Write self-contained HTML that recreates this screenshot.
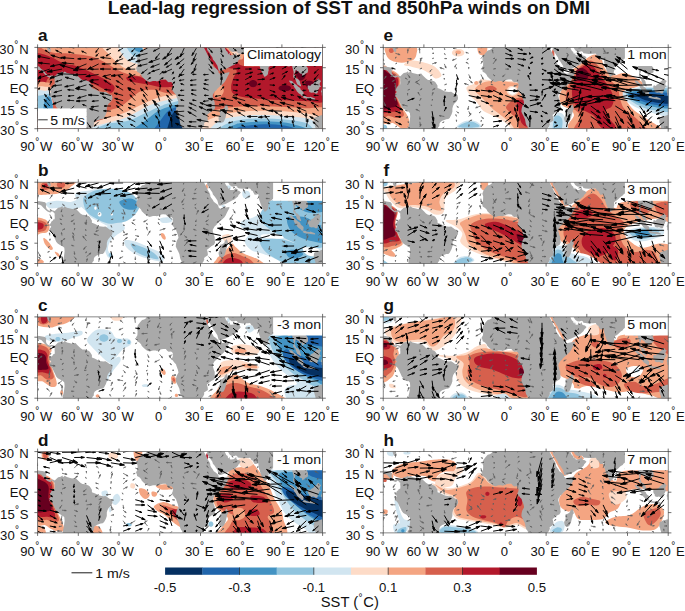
<!DOCTYPE html>
<html lang="en"><head><meta charset="utf-8"><title>Lead-lag regression of SST and 850hPa winds on DMI</title>
<style>html,body{margin:0;padding:0;background:#fff}body{width:685px;height:611px;overflow:hidden}svg{display:block}text{font-family:"Liberation Sans", Arial, Helvetica, sans-serif;fill:#111}</style>
</head><body>
<svg width="685" height="611" viewBox="0 0 685 611">
<rect width="685" height="611" fill="#fff"/>
<text x="348.8" y="14.2" text-anchor="middle" font-size="18" font-weight="bold" textLength="482.3" lengthAdjust="spacingAndGlyphs">Lead-lag regression of SST and 850hPa winds on DMI</text>
<g transform="translate(37.6,47.4)">
<svg x="0" y="0" width="285" height="81.3" viewBox="0 0 285 81.3" overflow="hidden">
<rect x="0" y="0" width="285" height="81.3" fill="#fff"/>
<path d="M-2.7,-3.5 291.7,-3.5 291.7,86.3 -2.7,86.3Z" fill="#d6604d"/>
<path d="M9.8,-2.4C-5.1,-1.2 9.5,3.4 14,4.9C18.5,6.4 30.4,5.8 37,6.5C43.6,7.2 48.8,7.8 53.7,9C58.5,10.3 62.4,12.3 66.2,14.3C70,16.2 73.2,18.6 76.6,20.5C80.1,22.4 83.6,24.5 87.1,25.7C90.6,27 94.7,27.8 97.5,27.8C100.3,27.8 102.7,30.8 103.8,25.7C104.8,20.7 119.4,2.3 103.8,-2.4C88.1,-7.1 24.8,-3.7 9.8,-2.4Z" fill="#f4a582"/>
<path d="M66.2,-2.4C60.8,-0.9 69.2,4 71.4,7C73.7,9.9 77.2,13 79.8,15.3C82.4,17.6 84.5,19.3 87.1,20.5C89.7,21.7 92.6,22.4 95.4,22.6C98.2,22.8 102.4,25.7 103.8,21.6C105.2,17.4 110,1.6 103.8,-2.4C97.5,-6.4 71.6,-4 66.2,-2.4Z" fill="#fddbc7"/>
<path d="M81.9,-2.4C78.6,-1.1 82.7,3.5 83.9,5.9C85.2,8.3 87.3,10.6 89.2,12.2C91.1,13.7 93,14.8 95.4,15.3C97.9,15.8 102.4,18.3 103.8,15.3C105.2,12.3 107.4,0.5 103.8,-2.4C100.1,-5.4 85.2,-3.8 81.9,-2.4Z" fill="#d1e5f0"/>
<path d="M89.2,-2.4C87.3,-1.2 90.9,2.9 92.3,4.9C93.7,6.8 95.6,8.3 97.5,9C99.4,9.7 102.7,11 103.8,9C104.8,7.1 106.2,-0.5 103.8,-2.4C101.3,-4.4 91.1,-3.7 89.2,-2.4Z" fill="#92c5de"/>
<path d="M95.8,-2.4C94.9,-1.5 96.6,2 97.9,3.2C99.3,4.3 102.8,5.4 103.8,4.4C104.8,3.5 105.1,-1.3 103.8,-2.4C102.5,-3.6 96.8,-3.4 95.8,-2.4Z" fill="#4393c3"/>
<path d="M-2.7,8C-0.3,3.1 7.8,8 11.9,9C16.1,10.1 19.2,12.9 22.4,14.3C25.5,15.6 28.3,16.3 30.7,17C33.1,17.6 33.5,17 37,18.2C40.5,19.4 47.2,22.1 51.6,24.1C56,26 59.6,28 63.3,29.9C66.9,31.9 71.2,34 73.5,35.8C75.8,37.5 77,38.8 77.1,40.4C77.1,42 75.5,45.2 73.7,45.4C71.9,45.6 68.8,42.9 66.2,41.6C63.6,40.3 60.3,38.5 57.9,37.4C55.4,36.4 56.1,36.6 51.6,35.3C47.1,34.1 37.3,30.8 30.7,29.9C24.1,29 15.9,28.3 11.9,29.9C7.9,31.5 9.1,37.9 6.7,39.3C4.3,40.7 -1.1,43.5 -2.7,38.3C-4.3,33 -5.1,12.9 -2.7,8Z" fill="#b2182b"/>
<path d="M89.2,29.9C90.6,29.1 96.1,28.5 99.6,28.9C103.1,29.2 105.9,31.5 110,32C114.2,32.5 120.3,31.8 124.7,32C129,32.2 134,31.9 136.1,33C138.3,34.2 139.5,37.5 137.6,38.7C135.7,39.8 128.9,40.1 124.7,39.9C120.4,39.7 116.3,38.2 112.1,37.4C108,36.7 103.1,36 99.6,35.3C96.1,34.7 93,34.6 91.3,33.7C89.5,32.8 87.8,30.7 89.2,29.9Z" fill="#b2182b"/>
<path d="M62,82.1C63.4,79.3 64.7,72.7 66.2,69.6C67.7,66.5 67.8,65.4 70.8,63.5C73.8,61.7 79.8,60.9 83.9,58.5C88.1,56.1 92.3,51.6 95.6,49.1C98.9,46.6 100.3,44.6 103.8,43.5C107.2,42.4 112.1,42.1 116.3,42.4C120.5,42.8 124,44.7 128.8,45.6C133.7,46.4 140.7,47.1 145.5,47.7C150.4,48.2 156,42.3 158.1,48.7C160.1,55.1 174.8,80 158.1,86.3C141.4,92.5 73.9,87 57.9,86.3C41.8,85.6 60.6,84.9 62,82.1Z" fill="#f4a582"/>
<path d="M54.7,82.1C55.1,80.3 51.3,77.8 56.2,75.2C61.1,72.6 75.7,69.8 83.9,66.7C92.2,63.5 99.8,59.1 105.9,56.4C112,53.7 116,51.7 120.5,50.4C125,49 126.7,48.4 133,48.3C139.3,48.2 153.9,43.4 158.1,49.7C162.2,56.1 175.5,80.2 158.1,86.3C140.7,92.4 70.9,87 53.7,86.3C36.5,85.6 54.3,83.9 54.7,82.1Z" fill="#fddbc7"/>
<path d="M54.1,86.3C37,85.2 49.9,82.2 55.3,79.6C60.8,77 77.6,74.2 87.1,70.6C96.5,67 104.3,61 111.9,57.9C119.6,54.8 125.3,53.2 133,52C140.7,50.9 153.9,45.5 158.1,51.2C162.2,56.9 175.4,80.4 158.1,86.3C140.7,92.1 71.2,87.4 54.1,86.3Z" fill="#d1e5f0"/>
<path d="M62,86.3C46.8,84.8 61.5,79.7 66.4,77.5C71.3,75.3 84.2,75.2 91.3,73.1C98.3,71.1 103.4,67.6 108.8,65.2C114.1,62.8 119,60.2 123.4,58.5C127.8,56.8 129.3,55.8 135.1,55C140.9,54.1 154.2,48.1 158.1,53.3C161.9,58.5 174.1,80.8 158.1,86.3C142.1,91.8 77.3,87.7 62,86.3Z" fill="#92c5de"/>
<path d="M93.3,86.3C82.9,85.5 93.1,84.2 95.6,81.9C98.2,79.6 104.6,75.6 108.8,72.5C112.9,69.4 116.4,65.9 120.5,63.5C124.6,61.2 130,59.5 133.4,58.5C136.8,57.5 136.6,57.9 140.7,57.7C144.8,57.4 155.2,52.3 158.1,57.1C160.9,61.8 168.8,81.4 158.1,86.3C147.3,91.1 103.7,87 93.3,86.3Z" fill="#4393c3"/>
<path d="M114.2,86.3C107.2,85.7 114.4,84.8 115.9,82.5C117.4,80.2 120.8,75.7 123.2,72.5C125.6,69.3 128.1,65.6 130.5,63.5C132.9,61.4 135.9,60.5 137.8,60C139.8,59.5 138.8,60.4 142.2,60.6C145.6,60.8 155.4,56.9 158.1,61.2C160.7,65.5 165.4,82.1 158.1,86.3C150.8,90.5 121.2,86.9 114.2,86.3Z" fill="#2166ac"/>
<path d="M127.8,86.3C124.4,85.7 128.3,85.3 129.2,82.5C130.2,79.7 132,72.7 133.4,69.6C134.8,66.4 136.1,64.2 137.8,63.5C139.5,62.8 141.6,63.4 143.4,65.4C145.3,67.5 147.6,72.4 148.7,75.8C149.7,79.3 153.2,84.5 149.7,86.3C146.2,88 131.2,86.9 127.8,86.3Z" fill="#053061"/>
<path d="M-2.7,37.2C-0.6,32.5 7.3,34.8 9.8,35.1C12.4,35.5 12.1,34.6 12.8,39.3C13.5,44 16.6,59.3 14,63.3C11.4,67.3 0.1,67.7 -2.7,63.3C-5.5,59 -4.8,41.9 -2.7,37.2Z" fill="#f4a582"/>
<path d="M-2.7,41.4C-0.8,37.4 6.2,39.1 8.8,39.3C11.4,39.5 11.9,38.4 12.8,42.4C13.6,46.4 16.6,59.8 14,63.3C11.4,66.8 0.1,67 -2.7,63.3C-5.5,59.7 -4.6,45.4 -2.7,41.4Z" fill="#fddbc7"/>
<path d="M-2.7,44.9C-0.9,41.6 5.2,43.5 7.8,43.5C10.3,43.5 11.7,41.6 12.8,44.9C13.8,48.2 16.6,60.3 14,63.3C11.4,66.4 0.1,66.4 -2.7,63.3C-5.5,60.3 -4.4,48.2 -2.7,44.9Z" fill="#d1e5f0"/>
<path d="M-2.7,50.8C-1.3,48.2 3.1,48.2 5.7,47.7C8.2,47.1 11.3,45 12.8,47.7C14.2,50.3 17,60.7 14.4,63.3C11.9,65.9 0.2,65.4 -2.7,63.3C-5.5,61.2 -4.1,53.4 -2.7,50.8Z" fill="#92c5de"/>
<path d="M6.3,63.3C5.1,61.4 6.7,54.1 7.8,51.8C8.8,49.6 11.5,47.8 12.8,49.7C14,51.7 16.1,61.1 15.1,63.3C14,65.6 7.5,65.2 6.3,63.3Z" fill="#4393c3"/>
<path d="M165.4,-2.4C171.1,-3.7 198.4,-5.9 205,-2.4C211.6,1 191.1,15 205,18.4C218.9,21.9 274.6,12.8 288.5,18.4C302.4,24.1 292,46.6 288.5,52.5C285.1,58.3 274.6,53.6 267.7,53.7C260.7,53.8 253.7,53.2 246.8,52.9C239.8,52.5 232.9,52.2 225.9,51.6C218.9,51.1 210.1,50.4 205,49.5C200,48.6 197.5,47.9 195.6,46.2C193.7,44.5 193.5,41.8 193.5,39.3C193.5,36.8 194.7,33.6 195.6,31C196.6,28.3 199.4,25.3 199.2,23.7C199,22 197.1,21.8 194.6,21.1C192.1,20.5 186.9,21.1 184.2,19.5C181.4,17.8 180.2,13.6 177.9,11.1C175.6,8.7 172.7,7.1 170.6,4.9C168.5,2.6 159.6,-1.2 165.4,-2.4Z" fill="#b2182b"/>
<path d="M163.3,-2.4 173.7,-2.4 187.3,21.6 180,23.7Z" fill="#b2182b"/>
<path d="M187.3,-2.4C189.5,-3.5 202.1,-4.8 205,-2.4C208,-0.1 206.6,9.6 205,11.5C203.5,13.5 197.9,10.7 195.6,9.5C193.4,8.2 192.9,5.8 191.5,3.8C190.1,1.8 185,-1.4 187.3,-2.4Z" fill="#f4a582"/>
<path d="M191.5,-2.4C192.9,-3.8 202.1,-4 204,-2.4C205.9,-0.9 204.3,5.6 202.9,7C201.5,8.3 197.5,7.5 195.6,5.9C193.7,4.3 190.1,-1.1 191.5,-2.4Z" fill="#fddbc7"/>
<path d="M178.3,39.3C179.4,37.4 181.8,36.5 183.1,37.2C184.4,37.9 186.4,41.4 186.2,43.5C186.1,45.6 183.6,48.9 182.1,49.7C180.5,50.6 177.5,50.4 176.8,48.7C176.2,47 177.3,41.2 178.3,39.3Z" fill="#f4a582"/>
<path d="M219.6,36.2C219.6,36.9 219.3,37.7 218.8,38.3C218.4,38.8 217.5,39.3 216.8,39.6C216,39.8 215,39.8 214.2,39.6C213.4,39.3 212.6,38.8 212.1,38.3C211.6,37.7 211.3,36.9 211.3,36.2C211.3,35.5 211.6,34.7 212.1,34.1C212.6,33.5 213.4,33 214.2,32.8C215,32.6 216,32.6 216.8,32.8C217.5,33 218.4,33.5 218.8,34.1C219.3,34.7 219.6,35.5 219.6,36.2Z" fill="#67001f"/>
<path d="M253.5,40.8C253.5,41.4 253,42.1 252.3,42.6C251.5,43.1 250.3,43.6 249.1,43.7C248,43.9 246.4,43.9 245.3,43.7C244.1,43.6 242.9,43.1 242.1,42.6C241.4,42.1 240.9,41.4 240.9,40.8C240.9,40.2 241.4,39.4 242.1,38.9C242.9,38.4 244.1,38 245.3,37.8C246.4,37.6 248,37.6 249.1,37.8C250.3,38 251.5,38.4 252.3,38.9C253,39.4 253.5,40.2 253.5,40.8Z" fill="#67001f"/>
<path d="M258.3,21.6C259.4,20.3 264,19.1 265.6,20.5C267.1,21.9 268.2,27.8 267.7,29.9C267.1,32 263.9,33.4 262.4,33C261,32.7 259.6,29.7 258.9,27.8C258.2,25.9 257.1,22.8 258.3,21.6Z" fill="#67001f"/>
<path d="M267.7,34.1C268.5,32.9 274.3,33.5 276,34.5C277.7,35.6 279,39.2 278.1,40.4C277.2,41.5 272.5,42.4 270.8,41.4C269,40.4 266.8,35.2 267.7,34.1Z" fill="#67001f"/>
<path d="M163.3,68.5C164.3,65.1 166.1,67 169.5,65.8C173,64.6 178.2,62.3 184.2,61.2C190.1,60.1 198.1,59.5 205,59.1C212,58.8 218.9,58.9 225.9,58.9C232.9,59 239.8,59.2 246.8,59.6C253.7,59.9 260.7,60.4 267.7,60.8C274.6,61.2 285.1,57.6 288.5,61.9C292,66.1 309.4,82.2 288.5,86.3C267.7,90.3 184.2,89.2 163.3,86.3C142.4,83.3 162.2,71.9 163.3,68.5Z" fill="#f4a582"/>
<path d="M163.3,76.3C164,74.2 164,75.2 167.5,73.8C170.9,72.3 177.9,69.1 184.2,67.5C190.4,65.9 198.1,64.8 205,64.2C212,63.5 218.9,63.4 225.9,63.3C232.9,63.3 239.8,63.5 246.8,63.9C253.7,64.4 262.1,65.1 267.7,65.8C273.2,66.6 276.7,67.7 280.2,68.5C283.7,69.3 287.1,67.7 288.5,70.6C289.9,73.6 309.4,83.7 288.5,86.3C267.7,88.9 184.2,87.9 163.3,86.3C142.4,84.6 162.6,78.3 163.3,76.3Z" fill="#fddbc7"/>
<path d="M169.5,86.3C150.9,85.6 169.2,84.5 171.6,82.1C174.1,79.7 178.6,74.3 184.2,72.1C189.7,69.8 198.1,69.3 205,68.5C212,67.8 218.9,67.5 225.9,67.5C232.9,67.5 239.8,68 246.8,68.5C253.7,69.1 262.4,69.6 267.7,70.6C272.9,71.7 275.6,72.9 278.1,74.8C280.6,76.7 281.8,80.2 282.7,82.1C283.6,84 302.4,85.6 283.5,86.3C264.7,87 188.2,87 169.5,86.3Z" fill="#d1e5f0"/>
<path d="M178.3,86.3C162.1,85.6 178,83.8 180,82.1C182,80.4 186.2,77.5 190.4,75.8C194.6,74.2 199.1,72.9 205,72.1C210.9,71.3 218.9,71 225.9,71C232.9,71 239.8,71.4 246.8,72.1C253.7,72.8 262.8,73.8 267.7,75.4C272.5,77.1 274.4,80.3 276,82.1C277.6,83.9 293.5,85.6 277.3,86.3C261,87 194.5,87 178.3,86.3Z" fill="#92c5de"/>
<path d="M185.8,86.3C171.9,85.6 185.5,83.6 187.3,82.1C189.1,80.6 193.7,78.6 196.7,77.5C199.6,76.4 200.2,76 205,75.4C209.9,74.8 218.9,74 225.9,74C232.9,73.9 240.5,74.2 246.8,75C253,75.8 259.7,77.8 263.5,79C267.3,80.2 268.5,80.9 269.7,82.1C271,83.3 285,85.6 271,86.3C257,87 199.8,87 185.8,86.3Z" fill="#4393c3"/>
<path d="M195,86.3C184.4,85.6 195,83.4 196.7,82.1C198.3,80.9 200.2,79.6 205,78.8C209.9,77.9 218.9,77 225.9,76.9C232.9,76.8 241.2,77.3 246.8,78.1C252.3,79 257,80.7 259.3,82.1C261.6,83.5 271.3,85.6 260.6,86.3C249.8,87 205.7,87 195,86.3Z" fill="#2166ac"/>
<path d="M17.2,28.9 19.7,26.3 20.6,25.6 23.1,25.1 24.8,23.8 25.4,25.7 27.1,24.1 29.3,25.5 32.6,26.3 34.6,26.8 38,26.2 39.4,27.8 40.7,29.1 42.8,31.2 44.8,32.5 47.5,32.7 50.9,33.9 52.2,34.8 54.3,38.2 54.3,40.6 57,41.6 61.8,44 65.8,44.6 67.9,44.4 69.9,45.7 71.9,47.2 74.2,47.7 74.9,50.3 74.6,52.2 72.6,54.9 71.2,56.2 69.9,58.3 69.2,61 69.2,64.4 68.3,67.1 67.2,69.1 66.5,70.5 65.1,71.7 63.1,71.8 61.1,72.6 59,73.4 57,74.9 56.2,76.6 56.2,78.6 55,79.9 54,82 25.1,82 25.4,78.6 26.1,75.9 26.6,72.5 27,69.1 26.7,65.6 25.2,64.2 22.4,62.7 20.1,61.4 18.6,59.5 17.4,56.9 16,54.2 14.9,51.6 13.7,50 11.9,48.8 11.8,46.7 13.2,45.3 13.6,44 12.3,43.6 12.3,42 13.4,40.6 13.6,39.6 15.1,38.6 15.6,37.3 17,37.1 17.2,35.2 17,33.2 17.1,31.2 16.4,30.8 15.7,29.8 14.2,29 12.9,30.4 11.5,30.1 9.5,29.1 7.5,27.4 6,25.7 3.7,23.2 2,22.6 -1.4,22.2 -1.4,18.7 2,19.1 4.8,19.5 7.5,20.1 8.7,21.7 8.4,24.4 8.7,26 10,27.6 11.5,28.5 13.6,28.2 14.9,28 16.3,28.5Z M9.2,-0.7 9.8,2 11.1,4.3 12.8,4.6 13.2,2 12.2,-0.7Z M109,-0.7 108.6,1.4 106.5,2.7 104.5,3.1 102.5,5.4 100.4,8.1 99.1,11.5 100,14.2 99.8,18.3 98.4,20.7 99.3,23 99.5,24.4 101.8,25.7 103.4,27.4 104.2,29.1 106.5,31.3 109.2,33.5 112,34.7 115.4,33.7 118.1,33.7 119.4,34.1 122.1,33.1 123.8,32.4 125.5,32.1 128.2,32.2 129.6,33.9 131,34.8 133,34.6 134.4,35.2 135.3,36.6 135.2,39.3 134.8,40.6 134.1,41.6 135,43.4 137.1,46.1 138.4,47.4 138.8,48.9 139.8,51.5 140.3,52.8 140.9,55.6 139.1,58.9 138.4,61.7 138.2,64.4 139.1,66.4 140.5,69.1 141.8,71.8 142.5,75.9 143.2,77.9 144.5,79.5 145.2,82 164.2,82 164.2,81.2 165.6,79.7 166.7,77.2 166.4,75.7 168.3,74.4 170.3,73 170.1,70.5 169.6,68.4 169.4,67.5 171.7,65.7 173.7,64 176.4,62.6 177.5,60.3 177.1,57.6 177.1,54.9 176.2,52.8 175.5,50.1 175.1,48.8 175.3,47 176,46.1 177.1,44 178.5,43.1 179.8,41.3 181.9,39.3 183.9,37.8 186.6,35.2 188,33.2 189.3,30.5 190.7,27.8 191.6,26.4 191.8,24.7 190,25.1 187.3,25.5 184.6,26.2 182.5,26.6 180.9,25.1 180.8,23.7 179.8,22.4 177.8,20.7 176.2,19.6 175.1,17.6 173.7,15.9 172.8,14.2 172.6,12.2 171.7,10.2 170.3,8.1 169,5.4 168,3.4 166.4,0.3 166.2,-0.7Z M169.6,-0.7 169.5,0.7 169.6,2.7 171.7,5.4 173,7.7 174.8,10.2 175.3,12.2 177.1,14.2 178.5,16.3 179.8,18.3 180.5,21 181.2,23.4 183.2,23.3 185.9,22.4 188,21.7 190.7,20.3 193,19 194.8,18 196.8,17.3 198.8,15.6 200.4,14.2 200.9,12.9 202.2,11.5 203.3,10.2 201.7,8.7 199.5,8.1 198.7,6.8 198.6,5 198.1,5.8 196.1,7.7 193.4,7.9 192.2,7.7 192.2,6.1 191.6,5.3 191.1,6.8 190.3,5.8 190.1,4.5 188.6,3.4 188,2 187.3,0.7 188,-0.7Z M190,-0.7 191.1,1.4 192,2.8 194.1,4.3 196.1,4.6 198.1,3.9 199.5,4.3 200.2,5.8 202.2,6.2 205.6,6.5 208.3,6.4 210.4,6.4 212.4,6.2 213.1,7 213.8,8.4 215.1,8.9 215.8,10.3 217.1,12.5 219.9,12.2 220.5,11.2 220.9,12.9 220.9,14.9 221.6,17.6 222.3,19.6 223.2,22.4 224.3,24.8 225.6,27.1 226.4,28.9 227.3,29.7 228.3,28.7 229.4,28 230.4,26.7 230.6,24.4 231.1,22.9 230.8,20.3 231.8,19.2 233.8,18 235.5,16.5 237.5,14.5 239.5,13.3 240.2,12.2 241.6,11.2 242.9,11 245,10.4 246.3,10.2 247,12.2 248.1,13.6 249.4,14.9 250.1,16.3 250.3,18.3 250.1,19.1 251.8,19.2 253.5,18.2 254.5,18.3 254.9,20.3 255.4,22.4 256,24.4 256,26.4 255.6,28.5 255.6,29.8 256.5,30.5 257.9,31.8 258.4,33.9 258.9,35.2 259.6,36.9 261.2,37.9 262.6,38.8 263.6,38.8 263.3,37.3 262.5,35.9 262.5,34.6 261.7,33.1 260.8,32.2 259.9,31.3 258.5,30.8 257.9,29.1 257.2,28 256.9,26.4 257.6,24.7 257.9,23 258.5,22.4 259.2,23.4 261,24.1 261.9,25.7 263.3,26.4 264.4,26.6 264.6,28.9 266.7,27.5 267.6,26.4 270.1,25.1 270.5,23 270.1,20.3 269.1,19 267.4,17.6 266,15.6 265.7,14.2 266.9,12.9 268.7,11.5 270.8,11.5 271.4,13 272.1,11.9 274.1,11.1 276.9,10.3 279.6,9.6 281.6,8.4 283,7.2 284.3,5.8 285.7,4.7 285.7,-0.7Z M251.5,33.1 254.5,33.6 255.6,35 257.6,36.6 258.9,37.7 260.6,39.3 262.6,40.6 263,42 264,43.1 265.3,44 266,45 265.9,46.7 265.7,48.5 264.1,48.5 263.3,47.3 261,45.9 259.2,43.9 258.3,42 256.8,40.2 256.1,38.3 254.7,37.3 253.1,35.8 251.8,34.3Z M264.9,49.9 266,48.6 267.4,48.6 269.4,49.6 272.1,49.9 272.8,49.3 274.8,50 277.5,51.1 277.5,52.4 274.8,52 271.4,51.5 268.7,51.2 266.7,50.7Z M270.1,38.6 270.8,37.9 272.8,38.5 273.3,37.3 275.5,36.3 276.9,34.6 278.9,33.2 280.2,31.4 281.3,31.4 281.9,32.5 283.6,33.6 282.6,34.8 282,36.6 282.3,37.9 283.6,39.3 282,39.6 281.6,41.3 280.2,42.7 280.2,44.7 279.6,46.1 277.7,46.1 276.9,45.3 275.5,45 273.9,45.4 271.7,44.6 271.4,42.7 270.3,41.3 270.1,40Z M284.1,48.1 285.7,48.1 285.7,39.3 284.7,40 284.3,42 283.4,44.4 284.1,45.4Z M285.7,67.6 283.6,67.8 281.6,68.7 279.6,69 278.2,69.8 277,70.2 276.4,71.3 276.2,73.2 276,74.5 276.9,76.6 277.1,77.9 277.7,79.7 278.2,82 285.7,82Z M189.1,56.9 190,58.9 190.7,61.7 189.6,63 189.3,65 188.6,67.1 188,69.8 187,72.5 185.9,74.5 183.9,75.3 181.9,74.5 181.2,72.5 180.9,70.5 181.9,68.4 182.5,66.4 181.9,64.4 182.5,62.6 184.6,62.1 186.6,60.7 187.3,58.9 188.4,57.6Z" fill="#a9a9a9"/>
<path d="M2,18C3.1,17.6 8.1,17.1 9.5,18.6C10.9,20.2 10.8,26 10.6,27.3C10.4,28.6 9,26.9 8.3,26.2C7.6,25.5 7.2,24.3 6.3,23.4C5.4,22.5 3.6,21.7 2.9,20.8C2.2,19.9 0.9,18.4 2,18Z" fill="#b2182b"/>
<path d="M0,0.7l-3.6,-3.2m0.4,-0.5l-2.2,-1.1l1.3,2zM0,5.9l-3.8,-0.7m0.1,-0.6l-2,0.2l1.7,1zM0,11.2l-7,-0.4m0.1,-0.9l-3.5,0.7l3.4,1.1zM0,16.5l-6.5,0m0,-0.8l-3.2,0.8l3.2,0.8zM0,21.7l-7,-0.2m0,-0.9l-3.5,0.8l3.4,1zM0,27l-9,-0.2m0,-1.2l-4.5,1l4.4,1.3zM0,32.3l2.3,-2.6m0.4,0.4l0.7,-1.7l-1.6,0.9zM0,37.5l1.5,-3.2m0.5,0.3l0.2,-1.8l-1.3,1.3zM0,42.8l1.2,-1.2m0.4,0.4l0.7,-1.6l-1.6,0.7zM0,48.1l-3.6,-5.3m0.7,-0.5l-2.4,-2.1l1.1,3.1zM0,53.3l-2.2,-5.2m0.7,-0.3l-1.8,-2.3l0.4,2.9zM0,58.6l-2.2,-6.1m0.8,-0.3l-1.9,-2.7l0.3,3.3zM0,63.8l-2.9,-4.6m0.6,-0.4l-2,-1.9l0.8,2.6zM0,69.1l-0.5,-6.5m0.8,-0.1l-1.1,-3.2l-0.6,3.3zM0,74.4l-0.7,-4.2m0.6,-0.1l-0.9,-2l-0.2,2.2zM0,79.6l-4,-5.1m0.6,-0.5l-2.6,-2l1.3,3zM12.2,0.7l-3.5,-1.4m0.2,-0.6l-1.9,-0.1l1.5,1.2zM12.2,5.9l-3.2,-2.1m0.3,-0.5l-1.9,-0.6l1.3,1.6zM12.2,11.2l-9.7,-1.9m0.2,-1.2l-5,0.3l4.5,2.2zM12.2,16.5l-7.7,-0.7m0.1,-1l-3.9,0.6l3.7,1.3zM12.2,21.7l-7.3,2.4m-0.3,-0.9l-3.3,2.1l3.9,-0.2zM12.2,27l-9.4,3.1m-0.4,-1.2l-4.2,2.7l5,-0.3zM12.2,32.3l1.2,-1.7m0.5,0.3l0.4,-1.6l-1.4,1zM12.2,37.5l1,-2.5m0.6,0.2l0.1,-1.7l-1.2,1.2zM12.2,42.8l2.4,-2.9m0.5,0.4l0.7,-1.8l-1.7,1zM12.2,48.1l-0.5,-5.6m0.7,-0.1l-1,-2.7l-0.5,2.8zM12.2,53.3l-3.5,-4.3m0.5,-0.5l-2.3,-1.7l1.2,2.6zM12.2,58.6l-3.9,-4.6m0.6,-0.5l-2.5,-1.8l1.3,2.8zM12.2,63.8l-3.9,-4.4m0.6,-0.5l-2.5,-1.7l1.4,2.7zM12.2,69.1l-1.9,-4.2m0.5,-0.2l-1.5,-1.8l0.4,2.3zM12.2,74.4l-2,-4.6m0.6,-0.3l-1.6,-2l0.4,2.5zM12.2,79.6l-0.7,-4.4m0.6,-0.1l-1,-2.1l-0.2,2.3zM24.4,0.7l-4.2,-0.9m0.1,-0.6l-2.2,0.1l1.9,1zM24.4,5.9l-4.3,-2m0.3,-0.6l-2.4,-0.5l1.9,1.6zM24.4,11.2l-7.6,-2.4m0.3,-1l-4,-0.2l3.4,2.2zM24.4,16.5l-7.9,1.7m-0.2,-1l-3.7,1.8l4.1,0.2zM24.4,21.7l-10.1,1.9m-0.2,-1.3l-4.7,2.2l5.2,0.4zM24.4,27l-8.1,2.5m-0.3,-1l-3.7,2.3l4.3,-0.2zM24.4,32.3l-4.3,1.4m-0.2,-0.6l-1.9,1.3l2.3,-0.1zM24.4,37.5l-6.2,0.6m-0.1,-0.8l-3,1.1l3.1,0.5zM24.4,42.8l-5.5,1.6m-0.2,-0.7l-2.5,1.5l2.9,-0.1zM24.4,48.1l-6.8,0.7m-0.1,-0.9l-3.3,1.2l3.5,0.6zM24.4,53.3l-6.3,2.4m-0.3,-0.8l-2.8,2l3.4,-0.4zM24.4,58.6l-1,2.9m-0.6,-0.2l0,1.7l1.1,-1.3zM24.4,63.8l-1.6,2.8m-0.5,-0.3l-0.3,1.7l1.3,-1.1zM24.4,69.1l-2.5,2.6m-0.4,-0.4l-0.8,1.7l1.7,-0.9zM24.4,74.4l-1.7,4.4m-0.6,-0.2l-0.3,2.4l1.4,-1.9zM24.4,79.6l-3.6,-0.5m0.1,-0.6l-1.9,0.3l1.7,0.8zM36.6,0.7l-4.1,-1.1m0.2,-0.6l-2.2,0l1.9,1.1zM36.6,5.9l-4,-0.9m0.1,-0.6l-2.1,0.1l1.8,1zM36.6,11.2l-9.1,-0.7m0.1,-1.2l-4.6,0.8l4.4,1.5zM36.6,16.5l-8.3,-0.8m0.1,-1.1l-4.2,0.7l4,1.5zM36.6,21.7l-9.8,-3m0.4,-1.2l-5.2,-0.2l4.4,2.7zM36.6,27l-11.6,-0.5m0.1,-1.3l-5.1,1.1l4.9,1.5zM36.6,32.3l-6.1,-1.7m0.2,-0.8l-3.2,0l2.8,1.6zM36.6,37.5l-6.4,1.3m-0.2,-0.8l-3,1.4l3.3,0.2zM36.6,42.8l-4.4,-0.3m0,-0.6l-2.2,0.4l2.1,0.8zM36.6,48.1l-4.1,0.4m-0.1,-0.6l-2,0.8l2.1,0.4zM36.6,53.3l-4.7,-0.3m0,-0.6l-2.3,0.5l2.3,0.7zM36.6,58.6l-2.6,2.5m-0.4,-0.4l-0.9,1.7l1.7,-0.8zM36.6,63.8l-2.5,3.3m-0.5,-0.4l-0.7,2l1.7,-1.2zM36.6,69.1l-1.6,2.2m-0.5,-0.4l-0.5,1.6l1.4,-0.9zM36.6,74.4l2.2,4.1m-0.5,0.3l1.6,1.8l-0.5,-2.3zM36.6,79.6l1.6,3.8m-0.6,0.2l1.3,1.7l-0.2,-2.1zM48.9,0.7l-3.1,-3.4m0.4,-0.4l-1.9,-1.2l1.1,2.1zM48.9,5.9l-3.3,-1.5m0.3,-0.5l-1.9,-0.2l1.4,1.3zM48.9,11.2l-6,0.2m0,-0.8l-2.9,0.9l3,0.7zM48.9,16.5l-8,3.3m-0.4,-1l-3.5,2.7l4.4,-0.6zM48.9,21.7l-9,0.8m-0.1,-1.2l-4.3,1.5l4.5,0.8zM48.9,27l-9,0.4m-0.1,-1.1l-4.4,1.4l4.5,0.9zM48.9,32.3l-4.7,1.5m-0.2,-0.6l-2.1,1.3l2.5,-0.1zM48.9,37.5l-7,2.3m-0.3,-0.9l-3.2,2l3.8,-0.2zM48.9,42.8l-7.5,-1.1m0.1,-1l-3.8,0.4l3.5,1.5zM48.9,48.1l-6.2,1.9m-0.2,-0.8l-2.8,1.7l3.3,-0.2zM48.9,53.3l-7,0.3m0,-0.9l-3.4,1l3.5,0.8zM48.9,58.6l-2.5,-0.9m0.2,-0.6l-1.7,0l1.3,1.1zM48.9,63.8l-3.2,-0.6m0.1,-0.6l-1.7,0.3l1.5,0.9zM48.9,69.1l-3.1,0.9m-0.2,-0.6l-1.4,1l1.7,0.1zM48.9,74.4l2.9,4m-0.5,0.4l1.9,1.6l-0.9,-2.4zM48.9,79.6l1.1,3.3m-0.6,0.2l1.1,1.4l0,-1.8zM61.1,0.7l-2,2.9m-0.5,-0.3l-0.5,1.8l1.5,-1.1zM61.1,5.9l-1.8,1.8m-0.4,-0.4l-0.7,1.6l1.6,-0.7zM61.1,11.2l-6.5,0.6m-0.1,-0.8l-3.1,1.1l3.3,0.6zM61.1,16.5l-7.5,3.8m-0.5,-1l-3.2,2.8l4.2,-0.9zM61.1,21.7l-5.5,0.2m0,-0.7l-2.7,0.8l2.7,0.6zM61.1,27l-8.6,1.4m-0.2,-1.1l-4.1,1.8l4.4,0.4zM61.1,32.3l-5.6,0.3m0,-0.7l-2.7,0.9l2.8,0.6zM61.1,37.5l-6.1,-2.6m0.3,-0.8l-3.4,-0.5l2.7,2.1zM61.1,42.8l-6.4,-3.9m0.5,-0.8l-3.6,-1.1l2.6,2.7zM61.1,48.1l-7.1,-0.4m0,-0.9l-3.5,0.7l3.5,1.1zM61.1,53.3l-4.5,0.4m-0.1,-0.6l-2.2,0.8l2.3,0.4zM61.1,58.6l-5.3,0.7m-0.1,-0.7l-2.5,1l2.7,0.4zM61.1,63.8l-6.1,-1.7m0.2,-0.8l-3.2,0l2.8,1.6zM61.1,69.1l-3,3.4m-0.4,-0.4l-1,2.1l1.9,-1.3zM61.1,74.4l-3,3m-0.4,-0.4l-1,1.9l1.9,-1.1zM61.1,79.6l-2.1,2m-0.4,-0.4l-0.8,1.5l1.6,-0.7zM73.3,0.7l-3,1.3m-0.2,-0.6l-1.2,1.2l1.7,-0.1zM73.3,5.9l-3.3,1.8m-0.3,-0.5l-1.3,1.4l1.9,-0.4zM73.3,11.2l-7,-0.9m0.1,-0.9l-3.5,0.5l3.3,1.3zM73.3,16.5l-6.1,0.1m0,-0.8l-3,0.8l3,0.7zM73.3,21.7l-7.3,-0.1m0,-0.9l-3.6,0.9l3.6,1zM73.3,27l-5.5,1.4m-0.2,-0.7l-2.5,1.4l2.9,0zM73.3,32.3l-4.2,-1.7m0.2,-0.6l-2.3,-0.3l1.8,1.4zM73.3,37.5l-4.7,-3.2m0.4,-0.6l-2.7,-1l1.9,2.2zM73.3,42.8l-4.3,-0.5m0.1,-0.6l-2.2,0.4l2.1,0.8zM73.3,48.1l-7.4,-1.7m0.2,-0.9l-3.8,0.1l3.4,1.8zM73.3,53.3l-5.5,-2.7m0.3,-0.7l-3.1,-0.6l2.4,2zM73.3,58.6l-4.6,0m0,-0.6l-2.3,0.6l2.3,0.6zM73.3,63.8l-5,-0.3m0,-0.6l-2.5,0.5l2.4,0.8zM73.3,69.1l-4.6,1.2m-0.2,-0.6l-2.1,1.2l2.4,0zM73.3,74.4l-2.7,2.5m-0.4,-0.4l-0.9,1.7l1.7,-0.8zM73.3,79.6l-4.1,1.4m-0.2,-0.6l-1.8,1.3l2.2,-0.1zM85.5,0.7l-3.4,2m-0.3,-0.5l-1.4,1.5l2,-0.5zM85.5,5.9l-2.4,3.1m-0.5,-0.4l-0.7,1.9l1.7,-1.1zM85.5,11.2l-5.2,2m-0.3,-0.7l-2.3,1.7l2.8,-0.3zM85.5,16.5l-6.8,-0.3m0,-0.9l-3.4,0.7l3.3,1zM85.5,21.7l-6.9,0m0,-0.9l-3.4,0.9l3.4,0.9zM85.5,27l-8.1,1m-0.1,-1l-3.9,1.5l4.1,0.6zM85.5,32.3l-3.2,-3m0.4,-0.4l-2,-1l1.1,1.9zM85.5,37.5l-4.6,-2.9m0.4,-0.6l-2.7,-0.9l1.9,2zM85.5,42.8l-4.9,-3m0.4,-0.6l-2.8,-0.8l2,2.1zM85.5,48.1l-6,-1.6m0.2,-0.8l-3.2,0l2.7,1.6zM85.5,53.3l-5.7,-1.6m0.2,-0.7l-3,-0.1l2.6,1.5zM85.5,58.6l-4.6,-3m0.4,-0.6l-2.7,-0.9l1.9,2.1zM85.5,63.8l-4.5,-3.8m0.5,-0.6l-2.7,-1.3l1.7,2.5zM85.5,69.1l-4.2,-1.2m0.2,-0.6l-2.2,0l1.9,1.2zM85.5,74.4l-4.2,-0.6m0.1,-0.6l-2.2,0.3l2,0.9zM85.5,79.6l-3.4,-2.9m0.4,-0.5l-2.1,-1l1.3,1.9zM97.7,0.7l-2.5,2.4m-0.4,-0.4l-0.8,1.6l1.6,-0.8zM97.7,5.9l-2.9,4.2m-0.5,-0.4l-0.9,2.4l2,-1.7zM97.7,11.2l-5,1.3m-0.2,-0.6l-2.3,1.3l2.6,0zM97.7,16.5l-6.3,3.8m-0.5,-0.8l-2.6,2.7l3.6,-1.1zM97.7,21.7l-5.2,0.1m0,-0.7l-2.5,0.7l2.6,0.6zM97.7,27l-4.9,2m-0.3,-0.6l-2.2,1.6l2.7,-0.3zM97.7,32.3l-4.2,-4.4m0.6,-0.5l-2.6,-1.7l1.5,2.7zM97.7,37.5l-3.8,-3.9m0.5,-0.5l-2.4,-1.4l1.4,2.4zM97.7,42.8l-4.8,-1.6m0.2,-0.6l-2.6,-0.2l2.1,1.4zM97.7,48.1l-5.1,-5.1m0.7,-0.7l-3.2,-1.9l1.9,3.2zM97.7,53.3l-3.7,-4m0.5,-0.5l-2.3,-1.5l1.3,2.4zM97.7,58.6l-4.6,-1.6m0.2,-0.6l-2.5,-0.2l2,1.4zM97.7,63.8l-4.8,-2.6m0.3,-0.6l-2.7,-0.7l2,1.9zM97.7,69.1l-5.5,-2m0.3,-0.7l-3,-0.3l2.5,1.7zM97.7,74.4l-5.2,-2.6m0.3,-0.7l-2.9,-0.6l2.2,2zM97.7,79.6l-3.3,-1.9m0.3,-0.5l-1.9,-0.4l1.3,1.5zM109.9,0.7l-4.9,2.3m-0.3,-0.6l-2.1,1.7l2.7,-0.5zM109.9,5.9l-7.8,1.9m-0.2,-1l-3.6,1.9l4.1,0.1zM109.9,11.2l-7.9,2.1m-0.3,-1l-3.6,2.1l4.2,0zM109.9,16.5l-6.4,1.5m-0.2,-0.8l-3,1.5l3.4,0.1zM109.9,21.7l-4.1,3m-0.4,-0.5l-1.6,2l2.4,-0.9zM109.9,27l1.7,-1m0.3,0.5l1.1,-1.3l-1.7,0.3zM109.9,32.3l1.8,-1.2m0.3,0.5l1,-1.4l-1.7,0.4zM109.9,37.5l-0.9,-2.2m0.6,-0.2l-1.2,-1.3l0,1.7zM109.9,42.8l-0.9,-2.1m0.6,-0.2l-1.2,-1.2l0.1,1.7zM109.9,48.1l-4.8,-5m0.6,-0.6l-3,-1.8l1.7,3.1zM109.9,53.3l-2.9,-4.4m0.6,-0.4l-2,-1.8l0.9,2.5zM109.9,58.6l-3.7,-4.3m0.5,-0.5l-2.4,-1.6l1.3,2.6zM109.9,63.8l-2.4,-4.8m0.6,-0.3l-1.8,-2.1l0.6,2.7zM109.9,69.1l-2.2,-4.9m0.6,-0.3l-1.7,-2.2l0.4,2.7zM109.9,74.4l-2.3,-3.3m0.5,-0.3l-1.6,-1.3l0.6,2zM109.9,79.6l-3.9,-3.2m0.4,-0.5l-2.3,-1.1l1.5,2.1zM122.1,0.7l-4.3,2.1m-0.3,-0.5l-1.8,1.6l2.4,-0.5zM122.1,5.9l-2.9,3.8m-0.5,-0.4l-1,2.3l1.9,-1.5zM122.1,11.2l-7.4,2.6m-0.3,-0.9l-3.3,2.2l4,-0.3zM122.1,16.5l-6.1,2.3m-0.3,-0.8l-2.7,1.9l3.3,-0.3zM122.1,21.7l-5.5,1.7m-0.2,-0.7l-2.5,1.5l2.9,-0.1zM122.1,27l2.5,-2.1m0.4,0.5l0.8,-1.5l-1.6,0.6zM122.1,32.3l2.1,-1.1m0.3,0.5l1.2,-1.3l-1.7,0.2zM122.1,37.5l-0.1,-2.4m0.6,0l-0.7,-1.6l-0.5,1.6zM122.1,42.8l0.5,-3.7m0.6,0.1l-0.3,-1.9l-0.8,1.7zM122.1,48.1l-2.5,-4m0.5,-0.3l-1.7,-1.7l0.7,2.3zM122.1,53.3l-1.9,-6.1m0.8,-0.2l-1.7,-2.8l0.1,3.3zM122.1,58.6l-4.8,-3.9m0.5,-0.6l-2.9,-1.3l1.9,2.6zM122.1,63.8l-3.8,-6.3m0.8,-0.5l-2.7,-2.6l1,3.6zM122.1,69.1l-1.1,-4.1m0.6,-0.2l-1.1,-1.9l0,2.2zM122.1,74.4l-2.7,-4.2m0.5,-0.3l-1.9,-1.7l0.8,2.4zM122.1,79.6l-0.7,-3.8m0.6,-0.1l-1,-1.8l-0.2,2zM134.4,0.7l-3.4,5.5m-0.7,-0.4l-1,3.1l2.4,-2.3zM134.4,5.9l-6.4,4m-0.5,-0.8l-2.6,2.8l3.7,-1.2zM134.4,11.2l-5.1,4.4m-0.6,-0.6l-1.9,2.8l3.1,-1.5zM134.4,16.5l-3.9,2.3m-0.3,-0.5l-1.6,1.7l2.2,-0.6zM134.4,21.7l-6.1,2.6m-0.3,-0.8l-2.7,2.1l3.3,-0.5zM134.4,27l0.8,-1.2m0.5,0.3l0.4,-1.7l-1.4,1zM134.4,32.3l1.4,-1.2m0.4,0.5l0.9,-1.5l-1.6,0.5zM134.4,37.5l1.6,-1.9m0.5,0.4l0.6,-1.6l-1.5,0.8zM134.4,42.8l0.9,-2.7m0.6,0.2l0,-1.7l-1.1,1.3zM134.4,48.1l-3.5,-3.8m0.5,-0.5l-2.2,-1.4l1.3,2.3zM134.4,53.3l-3.7,-3.8m0.5,-0.5l-2.3,-1.4l1.3,2.3zM134.4,58.6l-2.2,-4.4m0.6,-0.3l-1.7,-1.9l0.5,2.5zM134.4,63.8l-1.6,-4.3m0.6,-0.2l-1.4,-1.9l0.2,2.3zM134.4,69.1l-2,-3.3m0.5,-0.3l-1.5,-1.3l0.5,1.9zM134.4,74.4l-2.5,-6.3m0.8,-0.3l-2,-2.8l0.4,3.4zM134.4,79.6l-0.6,-6.6m0.8,-0.1l-1.2,-3.2l-0.5,3.3zM146.6,0.7l-2.6,6m-0.8,-0.3l-0.5,3.3l2,-2.6zM146.6,5.9l-6.2,4.1m-0.5,-0.8l-2.5,2.8l3.6,-1.2zM146.6,11.2l-5.2,4.2m-0.5,-0.7l-2,2.7l3.1,-1.4zM146.6,16.5l-3.2,3.1m-0.4,-0.4l-1.2,2l2,-1.1zM146.6,21.7l-3.7,5.3m-0.7,-0.5l-1.1,3.1l2.5,-2.1zM146.6,27l-2.4,0.6m-0.1,-0.6l-1.4,0.9l1.7,0.2zM146.6,32.3l-3.5,0.6m-0.1,-0.6l-1.6,0.9l1.8,0.3zM146.6,37.5l-2.1,-0.7m0.2,-0.6l-1.7,0.1l1.3,1.1zM146.6,42.8l-2.3,0.2m0,-0.6l-1.6,0.7l1.6,0.5zM146.6,48.1l-4.2,-0.2m0,-0.6l-2.1,0.5l2,0.7zM146.6,53.3l-2,-0.5m0.1,-0.6l-1.7,0.2l1.4,1zM146.6,58.6l-6.2,-0.1m0,-0.8l-3.1,0.7l3,0.9zM146.6,63.8l-6.8,0.5m-0.1,-0.9l-3.3,1.1l3.4,0.6zM146.6,69.1l-5.6,-2m0.3,-0.7l-3,-0.3l2.5,1.7zM146.6,74.4l-5.5,-3.6m0.5,-0.7l-3.2,-1.1l2.3,2.5zM146.6,79.6l-5.9,-2.5m0.3,-0.7l-3.2,-0.5l2.6,2zM158.8,0.7l-3,5.1m-0.7,-0.4l-0.8,2.9l2.1,-2.2zM158.8,5.9l-2.3,5.5m-0.7,-0.3l-0.4,3l1.9,-2.4zM158.8,11.2l-3.6,4m-0.5,-0.5l-1.3,2.4l2.3,-1.5zM158.8,16.5l-1.6,4.7m-0.6,-0.2l-0.2,2.5l1.4,-2.1zM158.8,21.7l-3.4,2.9m-0.4,-0.5l-1.3,1.9l2.1,-1zM158.8,27l-2.3,0m0,-0.6l-1.6,0.6l1.6,0.6zM158.8,32.3l-4.2,0.6m-0.1,-0.6l-2,0.9l2.1,0.3zM158.8,37.5l-4.2,0.1m0,-0.6l-2.1,0.6l2.1,0.6zM158.8,42.8l-3.4,-0.1m0,-0.6l-1.7,0.6l1.7,0.6zM158.8,48.1l-3.6,-1.3m0.2,-0.6l-2,-0.1l1.5,1.2zM158.8,53.3l-2.4,-0.4m0.1,-0.6l-1.7,0.3l1.5,0.9zM158.8,58.6l-4.8,-2.1m0.3,-0.6l-2.6,-0.4l2.1,1.6zM158.8,63.8l-5.2,-2.7m0.4,-0.7l-2.9,-0.7l2.2,2zM158.8,69.1l-5.7,-3.3m0.4,-0.7l-3.3,-0.9l2.4,2.4zM158.8,74.4l-5,0m0,-0.6l-2.5,0.6l2.5,0.7zM158.8,79.6l-6.1,-0.8m0.1,-0.8l-3.1,0.4l2.9,1.2zM171,0.7l2.6,3.1m-0.5,0.4l1.7,1.1l-0.8,-1.9zM171,5.9l0.9,3.3m-0.6,0.2l1,1.5l0.1,-1.8zM171,11.2l2.8,3.6m-0.5,0.4l1.9,1.4l-0.9,-2.2zM171,16.5l2.3,3.1m-0.5,0.4l1.6,1.2l-0.6,-1.9zM171,21.7l3.7,3.2m-0.4,0.5l2.2,1.1l-1.4,-2.1zM171,27l-3.5,0.2m0,-0.6l-1.7,0.7l1.7,0.5zM171,32.3l-2.4,0.3m-0.1,-0.6l-1.5,0.8l1.7,0.4zM171,37.5l-3.3,-0.8m0.2,-0.6l-1.8,0.2l1.5,1zM171,42.8l-3.6,-1.3m0.2,-0.6l-2,-0.1l1.6,1.2zM171,48.1l-2.8,-0.1m0,-0.6l-1.6,0.5l1.6,0.7zM171,53.3l-3.7,0.5m-0.1,-0.6l-1.8,0.8l1.9,0.4zM171,58.6l-5.8,-2.3m0.3,-0.7l-3.2,-0.4l2.6,1.9zM171,63.8l-6.5,-3.2m0.4,-0.8l-3.6,-0.7l2.8,2.4zM171,69.1l-4.2,-2.2m0.3,-0.5l-2.3,-0.5l1.8,1.6zM171,74.4l-7.9,-1.5m0.2,-1l-4.1,0.3l3.7,1.7zM171,79.6l-6.9,-0.6m0.1,-0.9l-3.5,0.6l3.3,1.2zM183.2,0.7l0.6,2.8m-0.6,0.1l0.9,1.4l0.2,-1.7zM183.2,5.9l1.7,2.1m-0.5,0.4l1.5,0.8l-0.6,-1.6zM183.2,11.2l0.9,3.1m-0.6,0.2l1,1.4l0.1,-1.7zM183.2,16.5l3.2,3.5m-0.4,0.4l2,1.3l-1.1,-2.1zM183.2,21.7l2.2,3.2m-0.5,0.3l1.6,1.2l-0.6,-1.9zM183.2,27l0.3,-4.2m0.6,0l-0.4,-2.1l-0.8,2zM183.2,32.3l0.5,-4.5m0.6,0.1l-0.4,-2.3l-0.8,2.1zM183.2,37.5l0.8,-5.5m0.7,0.1l-0.3,-2.8l-1.1,2.6zM183.2,42.8l2,-2.4m0.5,0.4l0.6,-1.6l-1.5,0.8zM183.2,48.1l-3.9,0.6m-0.1,-0.6l-1.8,0.9l2,0.3zM183.2,53.3l-8.6,-1.4m0.2,-1.1l-4.4,0.4l4.1,1.8zM183.2,58.6l-9.7,-0.5m0.1,-1.2l-4.8,1l4.7,1.5zM183.2,63.8l-9.2,-1.1m0.1,-1.2l-4.7,0.6l4.4,1.7zM183.2,69.1l-6,-1.2m0.2,-0.8l-3.1,0.2l2.8,1.4zM183.2,74.4l-4,0m0,-0.6l-2,0.6l2,0.6zM183.2,79.6l-2.7,1.5m-0.3,-0.5l-1.1,1.3l1.7,-0.3zM195.4,0.7l2.1,1.8m-0.4,0.5l1.6,0.6l-0.8,-1.5zM195.4,5.9l1.9,2.6m-0.5,0.4l1.4,0.9l-0.5,-1.6zM195.4,11.2l4.8,-2.5m0.3,0.6l2,-1.8l-2.7,0.6zM195.4,16.5l3.1,-0.8m0.2,0.6l1.4,-1l-1.7,-0.2zM195.4,21.7l4.8,-0.6m0.1,0.6l2.3,-0.9l-2.4,-0.3zM195.4,27l4.9,-0.9m0.1,0.6l2.3,-1.1l-2.5,-0.2zM195.4,32.3l3.8,0.2m0,0.6l1.9,-0.5l-1.9,-0.7zM195.4,37.5l3.3,0.1m0,0.6l1.7,-0.5l-1.6,-0.7zM195.4,42.8l2.9,0.4m-0.1,0.6l1.7,-0.4l-1.5,-0.8zM195.4,48.1l3.3,-0.8m0.1,0.6l1.5,-1l-1.8,-0.2zM195.4,53.3l-8,-1.7m0.2,-1l-4.1,0.2l3.7,1.9zM195.4,58.6l-9.2,-1.1m0.1,-1.2l-4.7,0.6l4.4,1.7zM195.4,63.8l-8.6,-0.8m0.1,-1.1l-4.3,0.7l4.1,1.5zM195.4,69.1l-7,-3.8m0.5,-0.9l-4,-1l3,2.8zM195.4,74.4l-3,0.7m-0.1,-0.6l-1.4,1l1.7,0.2zM195.4,79.6l-2.8,0.3m-0.1,-0.6l-1.5,0.8l1.7,0.4zM207.6,0.7l-2.4,0.3m-0.1,-0.6l-1.5,0.8l1.7,0.4zM207.6,5.9l-2.1,0m0,-0.6l-1.6,0.6l1.6,0.6zM207.6,11.2l4.5,-2m0.3,0.6l2,-1.6l-2.5,0.4zM207.6,16.5l3.8,0.2m0,0.6l1.9,-0.5l-1.9,-0.7zM207.6,21.7l4.3,-0.1m0,0.6l2.1,-0.6l-2.1,-0.6zM207.6,27l5,-1.4m0.2,0.6l2.3,-1.4l-2.7,0.1zM207.6,32.3l4.6,-2.5m0.3,0.6l1.9,-1.8l-2.6,0.6zM207.6,37.5l2.3,-1m0.2,0.5l1.2,-1.2l-1.7,0.1zM207.6,42.8l2.4,-1.1m0.2,0.5l1.2,-1.2l-1.7,0.1zM207.6,48.1l2.1,-0.2m0.1,0.6l1.5,-0.8l-1.7,-0.4zM207.6,53.3l-8.5,-2.4m0.3,-1.1l-4.5,-0.1l3.9,2.3zM207.6,58.6l-5,-2.9m0.4,-0.6l-2.8,-0.8l2.1,2.1zM207.6,63.8l-7.5,-1.8m0.2,-1l-3.9,0.1l3.4,1.8zM207.6,69.1l-5.3,-3.2m0.4,-0.7l-3,-0.9l2.2,2.3zM207.6,74.4l-3.6,-0.5m0.1,-0.6l-1.8,0.4l1.7,0.8zM207.6,79.6l-2.2,-1.3m0.3,-0.5l-1.7,-0.3l1.1,1.3zM219.9,0.7l-3.4,0.8m-0.1,-0.6l-1.5,1l1.8,0.2zM219.9,5.9l-3.7,0.1m0,-0.6l-1.8,0.6l1.9,0.6zM219.9,11.2l4.3,-0.5m0.1,0.6l2.1,-0.8l-2.2,-0.4zM219.9,16.5l5.7,0.1m0,0.7l2.8,-0.7l-2.8,-0.8zM219.9,21.7l4.2,0.7m-0.1,0.6l2.2,-0.2l-2,-0.9zM219.9,27l3.3,-0.7m0.1,0.6l1.5,-0.9l-1.8,-0.3zM219.9,32.3l4.9,-0.4m0,0.6l2.3,-0.8l-2.4,-0.4zM219.9,37.5l1.5,-0.5m0.2,0.6l1.3,-1.1l-1.7,-0.1zM219.9,42.8l2.1,-0.5m0.1,0.6l1.4,-1l-1.7,-0.2zM219.9,48.1l2.4,0.2m0,0.6l1.6,-0.5l-1.5,-0.7zM219.9,53.3l-6.1,-3.4m0.4,-0.8l-3.4,-0.9l2.6,2.5zM219.9,58.6l-9.5,-0.5m0.1,-1.2l-4.8,1l4.6,1.5zM219.9,63.8l-8.2,-5m0.6,-1l-4.7,-1.4l3.4,3.5zM219.9,69.1l-7,0m0,-0.9l-3.4,0.9l3.4,0.9zM219.9,74.4l-1.2,-0.7m0.3,-0.5l-1.7,-0.2l1.1,1.3zM219.9,79.6l-1.9,-0.6m0.2,-0.6l-1.7,0.1l1.3,1.1zM232.1,0.7l-3.3,1m-0.2,-0.6l-1.4,1.1l1.8,0.1zM232.1,5.9l-4.2,0.5m-0.1,-0.6l-2,0.8l2.1,0.4zM232.1,11.2l2.1,-1.3m0.3,0.5l1,-1.3l-1.7,0.3zM232.1,16.5l2.1,-1.8m0.4,0.5l0.8,-1.5l-1.6,0.6zM232.1,21.7l3.7,-1.7m0.3,0.5l1.6,-1.4l-2.1,0.3zM232.1,27l2.4,-0.9m0.2,0.6l1.3,-1.1l-1.7,0zM232.1,32.3l3.7,-1.4m0.2,0.6l1.6,-1.3l-2,0.1zM232.1,37.5l3.5,0.3m-0.1,0.6l1.8,-0.5l-1.7,-0.7zM232.1,42.8l3.7,1.3m-0.2,0.6l2,0.1l-1.6,-1.2zM232.1,48.1l1.8,-0.3m0.1,0.6l1.5,-0.9l-1.7,-0.3zM232.1,53.3l-5.7,-2m0.3,-0.7l-3.1,-0.3l2.6,1.7zM232.1,58.6l-6.3,-1m0.1,-0.8l-3.2,0.3l3,1.3zM232.1,63.8l-5.6,-2.1m0.3,-0.7l-3,-0.3l2.5,1.7zM232.1,69.1l-7.7,0.5m-0.1,-1l-3.7,1.3l3.9,0.7zM232.1,74.4l-3.3,-4.5m0.6,-0.4l-2.2,-1.8l1.1,2.7zM232.1,79.6l-0.8,-3.4m0.6,-0.1l-1,-1.6l-0.2,1.8zM244.3,0.7l-4.1,-0.7m0.1,-0.6l-2.1,0.2l1.9,0.9zM244.3,5.9l-3.8,0.2m0,-0.6l-1.9,0.7l1.9,0.5zM244.3,11.2l3.6,-1.6m0.2,0.5l1.5,-1.4l-2,0.3zM244.3,16.5l3.2,-2.5m0.4,0.5l1.2,-1.7l-2,0.8zM244.3,21.7l3,-1.7m0.3,0.5l1.2,-1.3l-1.8,0.3zM244.3,27l3.9,-2m0.3,0.5l1.6,-1.5l-2.2,0.5zM244.3,32.3l2.2,-3m0.5,0.4l0.6,-1.8l-1.6,1.1zM244.3,37.5l2.8,-0.5m0.1,0.6l1.5,-0.9l-1.7,-0.3zM244.3,42.8l2.1,0.8m-0.2,0.6l1.7,0l-1.3,-1.1zM244.3,48.1l1.9,0.2m-0.1,0.6l1.6,-0.5l-1.5,-0.7zM244.3,53.3l-5.8,-4.1m0.5,-0.7l-3.4,-1.3l2.4,2.8zM244.3,58.6l-8.5,-3.1m0.4,-1.1l-4.6,-0.4l3.8,2.6zM244.3,63.8l-8.8,-0.4m0,-1.1l-4.4,0.9l4.3,1.3zM244.3,69.1l-5.1,-3.5m0.5,-0.7l-3,-1.1l2.1,2.4zM244.3,74.4l-0.5,-5.2m0.7,-0.1l-0.9,-2.5l-0.4,2.6zM244.3,79.6l-1,-4m0.6,-0.1l-1.1,-1.8l-0.1,2.1zM256.5,0.7l-3.4,0.5m-0.1,-0.6l-1.6,0.9l1.8,0.3zM256.5,5.9l-3.2,-1m0.2,-0.6l-1.7,0.1l1.4,1.1zM256.5,11.2l2.4,-2.3m0.4,0.4l0.8,-1.6l-1.6,0.7zM256.5,16.5l1.8,-1.7m0.4,0.4l0.7,-1.5l-1.6,0.7zM256.5,21.7l1.9,-2.9m0.5,0.3l0.4,-1.8l-1.4,1.1zM256.5,27l2.3,-1.5m0.3,0.5l1,-1.4l-1.7,0.4zM256.5,32.3l1.1,-2.6m0.6,0.2l0.1,-1.7l-1.2,1.2zM256.5,37.5l-0.9,-0.5m0.3,-0.5l-1.7,-0.2l1.1,1.3zM256.5,42.8l-1.1,-0.1m0,-0.6l-1.6,0.5l1.6,0.7zM256.5,48.1l-1.9,-0.4m0.1,-0.6l-1.7,0.2l1.4,0.9zM256.5,53.3l-8.6,-2.3m0.3,-1.1l-4.5,-0.1l3.9,2.3zM256.5,58.6l-9.6,-2.5m0.3,-1.2l-5,0l4.4,2.5zM256.5,63.8l-4.6,-3.3m0.4,-0.6l-2.7,-1.1l1.8,2.2zM256.5,69.1l-6.6,0.1m0,-0.8l-3.2,0.9l3.3,0.8zM256.5,74.4l-0.9,-4.1m0.6,-0.1l-1,-1.9l-0.1,2.1zM256.5,79.6l-1.2,-4.3m0.6,-0.2l-1.2,-2l0,2.3zM268.7,0.7l-3.7,-0.5m0.1,-0.6l-1.9,0.4l1.8,0.8zM268.7,5.9l-3.3,-0.3m0,-0.6l-1.7,0.5l1.6,0.7zM268.7,11.2l-2.9,3.7m-0.5,-0.4l-0.9,2.2l1.9,-1.5zM268.7,16.5l-2.5,1.7m-0.3,-0.5l-1,1.4l1.7,-0.4zM268.7,21.7l-3,2.7m-0.4,-0.4l-1.1,1.8l1.9,-0.9zM268.7,27l-2.9,1.6m-0.3,-0.5l-1.1,1.3l1.7,-0.3zM268.7,32.3l-2.8,2.2m-0.4,-0.5l-1,1.6l1.8,-0.6zM268.7,37.5l-2.1,-0.4m0.1,-0.6l-1.7,0.3l1.5,0.9zM268.7,42.8l-2.1,0.2m-0.1,-0.6l-1.5,0.8l1.7,0.4zM268.7,48.1l-2.2,-0.3m0.1,-0.6l-1.7,0.4l1.5,0.8zM268.7,53.3l-5.9,-3m0.4,-0.8l-3.3,-0.7l2.5,2.3zM268.7,58.6l-6.2,-2.1m0.3,-0.8l-3.3,-0.2l2.8,1.8zM268.7,63.8l-6.3,-2.7m0.3,-0.8l-3.5,-0.5l2.8,2.1zM268.7,69.1l-6.1,-4.4m0.6,-0.8l-3.6,-1.4l2.4,2.9zM268.7,74.4l-0.1,-6.1m0.8,0l-0.9,-3l-0.7,3zM268.7,79.6l1.1,-5.4m0.7,0.1l-0.2,-2.8l-1.2,2.5zM280.9,0.7l-3.2,0.2m0,-0.6l-1.6,0.7l1.6,0.5zM280.9,5.9l-3.9,0.3m0,-0.6l-1.9,0.7l2,0.5zM280.9,11.2l-3.1,1.2m-0.2,-0.6l-1.3,1.2l1.8,0zM280.9,16.5l-2.9,1.5m-0.3,-0.5l-1.2,1.3l1.7,-0.2zM280.9,21.7l-2.9,2.9m-0.4,-0.4l-1,1.9l1.8,-1zM280.9,27l-3,3.7m-0.5,-0.4l-1,2.2l1.9,-1.4zM280.9,32.3l-2.7,1.5m-0.3,-0.5l-1.1,1.3l1.7,-0.3zM280.9,37.5l-3.1,-0.5m0.1,-0.6l-1.7,0.4l1.5,0.8zM280.9,42.8l-3,0.9m-0.2,-0.6l-1.3,1.1l1.7,0.1zM280.9,48.1l-3.1,-0.1m0,-0.6l-1.6,0.6l1.6,0.6zM280.9,53.3l-7.6,-1.1m0.1,-1l-3.9,0.4l3.6,1.5zM280.9,58.6l-5.1,-2.4m0.3,-0.7l-2.8,-0.5l2.2,1.8zM280.9,63.8l-3,-4.1m0.5,-0.4l-2,-1.6l1,2.4zM280.9,69.1l-4,-2.1m0.3,-0.5l-2.2,-0.5l1.7,1.6zM280.9,74.4l-5.9,-3.6m0.5,-0.8l-3.4,-1l2.5,2.6zM280.9,79.6l-3.7,-3.5m0.4,-0.5l-2.3,-1.2l1.4,2.2z" stroke="#000" stroke-width="0.85" fill="#000"/>
<rect x="206.4" y="0" width="78.6" height="18.6" fill="#fff"/>
<rect x="0" y="61" width="49.1" height="20.3" fill="#fff"/>
<path d="M0.6,72.4 h9.5" stroke="#000" stroke-width="0.8"/>
</svg>
<rect x="0" y="0" width="285" height="81.3" fill="none" stroke="#555" stroke-width="0.7"/>
<path d="M0,0 v-3 M0,81.3 v3 M40.7,0 v-3 M40.7,81.3 v3 M81.4,0 v-3 M81.4,81.3 v3 M122.1,0 v-3 M122.1,81.3 v3 M162.9,0 v-3 M162.9,81.3 v3 M203.6,0 v-3 M203.6,81.3 v3 M244.3,0 v-3 M244.3,81.3 v3 M285,0 v-3 M285,81.3 v3 M0,0 h-3.2 M285,0 h3.2 M0,20.3 h-3.2 M285,20.3 h3.2 M0,40.6 h-3.2 M285,40.6 h3.2 M0,61 h-3.2 M285,61 h3.2 M0,81.3 h-3.2 M285,81.3 h3.2" stroke="#333" stroke-width="0.7" fill="none"/>
<text x="-1.3" y="104.1" text-anchor="middle" font-size="13.1">90<tspan dy="-6.6" dx="0.4" font-size="10">°</tspan><tspan dy="6.6" dx="0.8">W</tspan></text>
<text x="39.4" y="104.1" text-anchor="middle" font-size="13.1">60<tspan dy="-6.6" dx="0.4" font-size="10">°</tspan><tspan dy="6.6" dx="0.8">W</tspan></text>
<text x="80.1" y="104.1" text-anchor="middle" font-size="13.1">30<tspan dy="-6.6" dx="0.4" font-size="10">°</tspan><tspan dy="6.6" dx="0.8">W</tspan></text>
<text x="123.3" y="104.1" text-anchor="middle" font-size="13.1">0<tspan dy="-6.6" dx="0.4" font-size="10">°</tspan></text>
<text x="161.6" y="104.1" text-anchor="middle" font-size="13.1">30<tspan dy="-6.6" dx="0.4" font-size="10">°</tspan><tspan dy="6.6" dx="0.8">E</tspan></text>
<text x="202.3" y="104.1" text-anchor="middle" font-size="13.1">60<tspan dy="-6.6" dx="0.4" font-size="10">°</tspan><tspan dy="6.6" dx="0.8">E</tspan></text>
<text x="243" y="104.1" text-anchor="middle" font-size="13.1">90<tspan dy="-6.6" dx="0.4" font-size="10">°</tspan><tspan dy="6.6" dx="0.8">E</tspan></text>
<text x="283.7" y="104.1" text-anchor="middle" font-size="13.1">120<tspan dy="-6.6" dx="0.4" font-size="10">°</tspan><tspan dy="6.6" dx="0.8">E</tspan></text>
<text x="-9" y="6.7" text-anchor="end" font-size="13.1">30<tspan dy="-6.6" dx="0.4" font-size="10">°</tspan><tspan dy="6.6" dx="0.8">N</tspan></text>
<text x="-9" y="27" text-anchor="end" font-size="13.1">15<tspan dy="-6.6" dx="0.4" font-size="10">°</tspan><tspan dy="6.6" dx="0.8">N</tspan></text>
<text x="-9" y="45.4" text-anchor="end" font-size="13.1">EQ</text>
<text x="-9" y="67.7" text-anchor="end" font-size="13.1">15<tspan dy="-6.6" dx="0.4" font-size="10">°</tspan><tspan dy="6.6" dx="0.8">S</tspan></text>
<text x="-9" y="88" text-anchor="end" font-size="13.1">30<tspan dy="-6.6" dx="0.4" font-size="10">°</tspan><tspan dy="6.6" dx="0.8">S</tspan></text>
<text x="283.5" y="11.9" text-anchor="end" font-size="13.6" textLength="74" lengthAdjust="spacingAndGlyphs">Climatology</text>
<text x="12.6" y="77.3" text-anchor="start" font-size="13.6" textLength="34.6" lengthAdjust="spacingAndGlyphs">5 m/s</text>
<text x="0.3" y="-6" font-size="17.2" font-weight="bold">a</text>
</g>
<g transform="translate(37.6,182.2)">
<svg x="0" y="0" width="285" height="81.3" viewBox="0 0 285 81.3" overflow="hidden">
<rect x="0" y="0" width="285" height="81.3" fill="#fff"/>
<path d="M-2.7,-1.2C3.7,-3.3 30,-2.2 35.9,-1.2C41.8,-0.2 34.7,3.1 32.8,5.1C30.9,7 27.9,9.1 24.5,10.3C21,11.5 16.4,12.2 11.9,12.4C7.4,12.5 -0.3,13.6 -2.7,11.3C-5.1,9.1 -9.1,0.9 -2.7,-1.2Z" fill="#f4a582"/>
<path d="M12.3,4C12.3,4.8 12,5.6 11.5,6.2C10.9,6.8 10,7.4 9.2,7.6C8.3,7.8 7.2,7.8 6.3,7.6C5.5,7.4 4.6,6.8 4,6.2C3.5,5.6 3.2,4.8 3.2,4C3.2,3.3 3.5,2.4 4,1.8C4.6,1.2 5.5,0.7 6.3,0.4C7.2,0.2 8.3,0.2 9.2,0.4C10,0.7 10.9,1.2 11.5,1.8C12,2.4 12.3,3.3 12.3,4Z" fill="#d6604d"/>
<path d="M27.6,2.6C27.6,3.2 27.3,4 26.8,4.5C26.3,5.1 25.5,5.5 24.7,5.7C23.9,5.9 22.9,5.9 22.1,5.7C21.3,5.5 20.5,5.1 20,4.5C19.5,4 19.2,3.2 19.2,2.6C19.2,1.9 19.5,1.1 20,0.6C20.5,0.1 21.3,-0.4 22.1,-0.6C22.9,-0.8 23.9,-0.8 24.7,-0.6C25.5,-0.4 26.3,0.1 26.8,0.6C27.3,1.1 27.6,1.9 27.6,2.6Z" fill="#d6604d"/>
<path d="M10,3.4C10,3.7 9.9,4.1 9.7,4.4C9.5,4.6 9.1,4.9 8.7,5C8.4,5.1 7.9,5.1 7.6,5C7.2,4.9 6.9,4.6 6.6,4.4C6.4,4.1 6.3,3.7 6.3,3.4C6.3,3.1 6.4,2.7 6.6,2.4C6.9,2.1 7.2,1.9 7.6,1.8C7.9,1.7 8.4,1.7 8.7,1.8C9.1,1.9 9.5,2.1 9.7,2.4C9.9,2.7 10,3.1 10,3.4Z" fill="#b2182b"/>
<path d="M38,11.3C39.8,9.1 47.6,8.9 51.6,8.2C55.6,7.5 56.1,7 62,7.2C67.9,7.3 80.8,7.5 87.1,9.2C93.3,11 97.2,14.8 99.6,17.6C102,20.4 102,23.5 101.3,25.9C100.6,28.4 97.8,30.1 95.4,32.2C93.1,34.3 89.9,36.6 87.1,38.5C84.3,40.4 81.5,42.8 78.7,43.7C75.9,44.6 73.2,44.4 70.4,43.7C67.6,43 64.8,40.9 62,39.5C59.2,38.1 56.1,37.2 53.7,35.3C51.2,33.4 49.5,30.3 47.4,28C45.3,25.8 42.7,24.5 41.2,21.8C39.6,19 36.3,13.6 38,11.3Z" fill="#d1e5f0"/>
<path d="M8.8,20.7C10.2,19.5 16.3,18.8 20.3,18.6C24.3,18.5 29,20 32.8,19.7C36.6,19.3 40.8,16.2 43.2,16.5C45.7,16.9 47.8,20.2 47.4,21.8C47.1,23.3 43.9,25.1 41.2,25.9C38.4,26.8 34.2,27 30.7,27C27.2,27 23.4,26.1 20.3,25.9C17.1,25.8 13.8,26.8 11.9,25.9C10,25.1 7.4,21.9 8.8,20.7Z" fill="#d1e5f0"/>
<path d="M47.8,13.4C50.5,11.3 55.8,8.1 62,7.2C68.2,6.2 79,6.5 85,7.8C91,9.1 95.2,12.2 97.9,15.1C100.7,17.9 102.2,21.6 101.7,24.9C101.2,28.2 97.8,32.2 95,34.7C92.2,37.2 89.1,39.1 85,40.1C80.9,41.2 74.8,41.8 70.4,41.2C66,40.6 62,38.3 58.5,36.4C54.9,34.4 51.2,32.3 49.1,29.5C47,26.7 46,22.4 45.7,19.7C45.5,17 45.1,15.5 47.8,13.4Z" fill="#92c5de"/>
<path d="M81.9,19.3C82.9,17.6 90.2,16 93.3,16.3C96.4,16.7 99.8,19.5 100.4,21.3C101.1,23.2 99.3,26.4 97.1,27.2C94.9,28 89.6,27.7 87.1,26.4C84.5,25 80.8,20.9 81.9,19.3Z" fill="#4393c3"/>
<path d="M63.9,32.2C63.9,32.7 63.8,33.2 63.5,33.6C63.3,33.9 63,34.2 62.6,34.4C62.3,34.5 61.8,34.5 61.4,34.4C61.1,34.2 60.7,33.9 60.5,33.6C60.3,33.2 60.1,32.7 60.1,32.2C60.1,31.8 60.3,31.2 60.5,30.9C60.7,30.5 61.1,30.2 61.4,30C61.8,29.9 62.3,29.9 62.6,30C63,30.2 63.3,30.5 63.5,30.9C63.8,31.2 63.9,31.8 63.9,32.2Z" fill="#fff"/>
<path d="M59.1,25.9C59.1,26.3 59,26.7 58.9,26.9C58.7,27.2 58.5,27.4 58.2,27.5C58,27.6 57.7,27.6 57.5,27.5C57.2,27.4 57,27.2 56.8,26.9C56.7,26.7 56.6,26.3 56.6,25.9C56.6,25.6 56.7,25.2 56.8,25C57,24.7 57.2,24.5 57.5,24.4C57.7,24.2 58,24.2 58.2,24.4C58.5,24.5 58.7,24.7 58.9,25C59,25.2 59.1,25.6 59.1,25.9Z" fill="#fff"/>
<path d="M75.4,32.2C75.4,32.4 75.3,32.7 75.1,32.9C75,33.1 74.8,33.3 74.5,33.4C74.3,33.5 74,33.5 73.7,33.4C73.5,33.3 73.3,33.1 73.1,32.9C73,32.7 72.9,32.4 72.9,32.2C72.9,32 73,31.7 73.1,31.5C73.3,31.3 73.5,31.1 73.7,31C74,30.9 74.3,30.9 74.5,31C74.8,31.1 75,31.3 75.1,31.5C75.3,31.7 75.4,32 75.4,32.2Z" fill="#fff"/>
<path d="M70.4,43.7C72.8,42.6 80.1,40 82.9,40.6C85.7,41.1 87.8,44.7 87.1,46.8C86.4,48.9 81.2,51 78.7,53.1C76.3,55.2 73.9,56.9 72.5,59.3C71.1,61.8 70,65.3 70.4,67.7C70.7,70.1 74.6,72.7 74.6,74C74.6,75.2 71.6,76.4 70.4,75C69.2,73.6 67.2,69.3 67.2,65.6C67.2,61.9 70.2,56.2 70.4,53.1C70.6,49.9 68.3,48.4 68.3,46.8C68.3,45.2 67.9,44.7 70.4,43.7Z" fill="#d1e5f0"/>
<path d="M87.1,58.3C88.5,57.3 93.3,58.1 97.5,59.3C101.7,60.6 107.6,63.5 112.1,65.6C116.7,67.7 122.6,69.6 124.7,71.9C126.7,74.1 126.7,78.3 124.7,79.2C122.6,80 116.3,78.1 112.1,77.1C108,76 103.4,74.8 99.6,72.9C95.8,71 91.3,68 89.2,65.6C87.1,63.2 85.7,59.3 87.1,58.3Z" fill="#d1e5f0"/>
<path d="M93.3,61.4C94.4,60.7 100,63 103.8,64.6C107.6,66.1 113.5,68.7 116.3,70.8C119.1,72.9 121.9,76.6 120.5,77.1C119.1,77.6 111.8,75.3 108,74C104.1,72.6 100,70.8 97.5,68.7C95.1,66.6 92.3,62.1 93.3,61.4Z" fill="#92c5de"/>
<path d="M74.8,72.9C74.8,73.3 74.6,73.8 74.4,74.1C74.2,74.5 73.8,74.8 73.5,74.9C73.1,75 72.7,75 72.3,74.9C72,74.8 71.6,74.5 71.4,74.1C71.1,73.8 71,73.3 71,72.9C71,72.5 71.1,72 71.4,71.7C71.6,71.4 72,71.1 72.3,70.9C72.7,70.8 73.1,70.8 73.5,70.9C73.8,71.1 74.2,71.4 74.4,71.7C74.6,72 74.8,72.5 74.8,72.9Z" fill="#92c5de"/>
<path d="M-2.7,36.4C-0.9,33.9 5.3,36.2 7.8,37.4C10.2,38.6 11.6,41.6 11.9,43.7C12.3,45.8 11.2,48.7 9.8,49.9C8.4,51.2 5.7,50.6 3.6,51C1.5,51.3 -1.6,54.5 -2.7,52C-3.7,49.6 -4.4,38.8 -2.7,36.4Z" fill="#f4a582"/>
<path d="M-2.7,38.5C-1.1,36.9 4.7,38.6 6.7,39.5C8.7,40.4 9.4,42.2 9.4,43.7C9.4,45.2 8.7,47.6 6.7,48.5C4.7,49.4 -1.1,50.6 -2.7,48.9C-4.3,47.2 -4.3,40 -2.7,38.5Z" fill="#d6604d"/>
<path d="M-2.7,40.1C-1.5,39.1 3.2,40.4 4.6,41C6.1,41.6 6.2,42.7 6.1,43.7C6,44.7 5.5,46.2 4,46.8C2.5,47.4 -1.6,48.3 -2.7,47.2C-3.8,46.1 -3.9,41.2 -2.7,40.1Z" fill="#b2182b"/>
<path d="M5.7,56.2C5.8,55.3 7.2,55.7 8.8,57.3C10.4,58.8 14.4,63.9 15.1,65.6C15.8,67.3 14.2,68.2 13,67.7C11.8,67.2 9,64.4 7.8,62.5C6.5,60.6 5.5,57.1 5.7,56.2Z" fill="#f4a582"/>
<path d="M17.1,69.8C17.1,69.2 19.3,70.1 20.3,70.8C21.2,71.6 22.8,73.8 22.8,74.4C22.8,75 21.2,75.1 20.3,74.4C19.3,73.6 17.1,70.4 17.1,69.8Z" fill="#f4a582"/>
<path d="M-2.7,77.1C-1.5,76.5 3.2,77.1 4.6,77.7C6,78.3 6.9,80 5.7,80.6C4.4,81.2 -1.3,81.9 -2.7,81.3C-4.1,80.7 -3.9,77.7 -2.7,77.1Z" fill="#f4a582"/>
<path d="M127.3,53.2C127.7,53.8 128,54.6 128.1,55.3C128.2,55.9 128.2,56.6 128,56.9C127.8,57.3 127.4,57.5 127,57.5C126.6,57.5 126,57.2 125.5,56.8C125,56.4 124.4,55.7 124.1,55.1C123.7,54.4 123.4,53.6 123.3,53C123.2,52.3 123.2,51.7 123.4,51.3C123.6,50.9 124,50.7 124.4,50.7C124.8,50.8 125.4,51 125.9,51.4C126.4,51.9 127,52.5 127.3,53.2Z" fill="#f4a582"/>
<path d="M122.6,36.4C124,35.5 131.1,34.8 133,35.3C134.9,35.9 135.4,38.6 134,39.5C132.7,40.4 126.6,41.1 124.7,40.6C122.7,40 121.2,37.2 122.6,36.4Z" fill="#d1e5f0"/>
<path d="M231.1,18.6C241.2,17.8 279,7.3 288.5,18.6C298.1,29.9 294.8,75.2 288.5,86.5C282.3,97.8 259,87.9 251,86.5C243,85.1 244.7,80.6 240.5,78.1C236.3,75.7 230.4,73.6 225.9,71.9C221.4,70.1 216.5,69.8 213.4,67.7C210.2,65.6 207.5,62.1 207.1,59.3C206.8,56.6 212,53.6 211.3,51C210.6,48.4 204,45.8 202.9,43.7C201.9,41.6 202.9,39.9 205,38.5C207.1,37.1 212.3,36.7 215.5,35.3C218.6,33.9 221.7,32 223.8,30.1C225.9,28.2 226.8,25.8 228,23.9C229.2,21.9 221,19.5 231.1,18.6Z" fill="#d1e5f0"/>
<path d="M231.1,19C241.6,18 279,12 288.5,19C298.1,26.1 292,53.9 288.5,61.4C285.1,68.9 273.6,64.4 267.7,63.9C261.7,63.5 257.6,60.7 253,58.7C248.5,56.8 244.7,54.7 240.5,52.2C236.3,49.8 231,46.9 228,43.9C225,40.9 222.7,37.4 222.4,34.3C222,31.2 224.4,28.1 225.9,25.5C227.4,23 220.7,20.1 231.1,19Z" fill="#92c5de"/>
<path d="M223.4,58.3C225.9,56.6 235.2,56.3 240.5,56.6C245.8,56.9 250.2,58.9 255.1,60.2C260.1,61.5 265.9,62.1 270.2,64.4C274.4,66.6 279.6,71 280.6,74C281.6,76.9 280.9,80.6 276,81.9C271.1,83.2 257.9,83.1 251,81.9C244,80.6 238.5,76.9 234.3,74.4C230,71.9 227.3,69.5 225.5,66.9C223.7,64.2 220.9,60 223.4,58.3Z" fill="#92c5de"/>
<path d="M250.5,34.7C253.2,32.9 262.6,33.9 267.7,35.1C272.7,36.4 277.1,40.6 280.6,42.2C284.1,43.9 287.2,42.2 288.5,45.1C289.9,48.1 290.6,57.4 288.5,59.8C286.4,62.1 280.5,60.2 276,59.3C271.5,58.5 265.5,56.8 261.4,54.5C257.3,52.3 253.4,49.3 251.6,46C249.8,42.7 247.9,36.5 250.5,34.7Z" fill="#4393c3"/>
<path d="M259.3,19.7C263.9,18.6 283.7,18.2 288.5,19.7C293.4,21.1 291.3,26.6 288.5,28.4C285.7,30.3 276.4,30.9 271.8,30.5C267.2,30.1 263.1,27.7 261,25.9C258.9,24.1 254.7,20.7 259.3,19.7Z" fill="#4393c3"/>
<path d="M248.9,68.7C250.3,67.5 256.5,67.2 259.3,67.7C262.1,68.2 265.6,70.5 265.6,71.9C265.6,73.3 261.7,75.5 259.3,76C256.9,76.6 252.7,76.2 251,75C249.2,73.8 247.5,70 248.9,68.7Z" fill="#4393c3"/>
<path d="M224.9,52.2C227.6,51.8 239.3,52.4 242.6,53.1C245.9,53.8 247.5,56 244.7,56.4C241.9,56.8 229.2,56.3 225.9,55.6C222.6,54.9 222.1,52.7 224.9,52.2Z" fill="#fff"/>
<path d="M265.6,65.6C267.3,64.6 277.4,65.3 280.2,66.6C283,68 284,72.9 282.3,74C280.5,75 272.5,74.3 269.7,72.9C267,71.5 263.8,66.6 265.6,65.6Z" fill="#fff"/>
<path d="M177.9,86.5C169.7,84.9 177.9,79.5 178.9,77.1C180,74.6 182.2,73.8 184.2,71.9C186.1,70 188.7,67.3 190.4,65.6C192.2,63.9 193.4,61.6 194.6,61.4C195.8,61.3 196,63 197.7,64.6C199.5,66.1 202.1,69.1 205,70.8C208,72.6 212.3,73.6 215.5,75C218.6,76.4 221.7,77.3 223.8,79.2C225.9,81.1 235.6,85.3 228,86.5C220.3,87.7 186.1,88 177.9,86.5Z" fill="#f4a582"/>
<path d="M181,86.5C175.5,84.9 181.5,79.5 183.1,77.1C184.7,74.6 188.2,72.9 190.4,71.9C192.7,70.8 194.2,70.5 196.7,70.8C199.1,71.2 202.2,72.7 205,74C207.8,75.2 211.5,76 213.4,78.1C215.3,80.2 221.9,85.1 216.5,86.5C211.1,87.9 186.6,88 181,86.5Z" fill="#d6604d"/>
<path d="M185.2,86.5C182.1,85.1 185.9,79.9 187.3,78.1C188.7,76.3 191.3,75.8 193.5,75.6C195.8,75.4 198.9,76.3 200.9,77.1C202.8,77.9 204.2,78.7 205,80.2C205.9,81.8 209.4,85.4 206.1,86.5C202.8,87.5 188.3,87.9 185.2,86.5Z" fill="#b2182b"/>
<path d="M184.2,54.1C184.8,52.9 189.8,51.5 191.5,52C193.1,52.6 194.2,55.7 194.2,57.3C194.2,58.8 192.6,61.1 191.5,61.4C190.3,61.8 188.5,60.6 187.3,59.3C186.1,58.1 183.5,55.3 184.2,54.1Z" fill="#fddbc7"/>
<path d="M170.4,4.6C170.4,5.1 170.3,5.7 170.1,6.1C170,6.5 169.7,6.9 169.5,7C169.3,7.2 169,7.2 168.7,7C168.5,6.9 168.3,6.5 168.1,6.1C168,5.7 167.9,5.1 167.9,4.6C167.9,4.2 168,3.6 168.1,3.2C168.3,2.8 168.5,2.4 168.7,2.3C169,2.1 169.3,2.1 169.5,2.3C169.7,2.4 170,2.8 170.1,3.2C170.3,3.6 170.4,4.2 170.4,4.6Z" fill="#f4a582"/>
<path d="M187.3,4C188,3.3 191.6,2.9 192.5,3.4C193.4,3.9 193.6,6.5 192.9,7.2C192.2,7.8 189.3,8.1 188.3,7.6C187.4,7 186.6,4.7 187.3,4Z" fill="#d1e5f0"/>
<path d="M205,9.2C205.9,8.2 210.1,8.2 211.3,9.2C212.5,10.3 213.2,14.5 212.3,15.5C211.5,16.5 207.3,16.5 206.1,15.5C204.9,14.5 204.2,10.3 205,9.2Z" fill="#d1e5f0"/>
<path d="M187.3,23.9C187.3,24.1 187.2,24.4 187,24.6C186.8,24.8 186.4,25 186.1,25C185.8,25.1 185.4,25.1 185.1,25C184.8,25 184.5,24.8 184.3,24.6C184.1,24.4 183.9,24.1 183.9,23.9C183.9,23.6 184.1,23.3 184.3,23.1C184.5,22.9 184.8,22.7 185.1,22.7C185.4,22.6 185.8,22.6 186.1,22.7C186.4,22.7 186.8,22.9 187,23.1C187.2,23.3 187.3,23.6 187.3,23.9Z" fill="#d1e5f0"/>
<path d="M17.2,28.9 19.7,26.3 20.6,25.6 23.1,25.1 24.8,23.8 25.4,25.7 27.1,24.1 29.3,25.5 32.6,26.3 34.6,26.8 38,26.2 39.4,27.8 40.7,29.1 42.8,31.2 44.8,32.5 47.5,32.7 50.9,33.9 52.2,34.8 54.3,38.2 54.3,40.6 57,41.6 61.8,44 65.8,44.6 67.9,44.4 69.9,45.7 71.9,47.2 74.2,47.7 74.9,50.3 74.6,52.2 72.6,54.9 71.2,56.2 69.9,58.3 69.2,61 69.2,64.4 68.3,67.1 67.2,69.1 66.5,70.5 65.1,71.7 63.1,71.8 61.1,72.6 59,73.4 57,74.9 56.2,76.6 56.2,78.6 55,79.9 54,82 25.1,82 25.4,78.6 26.1,75.9 26.6,72.5 27,69.1 26.7,65.6 25.2,64.2 22.4,62.7 20.1,61.4 18.6,59.5 17.4,56.9 16,54.2 14.9,51.6 13.7,50 11.9,48.8 11.8,46.7 13.2,45.3 13.6,44 12.3,43.6 12.3,42 13.4,40.6 13.6,39.6 15.1,38.6 15.6,37.3 17,37.1 17.2,35.2 17,33.2 17.1,31.2 16.4,30.8 15.7,29.8 14.2,29 12.9,30.4 11.5,30.1 9.5,29.1 7.5,27.4 6,25.7 3.7,23.2 2,22.6 -1.4,22.2 -1.4,18.7 2,19.1 4.8,19.5 7.5,20.1 8.7,21.7 8.4,24.4 8.7,26 10,27.6 11.5,28.5 13.6,28.2 14.9,28 16.3,28.5Z M9.2,-0.7 9.8,2 11.1,4.3 12.8,4.6 13.2,2 12.2,-0.7Z M109,-0.7 108.6,1.4 106.5,2.7 104.5,3.1 102.5,5.4 100.4,8.1 99.1,11.5 100,14.2 99.8,18.3 98.4,20.7 99.3,23 99.5,24.4 101.8,25.7 103.4,27.4 104.2,29.1 106.5,31.3 109.2,33.5 112,34.7 115.4,33.7 118.1,33.7 119.4,34.1 122.1,33.1 123.8,32.4 125.5,32.1 128.2,32.2 129.6,33.9 131,34.8 133,34.6 134.4,35.2 135.3,36.6 135.2,39.3 134.8,40.6 134.1,41.6 135,43.4 137.1,46.1 138.4,47.4 138.8,48.9 139.8,51.5 140.3,52.8 140.9,55.6 139.1,58.9 138.4,61.7 138.2,64.4 139.1,66.4 140.5,69.1 141.8,71.8 142.5,75.9 143.2,77.9 144.5,79.5 145.2,82 164.2,82 164.2,81.2 165.6,79.7 166.7,77.2 166.4,75.7 168.3,74.4 170.3,73 170.1,70.5 169.6,68.4 169.4,67.5 171.7,65.7 173.7,64 176.4,62.6 177.5,60.3 177.1,57.6 177.1,54.9 176.2,52.8 175.5,50.1 175.1,48.8 175.3,47 176,46.1 177.1,44 178.5,43.1 179.8,41.3 181.9,39.3 183.9,37.8 186.6,35.2 188,33.2 189.3,30.5 190.7,27.8 191.6,26.4 191.8,24.7 190,25.1 187.3,25.5 184.6,26.2 182.5,26.6 180.9,25.1 180.8,23.7 179.8,22.4 177.8,20.7 176.2,19.6 175.1,17.6 173.7,15.9 172.8,14.2 172.6,12.2 171.7,10.2 170.3,8.1 169,5.4 168,3.4 166.4,0.3 166.2,-0.7Z M169.6,-0.7 169.5,0.7 169.6,2.7 171.7,5.4 173,7.7 174.8,10.2 175.3,12.2 177.1,14.2 178.5,16.3 179.8,18.3 180.5,21 181.2,23.4 183.2,23.3 185.9,22.4 188,21.7 190.7,20.3 193,19 194.8,18 196.8,17.3 198.8,15.6 200.4,14.2 200.9,12.9 202.2,11.5 203.3,10.2 201.7,8.7 199.5,8.1 198.7,6.8 198.6,5 198.1,5.8 196.1,7.7 193.4,7.9 192.2,7.7 192.2,6.1 191.6,5.3 191.1,6.8 190.3,5.8 190.1,4.5 188.6,3.4 188,2 187.3,0.7 188,-0.7Z M190,-0.7 191.1,1.4 192,2.8 194.1,4.3 196.1,4.6 198.1,3.9 199.5,4.3 200.2,5.8 202.2,6.2 205.6,6.5 208.3,6.4 210.4,6.4 212.4,6.2 213.1,7 213.8,8.4 215.1,8.9 215.8,10.3 217.1,12.5 219.9,12.2 220.5,11.2 220.9,12.9 220.9,14.9 221.6,17.6 222.3,19.6 223.2,22.4 224.3,24.8 225.6,27.1 226.4,28.9 227.3,29.7 228.3,28.7 229.4,28 230.4,26.7 230.6,24.4 231.1,22.9 230.8,20.3 231.8,19.2 233.8,18 235.5,16.5 237.5,14.5 239.5,13.3 240.2,12.2 241.6,11.2 242.9,11 245,10.4 246.3,10.2 247,12.2 248.1,13.6 249.4,14.9 250.1,16.3 250.3,18.3 250.1,19.1 251.8,19.2 253.5,18.2 254.5,18.3 254.9,20.3 255.4,22.4 256,24.4 256,26.4 255.6,28.5 255.6,29.8 256.5,30.5 257.9,31.8 258.4,33.9 258.9,35.2 259.6,36.9 261.2,37.9 262.6,38.8 263.6,38.8 263.3,37.3 262.5,35.9 262.5,34.6 261.7,33.1 260.8,32.2 259.9,31.3 258.5,30.8 257.9,29.1 257.2,28 256.9,26.4 257.6,24.7 257.9,23 258.5,22.4 259.2,23.4 261,24.1 261.9,25.7 263.3,26.4 264.4,26.6 264.6,28.9 266.7,27.5 267.6,26.4 270.1,25.1 270.5,23 270.1,20.3 269.1,19 267.4,17.6 266,15.6 265.7,14.2 266.9,12.9 268.7,11.5 270.8,11.5 271.4,13 272.1,11.9 274.1,11.1 276.9,10.3 279.6,9.6 281.6,8.4 283,7.2 284.3,5.8 285.7,4.7 285.7,-0.7Z M251.5,33.1 254.5,33.6 255.6,35 257.6,36.6 258.9,37.7 260.6,39.3 262.6,40.6 263,42 264,43.1 265.3,44 266,45 265.9,46.7 265.7,48.5 264.1,48.5 263.3,47.3 261,45.9 259.2,43.9 258.3,42 256.8,40.2 256.1,38.3 254.7,37.3 253.1,35.8 251.8,34.3Z M264.9,49.9 266,48.6 267.4,48.6 269.4,49.6 272.1,49.9 272.8,49.3 274.8,50 277.5,51.1 277.5,52.4 274.8,52 271.4,51.5 268.7,51.2 266.7,50.7Z M270.1,38.6 270.8,37.9 272.8,38.5 273.3,37.3 275.5,36.3 276.9,34.6 278.9,33.2 280.2,31.4 281.3,31.4 281.9,32.5 283.6,33.6 282.6,34.8 282,36.6 282.3,37.9 283.6,39.3 282,39.6 281.6,41.3 280.2,42.7 280.2,44.7 279.6,46.1 277.7,46.1 276.9,45.3 275.5,45 273.9,45.4 271.7,44.6 271.4,42.7 270.3,41.3 270.1,40Z M284.1,48.1 285.7,48.1 285.7,39.3 284.7,40 284.3,42 283.4,44.4 284.1,45.4Z M285.7,67.6 283.6,67.8 281.6,68.7 279.6,69 278.2,69.8 277,70.2 276.4,71.3 276.2,73.2 276,74.5 276.9,76.6 277.1,77.9 277.7,79.7 278.2,82 285.7,82Z M189.1,56.9 190,58.9 190.7,61.7 189.6,63 189.3,65 188.6,67.1 188,69.8 187,72.5 185.9,74.5 183.9,75.3 181.9,74.5 181.2,72.5 180.9,70.5 181.9,68.4 182.5,66.4 181.9,64.4 182.5,62.6 184.6,62.1 186.6,60.7 187.3,58.9 188.4,57.6Z" fill="#a9a9a9"/>
<path d="M0,16.5l0.3,-2.5m0.5,0.1l-0.3,-1.6l-0.6,1.5zM0,21.7l-0.5,-0.5m0.2,-0.2l-0.7,-0.4l0.4,0.7zM0,27l1,-0.7m0.1,0.2l0.5,-0.7l-0.8,0.3zM0,32.3l-0.4,1m-0.2,-0.1l-0.1,0.8l0.5,-0.7zM0,37.5l-1.5,0.6m-0.1,-0.3l-0.8,0.7l1.1,-0.1zM0,42.8l-0.5,0.8m-0.2,-0.1l-0.2,0.8l0.6,-0.6zM0,48.1l-1.5,0.2m0,-0.3l-0.9,0.4l1,0.1zM0,53.3l-1.3,0.1m0,-0.2l-0.8,0.3l0.8,0.2zM0,58.6l-1.6,0.3m-0.1,-0.3l-0.9,0.5l1,0.1zM0,63.8l-1,0.4m-0.1,-0.2l-0.6,0.6l0.8,-0.1zM0,69.1l2,3.7m-0.5,0.3l1.3,1.3l-0.4,-1.8zM0,74.4l1.7,1.2m-0.2,0.3l1.3,0.4l-0.8,-1.1zM0,79.6l1.1,-1.3m0.2,0.2l0.4,-1l-0.9,0.6zM12.2,16.5l1.6,-2.4m0.4,0.3l0.5,-1.8l-1.4,1.2zM12.2,21.7l0.7,-0.1m0,0.2l0.8,-0.4l-0.8,-0.1zM12.2,27l1,0.8m-0.2,0.2l0.8,0.3l-0.5,-0.7zM12.2,32.3l1.2,2.7m-0.5,0.2l1.2,1.4l-0.2,-1.9zM12.2,37.5l-1.3,2.2m-0.4,-0.2l-0.4,1.6l1.2,-1.1zM12.2,42.8l-3.2,0.4m-0.1,-0.5l-1.7,0.7l1.8,0.3zM12.2,53.3l-0.2,-1.7m0.3,0l-0.4,-1l-0.2,1.1zM12.2,58.6l0.2,-1.2m0.2,0l-0.1,-0.8l-0.4,0.8zM12.2,63.8l-0.9,1.1m-0.2,-0.2l-0.3,0.8l0.7,-0.5zM12.2,69.1l-1.3,0.5m-0.1,-0.2l-0.7,0.6l0.9,-0.1zM12.2,74.4l0.2,0.7m-0.2,0l0.4,0.7l0.1,-0.8zM24.4,16.5l1.1,-0.9m0.2,0.2l0.5,-0.7l-0.9,0.3zM24.4,21.7l1.5,1.1m-0.2,0.3l1.1,0.4l-0.7,-1zM24.4,27l-0.5,1.8m-0.3,-0.1l0,1.2l0.6,-1zM24.4,32.3l0.5,1.2m-0.2,0.1l0.5,0.7l-0.1,-0.9zM24.4,37.5l-1.4,-0.4m0.1,-0.3l-0.9,0l0.8,0.5zM24.4,42.8l-0.8,-1.3m0.2,-0.1l-0.7,-0.6l0.2,0.9zM24.4,48.1l1.7,-0.9m0.2,0.3l0.9,-0.9l-1.2,0.3zM24.4,53.3l-0.3,-1.9m0.3,0l-0.5,-1.1l-0.2,1.2zM24.4,58.6l1.7,-1.5m0.3,0.3l0.8,-1.2l-1.3,0.6zM24.4,63.8l-0.4,-4.2m0.5,0l-0.7,-1.7l-0.4,1.8zM24.4,79.6l2.2,-1.1m0.2,0.4l1.2,-1.1l-1.6,0.3zM36.6,16.5l2.9,-0.8m0.1,0.5l1.6,-1l-1.9,0zM36.6,21.7l0.6,0.3m-0.1,0.2l0.8,0.2l-0.6,-0.6zM36.6,27l2.3,-0.7m0.1,0.4l1.3,-0.8l-1.5,0zM36.6,32.3l-1.6,0.8m-0.2,-0.3l-0.8,0.8l1.1,-0.2zM36.6,37.5l-2,1.3m-0.2,-0.4l-1,1.1l1.4,-0.4zM36.6,42.8l-0.1,-1.4m0.3,0l-0.3,-0.8l-0.2,0.9zM36.6,48.1l0.4,-1.3m0.2,0.1l0,-0.9l-0.5,0.7zM36.6,53.3l-0.9,-1.7m0.3,-0.2l-0.9,-0.9l0.2,1.2zM36.6,58.6l-0.9,-3.5m0.5,-0.1l-0.9,-1.6l-0.1,1.9zM36.6,63.8l-1.7,-0.4m0.1,-0.3l-1.1,0l0.9,0.6zM36.6,69.1l0.3,2m-0.4,0l0.5,1.2l0.2,-1.3zM36.6,74.4l1.3,1.8m-0.3,0.2l1.1,0.8l-0.5,-1.3zM36.6,79.6l1,0m0,0.2l0.8,-0.3l-0.8,-0.2zM48.9,16.5l-1,-1.6m0.3,-0.2l-0.9,-0.8l0.3,1.2zM48.9,21.7l-0.9,-2.7m0.5,-0.2l-1.1,-1.5l0.1,1.8zM48.9,27l3,-3m0.4,0.4l0.9,-1.7l-1.6,0.9zM48.9,32.3l-0.2,1.2m-0.2,0l0.1,0.8l0.4,-0.8zM48.9,37.5l-0.3,2.8m-0.5,-0.1l0.3,1.8l0.7,-1.7zM48.9,42.8l-1.1,-1.4m0.3,-0.2l-0.9,-0.7l0.4,1.1zM48.9,48.1l-0.7,-0.3m0.1,-0.2l-0.8,-0.1l0.7,0.5zM48.9,53.3l-0.7,-0.3m0.1,-0.2l-0.8,-0.1l0.6,0.6zM48.9,58.6l-2.6,-3.3m0.4,-0.3l-1.5,-1.1l0.7,1.8zM48.9,63.8l-1.8,2.1m-0.4,-0.3l-0.7,1.6l1.5,-1zM48.9,69.1l-0.4,1.1m-0.2,-0.1l-0.1,0.8l0.5,-0.7zM48.9,74.4l3.1,-2.5m0.3,0.4l1.1,-1.6l-1.7,0.7zM48.9,79.6l0.5,-2m0.4,0.1l-0.1,-1.3l-0.7,1.1zM61.1,16.5l-1.3,-0.6m0.1,-0.2l-0.9,-0.1l0.7,0.6zM61.1,21.7l-4.2,0.3m0,-0.5l-1.8,0.7l1.8,0.4zM61.1,27l-1,-3.4m0.5,-0.2l-1,-1.6l0,1.9zM61.1,32.3l0.5,-0.5m0.2,0.2l0.4,-0.7l-0.7,0.4zM61.1,37.5l-0.6,1.1m-0.2,-0.1l-0.2,0.8l0.6,-0.6zM61.1,42.8l-1.2,2.3m-0.4,-0.2l-0.3,1.6l1.2,-1.2zM61.1,48.1l-1.9,0.7m-0.1,-0.3l-1,0.7l1.3,-0.1zM61.1,53.3l-3.1,-1m0.2,-0.5l-1.9,-0.1l1.5,1.1zM61.1,58.6l-0.7,0.4m-0.1,-0.2l-0.6,0.6l0.8,-0.1zM61.1,74.4l-0.1,-3.9m0.5,0l-0.6,-1.8l-0.5,1.8zM61.1,79.6l0.5,-2.4m0.4,0.1l-0.2,-1.6l-0.7,1.4zM73.3,16.5l-0.6,0.4m-0.1,-0.2l-0.5,0.7l0.8,-0.3zM73.3,21.7l-0.4,0.8m-0.2,-0.1l-0.1,0.8l0.5,-0.6zM73.3,27l-1.4,-1.1m0.2,-0.2l-1,-0.4l0.6,0.9zM73.3,32.3l1.8,-2.9m0.5,0.3l0.5,-1.8l-1.4,1.3zM73.3,37.5l1.4,-0.4m0.1,0.3l0.8,-0.5l-0.9,0zM73.3,42.8l0.5,1.4m-0.3,0.1l0.6,0.8l-0.1,-0.9zM73.3,48.1l2,1m-0.2,0.4l1.4,0.3l-1,-1zM73.3,53.3l1.6,2.5m-0.5,0.3l1.4,1.2l-0.5,-1.8zM73.3,58.6l0,0.8m-0.2,0l0.3,0.8l0.2,-0.8zM73.3,63.8l1,0m0,0.2l0.8,-0.2l-0.8,-0.2zM73.3,79.6l-2.4,1m-0.2,-0.4l-1.3,1.1l1.6,-0.2zM85.5,16.5l2,2m-0.4,0.4l1.6,0.9l-0.9,-1.6zM85.5,21.7l1.3,0.3m0,0.2l0.8,-0.1l-0.7,-0.4zM85.5,27l1.2,3.6m-0.5,0.2l1.1,1.5l-0.1,-1.9zM85.5,32.3l-0.8,-1m0.2,-0.1l-0.7,-0.5l0.3,0.8zM85.5,37.5l0.2,-1.9m0.3,0l-0.2,-1.2l-0.5,1.1zM85.5,42.8l0.7,0.2m-0.1,0.2l0.8,0l-0.7,-0.5zM85.5,48.1l0.8,1.7m-0.3,0.2l0.8,0.9l-0.2,-1.2zM85.5,53.3l2.9,-1.1m0.2,0.5l1.5,-1.1l-1.9,0.1zM85.5,58.6l2.9,-2.2m0.3,0.4l1.1,-1.5l-1.8,0.7zM85.5,63.8l0.2,-2.3m0.4,0l-0.3,-1.4l-0.5,1.4zM85.5,69.1l-1,-0.1m0,-0.2l-0.8,0.1l0.8,0.3zM85.5,74.4l-2.3,1.1m-0.2,-0.4l-1.2,1.1l1.6,-0.3zM85.5,79.6l1.4,0.8m-0.1,0.3l1,0.2l-0.7,-0.7zM97.7,16.5l2.7,-1m0.2,0.5l1.4,-1.1l-1.8,0.1zM97.7,21.7l0.5,1m-0.2,0.1l0.5,0.6l-0.1,-0.8zM97.7,27l-0.9,1.5m-0.3,-0.2l-0.3,1.1l0.8,-0.7zM97.7,32.3l-1.9,0.3m-0.1,-0.4l-1.1,0.6l1.2,0.2zM97.7,37.5l-1.5,0.5m-0.1,-0.3l-0.8,0.6l1,0zM97.7,42.8l-2.2,-1.5m0.3,-0.4l-1.6,-0.5l1,1.3zM97.7,48.1l0.3,-0.6m0.2,0.1l0.1,-0.8l-0.5,0.6zM97.7,53.3l2.3,0.6m-0.1,0.4l1.5,0l-1.3,-0.8zM97.7,58.6l0.5,-1.4m0.3,0.1l0.1,-0.9l-0.6,0.8zM97.7,63.8l-1.9,-0.9m0.2,-0.3l-1.3,-0.2l1,0.9zM97.7,69.1l-0.7,1.5m-0.3,-0.1l-0.1,1.1l0.7,-0.8zM97.7,74.4l0,2.1m-0.4,0l0.4,1.3l0.4,-1.3zM97.7,79.6l1.1,2.1m-0.4,0.2l1.1,1.1l-0.3,-1.5zM109.9,16.5l2.5,-0.5m0.1,0.5l1.5,-0.7l-1.6,-0.2zM109.9,21.7l1.5,1.6m-0.3,0.3l1.2,0.7l-0.6,-1.2zM109.9,27l0.2,0.8m-0.2,0.1l0.4,0.7l0.1,-0.8zM109.9,32.3l-0.6,0.3m-0.1,-0.2l-0.6,0.5l0.8,-0.1zM109.9,37.5l-2.4,1.4m-0.3,-0.4l-1.2,1.3l1.7,-0.4zM109.9,42.8l-0.5,-1.1m0.2,-0.1l-0.6,-0.6l0.1,0.8zM109.9,48.1l-0.6,-2.1m0.4,-0.1l-0.8,-1.2l0,1.4zM109.9,53.3l1.8,-3.2m0.5,0.3l0.4,-1.8l-1.4,1.3zM109.9,79.6l1.5,-1.7m0.3,0.3l0.6,-1.3l-1.3,0.8zM122.1,16.5l0.4,-0.7m0.2,0.1l0.2,-0.8l-0.6,0.6zM122.1,27l1,0m0,0.2l0.8,-0.2l-0.8,-0.3zM122.1,32.3l-0.1,1.2m-0.2,0l0.2,0.8l0.3,-0.8zM122.1,37.5l-0.6,-0.4m0.1,-0.2l-0.8,-0.2l0.5,0.6zM122.1,42.8l-1,-1.6m0.3,-0.2l-0.9,-0.8l0.3,1.2zM122.1,48.1l3.8,-1.2m0.2,0.5l1.6,-1.1l-1.9,0zM122.1,53.3l0.4,-0.9m0.2,0.1l0.1,-0.8l-0.6,0.6zM122.1,79.6l0.3,0.7m-0.2,0.1l0.5,0.6l-0.1,-0.8zM134.4,16.5l2.3,-0.6m0.1,0.4l1.3,-0.8l-1.5,0zM134.4,27l1,1.4m-0.3,0.2l0.9,0.7l-0.4,-1zM134.4,32.3l-2.7,0.6m-0.1,-0.5l-1.5,0.9l1.7,0.1zM134.4,37.5l-2.1,-2.4m0.4,-0.4l-1.6,-1l0.8,1.7zM134.4,42.8l0.4,-1.4m0.3,0.1l0,-0.9l-0.5,0.8zM134.4,48.1l2.6,-1.2m0.2,0.5l1.4,-1.2l-1.8,0.3zM134.4,53.3l2.8,-0.6m0.1,0.5l1.6,-0.9l-1.8,-0.2zM134.4,58.6l2.2,0.3m-0.1,0.4l1.4,-0.2l-1.3,-0.6zM134.4,63.8l0.7,-0.9m0.2,0.1l0.3,-0.8l-0.7,0.5zM134.4,69.1l-1.5,-0.1m0,-0.3l-1,0.2l0.9,0.4zM134.4,74.4l0,1.5m-0.3,0l0.3,0.9l0.3,-1zM134.4,79.6l-1.5,3.8m-0.5,-0.2l-0.1,1.9l1.2,-1.5zM146.6,0.7l-0.4,0.6m-0.2,-0.1l-0.3,0.8l0.7,-0.5zM146.6,5.9l-1.2,2.2m-0.4,-0.2l-0.3,1.6l1.1,-1.1zM146.6,11.2l0.5,1.5m-0.3,0.1l0.6,0.8l-0.1,-1zM146.6,16.5l-1.6,2.4m-0.4,-0.3l-0.5,1.8l1.4,-1.2zM146.6,21.7l-1.1,0.5m-0.1,-0.2l-0.6,0.6l0.8,-0.1zM146.6,27l-0.7,-0.5m0.1,-0.2l-0.8,-0.2l0.5,0.6zM146.6,42.8l-0.1,3.2m-0.5,0l0.5,1.8l0.6,-1.8zM146.6,48.1l-2.6,3.3m-0.4,-0.3l-0.7,1.8l1.5,-1.1zM146.6,53.3l1.5,1.3m-0.2,0.3l1.2,0.5l-0.7,-1.1zM146.6,58.6l2.4,-0.7m0.1,0.4l1.4,-0.9l-1.6,0zM146.6,63.8l2.4,-3m0.4,0.3l0.7,-1.7l-1.5,1.1zM146.6,69.1l1.2,-0.8m0.1,0.2l0.6,-0.7l-0.9,0.3zM146.6,74.4l-0.8,-0.1m0,-0.2l-0.8,0.1l0.8,0.3zM146.6,79.6l-2.2,0.6m-0.1,-0.4l-1.2,0.8l1.4,0zM158.8,0.7l0.2,-0.7m0.2,0.1l0,-0.8l-0.4,0.7zM158.8,5.9l-0.9,1.4m-0.3,-0.2l-0.3,1l0.8,-0.7zM158.8,11.2l-1.6,0.1m0,-0.3l-1,0.3l1,0.3zM158.8,16.5l-2.7,0m0,-0.5l-1.6,0.5l1.6,0.5zM158.8,21.7l-0.9,0.7m-0.2,-0.2l-0.5,0.7l0.8,-0.3zM158.8,27l-0.9,-1.1m0.2,-0.2l-0.7,-0.5l0.3,0.8zM158.8,32.3l1.3,-2.8m0.5,0.2l0.2,-1.9l-1.2,1.4zM158.8,37.5l-0.5,1.4m-0.3,-0.1l0,1l0.6,-0.8zM158.8,42.8l-0.7,0.3m-0.1,-0.2l-0.6,0.5l0.8,-0.1zM158.8,48.1l-1.8,-0.6m0.1,-0.3l-1.2,0l1,0.7zM158.8,53.3l-0.7,0m0,-0.2l-0.8,0.3l0.8,0.2zM158.8,79.6l-2.2,1.1m-0.2,-0.4l-1.1,1.1l1.5,-0.3zM171,0.7l1.2,-0.9m0.2,0.2l0.6,-0.7l-0.9,0.3zM171,5.9l0.5,-0.6m0.2,0.2l0.3,-0.8l-0.7,0.5zM171,11.2l-2.2,-1.1m0.2,-0.4l-1.5,-0.3l1.1,1.1zM171,16.5l-0.9,-0.4m0.1,-0.2l-0.8,-0.1l0.6,0.6zM171,32.3l-0.6,1.6m-0.3,-0.1l-0.1,1.1l0.7,-0.9zM171,37.5l-1.8,1.2m-0.2,-0.3l-0.9,1l1.3,-0.4zM171,42.8l-1.3,-0.6m0.1,-0.2l-0.9,-0.1l0.7,0.6zM171,48.1l-3.9,-1.4m0.2,-0.5l-1.9,-0.1l1.5,1.1zM171,53.3l-0.1,-2.5m0.5,0l-0.5,-1.5l-0.4,1.6zM171,58.6l-1.6,-1.3m0.2,-0.3l-1.2,-0.5l0.7,1.1zM171,63.8l-2.1,0m0,-0.4l-1.3,0.4l1.3,0.4zM171,69.1l1.3,0.4m-0.1,0.2l0.9,0l-0.7,-0.5zM171,74.4l1.8,2m-0.4,0.3l1.4,0.9l-0.7,-1.5zM171,79.6l-1,-1.1m0.2,-0.2l-0.8,-0.5l0.4,0.9zM183.2,0.7l0.6,0.5m-0.2,0.2l0.8,0.4l-0.4,-0.7zM183.2,16.5l0.1,-0.9m0.2,0l-0.2,-0.8l-0.3,0.8zM183.2,21.7l3.1,-2.5m0.3,0.4l1.1,-1.5l-1.7,0.7zM183.2,27l2.9,-1.5m0.2,0.5l1.4,-1.3l-1.8,0.3zM183.2,32.3l0.5,0.7m-0.2,0.1l0.7,0.5l-0.3,-0.8zM183.2,37.5l-2.3,1.7m-0.3,-0.4l-1.1,1.5l1.7,-0.6zM183.2,42.8l-0.4,-0.6m0.2,-0.1l-0.6,-0.6l0.2,0.8zM183.2,48.1l0.9,-2.5m0.5,0.2l0.1,-1.7l-1,1.4zM183.2,69.1l0.5,1.7m-0.3,0.1l0.6,0.9l0,-1.1zM183.2,74.4l1.4,1.4m-0.3,0.3l1.1,0.6l-0.6,-1.1zM183.2,79.6l0.5,-0.9m0.2,0.1l0.2,-0.8l-0.6,0.6zM195.4,0.7l1.9,0.3m0,0.3l1.2,-0.2l-1.1,-0.5zM195.4,5.9l0.8,-0.3m0.1,0.2l0.7,-0.5l-0.8,0zM195.4,11.2l2.8,-2.5m0.4,0.4l1,-1.6l-1.7,0.8zM195.4,16.5l0.8,-1.2m0.2,0.1l0.3,-0.9l-0.7,0.6zM195.4,21.7l1.7,-1.1m0.2,0.3l0.8,-1l-1.2,0.4zM195.4,27l1.3,2.5m-0.5,0.2l1.3,1.3l-0.3,-1.8zM195.4,32.3l-2.2,3.6m-0.5,-0.3l-0.5,1.8l1.4,-1.3zM195.4,37.5l-0.7,-0.5m0.1,-0.2l-0.8,-0.3l0.5,0.7zM195.4,42.8l-1.4,-2.4m0.4,-0.3l-1.3,-1.2l0.4,1.7zM195.4,63.8l-2.5,-1.2m0.2,-0.5l-1.7,-0.3l1.3,1.2zM207.6,0.7l0.7,-1.1m0.2,0.1l0.2,-0.8l-0.7,0.6zM207.6,5.9l1.7,0m0,0.3l1.1,-0.3l-1.1,-0.3zM207.6,11.2l-1.2,-2.6m0.5,-0.2l-1.2,-1.4l0.3,1.8zM207.6,16.5l3.1,-1.9m0.3,0.5l1.3,-1.4l-1.8,0.5zM207.6,37.5l-1.3,1.2m-0.2,-0.2l-0.6,0.9l1,-0.5zM207.6,63.8l-0.9,-0.2m0,-0.2l-0.8,0.1l0.7,0.4zM207.6,69.1l-3.6,0.7m-0.1,-0.5l-1.7,0.9l1.9,0.2zM207.6,74.4l0.2,0.7m-0.2,0.1l0.4,0.7l0,-0.8zM207.6,79.6l2,1m-0.2,0.4l1.4,0.3l-1.1,-1zM219.9,0.7l0.5,-0.6m0.2,0.2l0.3,-0.8l-0.7,0.5zM219.9,5.9l-0.4,-3.6m0.5,-0.1l-0.7,-1.7l-0.3,1.8zM219.9,11.2l-1.2,-1.3m0.2,-0.2l-0.9,-0.6l0.5,1zM219.9,16.5l0.8,-1.2m0.2,0.1l0.3,-0.9l-0.7,0.6zM219.9,37.5l0.1,2.6m-0.5,0l0.5,1.6l0.4,-1.6zM219.9,63.8l-1.4,1.4m-0.3,-0.3l-0.6,1.1l1.1,-0.6zM219.9,69.1l0.6,2.1m-0.4,0.1l0.7,1.2l0,-1.4zM219.9,74.4l0.6,0.4m-0.1,0.2l0.8,0.2l-0.5,-0.6zM219.9,79.6l0.6,-0.6m0.2,0.2l0.4,-0.8l-0.7,0.4zM232.1,0.7l-3.6,-2.1m0.3,-0.5l-1.8,-0.5l1.3,1.4zM232.1,5.9l-1.4,-0.7m0.1,-0.3l-1,-0.2l0.7,0.7zM232.1,11.2l-2.2,0.2m0,-0.4l-1.3,0.5l1.4,0.3zM232.1,16.5l-2.3,-0.2m0,-0.4l-1.5,0.3l1.4,0.6zM232.1,21.7l-0.6,-0.4m0.1,-0.2l-0.8,-0.2l0.6,0.6zM232.1,27l-0.2,-0.8m0.2,-0.1l-0.4,-0.7l0,0.8zM232.1,32.3l0.7,0m0,0.2l0.8,-0.2l-0.8,-0.3zM232.1,37.5l1.5,0.8m-0.2,0.3l1.1,0.2l-0.8,-0.8zM232.1,63.8l-0.4,2.4m-0.4,-0.1l0.2,1.5l0.7,-1.4zM232.1,69.1l1,-1m0.2,0.2l0.4,-0.8l-0.8,0.4zM232.1,74.4l-0.1,-0.7m0.2,0l-0.3,-0.8l-0.1,0.8zM232.1,79.6l-0.1,-0.7m0.2,0l-0.4,-0.8l-0.1,0.8zM244.3,0.7l-3.5,-1.9m0.3,-0.5l-1.8,-0.4l1.3,1.3zM244.3,5.9l-3,0.9m-0.1,-0.5l-1.6,1l1.9,0zM244.3,11.2l-1,2.3m-0.4,-0.2l-0.2,1.6l1.1,-1.2zM244.3,16.5l-0.9,1.4m-0.3,-0.2l-0.3,1l0.8,-0.7zM244.3,21.7l-3.6,0.5m-0.1,-0.5l-1.7,0.8l1.9,0.3zM244.3,27l-1,-2.2m0.4,-0.2l-1,-1.2l0.2,1.5zM244.3,58.6l2,1m-0.2,0.4l1.4,0.2l-1.1,-1zM244.3,63.8l2.3,0.3m0,0.4l1.5,-0.3l-1.4,-0.6zM244.3,69.1l0.7,-0.5m0.1,0.2l0.5,-0.6l-0.8,0.2zM244.3,74.4l-1.2,0.3m-0.1,-0.2l-0.7,0.4l0.8,0zM244.3,79.6l-1.1,0.8m-0.1,-0.2l-0.5,0.7l0.8,-0.3zM256.5,0.7l-3.3,2.8m-0.3,-0.4l-1,1.6l1.7,-0.7zM256.5,5.9l2.4,0.7m-0.1,0.4l1.6,0l-1.4,-0.9zM256.5,11.2l2.4,0.7m-0.1,0.4l1.6,0l-1.4,-0.9zM256.5,16.5l1.8,3.3m-0.5,0.3l1.3,1.3l-0.4,-1.8zM256.5,42.8l1.9,-0.5m0.1,0.4l1.1,-0.6l-1.3,-0.1zM256.5,53.3l1.8,-1m0.2,0.3l0.9,-1l-1.3,0.3zM256.5,58.6l0.4,-0.6m0.2,0.1l0.3,-0.8l-0.6,0.5zM256.5,79.6l3.1,2.1m-0.3,0.4l1.8,0.6l-1.2,-1.5zM268.7,0.7l0.9,2.7m-0.5,0.2l1,1.5l0,-1.8zM268.7,5.9l2.2,-1.5m0.3,0.4l1.1,-1.3l-1.6,0.5zM268.7,11.2l0.6,-0.4m0.1,0.2l0.6,-0.6l-0.8,0.2zM268.7,16.5l1.1,-1.3m0.2,0.2l0.4,-1l-0.9,0.6zM268.7,32.3l-1,1.1m-0.2,-0.2l-0.4,0.8l0.8,-0.5zM268.7,37.5l-0.8,-1.2m0.2,-0.2l-0.7,-0.6l0.3,0.9zM268.7,42.8l1.3,-3.6m0.5,0.2l0.1,-1.9l-1.1,1.5zM268.7,48.1l1.3,-0.7m0.1,0.2l0.7,-0.6l-0.9,0.2zM268.7,53.3l0.5,-0.6m0.2,0.2l0.3,-0.8l-0.7,0.5zM268.7,58.6l1.1,-3.6m0.5,0.2l0,-1.9l-1,1.6zM268.7,79.6l2.4,0.6m-0.1,0.4l1.6,-0.1l-1.4,-0.8zM280.9,0.7l0.5,0.9m-0.2,0.1l0.6,0.6l-0.2,-0.8zM280.9,5.9l2.1,-1.1m0.2,0.4l1.1,-1.1l-1.5,0.3zM280.9,11.2l1.2,-0.7m0.1,0.2l0.6,-0.6l-0.8,0.2zM280.9,16.5l-0.1,-2.2m0.4,0l-0.5,-1.3l-0.3,1.4zM280.9,21.7l2.8,-0.2m0,0.5l1.7,-0.7l-1.8,-0.4zM280.9,27l-0.1,1.2m-0.2,0l0.2,0.8l0.3,-0.8zM280.9,32.3l-3.7,0.4m-0.1,-0.5l-1.7,0.7l1.8,0.4zM280.9,37.5l-0.8,-0.4m0.1,-0.2l-0.8,-0.2l0.6,0.6zM280.9,53.3l1.4,-1.4m0.3,0.3l0.6,-1.1l-1.1,0.6zM280.9,58.6l0.2,-1.4m0.3,0l-0.1,-0.9l-0.4,0.9zM280.9,79.6l2.1,-0.5m0.1,0.4l1.2,-0.7l-1.4,-0.1z" stroke="#606060" stroke-width="0.8" fill="#606060"/>
<path d="M0,0.7l-7.2,-4.7m0.6,-0.9l-4.1,-1.4l2.9,3.2zM0,5.9l-8.3,-0.1m0,-1.1l-4.1,1l4.1,1.1zM0,11.2l-5.6,-1.3m0.2,-0.7l-2.9,0.1l2.6,1.4zM12.2,0.7l-4.4,-2.7m0.4,-0.6l-2.5,-0.8l1.8,1.9zM12.2,5.9l-5.2,-1.6m0.2,-0.7l-2.8,-0.1l2.4,1.5zM12.2,11.2l-6.5,-2.8m0.4,-0.8l-3.6,-0.6l2.9,2.2zM12.2,48.1l3.9,4.6m-0.6,0.5l2.5,1.7l-1.3,-2.7zM12.2,79.6l4.2,-3.1m0.4,0.5l1.7,-2.1l-2.5,1zM24.4,0.7l-8.6,-1.6m0.2,-1.1l-4.4,0.3l4,1.9zM24.4,5.9l-8.1,-0.1m0,-1l-4,1l4,1.1zM24.4,11.2l-7.7,-3.2m0.4,-1l-4.2,-0.6l3.4,2.6zM24.4,69.1l-1.6,4.8m-0.6,-0.2l-0.2,2.6l1.4,-2.2zM24.4,74.4l0.7,5.5m-0.7,0.1l1.1,2.6l0.3,-2.8zM36.6,0.7l-5.9,0.4m0,-0.8l-2.9,0.9l2.9,0.6zM36.6,5.9l-9.1,2.4m-0.3,-1.2l-4.2,2.3l4.8,0zM36.6,11.2l-8,-0.3m0,-1l-4,0.9l3.9,1.2zM48.9,0.7l-6,1m-0.1,-0.8l-2.8,1.2l3.1,0.3zM48.9,5.9l-6.8,-1.6m0.2,-0.9l-3.6,0.1l3.2,1.7zM48.9,11.2l-6.7,0m0,-0.9l-3.3,0.9l3.3,0.9zM61.1,0.7l-9.2,2.5m-0.3,-1.2l-4.2,2.4l4.8,-0.1zM61.1,5.9l-6,-0.5m0.1,-0.8l-3,0.5l2.9,1zM61.1,11.2l-7.1,3.2m-0.4,-0.9l-3.1,2.5l3.9,-0.7zM61.1,63.8l0.8,-3.5m0.6,0.1l-0.2,-1.9l-1,1.6zM61.1,69.1l0.4,-3.8m0.6,0.1l-0.4,-1.9l-0.8,1.8zM73.3,0.7l-9,3.6m-0.5,-1.1l-4,2.9l4.9,-0.6zM73.3,5.9l-7.1,3.4m-0.4,-0.9l-3.1,2.6l3.9,-0.8zM73.3,11.2l-10.5,0.5m-0.1,-1.3l-4.9,1.5l5.1,1.1zM73.3,69.1l1.1,4.9m-0.6,0.1l1.1,2.3l0.1,-2.5zM73.3,74.4l-1.4,5.1m-0.7,-0.2l0,2.7l1.4,-2.4zM85.5,0.7l-9.5,0.1m0,-1.2l-4.7,1.3l4.7,1.1zM85.5,5.9l-5.9,0.9m-0.1,-0.8l-2.8,1.2l3,0.3zM85.5,11.2l-6.2,1.8m-0.2,-0.8l-2.8,1.7l3.3,-0.1zM97.7,0.7l-6,4m-0.5,-0.8l-2.5,2.7l3.5,-1.2zM97.7,5.9l-8.7,2.1m-0.3,-1.1l-4,2.2l4.6,0.1zM97.7,11.2l-10.2,1.8m-0.2,-1.3l-4.7,2.2l5.2,0.4zM109.9,0.7l-8.2,0.9m-0.1,-1.1l-3.9,1.5l4.2,0.6zM109.9,5.9l-8.3,0.8m-0.1,-1.1l-4,1.4l4.2,0.7zM109.9,11.2l-10.2,-0.4m0.1,-1.3l-5.1,1.1l4.9,1.5zM109.9,58.6l2.8,3.8m-0.5,0.4l1.8,1.5l-0.9,-2.2zM109.9,63.8l1.3,4.4m-0.6,0.2l1.2,2l-0.1,-2.3zM109.9,69.1l1.1,4.2m-0.6,0.2l1.1,1.9l0,-2.2zM109.9,74.4l1,5.6m-0.7,0.1l1.2,2.6l0.2,-2.9zM122.1,0.7l-9.7,-0.3m0,-1.2l-4.8,1.1l4.7,1.4zM122.1,5.9l-8.2,1.3m-0.2,-1.1l-3.9,1.7l4.2,0.4zM122.1,11.2l-9.6,-0.2m0,-1.2l-4.8,1.2l4.7,1.3zM122.1,21.7l-4.9,2.8m-0.4,-0.6l-2.1,2l2.8,-0.7zM122.1,58.6l2.6,5.9m-0.8,0.3l2,2.6l-0.5,-3.2zM122.1,63.8l1,5.9m-0.8,0.1l1.3,2.8l0.2,-3.1zM122.1,69.1l3,4.6m-0.6,0.4l2.1,1.9l-0.9,-2.7zM122.1,74.4l1.7,4.5m-0.6,0.2l1.4,2l-0.3,-2.4zM134.4,0.7l-9.8,1.1m-0.1,-1.3l-4.7,1.8l4.9,0.7zM134.4,5.9l-7.8,2.7m-0.3,-1l-3.5,2.3l4.2,-0.3zM134.4,11.2l-8.4,4.3m-0.6,-1.1l-3.6,3.2l4.7,-1.1zM134.4,21.7l-6.1,3.6m-0.5,-0.8l-2.5,2.6l3.5,-1zM146.6,32.3l-0.1,3.2m-0.6,0l0.6,1.6l0.6,-1.6zM146.6,37.5l0.7,3.4m-0.6,0.1l0.9,1.6l0.2,-1.8zM158.8,58.6l-5.8,0.1m0,-0.7l-2.8,0.8l2.9,0.7zM158.8,63.8l-4.4,-0.9m0.1,-0.6l-2.3,0.1l2,1.1zM158.8,69.1l-5.7,-0.4m0,-0.7l-2.8,0.5l2.7,0.9zM158.8,74.4l-5.2,-0.4m0.1,-0.7l-2.6,0.5l2.5,0.9zM171,21.7l-3.1,3.2m-0.4,-0.4l-1.1,2l1.9,-1.2zM171,27l-4.6,2.3m-0.3,-0.6l-2,1.7l2.6,-0.5zM183.2,5.9l1.7,3.2m-0.5,0.3l1.3,1.3l-0.3,-1.8zM183.2,11.2l2.1,4.6m-0.6,0.3l1.6,2l-0.5,-2.5zM183.2,53.3l-13.7,-2.9m0.3,-1.3l-5.2,0.2l4.6,2.3zM183.2,58.6l-3.6,3.8m-0.5,-0.5l-1.3,2.3l2.3,-1.4zM183.2,63.8l-3.2,3.4m-0.4,-0.4l-1.1,2.1l2,-1.2zM195.4,48.1l-10.6,-1.4m0.2,-1.3l-5.1,0.6l4.8,1.9zM195.4,53.3l-12.6,3.3m-0.3,-1.3l-4.5,2.5l5.2,0zM195.4,58.6l-7,4.3m-0.6,-0.9l-2.9,3l4,-1.2zM195.4,69.1l-1.6,-5.2m0.7,-0.2l-1.5,-2.4l0.1,2.8zM195.4,74.4l-2.3,-5.7m0.7,-0.3l-1.9,-2.5l0.4,3.1zM195.4,79.6l-0.8,-5.1m0.6,-0.1l-1.1,-2.4l-0.2,2.6zM207.6,21.7l1.3,5.5m-0.7,0.2l1.4,2.5l0,-2.9zM207.6,27l1.6,6.1m-0.8,0.2l1.6,2.8l0,-3.2zM207.6,32.3l2.5,3.2m-0.5,0.4l1.7,1.2l-0.8,-2zM207.6,42.8l-5.9,-1.9m0.2,-0.8l-3.1,-0.2l2.7,1.7zM207.6,48.1l-10.2,-3.6m0.4,-1.2l-5.1,-0.4l4.3,2.9zM207.6,53.3l-8.3,1.9m-0.2,-1.1l-3.8,2l4.3,0.1zM207.6,58.6l-7.8,-0.9m0.1,-1l-3.9,0.5l3.7,1.4zM219.9,21.7l3,3.2m-0.4,0.4l1.9,1.2l-1,-2zM219.9,27l2.8,6.1m-0.8,0.4l2.2,2.7l-0.6,-3.4zM219.9,32.3l3.1,5.8m-0.7,0.4l2.2,2.5l-0.8,-3.2zM219.9,42.8l-6.3,-1.8m0.2,-0.8l-3.3,-0.1l2.9,1.7zM219.9,48.1l-9.3,-1.3m0.2,-1.2l-4.7,0.6l4.4,1.8zM219.9,53.3l-8.3,-1.9m0.2,-1.1l-4.3,0.1l3.9,2zM219.9,58.6l-6.4,-1.2m0.2,-0.8l-3.3,0.2l3,1.4zM232.1,42.8l-5.3,-1.9m0.2,-0.7l-2.8,-0.3l2.4,1.6zM232.1,48.1l-8.7,-0.7m0.1,-1.1l-4.4,0.7l4.2,1.5zM232.1,53.3l-11.6,3.3m-0.4,-1.3l-4.5,2.6l5.2,-0.1zM232.1,58.6l-8.3,-0.3m0,-1.1l-4.1,0.9l4,1.2zM244.3,32.3l-4.6,-0.7m0.1,-0.6l-2.4,0.3l2.2,0.9zM244.3,37.5l-7.1,-1.5m0.2,-0.9l-3.7,0.2l3.3,1.7zM244.3,42.8l-9.1,0.1m0,-1.2l-4.5,1.2l4.5,1.1zM244.3,48.1l-6.5,0.7m-0.1,-0.8l-3.1,1.2l3.3,0.5zM244.3,53.3l-7.6,-0.7m0.1,-1l-3.8,0.6l3.7,1.3zM256.5,21.7l4.5,-0.8m0.1,0.6l2.1,-1l-2.3,-0.2zM256.5,27l3.9,-1m0.1,0.6l1.8,-1.1l-2.1,-0.1zM256.5,32.3l-6.3,-1.7m0.2,-0.8l-3.3,0l2.9,1.6zM256.5,37.5l-5.3,-0.9m0.1,-0.7l-2.7,0.2l2.5,1.1zM256.5,48.1l-5.9,0.3m0,-0.7l-2.8,0.9l2.9,0.6zM256.5,63.8l-7,0.1m0,-0.9l-3.4,0.9l3.5,0.9zM256.5,69.1l-8.1,0.6m-0.1,-1l-3.9,1.3l4,0.7zM256.5,74.4l-8.2,4m-0.5,-1.1l-3.5,3l4.6,-0.9zM268.7,21.7l4.9,0.1m0,0.6l2.4,-0.6l-2.4,-0.7zM268.7,27l6.3,2.1m-0.3,0.8l3.4,0.2l-2.8,-1.8zM268.7,63.8l-9.3,4.3m-0.5,-1.2l-4,3.3l5.1,-0.9zM268.7,69.1l-10.3,1.2m-0.2,-1.3l-4.8,1.9l5.1,0.7zM268.7,74.4l-8.2,2.5m-0.3,-1l-3.7,2.3l4.3,-0.2zM280.9,42.8l2,4.4m-0.6,0.3l1.5,1.9l-0.4,-2.4zM280.9,48.1l3.1,3.6m-0.5,0.4l2,1.4l-1.1,-2.2zM280.9,63.8l-6.6,1.9m-0.2,-0.8l-3,1.8l3.5,-0.1zM280.9,69.1l-6.9,0.2m0,-0.9l-3.4,1l3.5,0.8zM280.9,74.4l-8.8,3.3m-0.4,-1.1l-3.9,2.7l4.8,-0.5z" stroke="#000" stroke-width="1" fill="#000"/>
<rect x="235.5" y="0" width="49.5" height="18.6" fill="#fff"/>
</svg>
<rect x="0" y="0" width="285" height="81.3" fill="none" stroke="#555" stroke-width="0.7"/>
<path d="M0,0 v-3 M0,81.3 v3 M40.7,0 v-3 M40.7,81.3 v3 M81.4,0 v-3 M81.4,81.3 v3 M122.1,0 v-3 M122.1,81.3 v3 M162.9,0 v-3 M162.9,81.3 v3 M203.6,0 v-3 M203.6,81.3 v3 M244.3,0 v-3 M244.3,81.3 v3 M285,0 v-3 M285,81.3 v3 M0,0 h-3.2 M285,0 h3.2 M0,20.3 h-3.2 M285,20.3 h3.2 M0,40.6 h-3.2 M285,40.6 h3.2 M0,61 h-3.2 M285,61 h3.2 M0,81.3 h-3.2 M285,81.3 h3.2" stroke="#333" stroke-width="0.7" fill="none"/>
<text x="-1.3" y="104.1" text-anchor="middle" font-size="13.1">90<tspan dy="-6.6" dx="0.4" font-size="10">°</tspan><tspan dy="6.6" dx="0.8">W</tspan></text>
<text x="39.4" y="104.1" text-anchor="middle" font-size="13.1">60<tspan dy="-6.6" dx="0.4" font-size="10">°</tspan><tspan dy="6.6" dx="0.8">W</tspan></text>
<text x="80.1" y="104.1" text-anchor="middle" font-size="13.1">30<tspan dy="-6.6" dx="0.4" font-size="10">°</tspan><tspan dy="6.6" dx="0.8">W</tspan></text>
<text x="123.3" y="104.1" text-anchor="middle" font-size="13.1">0<tspan dy="-6.6" dx="0.4" font-size="10">°</tspan></text>
<text x="161.6" y="104.1" text-anchor="middle" font-size="13.1">30<tspan dy="-6.6" dx="0.4" font-size="10">°</tspan><tspan dy="6.6" dx="0.8">E</tspan></text>
<text x="202.3" y="104.1" text-anchor="middle" font-size="13.1">60<tspan dy="-6.6" dx="0.4" font-size="10">°</tspan><tspan dy="6.6" dx="0.8">E</tspan></text>
<text x="243" y="104.1" text-anchor="middle" font-size="13.1">90<tspan dy="-6.6" dx="0.4" font-size="10">°</tspan><tspan dy="6.6" dx="0.8">E</tspan></text>
<text x="283.7" y="104.1" text-anchor="middle" font-size="13.1">120<tspan dy="-6.6" dx="0.4" font-size="10">°</tspan><tspan dy="6.6" dx="0.8">E</tspan></text>
<text x="-9" y="6.7" text-anchor="end" font-size="13.1">30<tspan dy="-6.6" dx="0.4" font-size="10">°</tspan><tspan dy="6.6" dx="0.8">N</tspan></text>
<text x="-9" y="27" text-anchor="end" font-size="13.1">15<tspan dy="-6.6" dx="0.4" font-size="10">°</tspan><tspan dy="6.6" dx="0.8">N</tspan></text>
<text x="-9" y="45.4" text-anchor="end" font-size="13.1">EQ</text>
<text x="-9" y="67.7" text-anchor="end" font-size="13.1">15<tspan dy="-6.6" dx="0.4" font-size="10">°</tspan><tspan dy="6.6" dx="0.8">S</tspan></text>
<text x="-9" y="88" text-anchor="end" font-size="13.1">30<tspan dy="-6.6" dx="0.4" font-size="10">°</tspan><tspan dy="6.6" dx="0.8">S</tspan></text>
<text x="283.5" y="11.9" text-anchor="end" font-size="13.6" textLength="44.1" lengthAdjust="spacingAndGlyphs">-5 mon</text>
<text x="0.3" y="-6" font-size="17.2" font-weight="bold">b</text>
</g>
<g transform="translate(37.6,316.9)">
<svg x="0" y="0" width="285" height="81.3" viewBox="0 0 285 81.3" overflow="hidden">
<rect x="0" y="0" width="285" height="81.3" fill="#fff"/>
<path d="M-2.7,-1.9C3.6,-3.5 29.3,-3.1 34.9,-1.9C40.5,-0.7 33.1,3.7 30.7,5.4C28.3,7.1 23.4,7.7 20.3,8.5C17.1,9.4 15.8,10.8 11.9,10.6C8.1,10.5 -0.3,9.6 -2.7,7.5C-5.1,5.4 -9,-0.3 -2.7,-1.9Z" fill="#f4a582"/>
<path d="M1.5,-1.9C3.3,-3.1 10.8,-3.1 12.3,-1.9C13.9,-0.7 12,3.8 10.9,5.4C9.8,7 7.2,7.5 5.7,7.5C4.1,7.5 2.2,7 1.5,5.4C0.8,3.8 -0.3,-0.7 1.5,-1.9Z" fill="#d6604d"/>
<path d="M3.6,-0.2C4.4,-1.3 9,-1.2 9.8,-0.2C10.7,0.7 9.7,4.4 8.8,5.4C7.9,6.5 5.5,7 4.6,6C3.7,5.1 2.7,0.8 3.6,-0.2Z" fill="#b2182b"/>
<path d="M73.5,-0.9C75.1,-1.6 83.4,-1.6 85,-0.9C86.6,-0.2 84.5,2.6 82.9,3.3C81.3,4 77.2,4 75.6,3.3C74,2.6 71.9,-0.2 73.5,-0.9Z" fill="#fddbc7"/>
<path d="M7.8,19C9.1,17.9 14.4,17.4 18.2,16.9C22,16.4 26.5,16.4 30.7,15.8C34.9,15.3 41,13.4 43.2,13.8C45.5,14.1 45.7,16.7 44.3,17.9C42.9,19.1 37.8,20 34.9,21.1C31.9,22.1 29.3,23.5 26.5,24.2C23.8,24.9 21,25.4 18.2,25.2C15.4,25.1 11.6,24.2 9.8,23.2C8.1,22.1 6.4,20 7.8,19Z" fill="#d1e5f0"/>
<path d="M22.8,22.1C22.8,22.5 22.6,23 22.3,23.3C22,23.7 21.5,24 21.1,24.1C20.6,24.2 20,24.2 19.5,24.1C19,24 18.5,23.7 18.2,23.3C18,23 17.8,22.5 17.8,22.1C17.8,21.7 18,21.2 18.2,20.9C18.5,20.5 19,20.2 19.5,20.1C20,20 20.6,20 21.1,20.1C21.5,20.2 22,20.5 22.3,20.9C22.6,21.2 22.8,21.7 22.8,22.1Z" fill="#92c5de"/>
<path d="M51.6,19C53.3,17.1 56.5,13.6 59.9,12.7C63.4,11.8 69.3,12.4 72.5,13.8C75.6,15.1 75.6,19.7 78.7,21.1C81.9,22.5 88.8,21.1 91.3,22.1C93.7,23.2 94.4,25.6 93.3,27.3C92.3,29.1 87.4,30.5 85,32.5C82.6,34.6 80.8,37.6 78.7,39.9C76.6,42.1 75.2,46.5 72.5,46.1C69.7,45.8 65.2,40.5 62,37.8C58.9,35 55.8,31.7 53.7,29.4C51.6,27.2 49.9,25.9 49.5,24.2C49.2,22.5 49.9,20.9 51.6,19Z" fill="#d1e5f0"/>
<path d="M70.8,21.1C70.8,21.8 70.4,22.7 69.9,23.3C69.4,23.9 68.5,24.4 67.6,24.6C66.8,24.9 65.6,24.9 64.8,24.6C63.9,24.4 63,23.9 62.5,23.3C62,22.7 61.6,21.8 61.6,21.1C61.6,20.3 62,19.5 62.5,18.9C63,18.3 63.9,17.7 64.8,17.5C65.6,17.3 66.8,17.3 67.6,17.5C68.5,17.7 69.4,18.3 69.9,18.9C70.4,19.5 70.8,20.3 70.8,21.1Z" fill="#92c5de"/>
<path d="M84.4,24.2C84.4,24.6 84.2,25.1 83.9,25.4C83.6,25.8 83.1,26.1 82.6,26.2C82.2,26.3 81.6,26.3 81.1,26.2C80.6,26.1 80.1,25.8 79.8,25.4C79.5,25.1 79.4,24.6 79.4,24.2C79.4,23.8 79.5,23.3 79.8,23C80.1,22.6 80.6,22.3 81.1,22.2C81.6,22.1 82.2,22.1 82.6,22.2C83.1,22.3 83.6,22.6 83.9,23C84.2,23.3 84.4,23.8 84.4,24.2Z" fill="#92c5de"/>
<path d="M92.9,25.2C92.9,25.6 92.8,26.1 92.6,26.5C92.4,26.8 92.1,27.1 91.8,27.2C91.5,27.4 91,27.4 90.7,27.2C90.4,27.1 90.1,26.8 89.9,26.5C89.7,26.1 89.6,25.6 89.6,25.2C89.6,24.8 89.7,24.3 89.9,24C90.1,23.7 90.4,23.4 90.7,23.3C91,23.1 91.5,23.1 91.8,23.3C92.1,23.4 92.4,23.7 92.6,24C92.8,24.3 92.9,24.8 92.9,25.2Z" fill="#92c5de"/>
<path d="M72.5,46.1C74,44.2 79.1,40.2 80.8,39.9C82.6,39.5 83.6,41.9 82.9,44C82.2,46.1 78.4,49.9 76.6,52.4C74.9,54.8 73.7,56.6 72.5,58.6C71.2,60.7 70,64.9 69.3,64.9C68.6,64.9 67.9,60.9 68.3,58.6C68.6,56.4 70.7,53.4 71.4,51.3C72.1,49.2 70.9,48 72.5,46.1Z" fill="#d1e5f0"/>
<path d="M-2.7,29.4C-0.9,23.8 5,26.8 7.8,27.3C10.5,27.8 13.3,30.5 14,32.5C14.7,34.6 11.8,36.5 11.9,39.9C12.1,43.2 13.8,47.9 15.1,52.4C16.3,56.9 19.4,64 19.2,67C19.1,69.9 16.3,70.5 14,70.1C11.8,69.8 8.4,66.5 5.7,64.9C2.9,63.3 -1.3,66.6 -2.7,60.7C-4.1,54.8 -4.4,35 -2.7,29.4Z" fill="#f4a582"/>
<path d="M-2.7,30.5C-1.1,25.9 4.3,28.7 6.7,29.4C9.1,30.1 11.2,32.5 11.9,34.6C12.6,36.7 10.5,39 10.9,41.9C11.2,44.9 13.1,49.2 14,52.4C14.9,55.5 16.8,59 16.1,60.7C15.4,62.5 11.9,63.2 9.8,62.8C7.8,62.5 5.7,59.7 3.6,58.6C1.5,57.6 -1.6,61.2 -2.7,56.6C-3.7,51.9 -4.3,35 -2.7,30.5Z" fill="#d6604d"/>
<path d="M-2.7,34.6C-1.3,31.3 3.6,33.1 5.7,33.6C7.8,34.1 9.1,36 9.8,37.8C10.5,39.5 9.3,41.6 9.8,44C10.4,46.5 12.6,50.3 13,52.4C13.3,54.5 13.1,56 11.9,56.6C10.7,57.1 8.1,56 5.7,55.5C3.2,55 -1.3,56.9 -2.7,53.4C-4.1,49.9 -4.1,37.9 -2.7,34.6Z" fill="#b2182b"/>
<path d="M-2.7,37.8C-1.5,35.3 2.8,36.4 4.6,36.7C6.4,37.1 7.5,38.3 8.2,39.9C8.9,41.4 8.3,44.2 8.8,46.1C9.2,48 11.2,50.2 10.9,51.3C10.5,52.4 9,52.8 6.7,52.8C4.4,52.8 -1.1,53.8 -2.7,51.3C-4.3,48.8 -3.9,40.2 -2.7,37.8Z" fill="#67001f"/>
<path d="M127.5,53.8C127.8,54.4 128.1,55.2 128.1,55.7C128.2,56.3 128.1,56.9 127.8,57.3C127.6,57.7 127.2,57.9 126.7,58C126.3,58 125.7,57.8 125.2,57.4C124.7,57.1 124.2,56.5 123.9,55.9C123.6,55.4 123.3,54.6 123.3,54C123.2,53.4 123.3,52.8 123.6,52.5C123.8,52.1 124.2,51.8 124.7,51.8C125.1,51.8 125.7,52 126.2,52.3C126.7,52.7 127.2,53.3 127.5,53.8Z" fill="#f4a582"/>
<path d="M138.5,62C138.8,62.7 138.9,63.7 138.9,64.4C138.8,65.1 138.6,65.9 138.2,66.3C137.9,66.7 137.3,66.9 136.8,66.8C136.2,66.7 135.6,66.3 135.1,65.8C134.6,65.3 134.1,64.4 133.8,63.7C133.5,62.9 133.3,61.9 133.4,61.2C133.4,60.5 133.7,59.7 134.1,59.3C134.4,59 135,58.7 135.5,58.8C136,58.9 136.7,59.3 137.2,59.8C137.7,60.3 138.2,61.2 138.5,62Z" fill="#f4a582"/>
<path d="M137.3,62.4C137.5,62.8 137.5,63.3 137.5,63.6C137.5,64 137.4,64.4 137.2,64.5C137,64.7 136.7,64.9 136.5,64.8C136.2,64.8 135.9,64.6 135.6,64.3C135.4,64.1 135.1,63.6 135,63.2C134.8,62.9 134.7,62.4 134.8,62C134.8,61.6 134.9,61.3 135.1,61.1C135.3,60.9 135.6,60.8 135.8,60.8C136.1,60.9 136.4,61.1 136.7,61.3C136.9,61.6 137.2,62 137.3,62.4Z" fill="#d6604d"/>
<path d="M140.5,78.5C140.5,78.8 140.4,79.2 140.2,79.5C140,79.7 139.7,80 139.4,80.1C139.1,80.2 138.6,80.2 138.3,80.1C138,80 137.7,79.7 137.5,79.5C137.3,79.2 137.2,78.8 137.2,78.5C137.2,78.1 137.3,77.8 137.5,77.5C137.7,77.2 138,77 138.3,76.9C138.6,76.8 139.1,76.8 139.4,76.9C139.7,77 140,77.2 140.2,77.5C140.4,77.8 140.5,78.1 140.5,78.5Z" fill="#f4a582"/>
<path d="M111.7,68.7C111.7,68.9 111.4,69.3 111,69.5C110.6,69.8 109.8,70 109.1,70.1C108.4,70.1 107.5,70.1 106.8,70.1C106.1,70 105.3,69.8 104.9,69.5C104.5,69.3 104.2,68.9 104.2,68.7C104.2,68.4 104.5,68 104.9,67.8C105.3,67.6 106.1,67.4 106.8,67.3C107.5,67.2 108.4,67.2 109.1,67.3C109.8,67.4 110.6,67.6 111,67.8C111.4,68 111.7,68.4 111.7,68.7Z" fill="#d1e5f0"/>
<path d="M61.8,79.1C61.8,79.4 61.7,79.8 61.5,80.1C61.2,80.3 60.9,80.6 60.5,80.7C60.2,80.8 59.7,80.8 59.4,80.7C59,80.6 58.6,80.3 58.4,80.1C58.2,79.8 58.1,79.4 58.1,79.1C58.1,78.8 58.2,78.4 58.4,78.1C58.6,77.9 59,77.6 59.4,77.5C59.7,77.4 60.2,77.4 60.5,77.5C60.9,77.6 61.2,77.9 61.5,78.1C61.7,78.4 61.8,78.8 61.8,79.1Z" fill="#f4a582"/>
<path d="M25.5,75.8C25.5,76.2 25.4,76.8 25.2,77.2C25,77.6 24.8,78 24.5,78.1C24.2,78.3 23.9,78.3 23.6,78.1C23.3,78 23,77.6 22.9,77.2C22.7,76.8 22.6,76.2 22.6,75.8C22.6,75.3 22.7,74.7 22.9,74.3C23,73.9 23.3,73.5 23.6,73.4C23.9,73.2 24.2,73.2 24.5,73.4C24.8,73.5 25,73.9 25.2,74.3C25.4,74.7 25.5,75.3 25.5,75.8Z" fill="#f4a582"/>
<path d="M231.1,17.9C241.2,17.1 279,6.6 288.5,17.9C298.1,29.2 294.1,74.5 288.5,85.8C283,97.1 262.1,87.5 255.1,85.8C248.2,84 247.5,78.1 246.8,75.3C246.1,72.6 248.9,70.5 251,69.1C253,67.7 259,68.4 259.3,67C259.7,65.6 255.8,63.2 253,60.7C250.3,58.3 245.7,55.5 242.6,52.4C239.5,49.2 236.3,45.4 234.3,41.9C232.2,38.5 231.1,34.6 230.1,31.5C229,28.4 227.8,25.4 228,23.2C228.2,20.9 221,18.8 231.1,17.9Z" fill="#d1e5f0"/>
<path d="M234.3,19C243.6,17.9 279.5,10.3 288.5,19C297.6,27.7 290.6,62.8 288.5,71.2C286.4,79.5 279.8,70.5 276,69.1C272.2,67.7 269,64.9 265.6,62.8C262.1,60.7 258.6,59.2 255.1,56.6C251.7,53.9 247.8,50.6 244.7,47.2C241.6,43.7 238.4,39.3 236.3,35.7C234.3,32 232.5,28 232.2,25.2C231.8,22.5 224.9,20 234.3,19Z" fill="#92c5de"/>
<path d="M242.6,19C250.6,17.2 280.9,11.3 288.5,19C296.2,26.6 290.6,57.6 288.5,64.9C286.4,72.2 279.8,64 276,62.8C272.2,61.6 269,59.7 265.6,57.6C262.1,55.5 258.3,53.2 255.1,50.3C252,47.3 249.2,43.3 246.8,39.9C244.3,36.4 241.2,32.9 240.5,29.4C239.8,25.9 234.6,20.7 242.6,19Z" fill="#4393c3"/>
<path d="M247.8,32.5C250.1,32 255.3,35 259.3,36.7C263.3,38.5 267,41.2 271.8,43C276.7,44.7 285.7,43.8 288.5,47.2C291.3,50.5 290.6,60.9 288.5,63.2C286.4,65.6 280.2,62.3 276,61.1C271.8,60 267.3,58.1 263.5,56.1C259.7,54.2 256,52 253,49.2C250.1,46.5 246.6,42.6 245.7,39.9C244.9,37.1 245.6,33.1 247.8,32.5Z" fill="#2166ac"/>
<path d="M255.1,19.4C260,18.6 283,17.7 288.5,19.4C294.1,21.1 291.3,28.1 288.5,29.4C285.7,30.7 276.7,28.2 271.8,27.3C267,26.5 262.1,25.5 259.3,24.2C256.5,22.9 250.3,20.2 255.1,19.4Z" fill="#2166ac"/>
<path d="M253,40.9C255.5,40.9 263.1,44.9 267.7,46.5C272.2,48.2 276.7,49.8 280.2,50.7C283.7,51.6 287.1,50.4 288.5,52C289.9,53.6 290.6,59.2 288.5,60.3C286.4,61.4 280.2,59.7 276,58.6C271.8,57.6 267.4,56.1 263.5,54C259.6,52 254.4,48.7 252.6,46.5C250.9,44.3 250.5,40.9 253,40.9Z" fill="#053061"/>
<path d="M176.8,85.8C165.6,83.6 178.3,76 179.6,72.8C180.8,69.6 182.3,68.7 184.2,66.6C186,64.5 187.9,61.8 190.4,60.3C192.9,58.8 195.9,56.9 199.2,57.8C202.5,58.7 206.3,64.1 210.2,65.9C214.2,67.8 218.4,67.6 222.8,69.1C227.1,70.6 232.3,72.1 236.3,74.9C240.3,77.7 256.7,84 246.8,85.8C236.9,87.6 188,87.9 176.8,85.8Z" fill="#f4a582"/>
<path d="M180,85.8C171.2,83.6 182,75.9 183.7,72.8C185.5,69.8 187.8,68.5 190.4,67.4C193,66.3 195.9,65.8 199.2,66.2C202.5,66.5 206.3,68.2 210.2,69.3C214.2,70.4 218.9,71.1 222.8,72.6C226.6,74.2 230.9,76.3 233.2,78.5C235.5,80.7 245.2,84.6 236.3,85.8C227.5,87 188.7,87.9 180,85.8Z" fill="#d6604d"/>
<path d="M188.3,85.8C183.6,84.3 189.9,78.9 192.1,77C194.2,75.1 197.7,74.6 201.3,74.5C204.8,74.4 210.4,75.2 213.4,76.2C216.4,77.2 218,79 219.2,80.6C220.4,82.2 225.8,84.9 220.7,85.8C215.5,86.6 193.1,87.2 188.3,85.8Z" fill="#b2182b"/>
<path d="M194.6,29.4C196.5,28.4 201.5,27.3 205,27.3C208.5,27.3 212.7,28.4 215.5,29.4C218.2,30.5 221.4,32.2 221.7,33.6C222.1,35 220.3,36.9 217.6,37.8C214.8,38.6 208.5,39 205,38.8C201.5,38.6 198.6,37.6 196.7,36.7C194.8,35.9 193.9,34.8 193.5,33.6C193.2,32.4 192.7,30.5 194.6,29.4Z" fill="#fddbc7"/>
<path d="M197.7,32.5C198.8,31.8 203.1,31.3 205,31.5C206.9,31.7 209.2,33.2 209.2,34C209.2,34.8 206.8,35.8 205,36.1C203.2,36.4 199.6,36.3 198.3,35.7C197.1,35.1 196.6,33.2 197.7,32.5Z" fill="#f4a582"/>
<path d="M184.2,45.1C186.6,43.2 191.1,43.2 194.6,43C198.1,42.8 201.5,43.3 205,44C208.5,44.7 212.7,46.1 215.5,47.2C218.2,48.2 221.7,49.2 221.7,50.3C221.7,51.3 218.2,53 215.5,53.4C212.7,53.8 208.5,52.6 205,52.8C201.5,53 197.4,53.5 194.6,54.5C191.8,55.4 190.4,57.6 188.3,58.6C186.2,59.7 183.5,61.4 182.1,60.7C180.7,60 179.6,57.1 180,54.5C180.3,51.9 181.7,47 184.2,45.1Z" fill="#fddbc7"/>
<path d="M183.1,51.3C184.8,49.9 190.6,49.1 192.5,49.2C194.4,49.4 195.5,51.2 194.6,52.4C193.7,53.6 189.4,55.7 187.3,56.6C185.2,57.4 182.8,58.5 182.1,57.6C181.4,56.7 181.4,52.7 183.1,51.3Z" fill="#f4a582"/>
<path d="M205,47.2C206.8,46.8 215.3,47.5 217.6,48.2C219.8,48.9 220.3,51 218.6,51.3C216.9,51.7 209.4,51 207.1,50.3C204.9,49.6 203.3,47.5 205,47.2Z" fill="#f4a582"/>
<path d="M208.2,9.6C208.7,8.4 213,8 214.4,8.5C215.8,9.1 217,11.5 216.5,12.7C216,13.9 212.7,16.4 211.3,15.8C209.9,15.3 207.6,10.8 208.2,9.6Z" fill="#d1e5f0"/>
<path d="M170.6,4.8C170.6,5.4 170.5,6 170.4,6.5C170.3,7 170.1,7.4 169.9,7.6C169.7,7.7 169.4,7.7 169.2,7.6C169,7.4 168.8,7 168.7,6.5C168.6,6 168.5,5.4 168.5,4.8C168.5,4.2 168.6,3.5 168.7,3.1C168.8,2.6 169,2.2 169.2,2C169.4,1.8 169.7,1.8 169.9,2C170.1,2.2 170.3,2.6 170.4,3.1C170.5,3.5 170.6,4.2 170.6,4.8Z" fill="#d6604d"/>
<path d="M192.3,3.3C192.3,3.8 192.2,4.3 192,4.7C191.8,5 191.6,5.4 191.3,5.5C191,5.6 190.7,5.6 190.4,5.5C190.1,5.4 189.8,5 189.6,4.7C189.5,4.3 189.4,3.8 189.4,3.3C189.4,2.9 189.5,2.3 189.6,2C189.8,1.6 190.1,1.3 190.4,1.1C190.7,1 191,1 191.3,1.1C191.6,1.3 191.8,1.6 192,2C192.2,2.3 192.3,2.9 192.3,3.3Z" fill="#d1e5f0"/>
<path d="M17.2,28.9 19.7,26.3 20.6,25.6 23.1,25.1 24.8,23.8 25.4,25.7 27.1,24.1 29.3,25.5 32.6,26.3 34.6,26.8 38,26.2 39.4,27.8 40.7,29.1 42.8,31.2 44.8,32.5 47.5,32.7 50.9,33.9 52.2,34.8 54.3,38.2 54.3,40.6 57,41.6 61.8,44 65.8,44.6 67.9,44.4 69.9,45.7 71.9,47.2 74.2,47.7 74.9,50.3 74.6,52.2 72.6,54.9 71.2,56.2 69.9,58.3 69.2,61 69.2,64.4 68.3,67.1 67.2,69.1 66.5,70.5 65.1,71.7 63.1,71.8 61.1,72.6 59,73.4 57,74.9 56.2,76.6 56.2,78.6 55,79.9 54,82 25.1,82 25.4,78.6 26.1,75.9 26.6,72.5 27,69.1 26.7,65.6 25.2,64.2 22.4,62.7 20.1,61.4 18.6,59.5 17.4,56.9 16,54.2 14.9,51.6 13.7,50 11.9,48.8 11.8,46.7 13.2,45.3 13.6,44 12.3,43.6 12.3,42 13.4,40.6 13.6,39.6 15.1,38.6 15.6,37.3 17,37.1 17.2,35.2 17,33.2 17.1,31.2 16.4,30.8 15.7,29.8 14.2,29 12.9,30.4 11.5,30.1 9.5,29.1 7.5,27.4 6,25.7 3.7,23.2 2,22.6 -1.4,22.2 -1.4,18.7 2,19.1 4.8,19.5 7.5,20.1 8.7,21.7 8.4,24.4 8.7,26 10,27.6 11.5,28.5 13.6,28.2 14.9,28 16.3,28.5Z M9.2,-0.7 9.8,2 11.1,4.3 12.8,4.6 13.2,2 12.2,-0.7Z M109,-0.7 108.6,1.4 106.5,2.7 104.5,3.1 102.5,5.4 100.4,8.1 99.1,11.5 100,14.2 99.8,18.3 98.4,20.7 99.3,23 99.5,24.4 101.8,25.7 103.4,27.4 104.2,29.1 106.5,31.3 109.2,33.5 112,34.7 115.4,33.7 118.1,33.7 119.4,34.1 122.1,33.1 123.8,32.4 125.5,32.1 128.2,32.2 129.6,33.9 131,34.8 133,34.6 134.4,35.2 135.3,36.6 135.2,39.3 134.8,40.6 134.1,41.6 135,43.4 137.1,46.1 138.4,47.4 138.8,48.9 139.8,51.5 140.3,52.8 140.9,55.6 139.1,58.9 138.4,61.7 138.2,64.4 139.1,66.4 140.5,69.1 141.8,71.8 142.5,75.9 143.2,77.9 144.5,79.5 145.2,82 164.2,82 164.2,81.2 165.6,79.7 166.7,77.2 166.4,75.7 168.3,74.4 170.3,73 170.1,70.5 169.6,68.4 169.4,67.5 171.7,65.7 173.7,64 176.4,62.6 177.5,60.3 177.1,57.6 177.1,54.9 176.2,52.8 175.5,50.1 175.1,48.8 175.3,47 176,46.1 177.1,44 178.5,43.1 179.8,41.3 181.9,39.3 183.9,37.8 186.6,35.2 188,33.2 189.3,30.5 190.7,27.8 191.6,26.4 191.8,24.7 190,25.1 187.3,25.5 184.6,26.2 182.5,26.6 180.9,25.1 180.8,23.7 179.8,22.4 177.8,20.7 176.2,19.6 175.1,17.6 173.7,15.9 172.8,14.2 172.6,12.2 171.7,10.2 170.3,8.1 169,5.4 168,3.4 166.4,0.3 166.2,-0.7Z M169.6,-0.7 169.5,0.7 169.6,2.7 171.7,5.4 173,7.7 174.8,10.2 175.3,12.2 177.1,14.2 178.5,16.3 179.8,18.3 180.5,21 181.2,23.4 183.2,23.3 185.9,22.4 188,21.7 190.7,20.3 193,19 194.8,18 196.8,17.3 198.8,15.6 200.4,14.2 200.9,12.9 202.2,11.5 203.3,10.2 201.7,8.7 199.5,8.1 198.7,6.8 198.6,5 198.1,5.8 196.1,7.7 193.4,7.9 192.2,7.7 192.2,6.1 191.6,5.3 191.1,6.8 190.3,5.8 190.1,4.5 188.6,3.4 188,2 187.3,0.7 188,-0.7Z M190,-0.7 191.1,1.4 192,2.8 194.1,4.3 196.1,4.6 198.1,3.9 199.5,4.3 200.2,5.8 202.2,6.2 205.6,6.5 208.3,6.4 210.4,6.4 212.4,6.2 213.1,7 213.8,8.4 215.1,8.9 215.8,10.3 217.1,12.5 219.9,12.2 220.5,11.2 220.9,12.9 220.9,14.9 221.6,17.6 222.3,19.6 223.2,22.4 224.3,24.8 225.6,27.1 226.4,28.9 227.3,29.7 228.3,28.7 229.4,28 230.4,26.7 230.6,24.4 231.1,22.9 230.8,20.3 231.8,19.2 233.8,18 235.5,16.5 237.5,14.5 239.5,13.3 240.2,12.2 241.6,11.2 242.9,11 245,10.4 246.3,10.2 247,12.2 248.1,13.6 249.4,14.9 250.1,16.3 250.3,18.3 250.1,19.1 251.8,19.2 253.5,18.2 254.5,18.3 254.9,20.3 255.4,22.4 256,24.4 256,26.4 255.6,28.5 255.6,29.8 256.5,30.5 257.9,31.8 258.4,33.9 258.9,35.2 259.6,36.9 261.2,37.9 262.6,38.8 263.6,38.8 263.3,37.3 262.5,35.9 262.5,34.6 261.7,33.1 260.8,32.2 259.9,31.3 258.5,30.8 257.9,29.1 257.2,28 256.9,26.4 257.6,24.7 257.9,23 258.5,22.4 259.2,23.4 261,24.1 261.9,25.7 263.3,26.4 264.4,26.6 264.6,28.9 266.7,27.5 267.6,26.4 270.1,25.1 270.5,23 270.1,20.3 269.1,19 267.4,17.6 266,15.6 265.7,14.2 266.9,12.9 268.7,11.5 270.8,11.5 271.4,13 272.1,11.9 274.1,11.1 276.9,10.3 279.6,9.6 281.6,8.4 283,7.2 284.3,5.8 285.7,4.7 285.7,-0.7Z M251.5,33.1 254.5,33.6 255.6,35 257.6,36.6 258.9,37.7 260.6,39.3 262.6,40.6 263,42 264,43.1 265.3,44 266,45 265.9,46.7 265.7,48.5 264.1,48.5 263.3,47.3 261,45.9 259.2,43.9 258.3,42 256.8,40.2 256.1,38.3 254.7,37.3 253.1,35.8 251.8,34.3Z M264.9,49.9 266,48.6 267.4,48.6 269.4,49.6 272.1,49.9 272.8,49.3 274.8,50 277.5,51.1 277.5,52.4 274.8,52 271.4,51.5 268.7,51.2 266.7,50.7Z M270.1,38.6 270.8,37.9 272.8,38.5 273.3,37.3 275.5,36.3 276.9,34.6 278.9,33.2 280.2,31.4 281.3,31.4 281.9,32.5 283.6,33.6 282.6,34.8 282,36.6 282.3,37.9 283.6,39.3 282,39.6 281.6,41.3 280.2,42.7 280.2,44.7 279.6,46.1 277.7,46.1 276.9,45.3 275.5,45 273.9,45.4 271.7,44.6 271.4,42.7 270.3,41.3 270.1,40Z M284.1,48.1 285.7,48.1 285.7,39.3 284.7,40 284.3,42 283.4,44.4 284.1,45.4Z M285.7,67.6 283.6,67.8 281.6,68.7 279.6,69 278.2,69.8 277,70.2 276.4,71.3 276.2,73.2 276,74.5 276.9,76.6 277.1,77.9 277.7,79.7 278.2,82 285.7,82Z M189.1,56.9 190,58.9 190.7,61.7 189.6,63 189.3,65 188.6,67.1 188,69.8 187,72.5 185.9,74.5 183.9,75.3 181.9,74.5 181.2,72.5 180.9,70.5 181.9,68.4 182.5,66.4 181.9,64.4 182.5,62.6 184.6,62.1 186.6,60.7 187.3,58.9 188.4,57.6Z" fill="#a9a9a9"/>
<path d="M0,0.7l0.7,-0.5m0.2,0.2l0.5,-0.7l-0.8,0.3zM0,5.9l0.6,-1.2m0.2,0.1l0.2,-0.8l-0.6,0.6zM0,11.2l-0.3,-1.3m0.2,-0.1l-0.4,-0.7l-0.1,0.8zM0,16.5l-1.6,1.4m-0.3,-0.3l-0.7,1.1l1.2,-0.5zM0,21.7l0.3,1.4m-0.2,0.1l0.4,0.8l0.1,-0.9zM0,27l2.3,-0.1m0,0.4l1.4,-0.5l-1.4,-0.4zM0,32.3l0.2,-2.2m0.4,0l-0.3,-1.4l-0.5,1.3zM0,37.5l0.7,-0.1m0,0.2l0.7,-0.4l-0.8,-0.1zM0,42.8l3.1,-2.5m0.3,0.4l1.1,-1.6l-1.7,0.7zM0,48.1l0.6,-0.8m0.2,0.1l0.3,-0.8l-0.7,0.5zM0,53.3l-1,2.9m-0.5,-0.2l-0.1,1.9l1.1,-1.5zM0,58.6l-0.7,0.1m0,-0.2l-0.7,0.4l0.8,0.1zM0,63.8l-1,-0.2m0.1,-0.2l-0.8,0.1l0.7,0.4zM0,69.1l-0.2,-2.3m0.4,0l-0.5,-1.4l-0.3,1.5zM0,74.4l0.4,-1.7m0.3,0.1l-0.1,-1.1l-0.6,0.9zM0,79.6l-0.7,-1.6m0.3,-0.1l-0.7,-0.9l0.1,1.1zM12.2,0.7l-1.4,-2.1m0.4,-0.3l-1.2,-1l0.5,1.5zM12.2,5.9l0.2,-3.2m0.5,0l-0.4,-1.8l-0.7,1.8zM12.2,11.2l-0.8,-1.7m0.3,-0.1l-0.8,-0.9l0.2,1.2zM12.2,16.5l0.1,1.4m-0.3,0l0.3,0.8l0.2,-0.9zM12.2,21.7l3.8,1.7m-0.2,0.5l1.9,0.2l-1.4,-1.2zM12.2,37.5l0.6,-0.4m0.1,0.2l0.5,-0.6l-0.8,0.3zM12.2,42.8l0.2,-2.2m0.4,0l-0.3,-1.4l-0.5,1.3zM12.2,48.1l3.6,0.7m-0.1,0.5l1.9,-0.2l-1.7,-0.9zM12.2,53.3l-0.4,3.4m-0.5,-0.1l0.3,1.8l0.7,-1.7zM12.2,58.6l-0.5,1.3m-0.2,-0.1l-0.1,0.9l0.5,-0.7zM12.2,63.8l-2,0.3m0,-0.4l-1.2,0.5l1.3,0.2zM12.2,69.1l-0.1,-2.5m0.5,0l-0.5,-1.5l-0.4,1.5zM12.2,74.4l-1.9,-1.7m0.3,-0.4l-1.5,-0.7l0.9,1.4zM12.2,79.6l1.2,-2.5m0.5,0.2l0.3,-1.7l-1.2,1.3zM24.4,0.7l-1.4,0.5m-0.1,-0.2l-0.7,0.6l0.9,-0.1zM24.4,5.9l-2.6,0.6m-0.1,-0.5l-1.5,0.8l1.7,0.1zM24.4,11.2l-2,-0.5m0.1,-0.4l-1.3,0.1l1.1,0.6zM24.4,21.7l3,1.1m-0.2,0.5l1.9,0.1l-1.5,-1.1zM24.4,27l-0.4,-1m0.2,-0.1l-0.5,-0.7l0.1,0.8zM24.4,32.3l0.1,-1.1m0.2,0l-0.2,-0.8l-0.3,0.8zM24.4,37.5l0.4,-2.8m0.5,0.1l-0.3,-1.8l-0.7,1.6zM24.4,42.8l-1,-0.3m0.1,-0.2l-0.8,0l0.7,0.5zM24.4,48.1l0.8,-1.2m0.2,0.2l0.3,-0.9l-0.7,0.6zM24.4,53.3l0.5,-0.5m0.2,0.2l0.4,-0.7l-0.7,0.4zM24.4,58.6l1,0.4m-0.1,0.2l0.8,0.1l-0.7,-0.5zM24.4,63.8l-2.5,2m-0.3,-0.4l-1.1,1.5l1.7,-0.7zM24.4,69.1l-1,-0.9m0.2,-0.2l-0.8,-0.4l0.4,0.8zM24.4,74.4l0.1,-3.9m0.5,0l-0.5,-1.8l-0.6,1.8zM24.4,79.6l-0.5,-2.3m0.4,-0.1l-0.7,-1.3l-0.1,1.5zM36.6,0.7l-2.6,2.6m-0.4,-0.4l-0.9,1.7l1.7,-0.9zM36.6,5.9l-1.3,1.5m-0.3,-0.2l-0.5,1.2l1.1,-0.7zM36.6,11.2l1.4,2.7m-0.5,0.3l1.3,1.3l-0.4,-1.8zM36.6,16.5l2.1,0m0,0.4l1.3,-0.4l-1.3,-0.4zM36.6,21.7l-0.2,-1.5m0.3,0l-0.4,-0.9l-0.1,1zM36.6,27l-1.1,-0.5m0.1,-0.2l-0.8,-0.1l0.6,0.5zM36.6,32.3l-0.3,2.4m-0.4,-0.1l0.2,1.6l0.6,-1.4zM36.6,37.5l0.1,1.2m-0.2,0l0.3,0.8l0.1,-0.8zM36.6,42.8l-1.7,-1.4m0.3,-0.3l-1.3,-0.5l0.8,1.1zM36.6,48.1l-0.2,-2.1m0.4,0l-0.5,-1.3l-0.3,1.3zM36.6,53.3l1.4,-1.7m0.3,0.3l0.6,-1.3l-1.2,0.8zM36.6,58.6l2.8,-0.5m0.1,0.5l1.6,-0.8l-1.8,-0.2zM36.6,63.8l1.7,1.4m-0.3,0.3l1.3,0.5l-0.8,-1.2zM36.6,69.1l-0.3,0.7m-0.2,-0.1l-0.1,0.8l0.5,-0.6zM36.6,74.4l-1.8,-0.1m0,-0.3l-1.1,0.3l1.1,0.4zM36.6,79.6l-0.7,-0.2m0.1,-0.2l-0.8,0l0.7,0.4zM48.9,0.7l-0.5,2.1m-0.4,-0.1l0.1,1.4l0.7,-1.2zM48.9,5.9l2.3,0.3m-0.1,0.4l1.5,-0.2l-1.4,-0.6zM48.9,11.2l1,-3.6m0.5,0.1l0,-1.9l-1,1.6zM48.9,16.5l-0.4,-0.6m0.2,-0.1l-0.6,-0.5l0.3,0.8zM48.9,21.7l-1.4,0.2m0,-0.3l-0.8,0.4l0.9,0.1zM48.9,27l-0.9,1.3m-0.2,-0.2l-0.3,0.9l0.8,-0.6zM48.9,32.3l-0.4,2m-0.4,-0.1l0.1,1.3l0.6,-1.2zM48.9,37.5l1.2,1.1m-0.2,0.2l0.9,0.4l-0.5,-0.9zM48.9,42.8l0.5,2.1m-0.4,0.1l0.7,1.2l0.1,-1.4zM48.9,48.1l-0.7,2.5m-0.5,-0.1l0,1.6l0.9,-1.4zM48.9,53.3l-1.4,0.1m0,-0.3l-0.8,0.3l0.9,0.2zM48.9,58.6l1,-0.7m0.1,0.2l0.5,-0.7l-0.8,0.3zM48.9,63.8l0.5,-1.2m0.2,0.1l0.1,-0.8l-0.5,0.6zM48.9,69.1l1.9,0.8m-0.2,0.3l1.3,0.2l-1,-0.9zM48.9,74.4l0.3,0.6m-0.2,0.1l0.5,0.6l-0.1,-0.8zM61.1,0.7l1.2,0.6m-0.1,0.2l0.8,0.2l-0.6,-0.6zM61.1,5.9l1,-0.8m0.2,0.2l0.5,-0.7l-0.8,0.3zM61.1,11.2l0.3,-0.7m0.2,0.1l0.1,-0.8l-0.6,0.6zM61.1,16.5l-0.7,0.5m-0.1,-0.2l-0.5,0.6l0.8,-0.2zM61.1,21.7l-1.3,1m-0.2,-0.2l-0.6,0.9l1,-0.4zM61.1,27l1.7,0.1m0,0.3l1.1,-0.2l-1,-0.4zM61.1,32.3l2,2.1m-0.4,0.4l1.6,0.9l-0.8,-1.6zM61.1,37.5l0.9,-1.7m0.3,0.2l0.3,-1.2l-0.9,0.9zM61.1,42.8l0.4,1.3m-0.2,0.1l0.5,0.7l0,-0.8zM61.1,48.1l0.9,1.6m-0.3,0.2l0.9,0.8l-0.3,-1.2zM61.1,53.3l-0.7,0.3m-0.1,-0.2l-0.7,0.5l0.8,-0.1zM61.1,69.1l0.9,-4.1m0.5,0.1l-0.2,-1.9l-0.9,1.6zM73.3,0.7l0.4,-0.8m0.2,0.1l0.2,-0.8l-0.6,0.6zM73.3,5.9l0.9,-0.4m0.1,0.2l0.6,-0.5l-0.8,0.1zM73.3,11.2l-3.6,0m0,-0.5l-1.8,0.5l1.8,0.6zM73.3,16.5l-1.2,-0.3m0.1,-0.2l-0.8,0l0.7,0.5zM73.3,21.7l-0.9,1.5m-0.3,-0.2l-0.3,1.1l0.8,-0.8zM73.3,27l2.4,-3m0.4,0.3l0.7,-1.7l-1.6,1.1zM73.3,32.3l2.4,-0.8m0.1,0.4l1.3,-0.9l-1.6,0zM73.3,37.5l3.2,0.3m0,0.5l1.8,-0.4l-1.7,-0.7zM73.3,42.8l1.8,-1.3m0.2,0.3l0.9,-1.1l-1.3,0.4zM73.3,48.1l0.7,0.5m-0.1,0.2l0.8,0.3l-0.5,-0.7zM73.3,53.3l0,3.1m-0.5,0l0.5,1.8l0.5,-1.8zM73.3,58.6l-1.3,0.2m0,-0.2l-0.8,0.3l0.8,0.1zM73.3,63.8l-3.3,-0.9m0.1,-0.5l-1.9,0.1l1.6,1zM73.3,69.1l0.9,-2.6m0.5,0.2l0.1,-1.7l-1,1.4zM73.3,74.4l1.2,-2.1m0.4,0.2l0.4,-1.5l-1.1,1.1zM73.3,79.6l-0.7,-1.3m0.2,-0.1l-0.7,-0.7l0.2,0.9zM85.5,0.7l3.3,-1.4m0.2,0.5l1.4,-1.2l-1.9,0.2zM85.5,5.9l-1.8,-1.6m0.3,-0.3l-1.4,-0.6l0.8,1.3zM85.5,11.2l-2.6,1.1m-0.2,-0.5l-1.4,1.2l1.8,-0.2zM85.5,16.5l-0.9,1.1m-0.2,-0.2l-0.3,0.8l0.7,-0.5zM85.5,21.7l1.4,1.4m-0.3,0.3l1.1,0.6l-0.6,-1.1zM85.5,27l0.9,-0.4m0.1,0.2l0.6,-0.6l-0.8,0.1zM85.5,32.3l0.9,-0.9m0.2,0.2l0.4,-0.7l-0.7,0.4zM85.5,37.5l0.7,-3m0.5,0.1l-0.1,-1.9l-0.9,1.6zM85.5,42.8l0.3,-2.1m0.4,0.1l-0.2,-1.3l-0.6,1.2zM85.5,48.1l3.8,1.9m-0.2,0.5l1.9,0.3l-1.4,-1.3zM85.5,53.3l1.4,1.6m-0.3,0.3l1.2,0.7l-0.6,-1.2zM85.5,58.6l-0.6,0.5m-0.1,-0.2l-0.5,0.7l0.8,-0.3zM85.5,63.8l-3.8,-0.6m0.1,-0.5l-1.9,0.2l1.7,0.8zM85.5,69.1l1.6,-2.2m0.4,0.3l0.6,-1.6l-1.4,1zM85.5,74.4l1.9,-2.9m0.4,0.3l0.5,-1.8l-1.4,1.2zM85.5,79.6l0.6,-0.4m0.1,0.2l0.5,-0.7l-0.8,0.3zM97.7,0.7l0.9,-0.6m0.1,0.2l0.5,-0.7l-0.8,0.3zM97.7,5.9l-0.4,-4m0.5,-0.1l-0.7,-1.7l-0.4,1.8zM97.7,16.5l-1.3,-0.4m0.1,-0.2l-0.9,0l0.7,0.5zM97.7,21.7l1.2,0.7m-0.1,0.2l0.9,0.2l-0.6,-0.7zM97.7,27l0.7,-0.5m0.1,0.2l0.5,-0.7l-0.8,0.3zM97.7,48.1l1,0.1m0,0.2l0.8,-0.1l-0.8,-0.3zM97.7,53.3l1.1,3m-0.5,0.2l1.1,1.5l-0.1,-1.9zM97.7,58.6l-0.8,1.2m-0.2,-0.2l-0.3,0.9l0.7,-0.6zM97.7,63.8l1.4,-2.4m0.4,0.2l0.4,-1.7l-1.3,1.2zM97.7,69.1l0.7,-3.1m0.5,0.1l-0.1,-1.9l-0.9,1.6zM97.7,74.4l0.9,-0.4m0.1,0.2l0.7,-0.5l-0.8,0.1zM97.7,79.6l0.8,-2.1m0.4,0.2l0.1,-1.4l-0.9,1.1zM109.9,0.7l1.2,0.4m-0.1,0.2l0.8,0l-0.7,-0.5zM109.9,5.9l1.7,-1.2m0.2,0.3l0.8,-1.1l-1.3,0.5zM109.9,11.2l0,-2.5m0.5,0l-0.5,-1.5l-0.4,1.6zM109.9,16.5l-4,0.2m0,-0.5l-1.8,0.6l1.8,0.4zM109.9,21.7l-0.6,2m-0.4,-0.1l0,1.3l0.7,-1.1zM109.9,27l-1,1.3m-0.2,-0.2l-0.4,1l0.8,-0.6zM109.9,32.3l1.7,0.7m-0.1,0.3l1.2,0.1l-0.9,-0.8zM109.9,37.5l0.9,2m-0.4,0.2l0.9,1.1l-0.2,-1.4zM109.9,42.8l0.9,1.4m-0.3,0.2l0.8,0.7l-0.3,-1zM109.9,48.1l0.1,1.2m-0.2,0l0.3,0.8l0.2,-0.8zM109.9,53.3l-0.7,0.4m-0.1,-0.2l-0.6,0.6l0.8,-0.2zM109.9,58.6l0,-1.6m0.3,0l-0.3,-1l-0.3,1zM109.9,63.8l0,-0.9m0.2,0l-0.3,-0.8l-0.2,0.8zM109.9,74.4l1,0.4m-0.1,0.2l0.8,0.1l-0.6,-0.5zM109.9,79.6l0.9,1.2m-0.2,0.2l0.8,0.5l-0.4,-0.9zM122.1,0.7l0.2,0.7m-0.2,0.1l0.4,0.7l0,-0.8zM122.1,5.9l-1.4,3.3m-0.5,-0.2l-0.2,1.9l1.2,-1.5zM122.1,11.2l0.7,-0.3m0.1,0.2l0.6,-0.6l-0.8,0.1zM122.1,16.5l0.2,-1.3m0.2,0l-0.1,-0.8l-0.3,0.8zM122.1,21.7l-0.6,-0.6m0.2,-0.2l-0.7,-0.4l0.4,0.7zM122.1,27l-3.4,0.7m-0.1,-0.5l-1.7,0.9l1.9,0.2zM122.1,32.3l-0.8,1.3m-0.2,-0.1l-0.2,1l0.7,-0.7zM122.1,37.5l1.8,2.2m-0.4,0.3l1.5,1l-0.7,-1.7zM122.1,42.8l-3.4,1.6m-0.2,-0.5l-1.4,1.3l1.9,-0.3zM122.1,58.6l0.1,-1.4m0.3,0l-0.2,-0.9l-0.3,0.8zM122.1,63.8l1.5,1m-0.2,0.3l1.1,0.3l-0.7,-0.9zM122.1,69.1l-0.7,2.5m-0.5,-0.1l0,1.6l0.9,-1.4zM122.1,74.4l0.7,2m-0.4,0.1l0.8,1.1l-0.1,-1.4zM122.1,79.6l0.2,1.2m-0.2,0l0.3,0.8l0.1,-0.8zM134.4,0.7l-1.6,-2m0.4,-0.3l-1.4,-1l0.6,1.5zM134.4,5.9l-1.3,1.5m-0.3,-0.2l-0.5,1.2l1.1,-0.7zM134.4,11.2l-0.9,1.3m-0.2,-0.2l-0.3,1l0.8,-0.6zM134.4,16.5l1.4,-1.3m0.2,0.3l0.6,-1.1l-1.1,0.5zM134.4,21.7l-0.3,-3.6m0.5,-0.1l-0.7,-1.7l-0.4,1.8zM134.4,27l-0.8,-0.2m0.1,-0.2l-0.8,0l0.7,0.4zM134.4,32.3l-1.1,-1.4m0.3,-0.2l-0.9,-0.7l0.4,1.1zM134.4,37.5l-1,1.1m-0.2,-0.2l-0.4,0.8l0.8,-0.5zM134.4,42.8l-1.8,-2.7m0.4,-0.3l-1.5,-1.2l0.6,1.8zM134.4,48.1l-1.3,-0.9m0.2,-0.2l-0.9,-0.3l0.6,0.8zM134.4,53.3l1.2,0.1m0,0.2l0.8,-0.2l-0.8,-0.3zM134.4,58.6l2.5,-0.4m0.1,0.5l1.4,-0.7l-1.6,-0.2zM134.4,63.8l0.1,2.3m-0.4,0l0.5,1.4l0.4,-1.4zM134.4,69.1l-0.6,1.1m-0.2,-0.1l-0.2,0.8l0.6,-0.6zM134.4,74.4l-1.3,-0.5m0.1,-0.2l-0.9,-0.1l0.7,0.6zM134.4,79.6l-2.9,2.1m-0.3,-0.4l-1.1,1.5l1.8,-0.6zM146.6,32.3l-0.7,-0.6m0.2,-0.2l-0.8,-0.3l0.5,0.7zM146.6,37.5l0.6,-2.3m0.4,0.1l0,-1.5l-0.8,1.3zM146.6,42.8l0.9,-2.7m0.5,0.2l0.1,-1.8l-1,1.5zM146.6,48.1l0.4,-0.6m0.2,0.1l0.2,-0.8l-0.6,0.6zM146.6,53.3l1,-0.2m0,0.2l0.7,-0.4l-0.8,-0.1zM146.6,58.6l-1.9,1.7m-0.3,-0.3l-0.8,1.4l1.4,-0.7zM146.6,63.8l-1.4,0.4m-0.1,-0.3l-0.8,0.5l0.9,0zM146.6,69.1l-1.8,-1.4m0.3,-0.3l-1.3,-0.5l0.8,1.2zM146.6,74.4l-0.5,-1.4m0.3,-0.1l-0.6,-0.8l0,1zM146.6,79.6l-4.1,-1.3m0.2,-0.5l-1.9,0l1.6,1.1zM158.8,32.3l1.4,-0.1m0,0.3l0.9,-0.3l-0.9,-0.2zM158.8,37.5l-0.9,-1.1m0.2,-0.2l-0.8,-0.5l0.4,0.8zM158.8,42.8l0.4,-1.4m0.3,0.1l0,-0.9l-0.5,0.8zM158.8,48.1l1.9,2.5m-0.4,0.3l1.5,1.1l-0.7,-1.8zM158.8,53.3l0.7,2.3m-0.4,0.1l0.8,1.3l0,-1.6zM158.8,58.6l-0.7,-0.2m0.1,-0.2l-0.8,0l0.7,0.5zM158.8,63.8l-1.7,-0.4m0.1,-0.3l-1.1,0l0.9,0.6zM158.8,69.1l-2.6,-0.9m0.2,-0.5l-1.7,-0.1l1.4,1zM158.8,74.4l0.8,-2.5m0.5,0.1l0,-1.7l-1,1.4zM158.8,79.6l1.1,-1.1m0.2,0.2l0.4,-0.9l-0.9,0.5zM171,32.3l2.6,-1.6m0.3,0.5l1.2,-1.4l-1.8,0.5zM171,37.5l1.2,-1.5m0.3,0.2l0.5,-1.1l-1,0.7zM171,42.8l0.3,-0.9m0.2,0.1l0.1,-0.8l-0.5,0.7zM171,48.1l3.4,0.2m0,0.5l1.8,-0.5l-1.8,-0.6zM171,53.3l-0.7,2.5m-0.5,-0.1l0,1.6l0.9,-1.4zM171,58.6l-3.2,0.3m0,-0.5l-1.7,0.7l1.8,0.4zM171,63.8l-1.1,0.5m-0.1,-0.2l-0.6,0.5l0.8,-0.1zM171,69.1l0.2,-1.3m0.2,0l-0.1,-0.8l-0.4,0.8zM171,74.4l2.4,-1.3m0.2,0.4l1.2,-1.3l-1.7,0.4zM171,79.6l1.7,-0.6m0.1,0.3l0.9,-0.7l-1.2,0.1zM183.2,0.7l0.3,-0.8m0.2,0.1l0,-0.8l-0.5,0.7zM183.2,21.7l0,3.2m-0.5,0l0.5,1.8l0.5,-1.8zM183.2,79.6l-1.3,-3.6m0.5,-0.2l-1.1,-1.5l0.1,1.9zM195.4,0.7l-0.9,-1.2m0.2,-0.2l-0.8,-0.5l0.3,0.9zM195.4,21.7l1.1,0.6m-0.1,0.2l0.8,0.2l-0.6,-0.6zM207.6,0.7l-1,1.4m-0.3,-0.2l-0.4,1l0.9,-0.7zM207.6,5.9l-0.4,1.1m-0.2,-0.1l0,0.8l0.5,-0.7zM207.6,11.2l3,-0.1m0,0.5l1.8,-0.6l-1.8,-0.5zM207.6,16.5l0.8,-1.1m0.2,0.1l0.3,-0.8l-0.7,0.5zM207.6,21.7l-0.5,-2.1m0.4,-0.1l-0.7,-1.2l-0.1,1.4zM219.9,0.7l0.7,1.5m-0.3,0.1l0.7,0.8l-0.2,-1.1zM219.9,5.9l2.6,2.6m-0.4,0.4l1.6,0.9l-0.9,-1.7zM219.9,11.2l1.2,-0.6m0.1,0.2l0.6,-0.6l-0.8,0.1zM219.9,16.5l1,-2.4m0.4,0.2l0.2,-1.6l-1,1.3zM219.9,21.7l-3,2.3m-0.3,-0.4l-1.1,1.5l1.8,-0.6zM219.9,69.1l0.8,1.1m-0.2,0.2l0.7,0.5l-0.3,-0.9zM219.9,74.4l1.6,0.8m-0.2,0.3l1.1,0.2l-0.8,-0.8zM219.9,79.6l0.3,1.1m-0.2,0.1l0.4,0.7l0.1,-0.8zM232.1,0.7l0.5,0.5m-0.2,0.2l0.8,0.4l-0.4,-0.7zM232.1,5.9l-0.2,-0.9m0.2,0l-0.4,-0.7l-0.1,0.8zM232.1,11.2l0.9,-2.4m0.4,0.2l0.1,-1.6l-1,1.3zM232.1,16.5l-3.6,-1.2m0.2,-0.5l-1.9,0l1.5,1.1zM232.1,21.7l-1.2,0.9m-0.2,-0.2l-0.5,0.8l0.9,-0.3zM232.1,69.1l1,-1.3m0.2,0.2l0.4,-0.9l-0.8,0.6zM232.1,74.4l2.4,2.8m-0.4,0.3l1.6,1l-0.8,-1.7zM232.1,79.6l3.9,0.3m0,0.5l1.8,-0.4l-1.8,-0.7zM244.3,0.7l1.5,-2.5m0.5,0.3l0.4,-1.8l-1.3,1.2zM244.3,5.9l0,-0.8m0.2,0l-0.3,-0.8l-0.2,0.8zM244.3,11.2l-0.1,-4m0.5,0l-0.6,-1.8l-0.5,1.8zM244.3,79.6l0.3,-0.6m0.2,0.1l0.2,-0.8l-0.6,0.6zM256.5,0.7l0.5,-0.6m0.2,0.2l0.4,-0.7l-0.7,0.4zM256.5,5.9l0.4,-0.8m0.2,0.1l0.2,-0.8l-0.6,0.6zM256.5,11.2l-0.2,-1.4m0.2,0l-0.4,-0.8l-0.1,0.9zM256.5,79.6l-1.2,-3.9m0.5,-0.2l-1.1,-1.6l0,1.9zM268.7,0.7l1.6,-1.1m0.2,0.3l0.8,-1l-1.2,0.4zM268.7,5.9l1.2,-0.4m0.1,0.2l0.7,-0.5l-0.8,0zM268.7,11.2l0.7,-1.5m0.3,0.1l0.2,-1.1l-0.7,0.8zM268.7,79.6l2.5,-3.2m0.4,0.3l0.7,-1.7l-1.5,1.1zM280.9,0.7l0.7,-0.4m0.1,0.2l0.6,-0.6l-0.8,0.2zM280.9,5.9l1,0.3m-0.1,0.2l0.8,0l-0.7,-0.4zM280.9,11.2l2,-0.2m0,0.4l1.2,-0.5l-1.2,-0.2zM280.9,79.6l1.1,0.6m-0.1,0.2l0.8,0.1l-0.6,-0.6z" stroke="#606060" stroke-width="0.8" fill="#606060"/>
<path d="M12.2,27l2.7,-2.5m0.4,0.4l0.9,-1.7l-1.7,0.8zM12.2,32.3l3.3,-1.7m0.3,0.5l1.3,-1.4l-1.9,0.3zM24.4,16.5l-2.2,-3.7m0.5,-0.3l-1.6,-1.5l0.6,2.1zM48.9,79.6l3.3,2.7m-0.4,0.5l2,0.9l-1.3,-1.8zM61.1,58.6l-0.1,-2.8m0.6,0l-0.7,-1.6l-0.5,1.6zM61.1,63.8l0.8,-3.4m0.6,0.1l-0.2,-1.8l-1,1.5zM61.1,74.4l3.7,-1.2m0.2,0.6l1.6,-1.1l-2,0zM61.1,79.6l4.8,4.6m-0.6,0.6l2.9,1.7l-1.7,-2.9zM97.7,11.2l2.9,0.3m-0.1,0.6l1.7,-0.4l-1.5,-0.8zM97.7,32.3l-0.3,4.1m-0.6,0l0.5,2.1l0.7,-2zM97.7,37.5l0.1,2.2m-0.6,0l0.7,1.6l0.5,-1.6zM97.7,42.8l1.7,3.7m-0.5,0.3l1.4,1.6l-0.3,-2.1zM109.9,69.1l2.5,-2.1m0.4,0.5l0.9,-1.5l-1.6,0.6zM122.1,48.1l1.9,4m-0.5,0.3l1.5,1.7l-0.4,-2.2zM122.1,53.3l1.2,4.8m-0.6,0.2l1.2,2.2l0,-2.5zM146.6,0.7l0.5,-0.1m0.1,0.6l1.5,-0.9l-1.7,-0.3zM146.6,5.9l5.7,-1.1m0.1,0.7l2.6,-1.3l-2.9,-0.2zM146.6,11.2l2.3,-3.8m0.5,0.3l0.6,-2.2l-1.7,1.5zM146.6,16.5l0.3,-0.9m0.6,0.2l-0.1,-1.7l-1.1,1.3zM146.6,21.7l5.2,-4.8m0.6,0.7l1.9,-3l-3.2,1.7zM146.6,27l0.6,-1.9m0.6,0.2l-0.1,-1.7l-1.1,1.3zM158.8,0.7l7.5,0.7m-0.1,1l3.8,-0.6l-3.6,-1.3zM158.8,5.9l6.7,0.8m-0.1,0.9l3.4,-0.4l-3.2,-1.3zM158.8,11.2l1.9,0m0,0.6l1.6,-0.6l-1.6,-0.6zM158.8,16.5l4.8,-4.4m0.6,0.6l1.8,-2.8l-2.9,1.6zM158.8,21.7l2,-4.9m0.6,0.3l0.3,-2.7l-1.6,2.2zM158.8,27l5,0.9m-0.1,0.6l2.6,-0.2l-2.4,-1.1zM171,0.7l7.1,-0.8m0.1,0.9l3.4,-1.3l-3.6,-0.5zM171,5.9l1.1,-2.6m0.6,0.2l0.1,-1.7l-1.2,1.2zM171,11.2l4.9,-2.7m0.3,0.6l2.1,-1.9l-2.8,0.7zM171,16.5l2.6,-1.4m0.3,0.5l1.1,-1.3l-1.7,0.2zM171,21.7l2,-5.7m0.7,0.3l0.3,-3.1l-1.7,2.6zM171,27l0.4,-0.1m0.1,0.6l1.5,-0.9l-1.7,-0.3zM183.2,5.9l5.1,3.1m-0.4,0.7l2.9,0.9l-2.1,-2.2zM183.2,11.2l4.5,1.7m-0.2,0.6l2.5,0.3l-2,-1.4zM183.2,16.5l5.3,2m-0.3,0.7l2.9,0.3l-2.3,-1.7zM183.2,27l-7,-2.2m0.3,-0.9l-3.7,-0.2l3.2,2zM183.2,32.3l-4.7,-5.9m0.8,-0.6l-3.1,-2.3l1.5,3.5zM183.2,37.5l-5.8,-2.1m0.3,-0.7l-3.1,-0.3l2.6,1.8zM183.2,42.8l-6.5,-2.3m0.3,-0.8l-3.5,-0.3l2.9,2zM183.2,48.1l-2.6,4.2m-0.5,-0.3l-0.7,2.4l1.8,-1.8zM183.2,53.3l-4,5.1m-0.6,-0.5l-1.3,3l2.6,-2zM183.2,58.6l-3.5,3.3m-0.4,-0.4l-1.3,2.1l2.1,-1.2zM183.2,63.8l-5.3,3.2m-0.4,-0.7l-2.2,2.3l3,-0.9zM183.2,69.1l-2.7,5m-0.6,-0.3l-0.7,2.8l2,-2.1zM183.2,74.4l-2.5,4.1m-0.5,-0.3l-0.7,2.3l1.7,-1.7zM195.4,5.9l4.3,1.3m-0.2,0.6l2.3,0.1l-1.9,-1.2zM195.4,11.2l3,2.6m-0.4,0.5l1.9,0.8l-1.1,-1.7zM195.4,16.5l2.5,3.3m-0.5,0.4l1.7,1.2l-0.7,-2zM195.4,27l-7,-2.3m0.3,-0.9l-3.8,-0.2l3.2,2zM195.4,32.3l-4.7,-1.9m0.2,-0.6l-2.6,-0.3l2.1,1.5zM195.4,37.5l-5.3,-2.3m0.3,-0.7l-2.9,-0.5l2.3,1.8zM195.4,42.8l-8.1,-2m0.3,-1l-4.3,0.1l3.8,2zM195.4,48.1l-5.6,4.9m-0.6,-0.7l-2.1,3.1l3.4,-1.7zM195.4,53.3l-3.5,6m-0.8,-0.5l-1,3.4l2.5,-2.5zM195.4,58.6l-6.7,5m-0.6,-0.9l-2.6,3.3l3.9,-1.6zM195.4,63.8l0.1,8.7m-1.1,0l1.2,4.2l1.1,-4.3zM195.4,69.1l1.8,8.2m-1,0.2l2,3.8l0.1,-4.3zM195.4,74.4l2.4,8.4m-1.1,0.3l2.3,3.8l-0.1,-4.4zM195.4,79.6l-0.6,10.4m-1.3,-0.1l1,5.1l1.6,-4.9zM207.6,27l-5.9,-6.3m0.8,-0.8l-3.7,-2.3l2.1,3.8zM207.6,32.3l-5.2,-1.6m0.2,-0.7l-2.8,-0.1l2.4,1.5zM207.6,37.5l-6.6,-1m0.1,-0.8l-3.3,0.4l3.1,1.3zM207.6,42.8l-6.5,-0.8m0.1,-0.8l-3.3,0.4l3.1,1.2zM207.6,48.1l-8.9,2.5m-0.3,-1.1l-4.1,2.4l4.7,-0.1zM207.6,53.3l-8.6,2.8m-0.4,-1.1l-3.9,2.5l4.6,-0.3zM207.6,58.6l-7.6,1.9m-0.2,-1l-3.5,1.9l4,0.1zM207.6,63.8l1.6,7.7m-1,0.2l1.8,3.6l0.2,-4zM207.6,69.1l0.6,9.5m-1.2,0.1l1.5,4.6l0.9,-4.8zM207.6,74.4l1,6m-0.8,0.1l1.2,2.9l0.3,-3.1zM207.6,79.6l1.8,7.7m-1,0.2l1.9,3.6l0.1,-4zM219.9,27l-7,-5m0.6,-0.9l-4.1,-1.6l2.8,3.4zM219.9,32.3l-4.1,-4.3m0.6,-0.5l-2.5,-1.6l1.4,2.6zM219.9,37.5l-8.2,-0.9m0.1,-1l-4.2,0.6l3.9,1.5zM219.9,42.8l-8.5,0.3m0,-1.1l-4.2,1.2l4.2,1zM219.9,48.1l-6.6,-0.2m0,-0.8l-3.3,0.8l3.2,0.9zM219.9,53.3l-7.1,-0.5m0.1,-0.9l-3.6,0.7l3.4,1.1zM219.9,58.6l-9.9,1.8m-0.2,-1.3l-4.7,2.1l5.1,0.4zM219.9,63.8l-5.2,2.4m-0.3,-0.7l-2.3,1.8l2.9,-0.5zM232.1,27l-9.2,-3.8m0.5,-1.2l-5,-0.7l4.1,3zM232.1,32.3l-7.5,-6.2m0.8,-1l-4.5,-2.1l2.9,4zM232.1,37.5l-9,-5.3m0.7,-1.1l-5,-1.4l3.7,3.6zM232.1,42.8l-9.9,-1.4m0.2,-1.3l-5,0.6l4.7,1.9zM232.1,48.1l-9.8,-3.3m0.4,-1.2l-5.2,-0.4l4.3,2.8zM232.1,53.3l-9.5,3.2m-0.4,-1.2l-4.3,2.8l5.1,-0.4zM232.1,58.6l-6.5,1.6m-0.2,-0.8l-3,1.6l3.4,0zM232.1,63.8l-7.4,1.7m-0.2,-0.9l-3.4,1.8l3.9,0.1zM244.3,16.5l-6,-0.3m0,-0.8l-3,0.6l2.9,0.9zM244.3,21.7l-7.5,-1.3m0.2,-1l-3.9,0.3l3.5,1.6zM244.3,27l-5.9,-3.6m0.5,-0.8l-3.4,-1l2.4,2.5zM244.3,32.3l-5.6,-4.5m0.6,-0.7l-3.3,-1.5l2.2,2.9zM244.3,37.5l-15.6,-1.9m0.2,-1.3l-5.1,0.7l4.8,1.9zM244.3,42.8l-10.8,-7.4m0.7,-1.1l-4.9,-1.7l3.4,3.9zM244.3,48.1l-8.2,-1.3m0.2,-1l-4.2,0.4l3.9,1.7zM244.3,53.3l-8,1.5m-0.2,-1l-3.7,1.8l4.1,0.3zM244.3,58.6l-7,-0.4m0.1,-0.9l-3.5,0.7l3.4,1.1zM244.3,63.8l-6.9,-0.5m0.1,-0.9l-3.5,0.7l3.3,1.1zM244.3,69.1l-6.6,0.1m0,-0.8l-3.3,0.9l3.3,0.8zM244.3,74.4l-6,1.7m-0.2,-0.8l-2.7,1.6l3.2,-0.1zM256.5,16.5l-4.9,-2.9m0.4,-0.6l-2.8,-0.8l2,2zM256.5,21.7l-6.1,-0.2m0,-0.8l-3.1,0.7l3,0.9zM256.5,27l-4.4,-2m0.3,-0.6l-2.4,-0.4l1.9,1.5zM256.5,32.3l-6.7,-2.1m0.3,-0.9l-3.6,-0.1l3.1,1.9zM256.5,37.5l-13.1,-3.2m0.3,-1.3l-5.2,0.1l4.5,2.5zM256.5,42.8l-13.7,-3.6m0.3,-1.3l-5.2,0l4.5,2.5zM256.5,48.1l-10,-3m0.4,-1.2l-5.2,-0.2l4.4,2.7zM256.5,53.3l-9.7,-4m0.5,-1.2l-5.1,-0.7l4.1,3.1zM256.5,58.6l-7.2,1.1m-0.1,-0.9l-3.4,1.4l3.7,0.4zM256.5,63.8l-7.8,0.3m0,-1l-3.8,1.1l3.9,0.8zM256.5,69.1l-5.6,2.6m-0.3,-0.7l-2.5,2l3.1,-0.5zM256.5,74.4l-5.6,0.7m-0.1,-0.7l-2.7,1l2.9,0.4zM268.7,16.5l-4.7,-1.6m0.2,-0.6l-2.5,-0.2l2.1,1.4zM268.7,21.7l-6.8,-0.5m0.1,-0.9l-3.4,0.6l3.3,1.1zM268.7,27l-4.3,-2.3m0.3,-0.6l-2.4,-0.6l1.8,1.7zM268.7,32.3l-6.2,-4.3m0.6,-0.8l-3.6,-1.3l2.5,2.9zM268.7,37.5l-5.6,-5.8m0.7,-0.7l-3.5,-2.2l2,3.6zM268.7,42.8l-9.5,-2.2m0.3,-1.2l-5,0.1l4.4,2.3zM268.7,48.1l-8.8,-5.6m0.7,-1.1l-4.9,-1.6l3.5,3.8zM268.7,53.3l-6.3,-2.4m0.3,-0.8l-3.4,-0.3l2.8,2zM268.7,58.6l-8.3,0.5m-0.1,-1.1l-4,1.3l4.1,0.8zM268.7,63.8l-7.5,-0.3m0,-1l-3.7,0.8l3.6,1.1zM268.7,69.1l-6.1,3.4m-0.4,-0.8l-2.6,2.4l3.4,-0.9zM268.7,74.4l-6.8,-0.9m0.1,-0.9l-3.4,0.4l3.2,1.3zM280.9,16.5l-5.2,-0.4m0.1,-0.7l-2.6,0.5l2.5,0.9zM280.9,21.7l-5.4,0.3m0,-0.7l-2.6,0.9l2.7,0.5zM280.9,27l-5.2,-1.3m0.2,-0.7l-2.7,0l2.4,1.3zM280.9,32.3l-7.2,-3m0.4,-0.9l-3.9,-0.5l3.2,2.4zM280.9,37.5l-7.2,-4.9m0.6,-0.9l-4.2,-1.5l2.9,3.3zM280.9,42.8l-9.8,-4.3m0.5,-1.2l-5.1,-0.8l4.1,3.2zM280.9,48.1l-8.6,-5.6m0.7,-1.1l-4.9,-1.6l3.5,3.8zM280.9,53.3l-10.1,-3.6m0.4,-1.2l-5.1,-0.4l4.3,2.9zM280.9,58.6l-7.3,1.6m-0.2,-0.9l-3.4,1.7l3.8,0.1zM280.9,63.8l-8.3,0.8m-0.1,-1.1l-4,1.5l4.2,0.6zM280.9,69.1l-5.6,1.6m-0.2,-0.7l-2.5,1.5l2.9,-0.1zM280.9,74.4l-8,0m0,-1l-3.9,1l4,1z" stroke="#000" stroke-width="1" fill="#000"/>
<rect x="235.5" y="0" width="49.5" height="18.6" fill="#fff"/>
</svg>
<rect x="0" y="0" width="285" height="81.3" fill="none" stroke="#555" stroke-width="0.7"/>
<path d="M0,0 v-3 M0,81.3 v3 M40.7,0 v-3 M40.7,81.3 v3 M81.4,0 v-3 M81.4,81.3 v3 M122.1,0 v-3 M122.1,81.3 v3 M162.9,0 v-3 M162.9,81.3 v3 M203.6,0 v-3 M203.6,81.3 v3 M244.3,0 v-3 M244.3,81.3 v3 M285,0 v-3 M285,81.3 v3 M0,0 h-3.2 M285,0 h3.2 M0,20.3 h-3.2 M285,20.3 h3.2 M0,40.6 h-3.2 M285,40.6 h3.2 M0,61 h-3.2 M285,61 h3.2 M0,81.3 h-3.2 M285,81.3 h3.2" stroke="#333" stroke-width="0.7" fill="none"/>
<text x="-1.3" y="104.1" text-anchor="middle" font-size="13.1">90<tspan dy="-6.6" dx="0.4" font-size="10">°</tspan><tspan dy="6.6" dx="0.8">W</tspan></text>
<text x="39.4" y="104.1" text-anchor="middle" font-size="13.1">60<tspan dy="-6.6" dx="0.4" font-size="10">°</tspan><tspan dy="6.6" dx="0.8">W</tspan></text>
<text x="80.1" y="104.1" text-anchor="middle" font-size="13.1">30<tspan dy="-6.6" dx="0.4" font-size="10">°</tspan><tspan dy="6.6" dx="0.8">W</tspan></text>
<text x="123.3" y="104.1" text-anchor="middle" font-size="13.1">0<tspan dy="-6.6" dx="0.4" font-size="10">°</tspan></text>
<text x="161.6" y="104.1" text-anchor="middle" font-size="13.1">30<tspan dy="-6.6" dx="0.4" font-size="10">°</tspan><tspan dy="6.6" dx="0.8">E</tspan></text>
<text x="202.3" y="104.1" text-anchor="middle" font-size="13.1">60<tspan dy="-6.6" dx="0.4" font-size="10">°</tspan><tspan dy="6.6" dx="0.8">E</tspan></text>
<text x="243" y="104.1" text-anchor="middle" font-size="13.1">90<tspan dy="-6.6" dx="0.4" font-size="10">°</tspan><tspan dy="6.6" dx="0.8">E</tspan></text>
<text x="283.7" y="104.1" text-anchor="middle" font-size="13.1">120<tspan dy="-6.6" dx="0.4" font-size="10">°</tspan><tspan dy="6.6" dx="0.8">E</tspan></text>
<text x="-9" y="6.7" text-anchor="end" font-size="13.1">30<tspan dy="-6.6" dx="0.4" font-size="10">°</tspan><tspan dy="6.6" dx="0.8">N</tspan></text>
<text x="-9" y="27" text-anchor="end" font-size="13.1">15<tspan dy="-6.6" dx="0.4" font-size="10">°</tspan><tspan dy="6.6" dx="0.8">N</tspan></text>
<text x="-9" y="45.4" text-anchor="end" font-size="13.1">EQ</text>
<text x="-9" y="67.7" text-anchor="end" font-size="13.1">15<tspan dy="-6.6" dx="0.4" font-size="10">°</tspan><tspan dy="6.6" dx="0.8">S</tspan></text>
<text x="-9" y="88" text-anchor="end" font-size="13.1">30<tspan dy="-6.6" dx="0.4" font-size="10">°</tspan><tspan dy="6.6" dx="0.8">S</tspan></text>
<text x="283.5" y="11.9" text-anchor="end" font-size="13.6" textLength="44.1" lengthAdjust="spacingAndGlyphs">-3 mon</text>
<text x="0.3" y="-6" font-size="17.2" font-weight="bold">c</text>
</g>
<g transform="translate(37.6,451.6)">
<svg x="0" y="0" width="285" height="81.3" viewBox="0 0 285 81.3" overflow="hidden">
<rect x="0" y="0" width="285" height="81.3" fill="#fff"/>
<path d="M11.5,3.6C11.5,4.6 11.2,5.8 10.8,6.6C10.4,7.4 9.6,8.1 8.9,8.4C8.2,8.7 7.3,8.7 6.6,8.4C5.9,8.1 5.1,7.4 4.7,6.6C4.3,5.8 4,4.6 4,3.6C4,2.6 4.3,1.5 4.7,0.7C5.1,-0.1 5.9,-0.8 6.6,-1.1C7.3,-1.4 8.2,-1.4 8.9,-1.1C9.6,-0.8 10.4,-0.1 10.8,0.7C11.2,1.5 11.5,2.6 11.5,3.6Z" fill="#f4a582"/>
<path d="M10,3.6C10,4.3 9.9,5.1 9.6,5.7C9.3,6.3 8.9,6.8 8.5,7C8,7.2 7.5,7.2 7,7C6.6,6.8 6.2,6.3 5.9,5.7C5.6,5.1 5.5,4.3 5.5,3.6C5.5,2.9 5.6,2.1 5.9,1.5C6.2,1 6.6,0.5 7,0.2C7.5,0 8,0 8.5,0.2C8.9,0.5 9.3,1 9.6,1.5C9.9,2.1 10,2.9 10,3.6Z" fill="#d6604d"/>
<path d="M80.6,4.2C80.6,5 80.2,5.9 79.7,6.5C79.1,7 78.1,7.6 77.1,7.8C76.2,8 75,8 74,7.8C73.1,7.6 72.1,7 71.5,6.5C71,5.9 70.6,5 70.6,4.2C70.6,3.5 71,2.6 71.5,2C72.1,1.4 73.1,0.9 74,0.7C75,0.4 76.2,0.4 77.1,0.7C78.1,0.9 79.1,1.4 79.7,2C80.2,2.6 80.6,3.5 80.6,4.2Z" fill="#fddbc7"/>
<path d="M96.5,-1.6C97.6,-3.2 103.1,-3.3 104.2,-1.6C105.3,0.1 104.3,7.3 103.2,8.8C102,10.4 98.6,9.5 97.5,7.8C96.4,6.1 95.4,0 96.5,-1.6Z" fill="#f4a582"/>
<path d="M-2.7,22.4C-0.9,14.8 4.6,22.2 7.8,23.5C10.9,24.7 14.5,26.9 16.1,29.7C17.7,32.5 17.3,37 17.1,40.2C17,43.3 14.7,45.4 15.1,48.5C15.4,51.6 17.7,55.3 19.2,58.9C20.8,62.6 23.2,67.1 24.5,70.4C25.7,73.7 27.2,77.2 26.5,78.8C25.8,80.3 22.4,80 20.3,79.8C18.2,79.6 16.1,78.8 14,77.7C11.9,76.7 10.5,74.9 7.8,73.6C5,72.2 -0.9,77.9 -2.7,69.4C-4.4,60.9 -4.4,30.1 -2.7,22.4Z" fill="#f4a582"/>
<path d="M-2.7,23.5C-1.1,16.7 3.7,23.3 6.7,24.5C9.7,25.7 13.5,28.1 15.1,30.8C16.6,33.4 16.3,37.2 16.1,40.2C15.9,43.1 13.7,45.4 14,48.5C14.4,51.6 17,55.6 18.2,58.9C19.4,62.2 21.7,66.4 21.3,68.3C21,70.2 18,70.4 16.1,70.4C14.2,70.4 13,69.2 9.8,68.3C6.7,67.5 -0.6,72.7 -2.7,65.2C-4.8,57.7 -4.3,30.2 -2.7,23.5Z" fill="#d6604d"/>
<path d="M-2.7,25.1C-1.3,19.3 2.9,24.8 5.7,26C8.4,27.1 12.1,29.4 13.6,31.8C15.1,34.2 14.6,37.4 14.4,40.2C14.2,42.9 12.1,45.5 12.3,48.5C12.6,51.5 15.3,55.1 16.1,57.9C16.9,60.7 18.2,64 17.1,65.2C16.1,66.4 13.1,65.9 9.8,65.2C6.5,64.5 -0.6,67.7 -2.7,61C-4.8,54.3 -4.1,31 -2.7,25.1Z" fill="#b2182b"/>
<path d="M-2.7,29.7C-1.3,25 3.4,28.8 5.7,29.7C7.9,30.6 10,32.1 10.9,34.9C11.8,37.7 10.4,42.8 10.9,46.4C11.4,50.1 14.4,54.6 14,56.9C13.7,59.1 11.6,59.8 8.8,60C6,60.2 -0.8,62.9 -2.7,57.9C-4.6,52.9 -4.1,34.4 -2.7,29.7Z" fill="#67001f"/>
<path d="M-2.7,74.6C-1.3,73.6 3.9,74.4 5.7,75.6C7.4,76.9 9.1,80.9 7.8,81.9C6.4,82.9 -0.9,83.1 -2.7,81.9C-4.4,80.7 -4.1,75.6 -2.7,74.6Z" fill="#f4a582"/>
<path d="M54.7,81.9C53.4,80.7 55.6,75.6 56.8,74.6C58,73.6 60.7,74.4 62,75.6C63.3,76.9 65.8,80.9 64.5,81.9C63.3,82.9 56,83.1 54.7,81.9Z" fill="#f4a582"/>
<path d="M64.1,40.2C64.8,39.2 68.3,38.4 69.3,39.1C70.4,39.8 71.1,43.4 70.4,44.3C69.7,45.3 66.2,45.4 65.2,44.7C64.1,44 63.4,41.1 64.1,40.2Z" fill="#d1e5f0"/>
<path d="M75.6,45.4C76.4,43.8 78.6,41.9 79.8,42.2C81,42.6 83.1,45.6 82.9,47.5C82.7,49.3 80.1,52.4 78.7,53.1C77.4,53.8 75.5,52.9 75,51.6C74.4,50.3 74.8,46.9 75.6,45.4Z" fill="#d1e5f0"/>
<path d="M73.7,57.9C73.7,58.5 73.6,59.2 73.5,59.6C73.3,60.1 73.1,60.5 72.9,60.7C72.6,60.9 72.3,60.9 72.1,60.7C71.8,60.5 71.6,60.1 71.5,59.6C71.3,59.2 71.2,58.5 71.2,57.9C71.2,57.3 71.3,56.6 71.5,56.2C71.6,55.7 71.8,55.3 72.1,55.1C72.3,54.9 72.6,54.9 72.9,55.1C73.1,55.3 73.3,55.7 73.5,56.2C73.6,56.6 73.7,57.3 73.7,57.9Z" fill="#d1e5f0"/>
<path d="M94.2,73.1C94.2,73.5 94,73.9 93.6,74.1C93.3,74.4 92.7,74.6 92.2,74.7C91.6,74.8 90.9,74.8 90.4,74.7C89.8,74.6 89.2,74.4 88.9,74.1C88.6,73.9 88.3,73.5 88.3,73.1C88.3,72.8 88.6,72.4 88.9,72.2C89.2,71.9 89.8,71.6 90.4,71.5C90.9,71.4 91.6,71.4 92.2,71.5C92.7,71.6 93.3,71.9 93.6,72.2C94,72.4 94.2,72.8 94.2,73.1Z" fill="#92c5de"/>
<path d="M101.7,37C102.6,36.2 106.2,37 108,38.1C109.7,39.1 112.1,41.7 112.1,43.3C112.1,44.8 109.5,47.5 108,47.5C106.4,47.5 103.8,45 102.7,43.3C101.7,41.5 100.8,37.9 101.7,37Z" fill="#f4a582"/>
<path d="M114.2,40.2C115,39.6 118.7,40.4 119.4,41.2C120.1,42 119.2,44.2 118.4,44.7C117.6,45.3 115.3,45.1 114.6,44.3C113.9,43.6 113.4,40.7 114.2,40.2Z" fill="#f4a582"/>
<path d="M93.3,31.8C94.1,31.3 97,32 97.5,32.8C98,33.7 97.2,36.5 96.5,37C95.7,37.5 93.4,36.8 92.9,36C92.4,35.1 92.6,32.3 93.3,31.8Z" fill="#fddbc7"/>
<path d="M118.4,33.9C119.8,33 130,32.3 133,32.8C136,33.4 137.5,36.2 136.1,37C134.7,37.9 127.6,38.6 124.7,38.1C121.7,37.5 117,34.8 118.4,33.9Z" fill="#f4a582"/>
<path d="M116.3,54.8C117,53.2 121.9,50.9 124.7,50.6C127.4,50.2 129.5,51.3 133,52.7C136.5,54.1 143.4,55.1 145.5,58.9C147.6,62.8 147.3,73.7 145.5,75.6C143.8,77.6 138.2,72.5 135.1,70.4C132,68.3 129.2,64.9 126.7,63.1C124.3,61.4 122.2,61.4 120.5,60C118.7,58.6 115.6,56.3 116.3,54.8Z" fill="#f4a582"/>
<path d="M124.7,53.7C125.4,53 129.5,54.6 133,55.8C136.5,57 143.4,58.4 145.5,61C147.6,63.6 147.3,70.8 145.5,71.5C143.8,72.2 137.9,67.1 135.1,65.2C132.3,63.3 130.6,61.9 128.8,60C127.1,58.1 124,54.4 124.7,53.7Z" fill="#d6604d"/>
<path d="M135.1,57.9C136.5,57.2 143.8,59.1 145.5,61C147.3,62.9 146.9,68.7 145.5,69.4C144.1,70.1 138.9,67.1 137.2,65.2C135.4,63.3 133.7,58.6 135.1,57.9Z" fill="#b2182b"/>
<path d="M192.5,17.2C194.9,15.8 201.5,16.1 205,15.1C208.5,14.1 210.9,10.6 213.4,10.9C215.8,11.3 217.6,14.8 219.6,17.2C221.7,19.6 223.8,22.4 225.9,25.5C228,28.7 230.4,32.5 232.2,36C233.9,39.5 234.6,42.9 236.3,46.4C238.1,49.9 241,53.4 242.6,56.9C244.2,60.3 245.4,62.4 245.7,67.3C246.1,72.2 255.3,82.9 244.7,86.1C234.1,89.2 192.2,87.8 182.1,86.1C172,84.3 182.8,78.8 184.2,75.6C185.5,72.5 190.4,69.7 190.4,67.3C190.4,64.9 186.2,63.1 184.2,61C182.1,58.9 179.3,57.2 177.9,54.8C176.5,52.3 175.5,49.2 175.8,46.4C176.1,43.6 178.2,40.5 180,38.1C181.7,35.6 184.5,34.2 186.2,31.8C188,29.4 189.4,25.9 190.4,23.5C191.5,21 190.1,18.6 192.5,17.2Z" fill="#f4a582"/>
<path d="M200.9,7.8C201.9,6.2 208.9,5.9 211.3,6.8C213.7,7.6 216.5,11.4 215.5,13C214.4,14.6 207.5,17 205,16.1C202.6,15.3 199.8,9.4 200.9,7.8Z" fill="#fddbc7"/>
<path d="M191.5,25.5C193.5,23.8 197.2,21.7 200.9,21.4C204.5,21 209.9,21.7 213.4,23.5C216.9,25.2 219.3,28.7 221.7,31.8C224.2,34.9 225.9,38.8 228,42.2C230.1,45.7 232.9,49.5 234.3,52.7C235.6,55.8 237,58.9 236.3,61C235.6,63.1 230.4,63.1 230.1,65.2C229.7,67.3 233.9,70.1 234.3,73.6C234.6,77 239.8,84 232.2,86.1C224.5,88.2 194.9,88.2 188.3,86.1C181.7,84 191.1,77 192.5,73.6C193.9,70.1 197,67.3 196.7,65.2C196.3,63.1 192.9,62.4 190.4,61C188,59.6 184,58.8 182.1,56.9C180.2,54.9 178.8,52.3 178.9,49.5C179.1,46.8 181.5,43.1 183.1,40.2C184.7,37.2 186.9,34.2 188.3,31.8C189.7,29.4 189.4,27.3 191.5,25.5Z" fill="#d6604d"/>
<path d="M195.6,57.9C196.7,56 203.1,55.6 205,56.9C206.9,58.1 208.2,63.3 207.1,65.2C206.1,67.1 200.7,69.6 198.8,68.3C196.9,67.1 194.6,59.8 195.6,57.9Z" fill="#f4a582"/>
<path d="M192.5,29.7C194.8,28.5 201.5,27.3 205,27.6C208.5,28 212.3,30.2 213.4,31.8C214.4,33.4 213.7,36 211.3,37C208.9,38.1 202.1,38.4 198.8,38.1C195.5,37.7 192.5,36.3 191.5,34.9C190.4,33.5 190.2,30.9 192.5,29.7Z" fill="#b2182b"/>
<path d="M182.1,43.3C183.1,41.9 190.4,41.4 192.5,42.2C194.6,43.1 195.6,47.1 194.6,48.5C193.5,49.9 188.3,51.5 186.2,50.6C184.2,49.7 181,44.7 182.1,43.3Z" fill="#b2182b"/>
<path d="M213.4,44.3C215.1,43.5 223.5,44.3 225.9,45.4C228.3,46.4 229.7,49.7 228,50.6C226.3,51.5 217.9,51.6 215.5,50.6C213,49.5 211.6,45.2 213.4,44.3Z" fill="#b2182b"/>
<path d="M196.7,86.1C191.8,84.5 196.3,78.4 198.8,76.7C201.2,74.9 206.8,75.5 211.3,75.6C215.8,75.8 223.1,76 225.9,77.7C228.7,79.5 232.9,84.7 228,86.1C223.1,87.5 201.5,87.6 196.7,86.1Z" fill="#b2182b"/>
<path d="M211.3,58.9C212.3,57.9 217.9,57.2 219.6,57.9C221.4,58.6 222.8,62.1 221.7,63.1C220.7,64.2 215.1,64.9 213.4,64.2C211.6,63.5 210.2,60 211.3,58.9Z" fill="#b2182b"/>
<path d="M232.2,18.2C241.7,17.4 279.1,6.9 288.5,18.2C297.9,29.5 290.3,74.8 288.5,86.1C286.8,97.4 281.6,87.5 278.1,86.1C274.6,84.7 271.5,80.5 267.7,77.7C263.8,74.9 258.6,72.2 255.1,69.4C251.7,66.6 249.2,64.5 246.8,61C244.3,57.5 242.6,53 240.5,48.5C238.4,44 235.8,38.1 234.3,33.9C232.7,29.7 231.5,26.1 231.1,23.5C230.8,20.8 222.6,19.1 232.2,18.2Z" fill="#d1e5f0"/>
<path d="M236.3,19.3C244.7,17.5 279.8,9.5 288.5,19.3C297.2,29 290.6,68.7 288.5,77.7C286.4,86.8 280.2,75.6 276,73.6C271.8,71.5 267.3,68.3 263.5,65.2C259.7,62.1 256.2,58.6 253,54.8C249.9,50.9 247.1,46.4 244.7,42.2C242.3,38.1 239.8,33.5 238.4,29.7C237,25.9 228,21 236.3,19.3Z" fill="#92c5de"/>
<path d="M242.6,21.4C245.4,19.8 251.7,20.7 259.3,20.3C267,20 283.7,10.8 288.5,19.3C293.4,27.8 290.6,63.5 288.5,71.5C286.4,79.5 279.8,69.2 276,67.3C272.2,65.4 269,62.8 265.6,60C262.1,57.2 258.3,54.1 255.1,50.6C252,47.1 248.9,42.6 246.8,39.1C244.7,35.6 243.3,32.7 242.6,29.7C241.9,26.8 239.8,22.9 242.6,21.4Z" fill="#4393c3"/>
<path d="M245.1,35.6C246.6,34.7 251.4,36 255.1,37.2C258.9,38.5 262.1,41.3 267.7,43.1C273.2,44.9 285.1,43.6 288.5,48.1C292,52.5 290.6,66.9 288.5,69.8C286.4,72.7 279.8,67.4 276,65.6C272.2,63.9 269,61.8 265.6,59.4C262.1,56.9 258.3,53.8 255.1,51C251.9,48.2 248,45.2 246.4,42.7C244.7,40.1 243.6,36.5 245.1,35.6Z" fill="#2166ac"/>
<path d="M267.7,19.3C269.7,18.2 285.1,17.9 288.5,19.3C292,20.7 290.6,26.6 288.5,27.6C286.4,28.7 279.5,26.9 276,25.5C272.5,24.1 265.6,20.3 267.7,19.3Z" fill="#2166ac"/>
<path d="M248.9,39.1C250.5,38.3 256.9,40.4 261.4,41.8C265.9,43.2 271.5,46.2 276,47.7C280.5,49.1 286.4,47.6 288.5,50.6C290.6,53.6 290.6,63.8 288.5,65.6C286.4,67.4 280.2,63.2 276,61.4C271.8,59.7 267.6,57.6 263.5,55.2C259.4,52.7 253.8,49.5 251.4,46.8C248.9,44.2 247.2,39.9 248.9,39.1Z" fill="#053061"/>
<path d="M175.8,72.5C175.8,73 175.6,73.7 175.3,74.1C175,74.5 174.5,74.9 174.1,75.1C173.6,75.3 173,75.3 172.5,75.1C172.1,74.9 171.6,74.5 171.3,74.1C171,73.7 170.8,73 170.8,72.5C170.8,72 171,71.3 171.3,70.9C171.6,70.5 172.1,70.1 172.5,69.9C173,69.8 173.6,69.8 174.1,69.9C174.5,70.1 175,70.5 175.3,70.9C175.6,71.3 175.8,72 175.8,72.5Z" fill="#92c5de"/>
<path d="M170.6,4.7C170.6,5.3 170.5,6 170.4,6.5C170.3,7 170.1,7.5 169.9,7.6C169.7,7.8 169.4,7.8 169.2,7.6C169,7.5 168.8,7 168.7,6.5C168.6,6 168.5,5.3 168.5,4.7C168.5,4 168.6,3.3 168.7,2.8C168.8,2.3 169,1.9 169.2,1.7C169.4,1.5 169.7,1.5 169.9,1.7C170.1,1.9 170.3,2.3 170.4,2.8C170.5,3.3 170.6,4 170.6,4.7Z" fill="#b2182b"/>
<path d="M17.2,28.9 19.7,26.3 20.6,25.6 23.1,25.1 24.8,23.8 25.4,25.7 27.1,24.1 29.3,25.5 32.6,26.3 34.6,26.8 38,26.2 39.4,27.8 40.7,29.1 42.8,31.2 44.8,32.5 47.5,32.7 50.9,33.9 52.2,34.8 54.3,38.2 54.3,40.6 57,41.6 61.8,44 65.8,44.6 67.9,44.4 69.9,45.7 71.9,47.2 74.2,47.7 74.9,50.3 74.6,52.2 72.6,54.9 71.2,56.2 69.9,58.3 69.2,61 69.2,64.4 68.3,67.1 67.2,69.1 66.5,70.5 65.1,71.7 63.1,71.8 61.1,72.6 59,73.4 57,74.9 56.2,76.6 56.2,78.6 55,79.9 54,82 25.1,82 25.4,78.6 26.1,75.9 26.6,72.5 27,69.1 26.7,65.6 25.2,64.2 22.4,62.7 20.1,61.4 18.6,59.5 17.4,56.9 16,54.2 14.9,51.6 13.7,50 11.9,48.8 11.8,46.7 13.2,45.3 13.6,44 12.3,43.6 12.3,42 13.4,40.6 13.6,39.6 15.1,38.6 15.6,37.3 17,37.1 17.2,35.2 17,33.2 17.1,31.2 16.4,30.8 15.7,29.8 14.2,29 12.9,30.4 11.5,30.1 9.5,29.1 7.5,27.4 6,25.7 3.7,23.2 2,22.6 -1.4,22.2 -1.4,18.7 2,19.1 4.8,19.5 7.5,20.1 8.7,21.7 8.4,24.4 8.7,26 10,27.6 11.5,28.5 13.6,28.2 14.9,28 16.3,28.5Z M9.2,-0.7 9.8,2 11.1,4.3 12.8,4.6 13.2,2 12.2,-0.7Z M109,-0.7 108.6,1.4 106.5,2.7 104.5,3.1 102.5,5.4 100.4,8.1 99.1,11.5 100,14.2 99.8,18.3 98.4,20.7 99.3,23 99.5,24.4 101.8,25.7 103.4,27.4 104.2,29.1 106.5,31.3 109.2,33.5 112,34.7 115.4,33.7 118.1,33.7 119.4,34.1 122.1,33.1 123.8,32.4 125.5,32.1 128.2,32.2 129.6,33.9 131,34.8 133,34.6 134.4,35.2 135.3,36.6 135.2,39.3 134.8,40.6 134.1,41.6 135,43.4 137.1,46.1 138.4,47.4 138.8,48.9 139.8,51.5 140.3,52.8 140.9,55.6 139.1,58.9 138.4,61.7 138.2,64.4 139.1,66.4 140.5,69.1 141.8,71.8 142.5,75.9 143.2,77.9 144.5,79.5 145.2,82 164.2,82 164.2,81.2 165.6,79.7 166.7,77.2 166.4,75.7 168.3,74.4 170.3,73 170.1,70.5 169.6,68.4 169.4,67.5 171.7,65.7 173.7,64 176.4,62.6 177.5,60.3 177.1,57.6 177.1,54.9 176.2,52.8 175.5,50.1 175.1,48.8 175.3,47 176,46.1 177.1,44 178.5,43.1 179.8,41.3 181.9,39.3 183.9,37.8 186.6,35.2 188,33.2 189.3,30.5 190.7,27.8 191.6,26.4 191.8,24.7 190,25.1 187.3,25.5 184.6,26.2 182.5,26.6 180.9,25.1 180.8,23.7 179.8,22.4 177.8,20.7 176.2,19.6 175.1,17.6 173.7,15.9 172.8,14.2 172.6,12.2 171.7,10.2 170.3,8.1 169,5.4 168,3.4 166.4,0.3 166.2,-0.7Z M169.6,-0.7 169.5,0.7 169.6,2.7 171.7,5.4 173,7.7 174.8,10.2 175.3,12.2 177.1,14.2 178.5,16.3 179.8,18.3 180.5,21 181.2,23.4 183.2,23.3 185.9,22.4 188,21.7 190.7,20.3 193,19 194.8,18 196.8,17.3 198.8,15.6 200.4,14.2 200.9,12.9 202.2,11.5 203.3,10.2 201.7,8.7 199.5,8.1 198.7,6.8 198.6,5 198.1,5.8 196.1,7.7 193.4,7.9 192.2,7.7 192.2,6.1 191.6,5.3 191.1,6.8 190.3,5.8 190.1,4.5 188.6,3.4 188,2 187.3,0.7 188,-0.7Z M190,-0.7 191.1,1.4 192,2.8 194.1,4.3 196.1,4.6 198.1,3.9 199.5,4.3 200.2,5.8 202.2,6.2 205.6,6.5 208.3,6.4 210.4,6.4 212.4,6.2 213.1,7 213.8,8.4 215.1,8.9 215.8,10.3 217.1,12.5 219.9,12.2 220.5,11.2 220.9,12.9 220.9,14.9 221.6,17.6 222.3,19.6 223.2,22.4 224.3,24.8 225.6,27.1 226.4,28.9 227.3,29.7 228.3,28.7 229.4,28 230.4,26.7 230.6,24.4 231.1,22.9 230.8,20.3 231.8,19.2 233.8,18 235.5,16.5 237.5,14.5 239.5,13.3 240.2,12.2 241.6,11.2 242.9,11 245,10.4 246.3,10.2 247,12.2 248.1,13.6 249.4,14.9 250.1,16.3 250.3,18.3 250.1,19.1 251.8,19.2 253.5,18.2 254.5,18.3 254.9,20.3 255.4,22.4 256,24.4 256,26.4 255.6,28.5 255.6,29.8 256.5,30.5 257.9,31.8 258.4,33.9 258.9,35.2 259.6,36.9 261.2,37.9 262.6,38.8 263.6,38.8 263.3,37.3 262.5,35.9 262.5,34.6 261.7,33.1 260.8,32.2 259.9,31.3 258.5,30.8 257.9,29.1 257.2,28 256.9,26.4 257.6,24.7 257.9,23 258.5,22.4 259.2,23.4 261,24.1 261.9,25.7 263.3,26.4 264.4,26.6 264.6,28.9 266.7,27.5 267.6,26.4 270.1,25.1 270.5,23 270.1,20.3 269.1,19 267.4,17.6 266,15.6 265.7,14.2 266.9,12.9 268.7,11.5 270.8,11.5 271.4,13 272.1,11.9 274.1,11.1 276.9,10.3 279.6,9.6 281.6,8.4 283,7.2 284.3,5.8 285.7,4.7 285.7,-0.7Z M251.5,33.1 254.5,33.6 255.6,35 257.6,36.6 258.9,37.7 260.6,39.3 262.6,40.6 263,42 264,43.1 265.3,44 266,45 265.9,46.7 265.7,48.5 264.1,48.5 263.3,47.3 261,45.9 259.2,43.9 258.3,42 256.8,40.2 256.1,38.3 254.7,37.3 253.1,35.8 251.8,34.3Z M264.9,49.9 266,48.6 267.4,48.6 269.4,49.6 272.1,49.9 272.8,49.3 274.8,50 277.5,51.1 277.5,52.4 274.8,52 271.4,51.5 268.7,51.2 266.7,50.7Z M270.1,38.6 270.8,37.9 272.8,38.5 273.3,37.3 275.5,36.3 276.9,34.6 278.9,33.2 280.2,31.4 281.3,31.4 281.9,32.5 283.6,33.6 282.6,34.8 282,36.6 282.3,37.9 283.6,39.3 282,39.6 281.6,41.3 280.2,42.7 280.2,44.7 279.6,46.1 277.7,46.1 276.9,45.3 275.5,45 273.9,45.4 271.7,44.6 271.4,42.7 270.3,41.3 270.1,40Z M284.1,48.1 285.7,48.1 285.7,39.3 284.7,40 284.3,42 283.4,44.4 284.1,45.4Z M285.7,67.6 283.6,67.8 281.6,68.7 279.6,69 278.2,69.8 277,70.2 276.4,71.3 276.2,73.2 276,74.5 276.9,76.6 277.1,77.9 277.7,79.7 278.2,82 285.7,82Z M189.1,56.9 190,58.9 190.7,61.7 189.6,63 189.3,65 188.6,67.1 188,69.8 187,72.5 185.9,74.5 183.9,75.3 181.9,74.5 181.2,72.5 180.9,70.5 181.9,68.4 182.5,66.4 181.9,64.4 182.5,62.6 184.6,62.1 186.6,60.7 187.3,58.9 188.4,57.6Z" fill="#a9a9a9"/>
<path d="M0,11.2l-0.2,2.1m-0.4,0l0.3,1.3l0.5,-1.3zM0,32.3l-1.4,0.5m-0.1,-0.2l-0.7,0.6l0.9,-0.1zM12.2,32.3l0.5,0.8m-0.2,0.1l0.7,0.5l-0.3,-0.8zM24.4,16.5l0.4,1.4m-0.3,0.1l0.5,0.8l0,-0.9zM24.4,21.7l3.3,0.7m-0.1,0.5l1.9,-0.2l-1.7,-0.9zM24.4,27l0.4,1.4m-0.2,0.1l0.5,0.8l0,-0.9zM24.4,32.3l0.9,0.4m-0.1,0.2l0.8,0.1l-0.6,-0.5zM24.4,37.5l2.3,-1m0.2,0.4l1.2,-1l-1.6,0.2zM24.4,42.8l-0.6,-1.4m0.3,-0.1l-0.6,-0.8l0.1,1zM24.4,48.1l-0.1,0.8m-0.2,0l0.1,0.8l0.4,-0.8zM24.4,53.3l-1.4,2.2m-0.4,-0.3l-0.5,1.6l1.3,-1.1zM24.4,58.6l2.6,0.2m0,0.5l1.7,-0.3l-1.6,-0.6zM24.4,63.8l-0.6,3.6m-0.5,-0.1l0.2,1.9l0.8,-1.7zM24.4,69.1l0.1,2.1m-0.4,0l0.4,1.3l0.4,-1.3zM24.4,74.4l-1.9,0.4m-0.1,-0.4l-1.1,0.6l1.2,0.1zM24.4,79.6l-3,-0.2m0,-0.5l-1.8,0.4l1.8,0.6zM36.6,16.5l2.3,-2.5m0.4,0.4l0.8,-1.7l-1.6,1zM36.6,21.7l3.1,0.3m-0.1,0.5l1.8,-0.4l-1.7,-0.7zM36.6,27l2.1,-1.6m0.3,0.4l1,-1.4l-1.6,0.6zM36.6,53.3l2.8,-0.6m0.1,0.5l1.6,-0.9l-1.8,-0.2zM36.6,58.6l2.2,0.9m-0.2,0.4l1.5,0.1l-1.2,-1zM36.6,63.8l1.1,0.5m-0.1,0.2l0.8,0.1l-0.6,-0.5zM36.6,69.1l1.1,1.3m-0.2,0.2l0.9,0.6l-0.5,-1zM36.6,74.4l1.8,0.4m-0.1,0.3l1.2,-0.1l-1,-0.6zM36.6,79.6l0.1,0.8m-0.2,0l0.4,0.8l0.1,-0.8zM48.9,16.5l-0.9,-2.5m0.5,-0.2l-1,-1.4l0.1,1.7zM48.9,21.7l-0.2,-1.4m0.3,0l-0.3,-0.8l-0.2,0.9zM48.9,27l-0.5,-0.7m0.2,-0.1l-0.7,-0.5l0.3,0.8zM48.9,32.3l-1,-0.3m0.1,-0.2l-0.8,0l0.7,0.5zM48.9,37.5l-2,1.6m-0.3,-0.4l-0.9,1.4l1.5,-0.6zM48.9,42.8l-2,0.2m0,-0.4l-1.2,0.5l1.3,0.2zM48.9,48.1l-0.3,1.3m-0.2,-0.1l0.1,0.9l0.4,-0.7zM48.9,53.3l3.6,-0.4m0.1,0.5l1.7,-0.7l-1.8,-0.4zM48.9,58.6l0.6,-1.5m0.3,0.1l0.1,-1l-0.6,0.8zM61.1,16.5l-1.5,-1.1m0.2,-0.3l-1.1,-0.4l0.7,1zM61.1,21.7l-0.1,-0.9m0.2,0l-0.4,-0.8l-0.1,0.8zM61.1,27l1,-2.6m0.5,0.2l0.2,-1.8l-1.1,1.4zM61.1,32.3l-1.9,-0.6m0.1,-0.3l-1.3,0l1,0.7zM61.1,37.5l-1.7,-1m0.2,-0.3l-1.2,-0.3l0.9,0.9zM61.1,42.8l-2.2,1.6m-0.3,-0.4l-1,1.4l1.6,-0.6zM61.1,48.1l1.8,-0.7m0.1,0.3l1,-0.7l-1.2,0.1zM61.1,53.3l1.5,-2.4m0.4,0.3l0.5,-1.8l-1.4,1.2zM61.1,58.6l0.6,-2.8m0.5,0.1l-0.1,-1.8l-0.9,1.6zM61.1,74.4l0.6,1.5m-0.3,0.1l0.7,0.8l-0.1,-1zM61.1,79.6l1.3,1.4m-0.3,0.2l1,0.6l-0.5,-1.1zM73.3,16.5l1.1,-0.9m0.2,0.2l0.5,-0.8l-0.9,0.4zM73.3,21.7l0.7,-0.9m0.2,0.2l0.3,-0.8l-0.7,0.5zM73.3,27l1,-3.6m0.5,0.1l0,-1.9l-1,1.6zM73.3,32.3l0.2,-1.5m0.3,0l-0.2,-1l-0.4,0.9zM73.3,37.5l-0.2,-1.1m0.2,-0.1l-0.4,-0.7l-0.1,0.8zM73.3,42.8l-3,0.2m0,-0.5l-1.8,0.7l1.8,0.4zM73.3,48.1l1.6,0.3m-0.1,0.3l1.1,-0.1l-0.9,-0.5zM73.3,53.3l0.8,2.5m-0.5,0.1l0.9,1.4l0,-1.6zM73.3,58.6l1.7,-0.6m0.1,0.3l0.9,-0.7l-1.1,0.1zM73.3,63.8l1.9,-0.4m0.1,0.4l1.1,-0.6l-1.2,-0.1zM73.3,69.1l0.6,0.9m-0.2,0.1l0.6,0.5l-0.2,-0.8zM73.3,74.4l-0.5,3.4m-0.5,-0.1l0.3,1.9l0.8,-1.7zM73.3,79.6l0,1.5m-0.3,0l0.3,0.9l0.3,-0.9zM85.5,16.5l1.6,-0.8m0.2,0.3l0.8,-0.8l-1.1,0.2zM85.5,21.7l3.5,1.9m-0.3,0.5l1.8,0.4l-1.3,-1.3zM85.5,27l0.7,0m0,0.2l0.8,-0.3l-0.8,-0.2zM85.5,32.3l2.7,-2.4m0.4,0.4l1,-1.6l-1.7,0.8zM85.5,37.5l2.8,-1.4m0.2,0.5l1.4,-1.3l-1.8,0.3zM85.5,42.8l-0.4,-0.9m0.2,-0.1l-0.5,-0.6l0.1,0.8zM85.5,48.1l-0.7,0m0,-0.2l-0.8,0.2l0.8,0.3zM85.5,53.3l0.3,2.3m-0.4,0.1l0.6,1.4l0.2,-1.5zM85.5,58.6l1.9,1.6m-0.3,0.3l1.5,0.6l-0.9,-1.3zM85.5,63.8l1.5,1.1m-0.2,0.3l1.1,0.4l-0.7,-1zM85.5,69.1l1.3,2m-0.4,0.2l1.2,1l-0.4,-1.4zM97.7,11.2l1.3,-0.6m0.1,0.2l0.7,-0.6l-0.9,0.1zM97.7,16.5l1.8,0.7m-0.1,0.3l1.2,0.1l-1,-0.8zM97.7,21.7l-1,0.3m-0.1,-0.2l-0.7,0.5l0.8,0zM97.7,27l-1.6,1m-0.2,-0.3l-0.8,0.9l1.2,-0.3zM97.7,32.3l1.7,1.5m-0.3,0.3l1.3,0.6l-0.8,-1.2zM97.7,37.5l0.7,0.2m-0.1,0.2l0.8,0l-0.7,-0.5zM97.7,42.8l1.7,-1.3m0.2,0.3l0.8,-1.1l-1.3,0.5zM97.7,69.1l-3.3,1.9m-0.3,-0.5l-1.3,1.4l1.8,-0.4zM109.9,11.2l-1.4,0.9m-0.2,-0.3l-0.7,0.8l1,-0.3zM109.9,16.5l-0.9,1.2m-0.2,-0.2l-0.4,0.9l0.8,-0.5zM109.9,21.7l-2.6,-2.1m0.3,-0.4l-1.7,-0.7l1.1,1.6zM109.9,27l-1.6,-0.4m0.1,-0.3l-1.1,0.1l0.9,0.5zM109.9,32.3l-1.6,0.7m-0.1,-0.3l-0.8,0.7l1.1,-0.2zM109.9,37.5l0,0.7m-0.2,0l0.3,0.8l0.2,-0.8zM109.9,42.8l0.8,-1m0.2,0.2l0.3,-0.8l-0.7,0.5zM109.9,69.1l-1.5,0.6m-0.1,-0.3l-0.8,0.7l1.1,-0.1zM109.9,74.4l-2.1,-2.6m0.4,-0.3l-1.5,-1.1l0.7,1.7zM109.9,79.6l0.9,-1.9m0.4,0.2l0.2,-1.4l-0.9,1zM122.1,11.2l-3.5,-2.2m0.3,-0.5l-1.8,-0.5l1.2,1.4zM122.1,16.5l-0.5,-0.5m0.2,-0.2l-0.8,-0.4l0.4,0.7zM122.1,21.7l1.3,-1.4m0.2,0.2l0.5,-1.1l-1,0.6zM122.1,27l1.2,-4.1m0.5,0.2l0,-1.9l-1,1.6zM122.1,32.3l-1.8,0.9m-0.2,-0.3l-0.9,0.9l1.3,-0.2zM122.1,37.5l-1.4,2.2m-0.4,-0.3l-0.4,1.6l1.2,-1.1zM122.1,42.8l2.6,1.3m-0.2,0.5l1.8,0.3l-1.4,-1.3zM122.1,79.6l2.3,1.2m-0.2,0.4l1.6,0.3l-1.2,-1.2zM134.4,11.2l-4,-0.2m0,-0.5l-1.8,0.4l1.8,0.6zM134.4,16.5l-0.5,-1.8m0.3,-0.1l-0.7,-1l0,1.2zM134.4,21.7l-0.2,-0.8m0.2,-0.1l-0.5,-0.7l0,0.8zM134.4,27l-0.4,-0.6m0.2,-0.1l-0.7,-0.5l0.3,0.8zM134.4,32.3l0.7,-1.1m0.2,0.1l0.2,-0.8l-0.6,0.5zM134.4,37.5l-3,-2m0.3,-0.5l-1.8,-0.5l1.2,1.4zM134.4,42.8l-1.8,1.1m-0.2,-0.3l-0.9,1l1.3,-0.3zM134.4,48.1l1.6,0.2m0,0.3l1,-0.2l-0.9,-0.4zM134.4,53.3l1.6,0.2m0,0.3l1,-0.2l-0.9,-0.4zM134.4,79.6l-1.8,2.2m-0.4,-0.3l-0.7,1.7l1.5,-1.1zM146.6,21.7l2.7,-1m0.2,0.5l1.5,-1.1l-1.8,0.1zM146.6,27l-0.5,-1.3m0.2,-0.1l-0.6,-0.7l0.1,0.9zM146.6,32.3l-1,-0.5m0.1,-0.2l-0.8,-0.2l0.6,0.6zM146.6,37.5l-0.7,-1.1m0.2,-0.1l-0.7,-0.6l0.2,0.8zM146.6,42.8l1.4,2.4m-0.4,0.3l1.3,1.2l-0.4,-1.7zM158.8,21.7l-1.7,-1.2m0.2,-0.3l-1.3,-0.4l0.8,1.1zM158.8,27l1.9,-3.6m0.5,0.3l0.4,-1.8l-1.3,1.3zM158.8,32.3l-3.9,-0.4m0.1,-0.5l-1.8,0.4l1.7,0.7zM158.8,37.5l-2.2,-0.7m0.1,-0.4l-1.5,0l1.2,0.8zM158.8,42.8l0.6,1.2m-0.2,0.1l0.6,0.6l-0.1,-0.8zM171,0.7l1.1,-0.1m0,0.2l0.8,-0.3l-0.8,-0.2zM171,5.9l2.4,0.2m0,0.4l1.5,-0.3l-1.5,-0.6zM171,11.2l-0.7,0m0,-0.2l-0.8,0.2l0.8,0.3zM171,16.5l-1.1,-1.4m0.3,-0.2l-1,-0.7l0.4,1.1zM171,21.7l-0.7,-0.6m0.2,-0.2l-0.8,-0.4l0.4,0.7zM171,27l-1.2,0.2m0,-0.2l-0.7,0.4l0.8,0.1zM171,32.3l-2.8,0m0,-0.5l-1.7,0.5l1.7,0.5zM171,37.5l-0.3,0.7m-0.2,-0.1l-0.1,0.8l0.5,-0.7zM183.2,0.7l0.1,-0.9m0.2,0l-0.1,-0.8l-0.4,0.8zM183.2,5.9l1.5,-1.7m0.3,0.3l0.6,-1.3l-1.2,0.8zM183.2,11.2l0.6,0.9m-0.2,0.1l0.7,0.5l-0.3,-0.8zM183.2,16.5l0.8,2.2m-0.4,0.1l0.9,1.2l-0.1,-1.5zM183.2,21.7l-1.7,-0.1m0,-0.3l-1.1,0.2l1,0.4zM183.2,79.6l1.8,-1.8m0.3,0.3l0.8,-1.4l-1.4,0.8zM195.4,0.7l-1,-1.3m0.2,-0.2l-0.8,-0.6l0.4,1zM195.4,5.9l-0.5,-0.7m0.2,-0.1l-0.7,-0.5l0.3,0.8zM195.4,11.2l2.6,-1m0.2,0.5l1.4,-1.1l-1.8,0.1zM195.4,16.5l1.7,1.7m-0.3,0.3l1.4,0.7l-0.7,-1.4zM195.4,21.7l0.4,0.6m-0.2,0.1l0.7,0.5l-0.3,-0.8zM207.6,0.7l0.9,1.6m-0.3,0.2l0.8,0.8l-0.3,-1.1zM207.6,5.9l-0.8,0.1m0,-0.2l-0.8,0.4l0.8,0.1zM207.6,11.2l-2.1,-1m0.2,-0.4l-1.5,-0.2l1.1,1zM207.6,16.5l1.7,-0.7m0.1,0.3l0.9,-0.8l-1.2,0.1zM207.6,21.7l2.1,-0.1m0,0.4l1.2,-0.5l-1.3,-0.3zM219.9,0.7l-0.2,2.9m-0.5,0l0.4,1.8l0.7,-1.7zM219.9,5.9l-2.2,2.2m-0.4,-0.4l-0.9,1.7l1.7,-0.9zM219.9,11.2l-0.4,-2.3m0.4,-0.1l-0.7,-1.3l-0.2,1.5zM219.9,16.5l0.2,-0.9m0.2,0.1l0,-0.8l-0.4,0.7zM219.9,21.7l-0.6,-1.9m0.3,-0.1l-0.7,-1l0,1.3zM232.1,0.7l2.2,2.8m-0.4,0.3l1.5,1.1l-0.7,-1.8zM232.1,5.9l-0.4,3.8m-0.5,-0.1l0.3,1.8l0.7,-1.7zM232.1,11.2l0.1,-0.7m0.2,0.1l-0.1,-0.8l-0.4,0.7zM232.1,16.5l1,-0.7m0.1,0.2l0.5,-0.7l-0.8,0.3zM232.1,21.7l1.1,-1.3m0.2,0.2l0.4,-1l-0.9,0.6zM232.1,53.3l0.7,-0.2m0.1,0.2l0.7,-0.4l-0.8,0zM232.1,58.6l1.2,0.1m0,0.2l0.8,-0.2l-0.8,-0.3zM244.3,0.7l-0.3,0.7m-0.2,-0.1l-0.1,0.8l0.5,-0.7zM244.3,5.9l-1.4,-1m0.2,-0.3l-1,-0.4l0.7,0.9zM244.3,11.2l-0.8,-0.8m0.2,-0.2l-0.7,-0.4l0.4,0.7zM244.3,53.3l2.4,-1.7m0.3,0.4l1.2,-1.5l-1.8,0.6zM256.5,0.7l-1,1m-0.2,-0.2l-0.5,0.8l0.8,-0.4zM256.5,5.9l1.2,-1.6m0.3,0.2l0.5,-1.2l-1.1,0.8zM256.5,11.2l0.6,-0.4m0.1,0.2l0.5,-0.7l-0.8,0.3zM256.5,53.3l-2.3,2.5m-0.4,-0.4l-0.8,1.7l1.6,-0.9zM268.7,0.7l-3.9,-1.4m0.2,-0.5l-1.9,-0.1l1.5,1.1zM268.7,5.9l0.9,-1.2m0.2,0.2l0.3,-0.9l-0.8,0.5zM268.7,11.2l1.9,-1m0.2,0.4l1,-1l-1.4,0.2zM268.7,16.5l-0.6,1.6m-0.3,-0.1l-0.1,1.1l0.7,-0.9zM268.7,21.7l-0.5,0.6m-0.2,-0.2l-0.3,0.8l0.7,-0.5zM268.7,27l-0.2,0.8m-0.2,-0.1l0.1,0.8l0.4,-0.7zM268.7,32.3l2.1,2m-0.4,0.4l1.7,0.8l-1,-1.6zM280.9,0.7l0.2,-1.4m0.2,0l-0.1,-0.9l-0.4,0.8zM280.9,5.9l3.4,-0.9m0.1,0.5l1.6,-1l-1.9,0zM280.9,11.2l-0.2,2.7m-0.5,0l0.4,1.7l0.6,-1.6zM280.9,16.5l-0.8,0.4m-0.1,-0.2l-0.6,0.6l0.8,-0.1zM280.9,21.7l-2.3,-1.3m0.2,-0.4l-1.6,-0.4l1.1,1.2zM280.9,27l-0.8,0.2m-0.1,-0.2l-0.7,0.5l0.8,0zM280.9,32.3l0.1,0.8m-0.2,0l0.4,0.8l0.1,-0.8z" stroke="#606060" stroke-width="0.8" fill="#606060"/>
<path d="M0,0.7l8.8,1.1m-0.1,1.1l4.5,-0.6l-4.2,-1.7zM0,5.9l9.7,1.8m-0.2,1.2l5,-0.3l-4.5,-2.1zM0,16.5l-3.4,-0.9m0.2,-0.6l-1.8,0.1l1.5,1zM0,21.7l-3,-0.6m0.1,-0.6l-1.7,0.3l1.5,0.9zM0,27l-2.7,-2.1m0.4,-0.5l-1.7,-0.5l1,1.5zM0,37.5l1.6,0.5m-0.2,0.6l1.7,-0.1l-1.3,-1.1zM0,42.8l2.3,1.2m-0.3,0.5l1.7,0.2l-1.1,-1.3zM0,48.1l1.3,0.7m-0.3,0.5l1.7,0.3l-1.1,-1.3zM0,53.3l1.6,0.6m-0.2,0.6l1.7,0l-1.3,-1.1zM0,58.6l5.9,0.5m-0.1,0.8l3,-0.5l-2.8,-1zM0,63.8l3.5,3.2m-0.4,0.5l2.1,1.1l-1.3,-2zM0,69.1l4.1,0.8m-0.1,0.6l2.1,-0.2l-1.9,-1zM0,74.4l4.9,1.5m-0.2,0.6l2.6,0.1l-2.2,-1.4zM0,79.6l4.2,2.1m-0.3,0.5l2.3,0.5l-1.8,-1.6zM12.2,0.7l7.1,1.1m-0.1,0.9l3.6,-0.4l-3.3,-1.5zM12.2,5.9l9,3.9m-0.5,1.2l4.9,0.8l-3.9,-3.1zM12.2,11.2l8.1,-1.9m0.2,1l3.7,-2l-4.2,-0.1zM12.2,16.5l-4.2,-0.9m0.1,-0.6l-2.2,0.1l1.9,1zM12.2,21.7l-2.9,-0.9m0.2,-0.6l-1.7,0.1l1.4,1zM12.2,27l-3.9,-0.4m0.1,-0.6l-2,0.4l1.9,0.8zM12.2,37.5l2.8,0.7m-0.1,0.6l1.7,-0.2l-1.4,-1zM12.2,42.8l1.4,1.4m-0.4,0.4l1.6,0.7l-0.7,-1.6zM12.2,48.1l1.3,1.3m-0.4,0.4l1.6,0.7l-0.7,-1.6zM12.2,53.3l1.2,0.5m-0.2,0.6l1.7,0.1l-1.3,-1.2zM12.2,58.6l5.8,1.6m-0.2,0.7l3.1,0l-2.7,-1.5zM12.2,63.8l4.4,2.3m-0.3,0.6l2.5,0.6l-1.9,-1.7zM12.2,69.1l5,1.6m-0.2,0.6l2.7,0.1l-2.3,-1.4zM12.2,74.4l4.2,0.8m-0.1,0.6l2.2,-0.2l-2,-1zM12.2,79.6l3.8,0.4m-0.1,0.6l1.9,-0.4l-1.8,-0.8zM24.4,0.7l9.5,-0.1m0,1.2l4.7,-1.2l-4.7,-1.2zM24.4,5.9l10.9,3.5m-0.4,1.2l5.2,0.3l-4.4,-2.8zM24.4,11.2l7.6,-0.2m0,1l3.7,-1.1l-3.8,-0.9zM36.6,0.7l11.5,-0.8m0.1,1.3l4.9,-1.6l-5.1,-0.9zM36.6,5.9l6.9,-0.1m0,0.9l3.4,-0.9l-3.4,-0.9zM36.6,11.2l7.1,2.7m-0.3,0.9l3.8,0.4l-3.1,-2.2zM36.6,32.3l-0.3,2.2m-0.6,-0.1l0.4,1.7l0.8,-1.5zM36.6,37.5l0.1,2m-0.6,0l0.7,1.6l0.5,-1.6zM36.6,42.8l-0.1,1.7m-0.6,0l0.5,1.6l0.7,-1.6zM36.6,48.1l0.1,2.3m-0.6,0l0.7,1.6l0.5,-1.6zM48.9,0.7l6.3,-0.2m0,0.8l3.1,-0.9l-3.1,-0.7zM48.9,5.9l10.5,1.2m-0.1,1.3l5.1,-0.7l-4.8,-1.9zM48.9,11.2l9.4,0m0,1.2l4.6,-1.2l-4.6,-1.2zM48.9,63.8l3.1,7.5m-1,0.4l2.5,3.3l-0.6,-4.1zM48.9,69.1l3.3,8.1m-1,0.4l2.6,3.6l-0.6,-4.4zM48.9,74.4l4.7,5.1m-0.7,0.6l3,1.9l-1.7,-3.1zM48.9,79.6l3.8,3.8m-0.5,0.5l2.4,1.4l-1.4,-2.3zM61.1,0.7l6.8,0.9m-0.1,0.9l3.4,-0.4l-3.2,-1.3zM61.1,5.9l8.6,2m-0.3,1.1l4.5,-0.1l-4,-2.1zM61.1,11.2l8.4,2.3m-0.3,1.1l4.4,0.1l-3.9,-2.2zM61.1,63.8l1.5,-4.7m0.6,0.2l0.2,-2.5l-1.4,2.1zM61.1,69.1l0.8,-3.3m0.6,0.1l-0.2,-1.8l-1,1.5zM73.3,0.7l6.6,1.4m-0.2,0.8l3.4,-0.2l-3.1,-1.5zM73.3,5.9l5.9,2.5m-0.3,0.7l3.2,0.5l-2.6,-2zM73.3,11.2l9.1,1.5m-0.2,1.2l4.7,-0.4l-4.3,-1.9zM85.5,0.7l9.5,-2.5m0.3,1.2l4.4,-2.4l-5,0zM85.5,5.9l8.3,1.7m-0.2,1.1l4.3,-0.2l-3.9,-1.9zM85.5,11.2l9,0.3m0,1.2l4.5,-1l-4.4,-1.3zM85.5,74.4l3.4,-0.6m0.1,0.6l1.6,-0.9l-1.8,-0.3zM85.5,79.6l4.9,-1.8m0.2,0.6l2.2,-1.5l-2.6,0.3zM97.7,0.7l10.9,3.8m-0.4,1.2l5.1,0.4l-4.3,-2.9zM97.7,5.9l8.8,-2m0.3,1.1l4.1,-2.1l-4.6,-0.1zM97.7,48.1l5.9,1.6m-0.2,0.8l3.1,0l-2.7,-1.5zM97.7,53.3l6.4,0.1m0,0.8l3.2,-0.8l-3.1,-0.9zM97.7,58.6l4.5,1.5m-0.2,0.6l2.4,0.2l-2,-1.3zM97.7,63.8l6.7,2.9m-0.4,0.9l3.7,0.6l-2.9,-2.3zM97.7,74.4l5.4,-1.7m0.2,0.7l2.4,-1.5l-2.9,0.1zM97.7,79.6l4.7,-1.8m0.2,0.6l2.1,-1.5l-2.6,0.3zM109.9,0.7l9.9,3.4m-0.4,1.2l5.2,0.4l-4.3,-2.9zM109.9,5.9l11.4,-2.8m0.3,1.3l4.5,-2.5l-5.2,-0.1zM109.9,48.1l4.1,1.2m-0.2,0.6l2.2,0l-1.9,-1.2zM109.9,53.3l4.7,3.6m-0.5,0.6l2.8,1.2l-1.8,-2.4zM109.9,58.6l6.2,1.2m-0.2,0.8l3.2,-0.2l-2.9,-1.4zM109.9,63.8l6.6,0.6m-0.1,0.9l3.3,-0.5l-3.2,-1.2zM122.1,0.7l6.8,-1.5m0.2,0.9l3.1,-1.6l-3.5,-0.1zM122.1,5.9l6.2,-1m0.1,0.8l2.9,-1.3l-3.2,-0.3zM122.1,48.1l6.7,1.1m-0.1,0.9l3.4,-0.3l-3.1,-1.4zM122.1,53.3l5.4,3.3m-0.4,0.7l3.1,0.9l-2.2,-2.3zM122.1,58.6l6.5,3.4m-0.4,0.8l3.6,0.8l-2.8,-2.5zM122.1,63.8l5.4,3.5m-0.5,0.7l3.1,1l-2.2,-2.4zM122.1,69.1l5.6,2.4m-0.3,0.7l3.1,0.5l-2.4,-1.9zM122.1,74.4l4,1.4m-0.2,0.6l2.2,0.1l-1.8,-1.3zM134.4,0.7l8.7,4m-0.5,1.1l4.8,0.8l-3.8,-3.1zM134.4,5.9l10,-2.6m0.3,1.3l4.5,-2.5l-5.2,0zM134.4,58.6l4.4,5.2m-0.7,0.6l2.9,2l-1.5,-3.1zM134.4,63.8l7,2.4m-0.3,0.9l3.8,0.3l-3.1,-2.1zM134.4,69.1l-0.7,-6.8m0.9,-0.1l-1.2,-3.3l-0.5,3.4zM134.4,74.4l-1.8,-5.6m0.7,-0.2l-1.6,-2.6l0.2,3zM146.6,0.7l1.5,-1.8m0.5,0.4l0.6,-1.6l-1.5,0.8zM146.6,5.9l5.1,0.1m0,0.7l2.5,-0.6l-2.5,-0.7zM146.6,11.2l3.6,1m-0.2,0.6l1.9,-0.1l-1.6,-1.1zM146.6,16.5l5.6,-1.5m0.2,0.7l2.6,-1.5l-2.9,0zM146.6,48.1l0.3,0.1m-0.3,0.5l1.7,0.2l-1.1,-1.3zM146.6,53.3l3,-3.9m0.5,0.4l1,-2.3l-2,1.5zM146.6,58.6l0.7,-0.2m-0.2,-0.6l-1.4,1l1.7,0.1zM146.6,63.8l-3,-4.1m0.5,-0.4l-2,-1.6l0.9,2.4zM146.6,69.1l1.1,-5.4m0.7,0.1l-0.1,-2.8l-1.2,2.5zM146.6,74.4l2.1,-0.5m0.2,0.6l1.4,-1l-1.7,-0.2zM146.6,79.6l1.3,0m0,-0.6l-1.6,0.6l1.6,0.6zM158.8,0.7l2.9,-3.4m0.5,0.4l1,-2.1l-1.9,1.3zM158.8,5.9l3.1,-2.4m0.4,0.5l1.2,-1.7l-1.9,0.7zM158.8,11.2l0.7,0.2m-0.2,0.6l1.7,-0.1l-1.4,-1zM158.8,16.5l0.9,-0.8m0.4,0.5l0.8,-1.5l-1.6,0.6zM158.8,48.1l0.9,-5.4m0.7,0.1l-0.3,-2.8l-1.1,2.6zM158.8,53.3l6.4,2.4m-0.3,0.8l3.5,0.4l-2.9,-2zM158.8,58.6l0.4,-1.2m-0.6,-0.2l0.1,1.7l1.1,-1.3zM158.8,63.8l0.3,-0.5m0.5,0.3l0.4,-1.7l-1.4,1zM158.8,69.1l-1.5,-4.6m0.6,-0.2l-1.3,-2.1l0.1,2.5zM158.8,74.4l6.1,3m-0.4,0.8l3.4,0.7l-2.6,-2.3zM158.8,79.6l0.2,-1.1m-0.6,-0.1l0.3,1.7l0.9,-1.4zM171,42.8l-2.2,4.1m-0.5,-0.3l-0.5,2.3l1.6,-1.7zM171,48.1l-1.9,5.6m-0.7,-0.2l-0.2,3l1.7,-2.5zM171,53.3l-3,4.3m-0.5,-0.4l-0.9,2.5l2,-1.7zM171,58.6l-1.3,4.8m-0.6,-0.2l0,2.5l1.3,-2.2zM171,63.8l-1.4,5.1m-0.7,-0.2l0,2.7l1.3,-2.3zM171,69.1l-1.9,4m-0.5,-0.3l-0.4,2.2l1.5,-1.7zM171,74.4l-3.9,3.7m-0.5,-0.5l-1.4,2.3l2.4,-1.4zM171,79.6l1.8,-0.1m0,0.6l1.6,-0.7l-1.6,-0.5zM183.2,27l-12.6,-1.4m0.1,-1.3l-5.1,0.7l4.8,1.8zM183.2,32.3l-6.6,-2.9m0.4,-0.8l-3.6,-0.6l2.9,2.3zM183.2,37.5l-13.8,-5.8m0.5,-1.2l-5.1,-0.7l4.1,3.1zM183.2,42.8l-9.3,-0.3m0,-1.2l-4.6,1.1l4.5,1.3zM183.2,48.1l-7.7,1.4m-0.2,-1l-3.6,1.7l4,0.3zM183.2,53.3l-6.1,4.5m-0.6,-0.8l-2.4,3l3.6,-1.5zM183.2,58.6l-5.2,3.9m-0.5,-0.7l-2.1,2.6l3.1,-1.3zM183.2,63.8l-2.9,3.6m-0.5,-0.4l-0.9,2.2l1.9,-1.4zM183.2,69.1l-3.4,4.2m-0.5,-0.4l-1.2,2.5l2.2,-1.6zM183.2,74.4l-3.3,4.2m-0.5,-0.4l-1.1,2.5l2.2,-1.7zM195.4,27l-10,0m0,-1.3l-4.9,1.3l4.9,1.3zM195.4,32.3l-18.4,-3.7m0.3,-1.3l-5.2,0.3l4.6,2.3zM195.4,37.5l-22,0.7m0,-1.3l-5,1.4l5,1.1zM195.4,42.8l-14.3,-0.7m0.1,-1.3l-5.1,1.1l4.9,1.5zM195.4,48.1l-11.6,-0.6m0.1,-1.3l-5.1,1l4.9,1.6zM195.4,53.3l-10.8,1.9m-0.2,-1.3l-4.7,2.1l5.1,0.4zM195.4,58.6l-7.6,1.9m-0.2,-1l-3.5,1.9l4,0zM195.4,63.8l2.1,6.1m-0.8,0.3l1.8,2.7l-0.3,-3.3zM195.4,69.1l5,7.5m-1,0.6l3.4,3.1l-1.5,-4.3zM195.4,74.4l4.1,4.6m-0.6,0.5l2.6,1.7l-1.4,-2.8zM195.4,79.6l3.8,5.5m-0.7,0.5l2.6,2.2l-1.2,-3.2zM207.6,27l-21.3,0.1m0,-1.3l-5,1.3l5,1.3zM207.6,32.3l-22.9,-12.9m0.6,-1.1l-5,-1.3l3.7,3.6zM207.6,37.5l-23.2,-4.7m0.3,-1.3l-5.2,0.3l4.6,2.3zM207.6,42.8l-28.6,-7.6m0.3,-1.3l-5.2,0l4.5,2.5zM207.6,48.1l-21.6,0.2m0,-1.3l-5,1.4l5,1.2zM207.6,53.3l-9,1.3m-0.2,-1.1l-4.2,1.8l4.6,0.5zM207.6,58.6l-7.1,5.4m-0.7,-0.9l-2.8,3.6l4.2,-1.8zM207.6,63.8l5.5,5.4m-0.7,0.7l3.4,1.9l-2,-3.3zM207.6,69.1l3.8,7.8m-1,0.5l2.9,3.4l-0.9,-4.4zM207.6,74.4l5.7,7.7m-1,0.7l3.8,3.1l-1.8,-4.5zM207.6,79.6l1.6,5.4m-0.7,0.2l1.5,2.4l-0.1,-2.8zM219.9,27l-17.5,1.4m-0.1,-1.3l-4.9,1.7l5.1,0.9zM219.9,32.3l-18.4,-10.7m0.7,-1.1l-5,-1.4l3.7,3.6zM219.9,37.5l-37.8,-0.1m0,-1.3l-5,1.3l5,1.3zM219.9,42.8l-42.2,-3.8m0.1,-1.3l-5.1,0.8l4.9,1.7zM219.9,48.1l-37.5,-3.3m0.1,-1.3l-5.1,0.9l4.9,1.7zM219.9,53.3l-6.5,5.8m-0.7,-0.8l-2.5,3.7l4,-2zM219.9,58.6l-7.8,3.7m-0.5,-1l-3.4,2.8l4.3,-0.8zM219.9,63.8l4,7.8m-1,0.5l3,3.3l-1,-4.3zM219.9,69.1l2,6.5m-0.8,0.3l1.8,2.9l-0.2,-3.5zM219.9,74.4l3.6,6.2m-0.8,0.5l2.6,2.6l-1,-3.5zM219.9,79.6l3.7,7.8m-1,0.5l2.8,3.4l-0.8,-4.3zM232.1,27l-17.6,-3.2m0.2,-1.3l-5.2,0.4l4.7,2.2zM232.1,32.3l-26.6,-8.3m0.4,-1.2l-5.2,-0.3l4.4,2.7zM232.1,37.5l-22.5,2.8m-0.2,-1.3l-4.8,1.9l5.1,0.7zM232.1,42.8l-30.7,-7.5m0.3,-1.3l-5.2,0.1l4.5,2.4zM232.1,48.1l-33.6,-2.7m0.1,-1.3l-5.1,0.9l4.9,1.7zM232.1,63.8l4,5.2m-0.7,0.5l2.6,2.1l-1.3,-3.1zM232.1,69.1l1.8,7m-0.9,0.2l1.8,3.2l0,-3.7zM232.1,74.4l2.4,9m-1.2,0.3l2.4,4.1l0,-4.8zM232.1,79.6l4,7.6m-1,0.5l2.9,3.2l-1,-4.2zM244.3,16.5l3.1,3.3m-0.4,0.4l2,1.2l-1.1,-2.1zM244.3,21.7l3.4,2.7m-0.4,0.5l2,0.9l-1.3,-1.8zM244.3,27l3.7,2.9m-0.4,0.5l2.2,1l-1.5,-1.9zM244.3,32.3l-25,0.6m0,-1.3l-5,1.4l5,1.2zM244.3,37.5l-22.6,-6.4m0.4,-1.3l-5.2,-0.1l4.5,2.6zM244.3,42.8l-28.4,-18.3m0.7,-1.1l-4.9,-1.6l3.5,3.8zM244.3,48.1l-28.7,-11m0.5,-1.2l-5.1,-0.6l4.2,3zM244.3,58.6l-4.1,3.7m-0.5,-0.5l-1.5,2.4l2.5,-1.3zM244.3,63.8l-7.3,0.6m-0.1,-0.9l-3.5,1.2l3.7,0.6zM244.3,69.1l-7.4,2.1m-0.3,-0.9l-3.4,2l3.9,-0.1zM244.3,74.4l-4.8,3.4m-0.4,-0.6l-1.9,2.3l2.8,-1.1zM244.3,79.6l-5.6,1.8m-0.2,-0.7l-2.5,1.6l3,-0.2zM256.5,16.5l4.1,4.8m-0.6,0.5l2.6,1.8l-1.4,-2.9zM256.5,21.7l3.6,1.6m-0.3,0.5l2,0.3l-1.5,-1.4zM256.5,27l4.7,4m-0.5,0.6l2.8,1.4l-1.8,-2.5zM256.5,32.3l-17.3,-9.5m0.6,-1.1l-5,-1.3l3.8,3.5zM256.5,37.5l-23.6,-16.8m0.8,-1.1l-4.8,-1.8l3.3,4zM256.5,42.8l-24.5,-15.7m0.7,-1.1l-4.9,-1.6l3.5,3.8zM256.5,48.1l-26.8,1.2m-0.1,-1.3l-4.9,1.5l5.1,1.1zM256.5,58.6l-4.8,3.9m-0.5,-0.6l-1.9,2.6l2.9,-1.3zM256.5,63.8l-6.3,0.5m-0.1,-0.8l-3,1.1l3.2,0.6zM256.5,69.1l-4.9,2.5m-0.3,-0.6l-2.1,1.9l2.8,-0.6zM256.5,74.4l-8.2,1.7m-0.2,-1.1l-3.8,1.9l4.3,0.2zM256.5,79.6l-4.9,2.9m-0.4,-0.6l-2,2l2.8,-0.8zM268.7,37.5l-7.3,-3m0.4,-0.9l-4,-0.5l3.2,2.4zM268.7,42.8l-8.3,-10.1m1,-0.8l-4.2,-3l2.2,4.7zM268.7,48.1l-6,-7.1m0.9,-0.8l-3.9,-2.7l2.1,4.3zM268.7,53.3l-8,-5.6m0.7,-1l-4.6,-1.7l3.2,3.8zM268.7,58.6l-8,2.2m-0.3,-1l-3.6,2.1l4.2,-0.1zM268.7,63.8l-7,1.2m-0.1,-0.9l-3.3,1.5l3.6,0.3zM268.7,69.1l-5.9,5.6m-0.7,-0.8l-2.2,3.5l3.6,-2zM268.7,74.4l-6.9,3.6m-0.5,-0.9l-2.9,2.7l3.8,-0.9zM268.7,79.6l-5.4,1.6m-0.2,-0.7l-2.4,1.5l2.8,-0.1zM280.9,37.5l-6.7,-6.3m0.8,-0.9l-4.1,-2.3l2.5,4zM280.9,42.8l-12.7,-4.3m0.4,-1.2l-5.2,-0.4l4.3,2.8zM280.9,48.1l-8.6,-2.2m0.3,-1.1l-4.5,0l3.9,2.2zM280.9,53.3l-8.6,-4.6m0.6,-1.1l-4.8,-1.2l3.6,3.4zM280.9,58.6l-8.4,1.1m-0.1,-1.1l-4,1.6l4.3,0.5zM280.9,63.8l-6,5.8m-0.7,-0.8l-2.2,3.6l3.7,-2.1zM280.9,69.1l-7,1m-0.1,-0.9l-3.3,1.4l3.6,0.4zM280.9,74.4l-3.9,3.4m-0.4,-0.5l-1.5,2.1l2.3,-1.2zM280.9,79.6l-3.9,3m-0.4,-0.5l-1.5,2l2.3,-1z" stroke="#000" stroke-width="1" fill="#000"/>
<rect x="235.5" y="0" width="49.5" height="18.6" fill="#fff"/>
</svg>
<rect x="0" y="0" width="285" height="81.3" fill="none" stroke="#555" stroke-width="0.7"/>
<path d="M0,0 v-3 M0,81.3 v3 M40.7,0 v-3 M40.7,81.3 v3 M81.4,0 v-3 M81.4,81.3 v3 M122.1,0 v-3 M122.1,81.3 v3 M162.9,0 v-3 M162.9,81.3 v3 M203.6,0 v-3 M203.6,81.3 v3 M244.3,0 v-3 M244.3,81.3 v3 M285,0 v-3 M285,81.3 v3 M0,0 h-3.2 M285,0 h3.2 M0,20.3 h-3.2 M285,20.3 h3.2 M0,40.6 h-3.2 M285,40.6 h3.2 M0,61 h-3.2 M285,61 h3.2 M0,81.3 h-3.2 M285,81.3 h3.2" stroke="#333" stroke-width="0.7" fill="none"/>
<text x="-1.3" y="104.1" text-anchor="middle" font-size="13.1">90<tspan dy="-6.6" dx="0.4" font-size="10">°</tspan><tspan dy="6.6" dx="0.8">W</tspan></text>
<text x="39.4" y="104.1" text-anchor="middle" font-size="13.1">60<tspan dy="-6.6" dx="0.4" font-size="10">°</tspan><tspan dy="6.6" dx="0.8">W</tspan></text>
<text x="80.1" y="104.1" text-anchor="middle" font-size="13.1">30<tspan dy="-6.6" dx="0.4" font-size="10">°</tspan><tspan dy="6.6" dx="0.8">W</tspan></text>
<text x="123.3" y="104.1" text-anchor="middle" font-size="13.1">0<tspan dy="-6.6" dx="0.4" font-size="10">°</tspan></text>
<text x="161.6" y="104.1" text-anchor="middle" font-size="13.1">30<tspan dy="-6.6" dx="0.4" font-size="10">°</tspan><tspan dy="6.6" dx="0.8">E</tspan></text>
<text x="202.3" y="104.1" text-anchor="middle" font-size="13.1">60<tspan dy="-6.6" dx="0.4" font-size="10">°</tspan><tspan dy="6.6" dx="0.8">E</tspan></text>
<text x="243" y="104.1" text-anchor="middle" font-size="13.1">90<tspan dy="-6.6" dx="0.4" font-size="10">°</tspan><tspan dy="6.6" dx="0.8">E</tspan></text>
<text x="283.7" y="104.1" text-anchor="middle" font-size="13.1">120<tspan dy="-6.6" dx="0.4" font-size="10">°</tspan><tspan dy="6.6" dx="0.8">E</tspan></text>
<text x="-9" y="6.7" text-anchor="end" font-size="13.1">30<tspan dy="-6.6" dx="0.4" font-size="10">°</tspan><tspan dy="6.6" dx="0.8">N</tspan></text>
<text x="-9" y="27" text-anchor="end" font-size="13.1">15<tspan dy="-6.6" dx="0.4" font-size="10">°</tspan><tspan dy="6.6" dx="0.8">N</tspan></text>
<text x="-9" y="45.4" text-anchor="end" font-size="13.1">EQ</text>
<text x="-9" y="67.7" text-anchor="end" font-size="13.1">15<tspan dy="-6.6" dx="0.4" font-size="10">°</tspan><tspan dy="6.6" dx="0.8">S</tspan></text>
<text x="-9" y="88" text-anchor="end" font-size="13.1">30<tspan dy="-6.6" dx="0.4" font-size="10">°</tspan><tspan dy="6.6" dx="0.8">S</tspan></text>
<text x="283.5" y="11.9" text-anchor="end" font-size="13.6" textLength="44.1" lengthAdjust="spacingAndGlyphs">-1 mon</text>
<text x="0.3" y="-6" font-size="17.2" font-weight="bold">d</text>
</g>
<g transform="translate(383.2,47.4)">
<svg x="0" y="0" width="285" height="81.3" viewBox="0 0 285 81.3" overflow="hidden">
<rect x="0" y="0" width="285" height="81.3" fill="#fff"/>
<path d="M4,-1.4C8.7,-2.8 26.2,-2.8 31.1,-1.4C36,0 33.5,4.5 33.2,7C32.9,9.4 31.5,11.8 29,13.2C26.6,14.6 22.1,15.3 18.6,15.3C15.1,15.3 10.8,14.6 8.2,13.2C5.5,11.8 3.6,9.4 2.9,7C2.2,4.5 -0.7,0 4,-1.4Z" fill="#f4a582"/>
<path d="M10.7,3.2C10.7,3.7 10.5,4.3 10.2,4.7C9.9,5.1 9.4,5.4 8.9,5.6C8.5,5.7 7.8,5.7 7.4,5.6C6.9,5.4 6.4,5.1 6.1,4.7C5.8,4.3 5.6,3.7 5.6,3.2C5.6,2.7 5.8,2.1 6.1,1.7C6.4,1.3 6.9,1 7.4,0.8C7.8,0.7 8.5,0.7 8.9,0.8C9.4,1 9.9,1.3 10.2,1.7C10.5,2.1 10.7,2.7 10.7,3.2Z" fill="#d6604d"/>
<path d="M29,13.2C32.5,12.9 37.7,14.3 41.6,15.3C45.4,16.3 49.2,17.4 52,19.5C54.8,21.6 58.3,25.9 58.3,27.8C58.3,29.7 54.1,31.3 52,31C49.9,30.6 48.2,27.3 45.7,25.7C43.3,24.2 40.2,22.6 37.4,21.6C34.6,20.5 31.8,20.2 29,19.5C26.2,18.8 20.7,18.4 20.7,17.4C20.7,16.3 25.5,13.6 29,13.2Z" fill="#fddbc7"/>
<path d="M81.2,5.3C81.2,6 80.7,6.9 80,7.5C79.3,8.1 78.1,8.6 76.9,8.9C75.7,9.1 74.2,9.1 73,8.9C71.9,8.6 70.6,8.1 69.9,7.5C69.2,6.9 68.7,6 68.7,5.3C68.7,4.5 69.2,3.7 69.9,3.1C70.6,2.5 71.9,1.9 73,1.7C74.2,1.5 75.7,1.5 76.9,1.7C78.1,1.9 79.3,2.5 80,3.1C80.7,3.7 81.2,4.5 81.2,5.3Z" fill="#fddbc7"/>
<path d="M77.9,4.9C77.9,5.2 77.7,5.7 77.3,6C77,6.3 76.4,6.5 75.9,6.6C75.3,6.8 74.6,6.8 74.1,6.6C73.5,6.5 72.9,6.3 72.6,6C72.3,5.7 72,5.2 72,4.9C72,4.5 72.3,4.1 72.6,3.8C72.9,3.5 73.5,3.2 74.1,3.1C74.6,3 75.3,3 75.9,3.1C76.4,3.2 77,3.5 77.3,3.8C77.7,4.1 77.9,4.5 77.9,4.9Z" fill="#f4a582"/>
<path d="M94.8,-1.4C96.1,-2.7 102.3,-2.8 103.6,-1.4C104.8,0 103.8,5.6 102.5,7C101.2,8.3 97.1,7.9 95.8,6.5C94.5,5.1 93.5,-0.1 94.8,-1.4Z" fill="#f4a582"/>
<path d="M-2.3,21.6C-0.5,13.4 5,21.4 8.2,22.6C11.3,23.8 15.1,25.9 16.5,28.9C17.9,31.8 16.8,37 16.5,40.4C16.2,43.7 14.1,45.6 14.4,48.7C14.8,51.8 16.8,55.7 18.6,59.1C20.3,62.6 23.6,66.3 24.9,69.6C26.1,72.9 26.9,77.1 25.9,79C24.9,80.9 21.2,81.6 18.6,81.1C16,80.5 13.7,77.4 10.2,75.8C6.8,74.3 -0.2,80.7 -2.3,71.7C-4.4,62.6 -4,29.7 -2.3,21.6Z" fill="#f4a582"/>
<path d="M-2.3,22.6C-0.7,15.5 4.1,22.4 7.1,23.7C10.1,24.9 14.1,27.1 15.5,29.9C16.8,32.7 15.8,37.2 15.5,40.4C15.1,43.5 13,45.6 13.4,48.7C13.7,51.8 16.3,56 17.5,59.1C18.8,62.3 21.2,65.6 20.7,67.5C20.2,69.4 16.8,70.4 14.4,70.6C12,70.8 8.8,69.2 6.1,68.5C3.3,67.8 -0.9,74.1 -2.3,66.4C-3.7,58.8 -3.9,29.7 -2.3,22.6Z" fill="#d6604d"/>
<path d="M-2.3,23.7C-0.9,17.4 3.3,23.5 6.1,24.7C8.8,25.9 13,28.3 14.4,31C15.8,33.6 14.8,37.4 14.4,40.4C14.1,43.3 12,45.7 12.3,48.7C12.6,51.7 15.4,55.7 16.1,58.1C16.8,60.5 17.8,62.3 16.5,63.3C15.2,64.4 11.3,64.5 8.2,64.4C5,64.2 -0.5,69.1 -2.3,62.3C-4,55.5 -3.7,29.9 -2.3,23.7Z" fill="#b2182b"/>
<path d="M-2.3,24.7C-1.1,19.1 2.6,24.5 5,25.7C7.5,27 11.2,28.5 12.3,32C13.5,35.5 11.6,42.4 11.9,46.6C12.3,50.8 15,54.8 14.4,57.1C13.8,59.3 10.9,59.8 8.2,60.2C5.4,60.5 -0.5,65.1 -2.3,59.1C-4,53.2 -3.5,30.3 -2.3,24.7Z" fill="#67001f"/>
<path d="M-2.3,77.5C-1.4,76.8 2,77.2 2.9,77.9C3.9,78.7 4.4,81.4 3.6,82.1C2.7,82.8 -1.3,82.9 -2.3,82.1C-3.3,81.3 -3.2,78.2 -2.3,77.5Z" fill="#92c5de"/>
<path d="M83.3,40.4C84,38.3 89.2,37.6 91.7,36.2C94.1,34.8 95.1,32.5 97.9,32C100.7,31.5 102.4,32.7 108.4,33C114.3,33.4 128.5,32.9 133.4,34.1C138.3,35.3 135.5,38.3 137.6,40.4C139.7,42.4 144.5,39 145.9,46.6C147.3,54.3 148,79.7 145.9,86.3C143.8,92.9 136.9,87.7 133.4,86.3C129.9,84.9 127.8,80.4 125.1,77.9C122.3,75.5 119.5,73.4 116.7,71.7C113.9,69.9 111.1,68.9 108.4,67.5C105.6,66.1 102.4,65.4 100,63.3C97.6,61.2 95.8,57.4 93.7,55C91.7,52.5 89.2,51.1 87.5,48.7C85.7,46.3 82.6,42.4 83.3,40.4Z" fill="#fddbc7"/>
<path d="M91.7,42.4C91.8,40.4 95.1,37.6 97.9,36.2C100.7,34.7 103.8,33.9 108.4,33.7C112.9,33.4 120.5,34.2 125.1,34.5C129.6,34.9 132,34.8 135.5,35.8C139,36.7 144.2,31.9 145.9,40.4C147.7,48.8 147.7,78.6 145.9,86.3C144.2,93.9 138.6,88 135.5,86.3C132.4,84.5 129.9,78.8 127.1,75.8C124.4,72.9 121.6,70.8 118.8,68.5C116,66.3 113.1,64.5 110.4,62.3C107.8,60 105.4,57.2 103.1,55C100.9,52.7 98.8,50.8 96.9,48.7C95,46.6 91.5,44.5 91.7,42.4Z" fill="#f4a582"/>
<path d="M135.1,43.5C135.1,44.5 134.6,45.6 134,46.4C133.3,47.2 132.1,47.9 131,48.2C129.9,48.6 128.5,48.6 127.4,48.2C126.3,47.9 125.2,47.2 124.5,46.4C123.8,45.6 123.4,44.5 123.4,43.5C123.4,42.5 123.8,41.3 124.5,40.5C125.2,39.7 126.3,39 127.4,38.7C128.5,38.4 129.9,38.4 131,38.7C132.1,39 133.3,39.7 134,40.5C134.6,41.3 135.1,42.5 135.1,43.5Z" fill="#fddbc7"/>
<path d="M133.4,43.5C133.4,44.2 133.1,45.1 132.6,45.7C132.1,46.3 131.3,46.8 130.5,47.1C129.7,47.3 128.7,47.3 127.9,47.1C127.2,46.8 126.3,46.3 125.9,45.7C125.4,45.1 125.1,44.2 125.1,43.5C125.1,42.7 125.4,41.9 125.9,41.3C126.3,40.7 127.2,40.1 127.9,39.9C128.7,39.7 129.7,39.7 130.5,39.9C131.3,40.1 132.1,40.7 132.6,41.3C133.1,41.9 133.4,42.7 133.4,43.5Z" fill="#fff"/>
<path d="M102.1,40.4C102.8,39.4 106.4,38.1 108.4,38.3C110.3,38.4 113.2,40.4 113.6,41.4C113.9,42.4 112,44.1 110.4,44.5C108.9,45 105.6,44.8 104.2,44.1C102.8,43.4 101.4,41.3 102.1,40.4Z" fill="#d6604d"/>
<path d="M123,59.1C124,56.7 129.6,51.7 133.4,50.8C137.2,49.9 143.8,48 145.9,53.9C148,59.8 147.3,80.9 145.9,86.3C144.5,91.7 139.7,88.7 137.6,86.3C135.5,83.8 135.1,75.1 133.4,71.7C131.7,68.2 128.9,67.5 127.1,65.4C125.4,63.3 121.9,61.6 123,59.1Z" fill="#d6604d"/>
<path d="M134.4,52.9C136.2,51.7 144,51.8 145.9,56C147.8,60.2 147.1,74.6 145.9,77.9C144.7,81.2 140.4,78.3 138.6,75.8C136.9,73.4 136.2,67.1 135.5,63.3C134.8,59.5 132.7,54.1 134.4,52.9Z" fill="#b2182b"/>
<path d="M95.2,35.6C95.2,35.9 95,36.4 94.8,36.7C94.6,37 94.1,37.2 93.8,37.3C93.4,37.5 92.9,37.5 92.5,37.3C92.1,37.2 91.7,37 91.4,36.7C91.2,36.4 91,35.9 91,35.6C91,35.2 91.2,34.7 91.4,34.4C91.7,34.1 92.1,33.9 92.5,33.8C92.9,33.6 93.4,33.6 93.8,33.8C94.1,33.9 94.6,34.1 94.8,34.4C95,34.7 95.2,35.2 95.2,35.6Z" fill="#f4a582"/>
<path d="M73.9,80C72.4,79 76.4,76.2 78.7,75C81,73.8 84.8,72.9 87.5,72.9C90.2,72.9 93,73.9 94.8,75C96.5,76.1 99.1,78.6 97.9,79.6C96.7,80.6 91.5,81.2 87.5,81.3C83.5,81.3 75.4,81.1 73.9,80Z" fill="#d1e5f0"/>
<path d="M75.4,79.6C74,78.9 77.5,77.2 79.5,76.3C81.6,75.4 85.1,74.2 87.5,74.2C89.8,74.2 92.3,75.4 93.7,76.3C95.2,77.1 97.3,78.5 96.2,79.2C95.2,79.9 91,80.4 87.5,80.4C84,80.5 76.7,80.3 75.4,79.6Z" fill="#92c5de"/>
<path d="M192.9,19.5C195.5,17.4 200.2,13.2 203.3,11.1C206.5,9 209.3,7 211.7,7C214.1,7 216.2,8.7 218,11.1C219.7,13.6 220,18.8 222.1,21.6C224.2,24.3 227.3,27.1 230.5,27.8C233.6,28.5 237.4,25.4 240.9,25.7C244.4,26.1 248.2,28.2 251.4,29.9C254.5,31.7 259.7,34.4 259.7,36.2C259.7,37.9 254.5,39 251.4,40.4C248.2,41.7 242.3,42.4 240.9,44.5C239.5,46.6 241.3,49.7 243,52.9C244.7,56 247.9,60.2 251.4,63.3C254.8,66.4 259.7,67.8 263.9,71.7C268.1,75.5 288.9,83.8 276.4,86.3C263.9,88.7 203,89.4 188.7,86.3C174.5,83.1 191.5,71.7 190.8,67.5C190.1,63.3 186.6,63 184.6,61.2C182.5,59.5 179.7,59.1 178.3,57.1C176.9,55 175.9,51.8 176.2,48.7C176.5,45.6 179,41 180.4,38.3C181.8,35.5 183.3,34.4 184.6,32C185.8,29.6 186.3,25.7 187.7,23.7C189.1,21.6 190.3,21.6 192.9,19.5Z" fill="#f4a582"/>
<path d="M191.9,25.7C193.6,23.3 196.6,19.5 199.2,17.4C201.8,15.3 204.7,12.9 207.5,13.2C210.3,13.6 213.4,17 215.9,19.5C218.3,21.9 220,25.4 222.1,27.8C224.2,30.3 226.3,32 228.4,34.1C230.5,36.2 233.3,37.6 234.7,40.4C236,43.1 235.7,47.3 236.7,50.8C237.8,54.3 238.5,58.1 240.9,61.2C243.4,64.4 248.2,66.8 251.4,69.6C254.5,72.4 257.8,75.1 259.7,77.9C261.6,80.7 273.6,84.9 262.8,86.3C252.1,87.7 205.9,89.1 195,86.3C184,83.5 197.4,73.4 197.1,69.6C196.7,65.8 195,65.1 192.9,63.3C190.8,61.6 186.3,61.2 184.6,59.1C182.8,57.1 182.5,53.9 182.5,50.8C182.5,47.7 183.5,43.5 184.6,40.4C185.6,37.2 187.5,34.4 188.7,32C189.9,29.6 190.1,28.2 191.9,25.7Z" fill="#d6604d"/>
<path d="M192.9,27.8C194.3,25 196.7,21.2 199.2,19.5C201.6,17.7 205.1,16.7 207.5,17.4C210,18.1 211.7,21.2 213.8,23.7C215.9,26.1 218,29.2 220,32C222.1,34.8 224.6,37.2 226.3,40.4C228,43.5 230.1,47.7 230.5,50.8C230.8,53.9 229.8,57.1 228.4,59.1C227,61.2 222.5,61.2 222.1,63.3C221.8,65.4 224.6,68.9 226.3,71.7C228,74.4 232.6,77.6 232.6,80C232.6,82.5 229.1,86.6 226.3,86.3C223.5,85.9 218.3,80.7 215.9,77.9C213.4,75.1 213.4,71.7 211.7,69.6C210,67.5 207.9,66.8 205.4,65.4C203,64 199.5,63 197.1,61.2C194.6,59.5 192.2,57.7 190.8,55C189.4,52.2 188.7,47.7 188.7,44.5C188.7,41.4 190.1,39 190.8,36.2C191.5,33.4 191.5,30.6 192.9,27.8Z" fill="#b2182b"/>
<path d="M192.9,23.7C193.6,21.6 197.1,20.2 199.2,20.5C201.3,20.9 204.7,23.8 205.4,25.7C206.1,27.7 205.1,30.8 203.3,32C201.6,33.2 196.7,34.4 195,33C193.3,31.7 192.2,25.7 192.9,23.7Z" fill="#67001f"/>
<path d="M240.9,43.5C242.8,42.1 246.8,41 251.4,40.4C255.9,39.7 261.8,39.3 268.1,39.3C274.3,39.3 285.5,35.7 288.9,40.4C292.4,45 292.4,63.3 288.9,67.5C285.5,71.7 273.6,66.4 268.1,65.4C262.5,64.4 259.4,63 255.5,61.2C251.7,59.5 247.7,57.1 245.1,55C242.5,52.9 240.6,50.6 239.9,48.7C239.2,46.8 239,44.9 240.9,43.5Z" fill="#d1e5f0"/>
<path d="M243,44.5C244.6,42.8 247.9,41.7 255.5,41.4C263.2,41 283.4,38.8 288.9,42.4C294.5,46.1 292.4,60 288.9,63.3C285.5,66.6 273.6,63.1 268.1,62.3C262.5,61.4 259.2,59.8 255.5,58.1C251.9,56.4 248.2,54.1 246.1,51.8C244,49.6 241.4,46.3 243,44.5Z" fill="#92c5de"/>
<path d="M245.1,45.6C247.2,44.2 252.4,43 259.7,42.9C267,42.7 284.1,41.6 288.9,44.5C293.8,47.4 292.4,57.7 288.9,60.2C285.5,62.6 273.6,59.9 268.1,59.1C262.5,58.3 259,56.8 255.5,55.4C252.1,54 248.9,52.4 247.2,50.8C245.4,49.2 243,46.9 245.1,45.6Z" fill="#4393c3"/>
<path d="M247.2,46.2C249.6,45.3 256.9,44.5 263.9,44.5C270.8,44.6 284.8,44.4 288.9,46.6C293.1,48.9 292.1,56.4 288.9,58.1C285.8,59.8 275.4,57.9 270.1,57.1C264.9,56.3 261.1,54.5 257.6,53.3C254.1,52.1 251,50.9 249.3,49.7C247.5,48.6 244.7,47.1 247.2,46.2Z" fill="#2166ac"/>
<path d="M253.4,47C254.8,46.2 262.1,46.6 268.1,47C274,47.5 285.5,48.2 288.9,49.7C292.4,51.2 291.7,55.1 288.9,56C286.1,56.9 277.1,55.7 272.2,55C267.4,54.3 262.8,53.2 259.7,51.8C256.6,50.5 252.1,47.8 253.4,47Z" fill="#053061"/>
<path d="M165.8,86.3C163.3,83.5 168.2,73.1 169.9,69.6C171.7,66.1 174.3,65.4 176.2,65.4C178.1,65.4 180,66.1 181.4,69.6C182.8,73.1 187.2,83.5 184.6,86.3C181.9,89.1 168.2,89.1 165.8,86.3Z" fill="#d1e5f0"/>
<path d="M171,70.6C172,67.7 174.8,68 176.2,68.5C177.6,69.1 179.2,70.8 179.3,73.8C179.5,76.7 178.8,84.2 177.2,86.3C175.7,88.4 171,88.9 169.9,86.3C168.9,83.7 169.9,73.6 171,70.6Z" fill="#92c5de"/>
<path d="M171.2,6.5C171.2,7.4 171.1,8.5 171,9.2C170.8,10 170.6,10.6 170.3,10.9C170.1,11.2 169.8,11.2 169.6,10.9C169.3,10.6 169.1,10 168.9,9.2C168.8,8.5 168.7,7.4 168.7,6.5C168.7,5.6 168.8,4.6 168.9,3.8C169.1,3.1 169.3,2.4 169.6,2.2C169.8,1.9 170.1,1.9 170.3,2.2C170.6,2.4 170.8,3.1 171,3.8C171.1,4.6 171.2,5.6 171.2,6.5Z" fill="#d6604d"/>
<path d="M17.2,28.9 19.7,26.3 20.6,25.6 23.1,25.1 24.8,23.8 25.4,25.7 27.1,24.1 29.3,25.5 32.6,26.3 34.6,26.8 38,26.2 39.4,27.8 40.7,29.1 42.8,31.2 44.8,32.5 47.5,32.7 50.9,33.9 52.2,34.8 54.3,38.2 54.3,40.6 57,41.6 61.8,44 65.8,44.6 67.9,44.4 69.9,45.7 71.9,47.2 74.2,47.7 74.9,50.3 74.6,52.2 72.6,54.9 71.2,56.2 69.9,58.3 69.2,61 69.2,64.4 68.3,67.1 67.2,69.1 66.5,70.5 65.1,71.7 63.1,71.8 61.1,72.6 59,73.4 57,74.9 56.2,76.6 56.2,78.6 55,79.9 54,82 25.1,82 25.4,78.6 26.1,75.9 26.6,72.5 27,69.1 26.7,65.6 25.2,64.2 22.4,62.7 20.1,61.4 18.6,59.5 17.4,56.9 16,54.2 14.9,51.6 13.7,50 11.9,48.8 11.8,46.7 13.2,45.3 13.6,44 12.3,43.6 12.3,42 13.4,40.6 13.6,39.6 15.1,38.6 15.6,37.3 17,37.1 17.2,35.2 17,33.2 17.1,31.2 16.4,30.8 15.7,29.8 14.2,29 12.9,30.4 11.5,30.1 9.5,29.1 7.5,27.4 6,25.7 3.7,23.2 2,22.6 -1.4,22.2 -1.4,18.7 2,19.1 4.8,19.5 7.5,20.1 8.7,21.7 8.4,24.4 8.7,26 10,27.6 11.5,28.5 13.6,28.2 14.9,28 16.3,28.5Z M9.2,-0.7 9.8,2 11.1,4.3 12.8,4.6 13.2,2 12.2,-0.7Z M109,-0.7 108.6,1.4 106.5,2.7 104.5,3.1 102.5,5.4 100.4,8.1 99.1,11.5 100,14.2 99.8,18.3 98.4,20.7 99.3,23 99.5,24.4 101.8,25.7 103.4,27.4 104.2,29.1 106.5,31.3 109.2,33.5 112,34.7 115.4,33.7 118.1,33.7 119.4,34.1 122.1,33.1 123.8,32.4 125.5,32.1 128.2,32.2 129.6,33.9 131,34.8 133,34.6 134.4,35.2 135.3,36.6 135.2,39.3 134.8,40.6 134.1,41.6 135,43.4 137.1,46.1 138.4,47.4 138.8,48.9 139.8,51.5 140.3,52.8 140.9,55.6 139.1,58.9 138.4,61.7 138.2,64.4 139.1,66.4 140.5,69.1 141.8,71.8 142.5,75.9 143.2,77.9 144.5,79.5 145.2,82 164.2,82 164.2,81.2 165.6,79.7 166.7,77.2 166.4,75.7 168.3,74.4 170.3,73 170.1,70.5 169.6,68.4 169.4,67.5 171.7,65.7 173.7,64 176.4,62.6 177.5,60.3 177.1,57.6 177.1,54.9 176.2,52.8 175.5,50.1 175.1,48.8 175.3,47 176,46.1 177.1,44 178.5,43.1 179.8,41.3 181.9,39.3 183.9,37.8 186.6,35.2 188,33.2 189.3,30.5 190.7,27.8 191.6,26.4 191.8,24.7 190,25.1 187.3,25.5 184.6,26.2 182.5,26.6 180.9,25.1 180.8,23.7 179.8,22.4 177.8,20.7 176.2,19.6 175.1,17.6 173.7,15.9 172.8,14.2 172.6,12.2 171.7,10.2 170.3,8.1 169,5.4 168,3.4 166.4,0.3 166.2,-0.7Z M169.6,-0.7 169.5,0.7 169.6,2.7 171.7,5.4 173,7.7 174.8,10.2 175.3,12.2 177.1,14.2 178.5,16.3 179.8,18.3 180.5,21 181.2,23.4 183.2,23.3 185.9,22.4 188,21.7 190.7,20.3 193,19 194.8,18 196.8,17.3 198.8,15.6 200.4,14.2 200.9,12.9 202.2,11.5 203.3,10.2 201.7,8.7 199.5,8.1 198.7,6.8 198.6,5 198.1,5.8 196.1,7.7 193.4,7.9 192.2,7.7 192.2,6.1 191.6,5.3 191.1,6.8 190.3,5.8 190.1,4.5 188.6,3.4 188,2 187.3,0.7 188,-0.7Z M190,-0.7 191.1,1.4 192,2.8 194.1,4.3 196.1,4.6 198.1,3.9 199.5,4.3 200.2,5.8 202.2,6.2 205.6,6.5 208.3,6.4 210.4,6.4 212.4,6.2 213.1,7 213.8,8.4 215.1,8.9 215.8,10.3 217.1,12.5 219.9,12.2 220.5,11.2 220.9,12.9 220.9,14.9 221.6,17.6 222.3,19.6 223.2,22.4 224.3,24.8 225.6,27.1 226.4,28.9 227.3,29.7 228.3,28.7 229.4,28 230.4,26.7 230.6,24.4 231.1,22.9 230.8,20.3 231.8,19.2 233.8,18 235.5,16.5 237.5,14.5 239.5,13.3 240.2,12.2 241.6,11.2 242.9,11 245,10.4 246.3,10.2 247,12.2 248.1,13.6 249.4,14.9 250.1,16.3 250.3,18.3 250.1,19.1 251.8,19.2 253.5,18.2 254.5,18.3 254.9,20.3 255.4,22.4 256,24.4 256,26.4 255.6,28.5 255.6,29.8 256.5,30.5 257.9,31.8 258.4,33.9 258.9,35.2 259.6,36.9 261.2,37.9 262.6,38.8 263.6,38.8 263.3,37.3 262.5,35.9 262.5,34.6 261.7,33.1 260.8,32.2 259.9,31.3 258.5,30.8 257.9,29.1 257.2,28 256.9,26.4 257.6,24.7 257.9,23 258.5,22.4 259.2,23.4 261,24.1 261.9,25.7 263.3,26.4 264.4,26.6 264.6,28.9 266.7,27.5 267.6,26.4 270.1,25.1 270.5,23 270.1,20.3 269.1,19 267.4,17.6 266,15.6 265.7,14.2 266.9,12.9 268.7,11.5 270.8,11.5 271.4,13 272.1,11.9 274.1,11.1 276.9,10.3 279.6,9.6 281.6,8.4 283,7.2 284.3,5.8 285.7,4.7 285.7,-0.7Z M251.5,33.1 254.5,33.6 255.6,35 257.6,36.6 258.9,37.7 260.6,39.3 262.6,40.6 263,42 264,43.1 265.3,44 266,45 265.9,46.7 265.7,48.5 264.1,48.5 263.3,47.3 261,45.9 259.2,43.9 258.3,42 256.8,40.2 256.1,38.3 254.7,37.3 253.1,35.8 251.8,34.3Z M264.9,49.9 266,48.6 267.4,48.6 269.4,49.6 272.1,49.9 272.8,49.3 274.8,50 277.5,51.1 277.5,52.4 274.8,52 271.4,51.5 268.7,51.2 266.7,50.7Z M270.1,38.6 270.8,37.9 272.8,38.5 273.3,37.3 275.5,36.3 276.9,34.6 278.9,33.2 280.2,31.4 281.3,31.4 281.9,32.5 283.6,33.6 282.6,34.8 282,36.6 282.3,37.9 283.6,39.3 282,39.6 281.6,41.3 280.2,42.7 280.2,44.7 279.6,46.1 277.7,46.1 276.9,45.3 275.5,45 273.9,45.4 271.7,44.6 271.4,42.7 270.3,41.3 270.1,40Z M284.1,48.1 285.7,48.1 285.7,39.3 284.7,40 284.3,42 283.4,44.4 284.1,45.4Z M285.7,67.6 283.6,67.8 281.6,68.7 279.6,69 278.2,69.8 277,70.2 276.4,71.3 276.2,73.2 276,74.5 276.9,76.6 277.1,77.9 277.7,79.7 278.2,82 285.7,82Z M189.1,56.9 190,58.9 190.7,61.7 189.6,63 189.3,65 188.6,67.1 188,69.8 187,72.5 185.9,74.5 183.9,75.3 181.9,74.5 181.2,72.5 180.9,70.5 181.9,68.4 182.5,66.4 181.9,64.4 182.5,62.6 184.6,62.1 186.6,60.7 187.3,58.9 188.4,57.6Z" fill="#a9a9a9"/>
<path d="M0,0.7l-0.2,0.8m-0.2,-0.1l0,0.8l0.5,-0.7zM0,5.9l0.7,0.4m-0.1,0.2l0.8,0.2l-0.6,-0.6zM0,11.2l0.3,1.2m-0.2,0.1l0.4,0.7l0,-0.8zM0,16.5l0.8,0.1m0,0.2l0.8,-0.2l-0.8,-0.3zM0,27l-1,0m0,-0.2l-0.8,0.2l0.8,0.3zM0,32.3l1.9,-2.1m0.4,0.3l0.7,-1.7l-1.5,1zM0,37.5l0.7,-0.3m0.1,0.2l0.6,-0.5l-0.8,0.1zM0,42.8l2.6,-1.6m0.3,0.5l1.3,-1.4l-1.8,0.5zM0,48.1l1.3,0.4m-0.1,0.2l0.9,0l-0.7,-0.5zM0,53.3l1.7,3.8m-0.5,0.2l1.2,1.4l-0.3,-1.9zM0,79.6l-0.9,1.6m-0.3,-0.2l-0.3,1.1l0.8,-0.8zM12.2,0.7l1.5,-0.2m0,0.3l0.8,-0.4l-0.9,-0.1zM12.2,5.9l3,0.9m-0.2,0.5l1.9,0l-1.6,-1zM12.2,11.2l0.4,-1m0.2,0.1l0.1,-0.8l-0.5,0.6zM12.2,16.5l0.7,-0.4m0.1,0.2l0.6,-0.6l-0.8,0.2zM12.2,27l-3.2,1.5m-0.2,-0.5l-1.4,1.2l1.9,-0.2zM12.2,32.3l-1.9,1m-0.2,-0.3l-1,1l1.3,-0.3zM12.2,37.5l-0.3,-1m0.2,-0.1l-0.5,-0.7l0,0.8zM12.2,42.8l0.1,-3.4m0.5,0l-0.5,-1.8l-0.6,1.8zM12.2,48.1l0.3,-0.8m0.2,0.1l0,-0.8l-0.5,0.7zM12.2,53.3l-0.2,-1.8m0.3,0l-0.5,-1.1l-0.2,1.1zM12.2,79.6l0.7,-0.5m0.1,0.2l0.5,-0.7l-0.8,0.3zM24.4,0.7l2,-0.5m0.1,0.4l1.1,-0.7l-1.3,-0.1zM24.4,5.9l0.2,-2.5m0.5,0l-0.3,-1.6l-0.6,1.5zM24.4,11.2l2.4,0.2m0,0.4l1.5,-0.3l-1.5,-0.6zM24.4,16.5l0.2,-1.7m0.3,0l-0.2,-1l-0.4,1zM24.4,21.7l2.1,1.3m-0.2,0.4l1.6,0.4l-1.1,-1.2zM24.4,27l1.5,2.1m-0.4,0.3l1.3,1l-0.5,-1.6zM24.4,32.3l-1.4,-1m0.2,-0.3l-1.1,-0.4l0.7,0.9zM24.4,37.5l1.2,-2.5m0.5,0.2l0.3,-1.8l-1.2,1.3zM24.4,42.8l1.2,-0.5m0.1,0.2l0.7,-0.5l-0.8,0.1zM24.4,48.1l0,-1.5m0.3,0l-0.3,-0.9l-0.3,0.9zM24.4,58.6l-3.5,-0.8m0.1,-0.5l-1.9,0.1l1.6,0.9zM24.4,63.8l-1.3,-0.5m0.1,-0.2l-0.9,0l0.7,0.5zM24.4,69.1l-0.4,0.6m-0.2,-0.1l-0.3,0.8l0.7,-0.5zM24.4,74.4l0.7,0.3m-0.1,0.2l0.8,0.1l-0.6,-0.6zM24.4,79.6l1.4,0.6m-0.1,0.3l0.9,0.1l-0.7,-0.6zM36.6,0.7l0.7,-3.2m0.5,0.1l-0.1,-1.9l-0.9,1.6zM36.6,5.9l-0.2,-3.4m0.5,0l-0.7,-1.8l-0.4,1.8zM36.6,11.2l1.6,-0.3m0,0.3l0.9,-0.4l-1,-0.1zM36.6,16.5l0.8,-3.3m0.5,0.1l-0.1,-1.9l-0.9,1.6zM36.6,21.7l1.2,-0.5m0.1,0.2l0.7,-0.6l-0.9,0.1zM36.6,27l-0.2,0.7m-0.2,-0.1l0.1,0.8l0.4,-0.7zM36.6,32.3l-2.8,1.8m-0.3,-0.5l-1.2,1.4l1.8,-0.5zM36.6,37.5l-1.9,-1.3m0.2,-0.3l-1.4,-0.4l0.9,1.1zM36.6,42.8l1.3,-0.9m0.2,0.2l0.6,-0.8l-1,0.3zM36.6,48.1l-1.1,-2.1m0.4,-0.2l-1.1,-1.1l0.3,1.5zM36.6,53.3l0.7,-1.4m0.3,0.1l0.2,-1l-0.7,0.7zM36.6,58.6l-0.3,-1.2m0.2,-0.1l-0.4,-0.7l0,0.8zM36.6,63.8l-2.4,-1.2m0.2,-0.4l-1.7,-0.3l1.2,1.2zM36.6,69.1l0.1,1.9m-0.3,0l0.4,1.1l0.3,-1.2zM36.6,74.4l0.5,2.6m-0.5,0.1l0.8,1.5l0.2,-1.7zM36.6,79.6l0.7,-1.6m0.3,0.1l0.1,-1.1l-0.7,0.9zM48.9,0.7l0.3,0.6m-0.2,0.1l0.6,0.6l-0.1,-0.8zM48.9,5.9l1.1,0m0,0.2l0.8,-0.3l-0.8,-0.2zM48.9,11.2l0.7,-0.2m0.1,0.2l0.7,-0.4l-0.8,0zM48.9,16.5l2.7,-0.8m0.2,0.5l1.5,-1l-1.8,0zM48.9,21.7l-1.4,1.6m-0.3,-0.3l-0.6,1.2l1.1,-0.7zM48.9,27l-0.9,1m-0.2,-0.2l-0.4,0.8l0.7,-0.4zM48.9,32.3l-0.8,-0.1m0,-0.2l-0.8,0.2l0.8,0.3zM48.9,37.5l-1,-1.9m0.3,-0.2l-0.9,-1l0.2,1.3zM48.9,42.8l1.7,-1m0.2,0.3l0.9,-0.9l-1.2,0.3zM48.9,48.1l0.6,-2m0.4,0.1l0,-1.3l-0.8,1.1zM48.9,53.3l0.2,-0.9m0.2,0.1l0,-0.8l-0.4,0.7zM48.9,58.6l-0.6,-0.6m0.2,-0.2l-0.7,-0.4l0.3,0.8zM61.1,0.7l0.2,0.7m-0.2,0.1l0.5,0.7l0,-0.8zM61.1,5.9l0.5,0.7m-0.2,0.1l0.7,0.5l-0.3,-0.8zM61.1,11.2l1.5,0m0,0.3l0.9,-0.3l-1,-0.3zM61.1,16.5l1.1,2.6m-0.5,0.2l1.2,1.4l-0.2,-1.8zM61.1,21.7l-2.8,-0.9m0.2,-0.5l-1.9,-0.1l1.5,1.1zM61.1,27l-0.7,0m0,-0.2l-0.8,0.3l0.8,0.2zM61.1,32.3l0,-0.9m0.2,0l-0.3,-0.8l-0.2,0.8zM61.1,37.5l1.4,-0.5m0.1,0.3l0.7,-0.6l-0.9,0.1zM61.1,42.8l0.9,-0.3m0.1,0.2l0.7,-0.5l-0.8,0.1zM61.1,48.1l0.2,1.6m-0.3,0l0.4,0.9l0.2,-1zM61.1,69.1l-3.4,-0.6m0.1,-0.5l-1.9,0.2l1.7,0.8zM61.1,74.4l-1,0.4m-0.1,-0.2l-0.6,0.5l0.8,-0.1zM61.1,79.6l-0.9,0.9m-0.2,-0.2l-0.4,0.7l0.7,-0.4zM73.3,0.7l-2.2,0.2m0,-0.4l-1.3,0.5l1.4,0.3zM73.3,5.9l-0.1,1.3m-0.2,0l0.2,0.8l0.3,-0.8zM73.3,11.2l-2.6,1.1m-0.2,-0.5l-1.4,1.1l1.8,-0.2zM73.3,16.5l-1.1,2m-0.4,-0.2l-0.3,1.4l1.1,-1zM73.3,21.7l-0.2,-0.8m0.2,-0.1l-0.4,-0.7l0,0.8zM73.3,48.1l-1.8,0.5m-0.1,-0.3l-1,0.6l1.2,0zM73.3,53.3l-2,0.8m-0.1,-0.4l-1.1,0.8l1.4,-0.1zM73.3,58.6l1.2,0.9m-0.2,0.2l0.9,0.3l-0.6,-0.8zM73.3,63.8l1.2,1.2m-0.2,0.2l1,0.5l-0.5,-1zM73.3,69.1l-0.4,-1.1m0.2,-0.1l-0.5,-0.7l0.1,0.8zM73.3,74.4l0,-1.2m0.2,0l-0.3,-0.8l-0.2,0.8zM73.3,79.6l-0.6,1.4m-0.2,-0.1l-0.1,0.9l0.6,-0.7zM85.5,0.7l0.5,-1.1m0.2,0.1l0.1,-0.8l-0.6,0.6zM85.5,5.9l-1.8,-0.6m0.1,-0.3l-1.2,0l1,0.7zM85.5,11.2l-1.1,0.6m-0.1,-0.2l-0.6,0.6l0.8,-0.1zM85.5,16.5l-1.7,-1m0.2,-0.3l-1.2,-0.3l0.9,0.9zM85.5,21.7l0.1,-1.1m0.2,0l-0.2,-0.8l-0.3,0.8zM85.5,27l1.1,2.6m-0.5,0.2l1.2,1.4l-0.2,-1.8zM85.5,32.3l2.4,2.1m-0.4,0.4l1.7,0.8l-1,-1.6zM85.5,37.5l-2.8,-0.9m0.2,-0.5l-1.9,0l1.5,1.1zM85.5,58.6l-0.5,2.3m-0.4,-0.1l0.1,1.5l0.7,-1.3zM85.5,63.8l0.9,1.8m-0.3,0.2l0.9,0.9l-0.2,-1.2zM85.5,69.1l1.5,-1.8m0.3,0.3l0.6,-1.4l-1.3,0.8zM85.5,74.4l1.9,-1.2m0.2,0.4l1,-1.1l-1.4,0.4zM85.5,79.6l0.2,-1.5m0.3,0l-0.2,-0.9l-0.4,0.9zM97.7,0.7l2,-1.4m0.3,0.4l0.9,-1.2l-1.5,0.5zM97.7,5.9l-1.1,-1.2m0.2,-0.2l-0.9,-0.5l0.5,1zM97.7,11.2l2,-2.3m0.4,0.4l0.8,-1.7l-1.6,1zM97.7,16.5l1,-1.9m0.3,0.2l0.2,-1.3l-0.9,1zM97.7,21.7l2,-0.8m0.2,0.4l1.1,-0.9l-1.4,0.1zM97.7,27l1.6,3.4m-0.5,0.2l1.3,1.4l-0.3,-1.9zM97.7,32.3l0.1,1.7m-0.3,0l0.4,1l0.2,-1.1zM97.7,37.5l-0.7,-2.1m0.4,-0.1l-0.8,-1.2l0.1,1.4zM97.7,58.6l-3.6,1.2m-0.2,-0.5l-1.5,1.1l1.9,-0.1zM97.7,63.8l-0.9,1m-0.2,-0.2l-0.4,0.8l0.7,-0.4zM97.7,69.1l1.6,1.3m-0.2,0.3l1.2,0.5l-0.7,-1.1zM97.7,74.4l0.3,-0.8m0.2,0.1l0,-0.8l-0.5,0.7zM97.7,79.6l1.4,-1.9m0.3,0.3l0.5,-1.4l-1.2,0.9zM109.9,0.7l1.2,-1m0.2,0.2l0.6,-0.8l-0.9,0.4zM109.9,5.9l-0.5,-2.2m0.4,-0.1l-0.7,-1.3l-0.1,1.4zM109.9,11.2l1,-0.2m0,0.2l0.7,-0.4l-0.8,-0.1zM109.9,16.5l2.2,-3.3m0.5,0.3l0.5,-1.8l-1.4,1.2zM109.9,21.7l1.5,-0.3m0.1,0.3l0.9,-0.5l-1,-0.1zM109.9,27l1.1,0.9m-0.2,0.2l0.8,0.3l-0.5,-0.8zM109.9,32.3l-1.3,1.7m-0.3,-0.2l-0.5,1.3l1.1,-0.8zM109.9,37.5l-1.4,-0.4m0.1,-0.3l-0.9,0l0.8,0.5zM109.9,58.6l-1.7,-0.2m0,-0.3l-1.1,0.2l1,0.4zM109.9,63.8l-0.8,0.2m0,-0.2l-0.7,0.4l0.8,0.1zM122.1,21.7l2.2,0m0,0.4l1.3,-0.4l-1.3,-0.4zM122.1,27l-1.7,1.4m-0.3,-0.3l-0.8,1.2l1.3,-0.6zM122.1,32.3l-1.5,1.4m-0.3,-0.3l-0.7,1.1l1.2,-0.6zM122.1,37.5l-0.9,-0.1m0,-0.2l-0.8,0.1l0.8,0.4zM122.1,58.6l-1,-0.5m0.1,-0.2l-0.8,-0.1l0.6,0.6zM122.1,63.8l-1.2,0.7m-0.1,-0.2l-0.6,0.6l0.9,-0.2zM134.4,21.7l1.6,0.9m-0.2,0.3l1.2,0.3l-0.8,-0.9zM134.4,27l0.8,-0.1m0,0.2l0.8,-0.3l-0.8,-0.2zM134.4,32.3l-0.1,0.7m-0.2,0l0.2,0.8l0.3,-0.8zM134.4,37.5l-2.4,0.8m-0.1,-0.4l-1.3,0.9l1.6,0zM134.4,58.6l-1.4,-0.1m0,-0.3l-0.9,0.2l0.8,0.3zM183.2,0.7l0.8,-0.4m0.1,0.2l0.6,-0.6l-0.8,0.2zM183.2,5.9l0.7,0.4m-0.1,0.2l0.8,0.2l-0.6,-0.6zM183.2,11.2l1.1,-2.6m0.5,0.2l0.2,-1.8l-1.1,1.4zM183.2,16.5l1.6,-0.1m0,0.3l1,-0.4l-1,-0.2zM195.4,0.7l1.7,-0.5m0.1,0.3l1,-0.6l-1.1,0zM195.4,5.9l-0.7,-1.6m0.3,-0.1l-0.7,-0.8l0.1,1.1zM195.4,11.2l2.2,-0.9m0.2,0.4l1.2,-0.9l-1.5,0.1zM207.6,0.7l0.6,-0.6m0.2,0.2l0.4,-0.8l-0.7,0.4zM207.6,5.9l0,-1m0.2,0l-0.2,-0.8l-0.2,0.8zM207.6,11.2l0.5,-0.8m0.2,0.1l0.2,-0.8l-0.6,0.6zM219.9,0.7l1.3,2.8m-0.5,0.2l1.3,1.4l-0.3,-1.9zM219.9,5.9l3.9,-0.3m0,0.5l1.8,-0.7l-1.8,-0.4zM219.9,11.2l1.3,-0.2m0,0.2l0.8,-0.4l-0.8,-0.1zM232.1,0.7l0.2,0.9m-0.2,0.1l0.4,0.7l0,-0.8zM232.1,5.9l-0.1,0.8m-0.2,0l0.2,0.8l0.3,-0.8zM232.1,11.2l0.6,0.9m-0.2,0.1l0.6,0.6l-0.2,-0.8zM244.3,0.7l-1.5,-1.2m0.2,-0.3l-1.1,-0.5l0.7,1zM244.3,5.9l0.3,1.1m-0.2,0.1l0.4,0.7l0,-0.8zM244.3,11.2l-0.8,0m0,-0.2l-0.8,0.2l0.8,0.3zM256.5,0.7l-1.4,-1.9m0.3,-0.3l-1.2,-0.9l0.5,1.4zM256.5,5.9l-1,-0.1m0,-0.2l-0.8,0.2l0.8,0.3zM256.5,11.2l-1.9,-0.4m0.1,-0.4l-1.3,0.1l1.1,0.6zM268.7,0.7l0,-0.9m0.2,0l-0.3,-0.8l-0.2,0.8zM268.7,5.9l-0.5,-0.5m0.2,-0.2l-0.7,-0.4l0.4,0.7zM268.7,11.2l-0.3,-1.4m0.3,-0.1l-0.4,-0.8l-0.1,0.9zM268.7,16.5l1.4,-1.6m0.3,0.3l0.6,-1.2l-1.2,0.7zM268.7,79.6l-0.3,-0.9m0.2,-0.1l-0.5,-0.7l0,0.8zM280.9,0.7l3.3,-1.8m0.3,0.5l1.3,-1.3l-1.8,0.4zM280.9,5.9l2.5,-0.7m0.1,0.5l1.4,-0.9l-1.7,0zM280.9,11.2l1.5,-3.1m0.5,0.2l0.3,-1.9l-1.3,1.4zM280.9,16.5l1.8,0.3m0,0.3l1.1,-0.2l-1.1,-0.5zM280.9,79.6l2.3,0.1m0,0.4l1.4,-0.4l-1.4,-0.5z" stroke="#606060" stroke-width="0.8" fill="#606060"/>
<path d="M0,21.7l-2.4,0.8m-0.2,-0.6l-1.3,1.1l1.7,0.1zM0,58.6l5,2.6m-0.3,0.6l2.8,0.6l-2.1,-1.9zM0,63.8l5.3,0.8m-0.1,0.7l2.7,-0.3l-2.5,-1.1zM0,69.1l4.9,3.1m-0.4,0.6l2.8,0.9l-2,-2.2zM0,74.4l4.7,1.3m-0.2,0.6l2.5,0l-2.2,-1.2zM12.2,21.7l-2.3,-0.6m0.1,-0.6l-1.7,0.2l1.4,1zM12.2,58.6l4.9,2.7m-0.3,0.6l2.8,0.7l-2.1,-2zM12.2,63.8l3.5,1.2m-0.2,0.6l1.9,0l-1.5,-1.1zM12.2,69.1l3.6,0.3m0,0.6l1.8,-0.5l-1.7,-0.7zM12.2,74.4l4.1,2m-0.3,0.5l2.3,0.4l-1.8,-1.5zM24.4,53.3l4.5,-1.6m0.2,0.6l2,-1.4l-2.4,0.2zM48.9,63.8l1,6.6m-0.8,0.1l1.3,3.1l0.3,-3.4zM48.9,69.1l1.9,8.1m-1,0.2l2,3.8l0.1,-4.2zM48.9,74.4l1.8,6.3m-0.8,0.2l1.7,2.9l-0.1,-3.4zM48.9,79.6l1.3,5.5m-0.7,0.2l1.4,2.5l0,-2.9zM61.1,53.3l0.4,-3.3m0.6,0.1l-0.4,-1.7l-0.8,1.5zM61.1,58.6l-0.1,-4.4m0.6,0l-0.7,-2.1l-0.5,2.2zM61.1,63.8l1.3,-2.8m0.5,0.3l0.1,-1.7l-1.2,1.2zM73.3,27l1.1,3.6m-0.6,0.2l1.1,1.6l0,-1.9zM73.3,32.3l0.2,3.7m-0.6,0l0.7,1.8l0.5,-1.9zM73.3,37.5l-0.7,3.7m-0.6,-0.1l0.3,1.9l0.9,-1.7zM73.3,42.8l-1,4m-0.6,-0.1l0.1,2.1l1.1,-1.8zM85.5,42.8l7.6,0.5m-0.1,1l3.8,-0.7l-3.7,-1.2zM85.5,48.1l8.2,1.8m-0.2,1l4.3,-0.2l-3.8,-1.9zM85.5,53.3l4.9,1.6m-0.2,0.6l2.6,0.2l-2.2,-1.4zM97.7,42.8l7.8,0.9m-0.1,1l3.9,-0.6l-3.7,-1.4zM97.7,48.1l7.3,1m-0.1,0.9l3.7,-0.4l-3.5,-1.4zM97.7,53.3l5.3,1.9m-0.2,0.7l2.9,0.3l-2.4,-1.6zM109.9,42.8l6.6,3.2m-0.4,0.8l3.6,0.7l-2.8,-2.4zM109.9,48.1l6.1,2.8m-0.4,0.8l3.4,0.6l-2.6,-2.2zM109.9,53.3l5.4,0.2m0,0.7l2.7,-0.6l-2.6,-0.8zM109.9,69.1l3.9,-0.5m0.1,0.6l1.8,-0.8l-2,-0.3zM109.9,74.4l5.9,-0.6m0.1,0.7l2.8,-1l-3,-0.5zM109.9,79.6l3.7,-1.2m0.2,0.6l1.7,-1.1l-2,0zM122.1,0.7l4.1,2.3m-0.3,0.5l2.3,0.6l-1.7,-1.6zM122.1,5.9l4.8,1.7m-0.2,0.6l2.6,0.2l-2.2,-1.4zM122.1,11.2l5.7,0.1m0,0.7l2.8,-0.7l-2.8,-0.8zM122.1,16.5l3.8,2.2m-0.3,0.5l2.2,0.5l-1.6,-1.6zM122.1,42.8l8.5,0.6m-0.1,1.1l4.3,-0.8l-4.1,-1.4zM122.1,48.1l6.9,2.7m-0.3,0.9l3.8,0.5l-3.1,-2.2zM122.1,53.3l9.2,0.3m0,1.2l4.5,-1l-4.5,-1.3zM122.1,69.1l3.6,-3.3m0.4,0.5l1.4,-2.1l-2.2,1.2zM122.1,74.4l4.8,-3.4m0.4,0.6l1.9,-2.3l-2.8,1.1zM122.1,79.6l3.5,-3.1m0.4,0.5l1.3,-2l-2.1,1.1zM134.4,0.7l3.3,1.4m-0.2,0.5l1.9,0.2l-1.4,-1.3zM134.4,5.9l6.1,0.5m-0.1,0.8l3.1,-0.5l-2.9,-1zM134.4,11.2l5.5,0.8m-0.1,0.7l2.8,-0.3l-2.6,-1.1zM134.4,16.5l4.2,1.4m-0.2,0.6l2.3,0.1l-1.9,-1.2zM134.4,42.8l4.9,3.9m-0.5,0.6l2.9,1.3l-1.9,-2.5zM134.4,48.1l5.3,1.5m-0.2,0.7l2.8,0.1l-2.4,-1.4zM134.4,53.3l7.3,4.9m-0.6,0.9l4.2,1.5l-3,-3.4zM134.4,63.8l-0.2,-4.5m0.6,0l-0.7,-2.2l-0.5,2.2zM134.4,69.1l-2.1,-6m0.8,-0.3l-1.8,-2.7l0.3,3.2zM134.4,74.4l-1.2,-4.7m0.6,-0.2l-1.2,-2.2l0,2.5zM134.4,79.6l0.6,-6.7m0.9,0.1l-0.6,-3.4l-1.2,3.2zM146.6,0.7l0.4,-5.3m0.7,0l-0.5,-2.7l-0.9,2.6zM146.6,5.9l0.3,0.7m0.6,-0.2l-1.2,-1.2l0.1,1.7zM146.6,11.2l2,-0.9m0.2,0.5l1.2,-1.2l-1.7,0.1zM146.6,16.5l1.5,-1m0.3,0.5l1,-1.4l-1.7,0.4zM146.6,21.7l-0.4,-0.8m0.5,-0.3l-1.3,-1.2l0.2,1.7zM146.6,27l0.3,-0.6m0.5,0.3l0.2,-1.7l-1.3,1.2zM146.6,32.3l-1.2,-3.1m0.6,-0.2l-1.2,-1.3l0,1.8zM146.6,37.5l0.1,0m0,0.6l1.6,-0.5l-1.6,-0.7zM146.6,42.8l5.3,0m0,0.7l2.6,-0.7l-2.6,-0.7zM146.6,48.1l6.7,1m-0.1,0.9l3.4,-0.4l-3.2,-1.3zM146.6,53.3l5.8,-0.9m0.1,0.7l2.7,-1.2l-3,-0.3zM146.6,58.6l7.5,-2.2m0.3,1l3.4,-2l-4,0.1zM146.6,63.8l5.4,0.8m-0.1,0.7l2.8,-0.3l-2.6,-1.1zM146.6,69.1l0,1m0.6,0l-0.7,-1.6l-0.5,1.6zM146.6,74.4l-3.6,-6.2m0.8,-0.5l-2.6,-2.6l1,3.5zM146.6,79.6l0.3,-7.9m1,0l-0.8,-3.9l-1.2,3.8zM158.8,0.7l6.2,-4.3m0.5,0.8l2.5,-2.9l-3.6,1.3zM158.8,5.9l6.2,-4.3m0.6,0.8l2.5,-2.9l-3.6,1.3zM158.8,11.2l-0.3,0.3m0.5,0.4l0.6,-1.6l-1.5,0.8zM158.8,16.5l-0.3,0.1m0.3,0.5l1.2,-1.2l-1.7,0.1zM158.8,21.7l2.9,1.4m-0.3,0.5l1.7,0.1l-1.2,-1.2zM158.8,27l0.3,-0.2m0.4,0.5l0.8,-1.5l-1.6,0.6zM158.8,32.3l7,0.3m0,0.9l3.5,-0.7l-3.4,-1zM158.8,37.5l0.2,0m0.1,0.6l1.5,-0.9l-1.7,-0.3zM158.8,42.8l7.6,-2.5m0.3,1l3.4,-2.2l-4.1,0.2zM158.8,48.1l0.2,-3.2m0.6,0l-0.5,-1.6l-0.7,1.6zM158.8,53.3l2.6,-4.4m0.6,0.3l0.7,-2.5l-1.9,1.8zM158.8,58.6l-1.1,-0.4m-0.2,0.6l1.7,0l-1.3,-1.1zM158.8,63.8l3.6,1.7m-0.2,0.5l2,0.3l-1.5,-1.4zM158.8,69.1l-0.7,-0.9m-0.5,0.4l1.4,0.9l-0.5,-1.6zM158.8,74.4l-0.5,-1m-0.5,0.3l1.3,1.1l-0.2,-1.7zM158.8,79.6l5.4,-4.9m0.6,0.7l2,-3.1l-3.3,1.7zM171,0.7l3.2,1.6m-0.3,0.5l1.9,0.2l-1.3,-1.3zM171,11.2l-0.7,-1m-0.5,0.3l1.4,1l-0.4,-1.7zM171,16.5l2.4,-2.2m0.4,0.4l0.8,-1.5l-1.6,0.6zM171,21.7l4.6,3.5m-0.4,0.6l2.7,1.1l-1.8,-2.3zM171,27l4.7,0.3m0,0.6l2.3,-0.5l-2.3,-0.7zM171,32.3l3.6,2.7m-0.4,0.5l2.1,0.8l-1.4,-1.8zM171,37.5l-2.2,-7.6m1,-0.3l-2,-3.5l0.1,4zM171,42.8l0.2,-0.2m0.4,0.4l0.7,-1.6l-1.6,0.7zM171,48.1l0.6,-0.4m-0.3,-0.5l-1.1,1.3l1.7,-0.3zM171,53.3l3.4,-0.1m0,0.6l1.7,-0.7l-1.7,-0.5zM171,58.6l5.8,2.8m-0.4,0.7l3.2,0.6l-2.5,-2.1zM171,63.8l3.7,-1m0.2,0.6l1.7,-1.1l-2,-0.1zM171,69.1l3.4,-5.2m0.7,0.4l1,-3l-2.4,2.1zM171,74.4l0.7,0.4m-0.3,0.5l1.7,0.3l-1.1,-1.3zM171,79.6l2.1,-1.1m0.3,0.5l1.1,-1.3l-1.7,0.2zM183.2,21.7l-7.5,-2.3m0.3,-1l-4,-0.2l3.4,2.1zM183.2,27l-14.3,-1.1m0.1,-1.3l-5.1,0.9l4.9,1.7zM183.2,32.3l-8.4,0.4m0,-1.1l-4.1,1.3l4.2,0.9zM183.2,37.5l-10.2,-1.4m0.2,-1.3l-5.1,0.6l4.8,2zM183.2,42.8l-12,-5.6m0.5,-1.2l-5.1,-0.9l4,3.3zM183.2,48.1l-9.4,-2.9m0.4,-1.2l-5,-0.2l4.3,2.7zM183.2,53.3l1.3,-5.7m0.7,0.2l-0.1,-2.9l-1.3,2.6zM183.2,58.6l1.7,-5.5m0.7,0.2l0.1,-2.9l-1.5,2.5zM183.2,63.8l3.1,-3.9m0.5,0.4l1,-2.3l-2,1.5zM183.2,69.1l0,-4.6m0.6,0l-0.6,-2.3l-0.6,2.3zM183.2,74.4l2.4,-5m0.6,0.3l0.5,-2.8l-1.8,2.2zM183.2,79.6l1.9,-7.3m0.9,0.2l0,-3.8l-1.9,3.3zM195.4,16.5l-12,-3.9m0.4,-1.2l-5.2,-0.3l4.3,2.8zM195.4,21.7l-7.8,-5m0.6,-1l-4.5,-1.4l3.2,3.4zM195.4,27l-15.3,-4.2m0.3,-1.3l-5.2,-0.1l4.5,2.6zM195.4,32.3l-18.8,4.1m-0.3,-1.3l-4.6,2.3l5.2,0.2zM195.4,37.5l-14.1,-5.4m0.5,-1.2l-5.1,-0.6l4.2,3zM195.4,42.8l-11.7,-1.9m0.2,-1.3l-5.1,0.5l4.7,2.1zM195.4,48.1l-19,8.2m-0.5,-1.2l-4.1,3.2l5.1,-0.8zM195.4,53.3l1.3,-7.6m1,0.2l-0.3,-3.9l-1.6,3.6zM195.4,58.6l2.7,-6m0.8,0.3l0.6,-3.3l-2.1,2.6zM195.4,63.8l1.3,-6.4m0.8,0.2l-0.2,-3.3l-1.4,3zM195.4,69.1l3.7,-6.8m0.9,0.5l0.9,-3.8l-2.7,2.9zM195.4,74.4l3,-6.4m0.8,0.4l0.6,-3.5l-2.3,2.8zM195.4,79.6l1.8,-4.8m0.6,0.2l0.3,-2.6l-1.5,2.1zM207.6,16.5l-10,-7.9m0.8,-1l-4.7,-2.1l3.1,4.1zM207.6,21.7l-10.5,-8.3m0.8,-1l-4.7,-2.1l3.1,4.1zM207.6,27l-8.3,-1.9m0.2,-1.1l-4.3,0.2l3.9,2zM207.6,32.3l-30,-5.4m0.2,-1.3l-5.2,0.4l4.7,2.2zM207.6,37.5l-24.3,-1.9m0.1,-1.3l-5.1,0.9l4.9,1.7zM207.6,42.8l-15.6,-3.3m0.3,-1.3l-5.2,0.2l4.6,2.3zM207.6,48.1l-17.3,4.9m-0.4,-1.3l-4.5,2.6l5.2,-0.1zM207.6,53.3l-23.5,2.8m-0.2,-1.3l-4.8,1.9l5.1,0.7zM207.6,58.6l6.4,4.7m-0.6,0.8l3.7,1.5l-2.5,-3.1zM207.6,63.8l6.7,5m-0.6,0.9l3.9,1.6l-2.6,-3.3zM207.6,69.1l7.6,5.1m-0.7,1l4.4,1.5l-3.1,-3.5zM207.6,74.4l3.6,8.2m-1.1,0.5l2.8,3.6l-0.7,-4.5zM207.6,79.6l5.5,6.5m-0.8,0.7l3.5,2.5l-1.9,-3.9zM219.9,16.5l-16.6,-2.1m0.2,-1.3l-5.1,0.7l4.8,1.9zM219.9,21.7l-16.1,-4.8m0.4,-1.2l-5.2,-0.2l4.4,2.7zM219.9,27l-8.9,-3.1m0.4,-1.1l-4.8,-0.4l4,2.7zM219.9,32.3l-29.7,-8.7m0.4,-1.2l-5.2,-0.2l4.4,2.7zM219.9,37.5l-27.7,-6.6m0.3,-1.3l-5.2,0.1l4.6,2.4zM219.9,42.8l-37.7,-9.7m0.3,-1.3l-5.2,0l4.5,2.5zM219.9,48.1l-24.4,10m-0.5,-1.2l-4.1,3.1l5.1,-0.7zM219.9,53.3l-17.1,3.6m-0.3,-1.3l-4.6,2.3l5.2,0.2zM219.9,58.6l4.2,8.1m-1,0.5l3.1,3.5l-1,-4.5zM219.9,63.8l4.8,8.5m-1.1,0.6l3.5,3.6l-1.3,-4.8zM219.9,69.1l5.3,5m-0.6,0.7l3.2,1.8l-2,-3.1zM219.9,74.4l8,6.4m-0.8,1l4.7,2.1l-3.1,-4.2zM219.9,79.6l3.9,7.3m-0.9,0.5l2.9,3.1l-1,-4.1zM232.1,16.5l-15.3,-6.1m0.5,-1.2l-5.1,-0.6l4.2,3.1zM232.1,21.7l-8.5,-3.2m0.4,-1.1l-4.6,-0.5l3.8,2.7zM232.1,27l-10.4,-1.8m0.2,-1.3l-5.1,0.4l4.7,2.1zM232.1,32.3l-19,0m0,-1.3l-5,1.3l5,1.3zM232.1,37.5l-32.9,-0.7m0,-1.3l-5,1.2l5,1.4zM232.1,42.8l-19.9,-6.4m0.4,-1.2l-5.2,-0.3l4.4,2.8zM232.1,48.1l-23.6,1.1m-0.1,-1.3l-4.9,1.5l5.1,1.1zM232.1,53.3l-15.9,-1.5m0.1,-1.3l-5.1,0.8l4.9,1.8zM232.1,58.6l8.6,5.4m-0.7,1.1l4.9,1.5l-3.6,-3.7zM232.1,63.8l5.7,8.3m-1.1,0.7l3.9,3.4l-1.8,-4.8zM232.1,69.1l4.2,9.9m-1.2,0.5l3.2,4.1l-0.8,-5.1zM232.1,74.4l3,5.5m-0.7,0.4l2.2,2.3l-0.8,-3.1zM232.1,79.6l2.6,5.8m-0.7,0.3l2,2.5l-0.5,-3.2zM244.3,16.5l-7.3,-4.9m0.6,-0.9l-4.2,-1.5l3,3.3zM244.3,21.7l-8.3,-7.1m0.8,-1l-4.6,-2.3l2.9,4.2zM244.3,27l-10.9,-8.9m0.8,-1l-4.7,-2.2l3,4.2zM244.3,32.3l-29.3,-3.2m0.1,-1.3l-5.1,0.8l4.8,1.8zM244.3,37.5l-21.3,-7.1m0.4,-1.2l-5.2,-0.4l4.3,2.8zM244.3,42.8l-30.4,-8.5m0.3,-1.3l-5.2,-0.1l4.5,2.6zM244.3,48.1l-27.5,5.4m-0.2,-1.3l-4.7,2.2l5.2,0.3zM244.3,53.3l-18.7,-3.9m0.3,-1.3l-5.2,0.3l4.6,2.3zM244.3,58.6l4,6.3m-0.8,0.5l2.8,2.6l-1.2,-3.6zM244.3,63.8l3.1,7.5m-1,0.4l2.5,3.3l-0.5,-4.1zM244.3,69.1l5.1,8.3m-1.1,0.7l3.6,3.4l-1.5,-4.7zM244.3,74.4l5.3,6.3m-0.8,0.7l3.4,2.4l-1.8,-3.8zM244.3,79.6l7.6,6.4m-0.8,1l4.6,2.2l-2.9,-4.1zM256.5,16.5l-13.2,-1.3m0.1,-1.3l-5.1,0.8l4.9,1.8zM256.5,21.7l5,2.1m-0.3,0.6l2.7,0.4l-2.2,-1.7zM256.5,27l4.1,2.4m-0.3,0.5l2.3,0.7l-1.7,-1.7zM256.5,32.3l-28.7,0.5m0,-1.3l-5,1.4l5,1.2zM256.5,37.5l-17.6,-4.1m0.3,-1.3l-5.2,0.1l4.6,2.4zM256.5,42.8l-33.5,-2.2m0.1,-1.3l-5.1,1l4.9,1.6zM256.5,48.1l-22.7,-5.4m0.3,-1.3l-5.2,0.1l4.6,2.4zM256.5,53.3l-28.3,-4.8m0.2,-1.3l-5.1,0.4l4.7,2.1zM256.5,58.6l3.9,5.4m-0.7,0.5l2.6,2.2l-1.2,-3.2zM256.5,63.8l4,6.3m-0.8,0.5l2.8,2.6l-1.2,-3.6zM256.5,69.1l6.1,5.6m-0.7,0.8l3.7,2l-2.3,-3.5zM256.5,74.4l3.5,5.2m-0.7,0.5l2.4,2.1l-1.1,-3zM256.5,79.6l3.9,6.6m-0.8,0.5l2.8,2.8l-1.1,-3.8zM268.7,21.7l4.5,1m-0.1,0.6l2.3,-0.1l-2.1,-1.1zM268.7,27l4.1,2m-0.3,0.5l2.3,0.5l-1.8,-1.5zM268.7,32.3l-25,-4.2m0.2,-1.3l-5.1,0.5l4.7,2.1zM268.7,37.5l-33.4,0.5m0,-1.3l-5,1.4l5,1.2zM268.7,42.8l-20.7,-0.1m0,-1.3l-5,1.3l5,1.3zM268.7,48.1l-18.7,0.6m0,-1.3l-5,1.4l5,1.2zM268.7,53.3l-4.1,3m-0.4,-0.5l-1.6,2l2.4,-1zM268.7,58.6l-3.4,3.8m-0.5,-0.4l-1.2,2.3l2.2,-1.5zM268.7,63.8l-6,4.2m-0.5,-0.8l-2.4,2.9l3.5,-1.3zM268.7,69.1l-4.6,4.7m-0.6,-0.6l-1.6,2.9l2.9,-1.7zM268.7,74.4l-6.2,2.8m-0.4,-0.8l-2.7,2.2l3.4,-0.6zM280.9,21.7l6.4,-0.6m0.1,0.8l3.1,-1.1l-3.2,-0.5zM280.9,27l4,0.8m-0.1,0.6l2.1,-0.2l-1.8,-1zM280.9,32.3l-27,-11.2m0.5,-1.2l-5.1,-0.7l4.1,3.1zM280.9,37.5l-17.2,-7m0.5,-1.2l-5.1,-0.7l4.1,3.1zM280.9,42.8l-22.1,1.9m-0.1,-1.3l-4.9,1.7l5.1,0.9zM280.9,48.1l-19.5,-1.2m0.1,-1.3l-5.1,1l4.9,1.6zM280.9,53.3l-3.5,3.7m-0.5,-0.4l-1.2,2.2l2.2,-1.4zM280.9,58.6l-5.4,3.5m-0.4,-0.7l-2.2,2.4l3.1,-1zM280.9,63.8l-5.4,2.2m-0.3,-0.7l-2.4,1.8l2.9,-0.4zM280.9,69.1l-4.7,1.5m-0.2,-0.6l-2.2,1.3l2.5,-0.1zM280.9,74.4l-5.6,4.4m-0.6,-0.7l-2.2,2.9l3.3,-1.5z" stroke="#000" stroke-width="1" fill="#000"/>
<rect x="241.7" y="0" width="43.3" height="18.6" fill="#fff"/>
</svg>
<rect x="0" y="0" width="285" height="81.3" fill="none" stroke="#555" stroke-width="0.7"/>
<path d="M0,0 v-3 M0,81.3 v3 M40.7,0 v-3 M40.7,81.3 v3 M81.4,0 v-3 M81.4,81.3 v3 M122.1,0 v-3 M122.1,81.3 v3 M162.9,0 v-3 M162.9,81.3 v3 M203.6,0 v-3 M203.6,81.3 v3 M244.3,0 v-3 M244.3,81.3 v3 M285,0 v-3 M285,81.3 v3 M0,0 h-3.2 M285,0 h3.2 M0,20.3 h-3.2 M285,20.3 h3.2 M0,40.6 h-3.2 M285,40.6 h3.2 M0,61 h-3.2 M285,61 h3.2 M0,81.3 h-3.2 M285,81.3 h3.2" stroke="#333" stroke-width="0.7" fill="none"/>
<text x="-1.3" y="104.1" text-anchor="middle" font-size="13.1">90<tspan dy="-6.6" dx="0.4" font-size="10">°</tspan><tspan dy="6.6" dx="0.8">W</tspan></text>
<text x="39.4" y="104.1" text-anchor="middle" font-size="13.1">60<tspan dy="-6.6" dx="0.4" font-size="10">°</tspan><tspan dy="6.6" dx="0.8">W</tspan></text>
<text x="80.1" y="104.1" text-anchor="middle" font-size="13.1">30<tspan dy="-6.6" dx="0.4" font-size="10">°</tspan><tspan dy="6.6" dx="0.8">W</tspan></text>
<text x="123.3" y="104.1" text-anchor="middle" font-size="13.1">0<tspan dy="-6.6" dx="0.4" font-size="10">°</tspan></text>
<text x="161.6" y="104.1" text-anchor="middle" font-size="13.1">30<tspan dy="-6.6" dx="0.4" font-size="10">°</tspan><tspan dy="6.6" dx="0.8">E</tspan></text>
<text x="202.3" y="104.1" text-anchor="middle" font-size="13.1">60<tspan dy="-6.6" dx="0.4" font-size="10">°</tspan><tspan dy="6.6" dx="0.8">E</tspan></text>
<text x="243" y="104.1" text-anchor="middle" font-size="13.1">90<tspan dy="-6.6" dx="0.4" font-size="10">°</tspan><tspan dy="6.6" dx="0.8">E</tspan></text>
<text x="283.7" y="104.1" text-anchor="middle" font-size="13.1">120<tspan dy="-6.6" dx="0.4" font-size="10">°</tspan><tspan dy="6.6" dx="0.8">E</tspan></text>
<text x="-9" y="6.7" text-anchor="end" font-size="13.1">30<tspan dy="-6.6" dx="0.4" font-size="10">°</tspan><tspan dy="6.6" dx="0.8">N</tspan></text>
<text x="-9" y="27" text-anchor="end" font-size="13.1">15<tspan dy="-6.6" dx="0.4" font-size="10">°</tspan><tspan dy="6.6" dx="0.8">N</tspan></text>
<text x="-9" y="45.4" text-anchor="end" font-size="13.1">EQ</text>
<text x="-9" y="67.7" text-anchor="end" font-size="13.1">15<tspan dy="-6.6" dx="0.4" font-size="10">°</tspan><tspan dy="6.6" dx="0.8">S</tspan></text>
<text x="-9" y="88" text-anchor="end" font-size="13.1">30<tspan dy="-6.6" dx="0.4" font-size="10">°</tspan><tspan dy="6.6" dx="0.8">S</tspan></text>
<text x="283.5" y="11.9" text-anchor="end" font-size="13.6" textLength="39.4" lengthAdjust="spacingAndGlyphs">1 mon</text>
<text x="0.3" y="-6" font-size="17.2" font-weight="bold">e</text>
</g>
<g transform="translate(383.2,182.2)">
<svg x="0" y="0" width="285" height="81.3" viewBox="0 0 285 81.3" overflow="hidden">
<rect x="0" y="0" width="285" height="81.3" fill="#fff"/>
<path d="M4,4C15.3,1.9 59.3,-1.7 70.8,-1.2C82.3,-0.7 74.3,4.4 72.9,7.2C71.5,9.9 64.5,11.7 62.4,15.5C60.3,19.3 62.1,27.3 60.3,30.1C58.6,32.9 55.1,32.7 52,32.2C48.9,31.7 45.7,28.2 41.6,27C37.4,25.8 31.1,25.1 26.9,24.9C22.8,24.7 19.6,26.8 16.5,25.9C13.4,25.1 10.4,22.1 8.2,19.7C5.9,17.2 3.6,13.9 2.9,11.3C2.2,8.7 -7.3,6.1 4,4Z" fill="#fddbc7"/>
<path d="M6.1,5.1C7.8,3.7 12.3,3.7 16.5,3C20.7,2.3 25.5,1.6 31.1,0.9C36.7,0.2 43.6,-0.9 49.9,-1.2C56.2,-1.5 65.2,-2.2 68.7,-1.2C72.2,-0.2 72.2,3 70.8,5.1C69.4,7.2 62.8,8.9 60.3,11.3C57.9,13.8 56.5,16.9 56.2,19.7C55.8,22.5 59.3,26.8 58.3,28C57.2,29.2 52.7,27.7 49.9,27C47.1,26.3 45,24.5 41.6,23.9C38.1,23.2 32.9,22.8 29,22.8C25.2,22.8 21.7,24.7 18.6,23.9C15.5,23 12.3,19.7 10.2,17.6C8.2,15.5 6.8,13.4 6.1,11.3C5.4,9.2 4.3,6.5 6.1,5.1Z" fill="#f4a582"/>
<path d="M-2.3,-1.2C-1.2,-2.1 3,-2 4,-1.2C4.9,-0.4 4.6,2.5 3.6,3.4C2.5,4.3 -1.3,4.8 -2.3,4C-3.3,3.3 -3.3,-0.3 -2.3,-1.2Z" fill="#92c5de"/>
<path d="M97.9,-1.2C99,-2.5 103.7,-2.6 104.6,-1.2C105.5,0.2 104.6,5.8 103.6,7.2C102.5,8.5 99.3,8.1 98.3,6.7C97.4,5.3 96.9,0.1 97.9,-1.2Z" fill="#f4a582"/>
<path d="M-2.3,21.8C-0.7,14.3 4.3,21.6 7.1,22.8C9.9,24 13.5,26.1 14.4,29.1C15.3,32 12.2,36.6 12.3,40.6C12.5,44.6 14.2,49.6 15.5,53.1C16.7,56.6 19.8,59.3 19.6,61.4C19.5,63.5 16.3,64.6 14.4,65.6C12.5,66.6 10.9,67.3 8.2,67.7C5.4,68 -0.5,75.3 -2.3,67.7C-4,60 -3.9,29.2 -2.3,21.8Z" fill="#f4a582"/>
<path d="M-2.3,22.2C-0.8,15.8 4,22 6.7,23.2C9.4,24.4 13.1,26.6 14,29.5C14.9,32.4 11.8,36.7 11.9,40.6C12,44.4 13.8,49.4 14.8,52.7C15.9,56 18.9,58.6 18.2,60.4C17.4,62.2 13.6,63.3 10.2,63.5C6.8,63.7 -0.2,68.3 -2.3,61.4C-4.4,54.5 -3.8,28.5 -2.3,22.2Z" fill="#d6604d"/>
<path d="M-2.3,23.4C-0.9,17.8 3.5,23.2 6.1,24.3C8.6,25.4 12.1,27.4 13,30.1C13.8,32.8 11.1,36.9 11.3,40.6C11.5,44.2 13.1,49.1 14,52C14.9,55 17.3,57.1 16.5,58.3C15.7,59.5 12.3,59.3 9.2,59.3C6.1,59.3 -0.4,64.3 -2.3,58.3C-4.2,52.3 -3.7,29.1 -2.3,23.4Z" fill="#b2182b"/>
<path d="M-2.3,24.9C-1.1,20 2.8,24.4 5,25.5C7.3,26.7 10.5,28.9 11.3,31.8C12.1,34.6 9.6,39.3 9.8,42.6C10,46 12.8,49.9 12.3,52C11.9,54.1 9.5,54.6 7.1,55.2C4.7,55.7 -0.7,60.2 -2.3,55.2C-3.9,50.1 -3.5,29.8 -2.3,24.9Z" fill="#67001f"/>
<path d="M-2.3,65.6C-0.9,65.1 3.6,65.4 6.1,66.6C8.5,67.9 12,71.6 12.3,72.9C12.7,74.2 10.6,74.9 8.2,74.4C5.7,73.8 -0.5,71.2 -2.3,69.8C-4,68.3 -3.7,66.1 -2.3,65.6Z" fill="#f4a582"/>
<path d="M-2.3,76 6.1,81.9 -2.3,82.7Z" fill="#92c5de"/>
<path d="M62.4,38.5C62.8,37.2 70.8,38.3 75,37.4C79.1,36.6 83.7,34.3 87.5,33.2C91.3,32.2 93.4,31.3 97.9,31.2C102.4,31 108.4,31.5 114.6,32.2C120.9,32.9 130.3,33.9 135.5,35.3C140.7,36.7 144.2,32 145.9,40.6C147.7,49.1 149.4,79.9 145.9,86.5C142.5,93.1 131.3,82 125.1,80.2C118.8,78.5 113.6,77.6 108.4,76C103.1,74.5 97.9,72.6 93.7,70.8C89.6,69.1 86.1,67.5 83.3,65.6C80.5,63.7 77.7,61.8 77,59.3C76.3,56.9 79.8,53.4 79.1,51C78.4,48.6 75.6,46.8 72.9,44.7C70.1,42.6 62.1,39.7 62.4,38.5Z" fill="#fddbc7"/>
<path d="M77,40.6C78.4,38.8 84,36.7 87.5,35.3C91,33.9 93.4,32.5 97.9,32.2C102.4,31.9 108.4,32.5 114.6,33.2C120.9,33.9 130.3,35 135.5,36.4C140.7,37.8 144.2,33.2 145.9,41.6C147.7,49.9 149.1,80.2 145.9,86.5C142.8,92.7 133.1,81.1 127.1,79.2C121.2,77.3 115.7,76.7 110.4,75C105.2,73.3 100,71 95.8,68.7C91.7,66.5 87.7,64 85.4,61.4C83.1,58.8 83.3,55.7 82.3,53.1C81.2,50.5 80,47.9 79.1,45.8C78.3,43.7 75.6,42.3 77,40.6Z" fill="#f4a582"/>
<path d="M87.5,42.6C89,40.7 93.7,38.5 97.9,37.4C102.1,36.4 106.6,36 112.5,36.4C118.4,36.7 127.8,37.9 133.4,39.5C139,41.1 143.8,38.6 145.9,45.8C148,52.9 148.7,77.1 145.9,82.3C143.1,87.5 134.8,78.8 129.2,77.1C123.7,75.3 117.4,73.8 112.5,71.9C107.7,70 103.5,68 100,65.6C96.5,63.2 93.6,60 91.7,57.3C89.7,54.5 89.2,51.3 88.5,48.9C87.8,46.5 85.9,44.6 87.5,42.6Z" fill="#d6604d"/>
<path d="M102.1,41.6C103.5,40.6 108.7,39.2 112.5,39.5C116.4,39.9 121.2,42.1 125.1,43.7C128.9,45.2 132,47.3 135.5,48.9C139,50.5 144.2,49.9 145.9,53.1C147.7,56.2 147.7,66.3 145.9,67.7C144.2,69.1 139,63.5 135.5,61.4C132,59.3 128.9,57.3 125.1,55.2C121.2,53.1 116,50.5 112.5,48.9C109.1,47.3 105.9,47 104.2,45.8C102.4,44.6 100.7,42.6 102.1,41.6Z" fill="#b2182b"/>
<path d="M133.4,52C133.9,51 138.3,52.6 139.7,54.1C141.1,55.7 142.3,60.4 141.8,61.4C141.2,62.5 137.9,61.9 136.5,60.4C135.1,58.8 132.9,53.1 133.4,52Z" fill="#67001f"/>
<path d="M70.4,80.6C70.9,79.5 73.5,76.3 76,75.2C78.5,74.1 82.9,73.5 85.4,74C87.9,74.4 91.4,76.8 91.2,78.1C91.1,79.4 87.4,81 84.3,81.7C81.3,82.3 75.2,82.3 72.9,82.1C70.5,81.9 69.8,81.8 70.4,80.6Z" fill="#d1e5f0"/>
<path d="M71.8,79.8C72.5,79 74.8,77.2 77,76.5C79.3,75.7 83.3,74.9 85.4,75.2C87.5,75.5 89.9,77.2 89.6,78.1C89.2,79.1 86.1,80.3 83.3,80.8C80.5,81.4 74.8,81.6 72.9,81.5C71,81.3 71.1,80.6 71.8,79.8Z" fill="#92c5de"/>
<path d="M192.9,19.7C195.3,17.2 200.2,11.5 203.3,9.2C206.5,7 208.9,5.9 211.7,6.1C214.5,6.3 218,8 220,10.3C222.1,12.5 222.1,17.1 224.2,19.7C226.3,22.3 229.8,25.9 232.6,25.9C235.3,25.9 231.5,20.9 240.9,19.7C250.3,18.5 280.9,15.2 288.9,18.6C296.9,22.1 291,37.6 288.9,40.6C286.8,43.5 281.3,36.7 276.4,36.4C271.5,36 264.6,37.4 259.7,38.5C254.8,39.5 250.3,40.9 247.2,42.6C244,44.4 240.9,46.1 240.9,48.9C240.9,51.7 244,56.6 247.2,59.3C250.3,62.1 254.8,65.3 259.7,65.6C264.6,66 271.5,61.4 276.4,61.4C281.3,61.4 286.8,61.4 288.9,65.6C291,69.8 305.6,83 288.9,86.5C272.2,90 204.7,89.3 188.7,86.5C172.7,83.7 193.3,73.6 192.9,69.8C192.6,66 189.1,65.3 186.6,63.5C184.2,61.8 180.4,61.4 178.3,59.3C176.2,57.3 174.1,54.1 174.1,51C174.1,47.9 176.5,43.7 178.3,40.6C180,37.4 182.8,35 184.6,32.2C186.3,29.4 187.3,25.9 188.7,23.9C190.1,21.8 190.5,22.1 192.9,19.7Z" fill="#f4a582"/>
<path d="M191.9,25.9C194.3,22.5 196.2,20 199.2,17.6C202.1,15.2 206.5,11.3 209.6,11.3C212.7,11.3 215.7,15.2 218,17.6C220.2,20 220.7,23.2 223.2,25.9C225.6,28.7 229.6,31.9 232.6,34.3C235.5,36.7 240.2,37.8 240.9,40.6C241.6,43.3 236.7,47.2 236.7,51C236.7,54.8 238.5,60.4 240.9,63.5C243.4,66.6 247.5,69.1 251.4,69.8C255.2,70.5 260.4,67.3 263.9,67.7C267.4,68 271.5,68.7 272.2,71.9C272.9,75 280.9,84 268.1,86.5C255.2,88.9 206.8,89.3 195,86.5C183.2,83.7 197.8,73.6 197.1,69.8C196.4,66 193.3,65.6 190.8,63.5C188.4,61.4 184.2,59.7 182.5,57.3C180.7,54.8 180,52 180.4,48.9C180.7,45.8 182.6,42.3 184.6,38.5C186.5,34.6 189.4,29.4 191.9,25.9Z" fill="#d6604d"/>
<path d="M247.2,20.7C248.6,19 256.2,18.8 259.7,19.7C263.2,20.5 267.7,23.9 268.1,25.9C268.4,28 264.6,31.5 261.8,32.2C259,32.9 253.8,32 251.4,30.1C248.9,28.2 245.8,22.5 247.2,20.7Z" fill="#d6604d"/>
<path d="M272.2,21.8C274.3,19.8 286.1,18.6 288.9,20.7C291.7,22.8 291,32.4 288.9,34.3C286.8,36.2 279.2,34.3 276.4,32.2C273.6,30.1 270.1,23.7 272.2,21.8Z" fill="#d6604d"/>
<path d="M199.2,55.2C200.2,52.7 202.3,50.5 205.4,48.9C208.6,47.3 214.1,45.8 218,45.8C221.8,45.8 226,47 228.4,48.9C230.8,50.8 232.6,54.5 232.6,57.3C232.6,60 230.1,63.2 228.4,65.6C226.7,68 224.6,70.5 222.1,71.9C219.7,73.3 216.6,74.3 213.8,74C211,73.6 207.9,71.5 205.4,69.8C203,68 200.2,66 199.2,63.5C198.1,61.1 198.1,57.6 199.2,55.2Z" fill="#b2182b"/>
<path d="M192.9,30.1C194.6,28.7 200.6,26.6 203.3,27C206.1,27.3 210,30.6 209.6,32.2C209.3,33.8 204,35.9 201.3,36.4C198.5,36.9 194.3,36.4 192.9,35.3C191.5,34.3 191.2,31.5 192.9,30.1Z" fill="#b2182b"/>
<path d="M226.3,63.5C227.7,62.5 233.6,65.3 234.7,67.7C235.7,70.1 234,77.1 232.6,78.1C231.2,79.2 227.3,76.4 226.3,74C225.3,71.5 224.9,64.6 226.3,63.5Z" fill="#b2182b"/>
<path d="M264.9,39.5C266.3,38.4 272.8,37.1 276.4,37.4C280.1,37.8 286.5,40.3 286.8,41.6C287.2,42.9 281.6,44.7 278.5,45.1C275.4,45.6 270.3,45.2 268.1,44.3C265.8,43.4 263.5,40.7 264.9,39.5Z" fill="#fff"/>
<path d="M240.9,47.2C242,45 246.8,44.4 251.4,43.7C255.9,42.9 263,42.4 268.1,42.6C273.1,42.9 279.3,43.3 281.6,45.1C284,47 284.5,51.1 282.3,53.5C280,55.9 272.5,58 268.1,59.3C263.6,60.7 259.4,61.8 255.5,61.4C251.6,61.1 247.1,59.6 244.7,57.3C242.2,54.9 239.8,49.5 240.9,47.2Z" fill="#fff"/>
<path d="M243,49.9C244,48.3 248.2,46.6 252.4,45.8C256.6,44.9 263.5,44.6 268.1,44.7C272.6,44.9 277.6,45.5 279.5,46.8C281.5,48.1 281.5,50.9 279.5,52.7C277.6,54.4 272.1,56.1 268.1,57.3C264.1,58.4 259.2,59.6 255.5,59.3C251.9,59.1 248.2,57.1 246.1,55.6C244,54 242,51.6 243,49.9Z" fill="#d1e5f0"/>
<path d="M246.1,50.4C246.1,48.7 251.9,47.5 255.5,46.8C259.2,46.1 264.6,45.8 268.1,46.2C271.5,46.5 276.4,47.5 276.4,48.9C276.4,50.3 271.5,53.4 268.1,54.7C264.6,56.1 259.2,57.6 255.5,56.8C251.9,56.1 246.1,52 246.1,50.4Z" fill="#92c5de"/>
<path d="M251.4,49.9C252.1,48.9 256.9,48 259.7,47.9C262.5,47.7 267.4,48 268.1,48.9C268.8,49.8 266,52.6 263.9,53.5C261.8,54.4 257.6,54.7 255.5,54.1C253.4,53.5 250.7,51 251.4,49.9Z" fill="#4393c3"/>
<path d="M163.7,86.5C155.3,83.3 165.6,71.9 167.9,67.7C170.1,63.4 174.5,61.4 177.2,61C180,60.6 181.9,63.7 184.6,65.2C187.2,66.6 189.1,68.3 192.9,69.8C196.7,71.2 203.3,71.2 207.5,74C211.7,76.7 225.3,84.4 218,86.5C210.6,88.6 172,89.6 163.7,86.5Z" fill="#fff"/>
<path d="M165.8,86.5C158.5,83.3 168,71.5 169.9,67.7C171.9,63.9 175.2,63.5 177.2,63.5C179.3,63.5 180.2,66.3 182.5,67.7C184.7,69.1 187,70.5 190.8,71.9C194.6,73.3 201.6,73.6 205.4,76C209.3,78.5 220.4,84.7 213.8,86.5C207.2,88.2 173.1,89.6 165.8,86.5Z" fill="#d1e5f0"/>
<path d="M166.8,86.5C162.5,83.7 169.2,72.9 171,69.8C172.7,66.6 175.5,67.2 177.2,67.7C179,68.2 179.5,71.3 181.4,72.9C183.3,74.5 186.1,74.8 188.7,77.1C191.3,79.3 200.7,84.9 197.1,86.5C193.4,88 171.2,89.3 166.8,86.5Z" fill="#92c5de"/>
<path d="M167.9,86.5C166.1,84.2 170.5,75.3 172,72.9C173.6,70.5 176,71 177.2,71.9C178.5,72.7 178.5,75.7 179.3,78.1C180.2,80.6 184.4,85.1 182.5,86.5C180.6,87.9 169.6,88.7 167.9,86.5Z" fill="#4393c3"/>
<path d="M165.3,-2.2 171.6,-2.2 185.2,23.4 180.4,25.1Z" fill="#f4a582"/>
<path d="M17.2,28.9 19.7,26.3 20.6,25.6 23.1,25.1 24.8,23.8 25.4,25.7 27.1,24.1 29.3,25.5 32.6,26.3 34.6,26.8 38,26.2 39.4,27.8 40.7,29.1 42.8,31.2 44.8,32.5 47.5,32.7 50.9,33.9 52.2,34.8 54.3,38.2 54.3,40.6 57,41.6 61.8,44 65.8,44.6 67.9,44.4 69.9,45.7 71.9,47.2 74.2,47.7 74.9,50.3 74.6,52.2 72.6,54.9 71.2,56.2 69.9,58.3 69.2,61 69.2,64.4 68.3,67.1 67.2,69.1 66.5,70.5 65.1,71.7 63.1,71.8 61.1,72.6 59,73.4 57,74.9 56.2,76.6 56.2,78.6 55,79.9 54,82 25.1,82 25.4,78.6 26.1,75.9 26.6,72.5 27,69.1 26.7,65.6 25.2,64.2 22.4,62.7 20.1,61.4 18.6,59.5 17.4,56.9 16,54.2 14.9,51.6 13.7,50 11.9,48.8 11.8,46.7 13.2,45.3 13.6,44 12.3,43.6 12.3,42 13.4,40.6 13.6,39.6 15.1,38.6 15.6,37.3 17,37.1 17.2,35.2 17,33.2 17.1,31.2 16.4,30.8 15.7,29.8 14.2,29 12.9,30.4 11.5,30.1 9.5,29.1 7.5,27.4 6,25.7 3.7,23.2 2,22.6 -1.4,22.2 -1.4,18.7 2,19.1 4.8,19.5 7.5,20.1 8.7,21.7 8.4,24.4 8.7,26 10,27.6 11.5,28.5 13.6,28.2 14.9,28 16.3,28.5Z M9.2,-0.7 9.8,2 11.1,4.3 12.8,4.6 13.2,2 12.2,-0.7Z M109,-0.7 108.6,1.4 106.5,2.7 104.5,3.1 102.5,5.4 100.4,8.1 99.1,11.5 100,14.2 99.8,18.3 98.4,20.7 99.3,23 99.5,24.4 101.8,25.7 103.4,27.4 104.2,29.1 106.5,31.3 109.2,33.5 112,34.7 115.4,33.7 118.1,33.7 119.4,34.1 122.1,33.1 123.8,32.4 125.5,32.1 128.2,32.2 129.6,33.9 131,34.8 133,34.6 134.4,35.2 135.3,36.6 135.2,39.3 134.8,40.6 134.1,41.6 135,43.4 137.1,46.1 138.4,47.4 138.8,48.9 139.8,51.5 140.3,52.8 140.9,55.6 139.1,58.9 138.4,61.7 138.2,64.4 139.1,66.4 140.5,69.1 141.8,71.8 142.5,75.9 143.2,77.9 144.5,79.5 145.2,82 164.2,82 164.2,81.2 165.6,79.7 166.7,77.2 166.4,75.7 168.3,74.4 170.3,73 170.1,70.5 169.6,68.4 169.4,67.5 171.7,65.7 173.7,64 176.4,62.6 177.5,60.3 177.1,57.6 177.1,54.9 176.2,52.8 175.5,50.1 175.1,48.8 175.3,47 176,46.1 177.1,44 178.5,43.1 179.8,41.3 181.9,39.3 183.9,37.8 186.6,35.2 188,33.2 189.3,30.5 190.7,27.8 191.6,26.4 191.8,24.7 190,25.1 187.3,25.5 184.6,26.2 182.5,26.6 180.9,25.1 180.8,23.7 179.8,22.4 177.8,20.7 176.2,19.6 175.1,17.6 173.7,15.9 172.8,14.2 172.6,12.2 171.7,10.2 170.3,8.1 169,5.4 168,3.4 166.4,0.3 166.2,-0.7Z M169.6,-0.7 169.5,0.7 169.6,2.7 171.7,5.4 173,7.7 174.8,10.2 175.3,12.2 177.1,14.2 178.5,16.3 179.8,18.3 180.5,21 181.2,23.4 183.2,23.3 185.9,22.4 188,21.7 190.7,20.3 193,19 194.8,18 196.8,17.3 198.8,15.6 200.4,14.2 200.9,12.9 202.2,11.5 203.3,10.2 201.7,8.7 199.5,8.1 198.7,6.8 198.6,5 198.1,5.8 196.1,7.7 193.4,7.9 192.2,7.7 192.2,6.1 191.6,5.3 191.1,6.8 190.3,5.8 190.1,4.5 188.6,3.4 188,2 187.3,0.7 188,-0.7Z M190,-0.7 191.1,1.4 192,2.8 194.1,4.3 196.1,4.6 198.1,3.9 199.5,4.3 200.2,5.8 202.2,6.2 205.6,6.5 208.3,6.4 210.4,6.4 212.4,6.2 213.1,7 213.8,8.4 215.1,8.9 215.8,10.3 217.1,12.5 219.9,12.2 220.5,11.2 220.9,12.9 220.9,14.9 221.6,17.6 222.3,19.6 223.2,22.4 224.3,24.8 225.6,27.1 226.4,28.9 227.3,29.7 228.3,28.7 229.4,28 230.4,26.7 230.6,24.4 231.1,22.9 230.8,20.3 231.8,19.2 233.8,18 235.5,16.5 237.5,14.5 239.5,13.3 240.2,12.2 241.6,11.2 242.9,11 245,10.4 246.3,10.2 247,12.2 248.1,13.6 249.4,14.9 250.1,16.3 250.3,18.3 250.1,19.1 251.8,19.2 253.5,18.2 254.5,18.3 254.9,20.3 255.4,22.4 256,24.4 256,26.4 255.6,28.5 255.6,29.8 256.5,30.5 257.9,31.8 258.4,33.9 258.9,35.2 259.6,36.9 261.2,37.9 262.6,38.8 263.6,38.8 263.3,37.3 262.5,35.9 262.5,34.6 261.7,33.1 260.8,32.2 259.9,31.3 258.5,30.8 257.9,29.1 257.2,28 256.9,26.4 257.6,24.7 257.9,23 258.5,22.4 259.2,23.4 261,24.1 261.9,25.7 263.3,26.4 264.4,26.6 264.6,28.9 266.7,27.5 267.6,26.4 270.1,25.1 270.5,23 270.1,20.3 269.1,19 267.4,17.6 266,15.6 265.7,14.2 266.9,12.9 268.7,11.5 270.8,11.5 271.4,13 272.1,11.9 274.1,11.1 276.9,10.3 279.6,9.6 281.6,8.4 283,7.2 284.3,5.8 285.7,4.7 285.7,-0.7Z M251.5,33.1 254.5,33.6 255.6,35 257.6,36.6 258.9,37.7 260.6,39.3 262.6,40.6 263,42 264,43.1 265.3,44 266,45 265.9,46.7 265.7,48.5 264.1,48.5 263.3,47.3 261,45.9 259.2,43.9 258.3,42 256.8,40.2 256.1,38.3 254.7,37.3 253.1,35.8 251.8,34.3Z M264.9,49.9 266,48.6 267.4,48.6 269.4,49.6 272.1,49.9 272.8,49.3 274.8,50 277.5,51.1 277.5,52.4 274.8,52 271.4,51.5 268.7,51.2 266.7,50.7Z M270.1,38.6 270.8,37.9 272.8,38.5 273.3,37.3 275.5,36.3 276.9,34.6 278.9,33.2 280.2,31.4 281.3,31.4 281.9,32.5 283.6,33.6 282.6,34.8 282,36.6 282.3,37.9 283.6,39.3 282,39.6 281.6,41.3 280.2,42.7 280.2,44.7 279.6,46.1 277.7,46.1 276.9,45.3 275.5,45 273.9,45.4 271.7,44.6 271.4,42.7 270.3,41.3 270.1,40Z M284.1,48.1 285.7,48.1 285.7,39.3 284.7,40 284.3,42 283.4,44.4 284.1,45.4Z M285.7,67.6 283.6,67.8 281.6,68.7 279.6,69 278.2,69.8 277,70.2 276.4,71.3 276.2,73.2 276,74.5 276.9,76.6 277.1,77.9 277.7,79.7 278.2,82 285.7,82Z M189.1,56.9 190,58.9 190.7,61.7 189.6,63 189.3,65 188.6,67.1 188,69.8 187,72.5 185.9,74.5 183.9,75.3 181.9,74.5 181.2,72.5 180.9,70.5 181.9,68.4 182.5,66.4 181.9,64.4 182.5,62.6 184.6,62.1 186.6,60.7 187.3,58.9 188.4,57.6Z" fill="#a9a9a9"/>
<path d="M0,16.5l0.3,1m-0.2,0.1l0.4,0.7l0,-0.8zM0,21.7l1.5,-0.5m0.1,0.3l0.8,-0.6l-1,0zM0,27l0.3,-2.4m0.4,0l-0.3,-1.5l-0.6,1.4zM0,32.3l-0.4,-1.1m0.2,-0.1l-0.5,-0.7l0,0.8zM0,58.6l-0.7,0.3m-0.1,-0.2l-0.7,0.5l0.8,-0.1zM0,63.8l-3.4,-1.3m0.2,-0.5l-1.9,-0.1l1.5,1.1zM0,69.1l2.7,-1.1m0.2,0.5l1.5,-1.2l-1.9,0.2zM0,74.4l0.6,-0.6m0.2,0.2l0.4,-0.7l-0.8,0.3zM0,79.6l-0.1,-0.9m0.2,0l-0.3,-0.8l-0.2,0.8zM12.2,16.5l-0.7,0.3m-0.1,-0.2l-0.6,0.6l0.8,-0.1zM12.2,21.7l3,-0.9m0.2,0.5l1.6,-1l-1.9,0zM12.2,27l0.7,0.5m-0.1,0.2l0.8,0.3l-0.5,-0.7zM12.2,32.3l-0.3,-1.2m0.2,-0.1l-0.4,-0.7l0,0.8zM12.2,37.5l1.4,0.5m-0.1,0.3l1,0l-0.8,-0.6zM12.2,42.8l0.7,-0.4m0.1,0.2l0.6,-0.6l-0.8,0.2zM12.2,48.1l2.5,0.7m-0.1,0.5l1.7,0l-1.4,-0.9zM12.2,53.3l-0.2,0.7m-0.2,-0.1l0,0.8l0.5,-0.7zM12.2,58.6l-4.1,-0.1m0,-0.5l-1.8,0.5l1.8,0.6zM12.2,63.8l0.9,-1.3m0.2,0.2l0.3,-0.9l-0.8,0.6zM12.2,69.1l0.7,-0.8m0.2,0.2l0.3,-0.8l-0.7,0.4zM12.2,74.4l0.4,-0.6m0.2,0.2l0.3,-0.8l-0.7,0.5zM12.2,79.6l0.1,-0.9m0.2,0l-0.2,-0.8l-0.3,0.8zM24.4,0.7l2.7,0.5m-0.1,0.5l1.8,-0.2l-1.6,-0.8zM24.4,37.5l2,-1.5m0.3,0.4l1,-1.3l-1.5,0.5zM24.4,63.8l1.3,-0.2m0,0.2l0.7,-0.4l-0.8,-0.1zM24.4,69.1l1.9,0.6m-0.1,0.3l1.3,0l-1,-0.7zM24.4,74.4l1.4,1.2m-0.2,0.3l1.1,0.5l-0.6,-1zM24.4,79.6l0.1,-1.7m0.3,0l-0.3,-1l-0.3,1zM36.6,32.3l-0.4,0.8m-0.2,-0.1l-0.2,0.8l0.6,-0.6zM36.6,37.5l3.1,2.3m-0.3,0.4l1.8,0.6l-1.1,-1.5zM36.6,63.8l0.1,1.2m-0.2,0l0.3,0.8l0.2,-0.8zM36.6,69.1l0,0.7m-0.2,0l0.2,0.8l0.2,-0.8zM36.6,74.4l1.4,0.3m-0.1,0.2l0.9,-0.1l-0.8,-0.4zM36.6,79.6l0.3,0.8m-0.2,0.1l0.5,0.7l0,-0.8zM48.9,21.7l-3.4,0.7m-0.1,-0.5l-1.7,0.9l1.9,0.2zM48.9,27l-0.7,0.3m-0.1,-0.2l-0.6,0.5l0.8,-0.1zM48.9,32.3l-1.3,0.6m-0.1,-0.2l-0.7,0.6l0.9,-0.1zM48.9,37.5l-2,2.9m-0.4,-0.3l-0.6,1.8l1.5,-1.2zM48.9,63.8l-0.4,1.4m-0.3,-0.1l0,0.9l0.5,-0.8zM48.9,69.1l-2.7,0.3m-0.1,-0.5l-1.6,0.7l1.7,0.3zM48.9,74.4l-2.9,0m0,-0.5l-1.8,0.5l1.8,0.5zM48.9,79.6l-0.7,0.1m0,-0.2l-0.7,0.4l0.8,0.1zM61.1,21.7l0,-0.9m0.2,0l-0.3,-0.8l-0.2,0.8zM61.1,27l-2,-0.4m0.1,-0.4l-1.3,0.1l1.1,0.6zM61.1,32.3l-1.6,0.6m-0.1,-0.3l-0.9,0.7l1.1,-0.1zM61.1,37.5l1.3,-4m0.5,0.2l0.1,-1.9l-1.1,1.5zM61.1,42.8l-0.9,-2m0.4,-0.2l-0.9,-1.1l0.2,1.4zM61.1,69.1l0.1,-1.2m0.2,0l-0.2,-0.8l-0.3,0.8zM61.1,74.4l-1.4,-1.1m0.2,-0.3l-1,-0.4l0.6,0.9zM61.1,79.6l-3.2,-2.3m0.3,-0.4l-1.8,-0.6l1.1,1.5zM73.3,21.7l2.4,-0.9m0.2,0.4l1.3,-1l-1.6,0.1zM73.3,27l0.9,-2.1m0.4,0.2l0.1,-1.4l-0.9,1.1zM73.3,32.3l0.9,-1.1m0.2,0.2l0.3,-0.8l-0.7,0.5zM73.3,37.5l0.5,-1.5m0.3,0.1l0,-1l-0.6,0.8zM73.3,42.8l0.4,-2.9m0.5,0.1l-0.3,-1.8l-0.7,1.7zM73.3,48.1l0.9,0.9m-0.2,0.2l0.7,0.4l-0.4,-0.7zM73.3,53.3l-0.9,2m-0.4,-0.2l-0.2,1.4l0.9,-1zM73.3,58.6l-3,-0.8m0.1,-0.5l-1.9,0.1l1.6,1zM73.3,63.8l-3.7,-1.4m0.2,-0.5l-1.9,-0.1l1.5,1.1zM73.3,69.1l-0.1,-1.9m0.4,0l-0.4,-1.1l-0.3,1.2zM73.3,74.4l0.7,-0.5m0.1,0.2l0.5,-0.7l-0.8,0.3zM73.3,79.6l-0.7,-0.3m0.1,-0.2l-0.8,-0.1l0.6,0.5zM85.5,21.7l0.2,0.7m-0.2,0.1l0.5,0.7l0,-0.8zM85.5,27l1.8,-2.2m0.4,0.3l0.7,-1.7l-1.5,1zM85.5,32.3l0.5,-2.8m0.5,0.1l-0.2,-1.8l-0.8,1.6zM85.5,37.5l0,-0.7m0.2,0l-0.3,-0.8l-0.2,0.8zM85.5,69.1l1.2,-1.3m0.2,0.2l0.5,-1l-1,0.6zM85.5,74.4l1,-3m0.5,0.2l0.1,-1.9l-1.1,1.5zM85.5,79.6l-0.7,-1.5m0.3,-0.1l-0.7,-0.8l0.1,1zM97.7,0.7l0.2,-1.7m0.3,0l-0.2,-1.1l-0.4,1zM97.7,5.9l0,-1.9m0.4,0l-0.4,-1.2l-0.3,1.2zM97.7,11.2l-0.6,1.4m-0.3,-0.1l-0.1,1l0.6,-0.8zM97.7,16.5l0.2,2.4m-0.4,0l0.6,1.4l0.3,-1.5zM97.7,21.7l1,-0.7m0.1,0.2l0.5,-0.7l-0.8,0.3zM97.7,27l-0.6,-2.4m0.4,-0.1l-0.8,-1.4l-0.1,1.6zM97.7,32.3l-0.5,-0.5m0.2,-0.2l-0.7,-0.4l0.3,0.8zM97.7,37.5l-0.3,-1m0.2,-0.1l-0.4,-0.7l0,0.8zM109.9,0.7l0,-1.1m0.2,0l-0.3,-0.8l-0.2,0.8zM109.9,5.9l-0.8,-1m0.2,-0.1l-0.7,-0.5l0.3,0.8zM109.9,11.2l0.1,0.7m-0.2,0l0.3,0.8l0.1,-0.8zM109.9,16.5l1.3,2.5m-0.5,0.2l1.3,1.3l-0.3,-1.8zM109.9,21.7l2.3,-3.6m0.5,0.3l0.5,-1.8l-1.4,1.2zM109.9,27l-0.1,-1.5m0.3,0l-0.3,-0.9l-0.2,1zM109.9,32.3l0.7,-2.1m0.4,0.1l0.1,-1.4l-0.8,1.1zM109.9,37.5l0.9,-3.7m0.5,0.1l-0.1,-1.9l-1,1.6zM122.1,0.7l-1,0.7m-0.1,-0.2l-0.5,0.7l0.8,-0.3zM122.1,5.9l0,1.4m-0.3,0l0.3,0.9l0.2,-0.9zM122.1,11.2l2.1,-1.1m0.2,0.4l1.1,-1l-1.5,0.3zM122.1,16.5l4.1,0.1m0,0.5l1.8,-0.5l-1.8,-0.6zM122.1,21.7l-1,-1.1m0.2,-0.2l-0.9,-0.5l0.4,0.9zM122.1,27l-2.8,1.6m-0.3,-0.5l-1.3,1.4l1.8,-0.4zM122.1,32.3l-0.8,-0.7m0.2,-0.2l-0.8,-0.4l0.4,0.7zM122.1,37.5l-1.1,-0.9m0.2,-0.2l-0.8,-0.4l0.5,0.8zM134.4,27l-0.4,1.4m-0.3,-0.1l0,0.9l0.5,-0.8zM134.4,32.3l0.6,2.8m-0.5,0.1l0.9,1.6l0.1,-1.8zM134.4,37.5l-3.1,1.3m-0.2,-0.5l-1.4,1.2l1.9,-0.2zM146.6,0.7l2.6,1.7m-0.3,0.5l1.8,0.5l-1.2,-1.4zM146.6,5.9l1.9,-3.1m0.5,0.3l0.5,-1.8l-1.4,1.2zM146.6,11.2l-2.9,-0.9m0.2,-0.5l-1.9,0l1.6,1zM146.6,16.5l-0.7,2.1m-0.4,-0.1l0,1.4l0.8,-1.2zM146.6,21.7l-0.9,1.8m-0.3,-0.2l-0.2,1.3l0.9,-0.9zM146.6,27l-0.3,3.1m-0.5,0l0.4,1.8l0.7,-1.7zM146.6,32.3l3.5,1.7m-0.2,0.5l1.9,0.3l-1.4,-1.3zM146.6,37.5l0.9,1.3m-0.2,0.2l0.8,0.6l-0.3,-0.9zM146.6,42.8l0.9,1.2m-0.2,0.2l0.8,0.6l-0.4,-0.9zM146.6,48.1l0,0.7m-0.2,0l0.3,0.8l0.2,-0.8zM146.6,53.3l-0.5,-0.6m0.2,-0.2l-0.7,-0.5l0.3,0.8zM146.6,58.6l2.1,-2.7m0.4,0.3l0.7,-1.8l-1.5,1.1zM146.6,63.8l3.7,1.1m-0.2,0.5l1.9,0l-1.6,-1zM146.6,69.1l1.5,3.9m-0.5,0.2l1.1,1.5l-0.1,-1.9zM146.6,74.4l1.5,1.4m-0.3,0.3l1.2,0.6l-0.7,-1.1zM146.6,79.6l2.2,-3.1m0.4,0.3l0.6,-1.8l-1.5,1.2zM158.8,0.7l-0.8,-1.4m0.3,-0.2l-0.8,-0.7l0.3,1zM158.8,5.9l-0.7,-0.4m0.1,-0.2l-0.8,-0.2l0.5,0.6zM158.8,32.3l0.4,-1.3m0.2,0.1l0,-0.9l-0.5,0.7zM158.8,37.5l3.4,1.2m-0.2,0.5l1.9,0.1l-1.5,-1.1zM158.8,42.8l1.1,1m-0.2,0.2l0.9,0.4l-0.5,-0.8zM158.8,48.1l3.5,0.9m-0.1,0.5l1.9,-0.1l-1.6,-1zM158.8,53.3l-2.1,0.2m0,-0.4l-1.3,0.5l1.4,0.2zM158.8,58.6l-0.8,-1.7m0.3,-0.2l-0.8,-0.9l0.2,1.2zM158.8,63.8l1.4,-3.5m0.5,0.2l0.2,-1.9l-1.2,1.5zM158.8,69.1l0.7,-0.6m0.2,0.2l0.4,-0.7l-0.8,0.3zM158.8,74.4l2.4,0m0,0.4l1.5,-0.4l-1.5,-0.5zM158.8,79.6l-0.6,-1.1m0.2,-0.1l-0.6,-0.6l0.2,0.8zM171,0.7l1.9,-1.6m0.3,0.3l0.9,-1.3l-1.5,0.7zM171,5.9l-1.3,-0.8m0.1,-0.2l-0.9,-0.3l0.7,0.7zM171,32.3l0.1,-2.1m0.4,0l-0.3,-1.3l-0.5,1.2zM171,37.5l0.2,-4.3m0.5,0l-0.4,-1.8l-0.6,1.8zM171,42.8l2.3,-1.3m0.2,0.4l1.2,-1.2l-1.7,0.4zM171,79.6l-1.6,-2.8m0.5,-0.3l-1.4,-1.3l0.4,1.8zM183.2,0.7l2.6,-3.3m0.4,0.3l0.7,-1.7l-1.5,1.1zM183.2,5.9l0.7,-1.3m0.2,0.1l0.2,-0.9l-0.7,0.6zM183.2,11.2l-1.3,0.6m-0.1,-0.2l-0.7,0.6l0.9,-0.1zM183.2,16.5l-0.4,3.8m-0.5,-0.1l0.4,1.8l0.7,-1.7zM183.2,21.7l3.8,1.9m-0.2,0.5l1.8,0.3l-1.4,-1.3zM183.2,79.6l-0.1,-2.2m0.4,0l-0.4,-1.3l-0.4,1.4zM195.4,0.7l1.4,0.4m-0.1,0.3l0.9,0l-0.8,-0.5zM195.4,5.9l1.7,-0.6m0.1,0.3l0.9,-0.7l-1.1,0.1zM195.4,11.2l-1.8,-2.6m0.4,-0.3l-1.5,-1.2l0.6,1.8zM195.4,16.5l-2.4,0.8m-0.2,-0.4l-1.3,1l1.6,-0.1zM195.4,21.7l0.2,2.5m-0.5,0l0.6,1.5l0.3,-1.6zM195.4,79.6l3.5,-2.2m0.3,0.5l1.2,-1.4l-1.8,0.5zM207.6,0.7l0.7,0m0,0.2l0.8,-0.2l-0.8,-0.3zM207.6,5.9l2.3,1.7m-0.3,0.4l1.7,0.6l-1.1,-1.4zM207.6,11.2l0.7,-0.9m0.2,0.1l0.3,-0.8l-0.7,0.5zM207.6,16.5l-1.5,-0.8m0.1,-0.3l-1.1,-0.2l0.8,0.8zM207.6,21.7l-1.9,1.8m-0.3,-0.3l-0.8,1.4l1.5,-0.7zM219.9,0.7l0.1,1m-0.2,0l0.3,0.8l0.2,-0.8zM219.9,5.9l1.9,1.1m-0.2,0.4l1.4,0.3l-1,-1zM219.9,11.2l1.3,3.8m-0.5,0.2l1.1,1.5l-0.1,-1.9zM219.9,16.5l-0.4,-0.8m0.2,-0.1l-0.6,-0.6l0.2,0.8zM219.9,21.7l-0.7,-0.1m0,-0.2l-0.8,0.2l0.8,0.3zM232.1,0.7l-1.6,1.2m-0.2,-0.3l-0.8,1l1.2,-0.4zM232.1,5.9l-2,3m-0.4,-0.3l-0.6,1.8l1.4,-1.2zM232.1,11.2l0.1,4.1m-0.5,0l0.6,1.8l0.5,-1.8zM232.1,16.5l0.6,-0.7m0.2,0.2l0.3,-0.8l-0.7,0.4zM232.1,21.7l0.5,-0.7m0.2,0.1l0.2,-0.8l-0.6,0.5zM244.3,0.7l-2.2,-3.1m0.4,-0.3l-1.5,-1.2l0.6,1.8zM244.3,5.9l-2.7,-0.9m0.2,-0.5l-1.8,0l1.5,1zM244.3,11.2l-1.3,0.3m0,-0.2l-0.7,0.4l0.8,0.1zM244.3,16.5l0.2,1.3m-0.2,0l0.4,0.8l0.1,-0.9zM244.3,21.7l0.7,-0.7m0.2,0.2l0.4,-0.7l-0.7,0.4zM256.5,0.7l2.3,-2.2m0.4,0.4l0.9,-1.6l-1.7,0.8zM256.5,5.9l0.1,-1m0.2,0l-0.1,-0.8l-0.3,0.8zM256.5,11.2l-0.9,1.8m-0.3,-0.2l-0.2,1.3l0.9,-1zM256.5,16.5l0.5,0.6m-0.2,0.2l0.7,0.5l-0.3,-0.8zM256.5,21.7l1.8,-0.3m0,0.3l1.1,-0.5l-1.2,-0.2zM268.7,0.7l-0.8,-4m0.5,-0.1l-0.9,-1.7l-0.2,1.9zM268.7,5.9l-1.5,-1m0.2,-0.3l-1.1,-0.3l0.7,0.9zM268.7,11.2l-1.7,-0.7m0.1,-0.3l-1.2,-0.1l0.9,0.8zM268.7,16.5l-0.1,3.1m-0.5,0l0.5,1.8l0.6,-1.8zM268.7,21.7l2.7,0.7m-0.1,0.5l1.8,0l-1.5,-0.9zM280.9,0.7l-0.1,-0.8m0.2,0l-0.4,-0.8l-0.1,0.8zM280.9,5.9l-2.2,0.5m-0.1,-0.4l-1.3,0.7l1.4,0.1zM280.9,11.2l2.5,2.5m-0.4,0.4l1.6,0.9l-0.9,-1.7zM280.9,16.5l0.6,1.5m-0.3,0.1l0.6,0.8l-0.1,-1zM280.9,21.7l1.3,0.3m-0.1,0.2l0.9,0l-0.7,-0.4zM280.9,58.6l-0.1,0.7m-0.2,0l0.2,0.8l0.3,-0.8zM280.9,63.8l-3.2,-0.9m0.1,-0.5l-1.9,0l1.6,1zM280.9,69.1l-1.3,-0.8m0.1,-0.2l-1,-0.2l0.7,0.7zM280.9,74.4l-2,-0.4m0.1,-0.4l-1.3,0.1l1.1,0.6zM280.9,79.6l-2.5,-1.1m0.2,-0.5l-1.7,-0.2l1.3,1.1z" stroke="#606060" stroke-width="0.8" fill="#606060"/>
<path d="M0,0.7l8.1,-1.8m0.2,1l3.7,-1.9l-4.2,-0.1zM0,5.9l6.7,-1.1m0.1,0.9l3.2,-1.4l-3.5,-0.3zM0,11.2l6.9,-0.8m0.1,0.9l3.3,-1.3l-3.5,-0.5zM0,37.5l-4.1,-1.1m0.2,-0.6l-2.1,0.1l1.8,1.1zM0,42.8l-2.9,-1.5m0.3,-0.5l-1.7,-0.2l1.1,1.3zM0,48.1l-3,-0.9m0.2,-0.6l-1.7,0.1l1.4,1zM0,53.3l-3.6,-2m0.3,-0.5l-2.1,-0.5l1.5,1.5zM12.2,0.7l5,-1.2m0.1,0.6l2.3,-1.2l-2.6,-0.1zM12.2,5.9l6.3,-0.4m0.1,0.8l3.1,-1l-3.2,-0.6zM12.2,11.2l5.1,-1m0.1,0.7l2.4,-1.1l-2.6,-0.2zM24.4,5.9l-0.6,-6.5m0.8,-0.1l-1.1,-3.1l-0.5,3.3zM24.4,11.2l-1.2,-9.4m1.2,-0.2l-1.8,-4.5l-0.6,4.8zM24.4,16.5l1.3,-6.8m0.9,0.2l-0.2,-3.5l-1.5,3.2zM24.4,21.7l-2.4,-7.1m0.9,-0.3l-2.1,-3.2l0.3,3.8zM24.4,27l-1.7,-6.3m0.8,-0.2l-1.7,-2.9l0,3.3zM24.4,32.3l-0.2,-7.3m0.9,0l-1,-3.5l-0.8,3.6zM24.4,42.8l2.3,2.2m-0.4,0.4l1.6,0.7l-0.8,-1.5zM24.4,48.1l7,-2.2m0.3,0.9l3.1,-2l-3.7,0.2zM24.4,53.3l6,-3.7m0.5,0.8l2.5,-2.6l-3.4,1zM24.4,58.6l4.7,1m-0.1,0.6l2.5,-0.1l-2.2,-1.1zM36.6,0.7l2.5,-5.4m0.7,0.3l0.5,-3l-1.9,2.3zM36.6,5.9l2.5,-4.6m0.6,0.3l0.7,-2.6l-1.8,1.9zM36.6,11.2l2.3,-5.2m0.7,0.3l0.5,-2.8l-1.8,2.2zM36.6,16.5l0.5,-7.9m1,0.1l-0.7,-3.9l-1.3,3.8zM36.6,21.7l4.3,-6.7m0.9,0.6l1.3,-3.9l-3,2.8zM36.6,27l1.3,-5.5m0.7,0.2l-0.1,-2.9l-1.3,2.6zM36.6,42.8l4.9,2m-0.3,0.6l2.7,0.4l-2.1,-1.6zM36.6,48.1l6.4,2.1m-0.3,0.8l3.4,0.2l-2.9,-1.9zM36.6,53.3l5.3,3.5m-0.4,0.7l3.1,1l-2.2,-2.4zM36.6,58.6l2.8,-1m0.2,0.6l1.3,-1.1l-1.7,0zM48.9,0.7l2.6,-4.1m0.5,0.3l0.7,-2.4l-1.8,1.7zM48.9,5.9l2.8,-3.3m0.5,0.4l0.9,-2l-1.8,1.3zM48.9,11.2l5,-4.2m0.5,0.6l1.9,-2.7l-3,1.4zM48.9,16.5l4.9,-2.5m0.3,0.6l2.1,-1.8l-2.7,0.6zM48.9,42.8l6.3,0.6m-0.1,0.8l3.2,-0.5l-3,-1.1zM48.9,48.1l3,0.1m0,0.6l1.6,-0.6l-1.6,-0.6zM48.9,53.3l3.6,-1m0.2,0.6l1.6,-1.1l-1.9,-0.1zM48.9,58.6l1.2,-0.5m0.2,0.6l1.3,-1.2l-1.7,0zM61.1,0.7l2.8,-5.9m0.8,0.4l0.6,-3.3l-2.1,2.5zM61.1,5.9l4.8,-2.3m0.3,0.6l2.1,-1.8l-2.7,0.5zM61.1,11.2l4.4,-3.2m0.4,0.6l1.7,-2.2l-2.6,1zM61.1,16.5l2.4,-4.5m0.6,0.3l0.6,-2.5l-1.8,1.9zM61.1,48.1l0.5,-2.7m0.6,0.1l-0.3,-1.7l-0.9,1.5zM61.1,53.3l0.8,-3.3m0.6,0.1l-0.2,-1.8l-1,1.5zM61.1,58.6l1.7,-3.4m0.5,0.3l0.3,-2l-1.4,1.4zM61.1,63.8l0.9,-5m0.6,0.1l-0.2,-2.6l-1.1,2.4zM73.3,0.7l4.6,-3.2m0.4,0.6l1.9,-2.2l-2.7,1zM73.3,5.9l4.2,-2.3m0.3,0.5l1.8,-1.6l-2.3,0.6zM73.3,11.2l2.9,-3.5m0.5,0.4l1,-2.1l-1.9,1.3zM73.3,16.5l4.2,-3.5m0.4,0.5l1.6,-2.3l-2.5,1.2zM85.5,0.7l2.9,-4.8m0.6,0.4l0.8,-2.7l-2,2zM85.5,5.9l5.4,-4.6m0.6,0.7l2.1,-2.9l-3.2,1.5zM85.5,11.2l5.3,-3.7m0.5,0.7l2.1,-2.5l-3.1,1.1zM85.5,16.5l5.6,-3.5m0.5,0.7l2.3,-2.5l-3.2,1zM85.5,42.8l7.1,2.1m-0.3,0.9l3.8,0.1l-3.2,-1.9zM85.5,48.1l5.3,3m-0.4,0.7l3,0.8l-2.2,-2.2zM85.5,53.3l7.2,1.9m-0.2,0.9l3.8,0l-3.3,-1.9zM85.5,58.6l7.9,2.3m-0.3,1l4.2,0.1l-3.6,-2.1zM85.5,63.8l5.3,2.2m-0.3,0.7l2.9,0.4l-2.3,-1.8zM97.7,42.8l7.3,2.7m-0.4,0.9l3.9,0.4l-3.2,-2.3zM97.7,48.1l4.9,2.6m-0.3,0.6l2.8,0.7l-2.1,-1.9zM97.7,53.3l5.9,6.2m-0.8,0.8l3.7,2.3l-2.1,-3.8zM97.7,58.6l7.2,1.2m-0.2,0.9l3.7,-0.3l-3.4,-1.5zM97.7,63.8l7.7,1.8m-0.2,1l4,-0.1l-3.6,-1.8zM97.7,69.1l7,-0.7m0.1,0.9l3.3,-1.2l-3.5,-0.6zM97.7,74.4l8.2,1.4m-0.2,1.1l4.2,-0.4l-3.9,-1.7zM97.7,79.6l4.8,-1.7m0.2,0.6l2.1,-1.5l-2.6,0.2zM109.9,42.8l7.3,2.9m-0.4,0.9l4,0.5l-3.2,-2.4zM109.9,48.1l4.6,5.2m-0.7,0.6l2.9,2l-1.6,-3.2zM109.9,53.3l6.2,1.1m-0.1,0.8l3.2,-0.3l-2.9,-1.3zM109.9,58.6l7.7,2.5m-0.3,1l4.1,0.2l-3.5,-2.2zM109.9,63.8l3.6,3.7m-0.5,0.5l2.2,1.4l-1.3,-2.3zM109.9,69.1l6.1,-2.3m0.3,0.8l2.7,-1.9l-3.3,0.4zM109.9,74.4l4.8,-1.5m0.2,0.6l2.2,-1.4l-2.6,0.1zM109.9,79.6l7.1,-2m0.3,0.9l3.2,-1.9l-3.7,0.1zM122.1,42.8l6.7,3.5m-0.4,0.9l3.8,0.9l-2.9,-2.6zM122.1,48.1l5.5,2.8m-0.4,0.7l3,0.7l-2.3,-2.1zM122.1,53.3l5.4,4.4m-0.6,0.7l3.2,1.5l-2.1,-2.9zM122.1,58.6l5.8,2m-0.3,0.7l3.1,0.2l-2.6,-1.7zM122.1,63.8l3.5,3.8m-0.5,0.4l2.2,1.4l-1.2,-2.3zM122.1,69.1l5.4,-2.6m0.3,0.7l2.3,-2l-3,0.6zM122.1,74.4l7.4,1.6m-0.2,0.9l3.8,-0.1l-3.4,-1.7zM122.1,79.6l4.9,-0.9m0.1,0.6l2.3,-1.1l-2.5,-0.2zM134.4,0.7l2.1,3.3m-0.5,0.3l1.5,1.3l-0.5,-1.9zM134.4,5.9l2.5,4.5m-0.6,0.3l1.8,1.9l-0.7,-2.5zM134.4,11.2l0.3,3.6m-0.6,0l0.7,1.7l0.5,-1.8zM134.4,16.5l0.4,5.8m-0.7,0.1l1,2.8l0.5,-2.9zM134.4,21.7l2.4,3.6m-0.5,0.3l1.7,1.4l-0.7,-2.1zM134.4,42.8l5.5,5.3m-0.7,0.7l3.4,1.9l-2,-3.3zM134.4,48.1l6.7,4.7m-0.6,0.9l3.9,1.4l-2.7,-3.2zM134.4,53.3l6.3,1.1m-0.1,0.8l3.2,-0.3l-3,-1.3zM134.4,58.6l6.9,1.9m-0.2,0.9l3.6,0.1l-3.1,-1.8zM134.4,63.8l5.3,3.8m-0.5,0.7l3.1,1.2l-2.1,-2.6zM134.4,69.1l6.5,1.4m-0.2,0.8l3.4,-0.2l-3,-1.5zM134.4,74.4l7.1,-2.1m0.3,0.9l3.2,-2l-3.8,0.1zM134.4,79.6l7.2,-1.2m0.2,0.9l3.4,-1.5l-3.7,-0.3zM158.8,11.2l6.3,1.9m-0.2,0.8l3.3,0.1l-2.9,-1.7zM158.8,16.5l5.9,1.2m-0.1,0.8l3.1,-0.2l-2.8,-1.3zM158.8,21.7l4.9,1.6m-0.2,0.6l2.6,0.2l-2.2,-1.4zM158.8,27l3.7,0.4m-0.1,0.6l1.9,-0.4l-1.8,-0.8zM171,11.2l5.1,3.9m-0.5,0.7l3,1.3l-2,-2.6zM171,16.5l6.1,0.6m-0.1,0.8l3.1,-0.5l-2.9,-1.1zM171,21.7l5.9,0.6m-0.1,0.8l3,-0.5l-2.8,-1.1zM171,27l5.7,1m-0.1,0.7l3,-0.2l-2.7,-1.2zM171,48.1l0.3,-9m1.2,0l-1,-4.5l-1.3,4.4zM171,53.3l0.2,-9m1.2,0l-1,-4.5l-1.3,4.4zM171,58.6l0.9,-9.6m1.2,0.1l-0.8,-4.9l-1.7,4.6zM171,63.8l0.9,-9.4m1.2,0.1l-0.8,-4.8l-1.6,4.5zM171,69.1l0.2,-9.8m1.2,0l-1.1,-4.8l-1.4,4.8zM171,74.4l0.3,-9m1.1,0l-1,-4.5l-1.3,4.4zM183.2,27l-6.8,-1.3m0.2,-0.9l-3.5,0.2l3.2,1.5zM183.2,32.3l-6.7,-1.6m0.2,-0.9l-3.5,0.1l3.1,1.6zM183.2,37.5l-5.4,0.3m0,-0.7l-2.6,0.8l2.7,0.5zM183.2,42.8l-8.1,-2m0.3,-1l-4.2,0.1l3.7,2zM183.2,48.1l-5.2,-0.6m0.1,-0.7l-2.6,0.4l2.5,1zM183.2,53.3l-1.9,5.2m-0.7,-0.2l-0.3,2.8l1.6,-2.3zM183.2,58.6l-2.7,4.9m-0.6,-0.3l-0.7,2.8l2,-2.1zM183.2,63.8l-2.4,3.5m-0.5,-0.3l-0.7,2.1l1.7,-1.4zM183.2,69.1l-2.1,3.7m-0.5,-0.3l-0.5,2.1l1.6,-1.5zM183.2,74.4l-1.1,4.4m-0.6,-0.1l0.1,2.3l1.1,-2zM195.4,27l-14.5,-1.5m0.1,-1.3l-5.1,0.8l4.8,1.8zM195.4,32.3l-17.1,0.9m-0.1,-1.3l-4.9,1.6l5.1,1zM195.4,37.5l-14.6,-6.1m0.5,-1.2l-5.1,-0.7l4.1,3.1zM195.4,42.8l-8.6,0.1m0,-1.1l-4.2,1.2l4.3,1zM195.4,48.1l-9.7,-1.3m0.2,-1.2l-4.9,0.6l4.6,1.9zM195.4,53.3l-4,3.9m-0.5,-0.5l-1.5,2.4l2.4,-1.4zM195.4,58.6l-2.4,4.4m-0.6,-0.3l-0.6,2.5l1.7,-1.9zM195.4,63.8l-3.5,3.5m-0.4,-0.5l-1.3,2.2l2.2,-1.3zM195.4,69.1l-3.1,4.7m-0.6,-0.4l-0.9,2.7l2.1,-1.9zM195.4,74.4l-1.1,3.2m-0.6,-0.2l0,1.8l1.1,-1.4zM207.6,27l-11.9,-5.3m0.5,-1.2l-5.1,-0.8l4,3.2zM207.6,32.3l-19,-3.6m0.2,-1.3l-5.2,0.3l4.7,2.2zM207.6,37.5l-21.5,3.6m-0.2,-1.3l-4.7,2.1l5.1,0.5zM207.6,42.8l-22.1,-3.4m0.2,-1.3l-5.1,0.5l4.7,2zM207.6,48.1l-18.5,-3.1m0.2,-1.3l-5.1,0.4l4.7,2.1zM207.6,53.3l-22.8,-11.5m0.6,-1.2l-5.1,-1.1l3.9,3.4zM207.6,58.6l7.1,8.7m-1,0.8l4.2,3l-2.2,-4.7zM207.6,63.8l5.5,7.3m-0.9,0.7l3.7,2.9l-1.8,-4.3zM207.6,69.1l4.4,7.2m-0.9,0.6l3.1,3l-1.3,-4.1zM207.6,74.4l3.5,12.2m-1.3,0.4l2.6,4.5l-0.1,-5.2zM207.6,79.6l5,11.5m-1.2,0.5l3.2,4.1l-0.8,-5.1zM219.9,27l-18.1,-1.3m0.1,-1.3l-5.1,0.9l4.9,1.7zM219.9,32.3l-20.9,-7.5m0.4,-1.2l-5.1,-0.5l4.3,2.9zM219.9,37.5l-27.3,-1.4m0.1,-1.3l-5.1,1l4.9,1.6zM219.9,42.8l-18.7,-0.1m0,-1.3l-5,1.3l5,1.3zM219.9,48.1l-28.4,-7.3m0.3,-1.3l-5.2,0l4.5,2.5zM219.9,53.3l-18.3,-1.3m0.1,-1.3l-5.1,0.9l4.9,1.6zM219.9,58.6l4.6,5.5m-0.7,0.6l3,2.1l-1.6,-3.3zM219.9,63.8l6.4,9.4m-1.1,0.7l3.9,3.4l-1.7,-4.9zM219.9,69.1l6.8,11.5m-1.1,0.7l3.7,3.6l-1.4,-5zM219.9,74.4l9.6,9m-0.9,1l4.5,2.5l-2.8,-4.4zM219.9,79.6l4.4,8.4m-1.1,0.6l3.3,3.6l-1.1,-4.7zM232.1,27l-25.5,-1.1m0.1,-1.3l-5.1,1.1l4.9,1.5zM232.1,32.3l-27.1,-2.6m0.1,-1.3l-5.1,0.8l4.9,1.8zM232.1,37.5l-27.2,-5.2m0.2,-1.3l-5.2,0.3l4.7,2.2zM232.1,42.8l-28.6,-0.2m0,-1.3l-5,1.3l5,1.3zM232.1,48.1l-32.6,-0.1m0,-1.3l-5,1.3l5,1.3zM232.1,53.3l-19.9,-7.4m0.5,-1.2l-5.1,-0.5l4.2,3zM232.1,58.6l5.2,7.9m-1,0.7l3.6,3.2l-1.5,-4.6zM232.1,63.8l5.3,5.5m-0.7,0.7l3.3,2l-1.9,-3.4zM232.1,69.1l4.9,10.7m-1.2,0.5l3.3,4l-0.9,-5.1zM232.1,74.4l6.2,9.6m-1.1,0.7l3.8,3.5l-1.6,-4.9zM232.1,79.6l10.5,8.2m-0.8,1l4.7,2.1l-3.1,-4.1zM244.3,27l-18,0.8m-0.1,-1.3l-4.9,1.5l5.1,1.1zM244.3,32.3l-29,0.3m0,-1.3l-5,1.4l5,1.2zM244.3,37.5l-21.9,-4.8m0.3,-1.3l-5.2,0.2l4.6,2.3zM244.3,42.8l-33.6,-4.3m0.2,-1.3l-5.1,0.6l4.8,1.9zM244.3,48.1l-25.5,0.8m0,-1.3l-5,1.5l5,1.1zM244.3,53.3l-19.1,-7.7m0.5,-1.2l-5.1,-0.7l4.1,3.1zM244.3,58.6l4,9.3m-1.2,0.5l3.2,4.1l-0.8,-5.1zM244.3,63.8l2.2,7.7m-1,0.3l2.1,3.5l-0.1,-4.1zM244.3,69.1l2,7.4m-0.9,0.3l2,3.4l-0.1,-3.9zM244.3,74.4l5.7,5.6m-0.7,0.7l3.5,2l-2.1,-3.5zM244.3,79.6l4.4,8.2m-1.1,0.6l3.2,3.5l-1.1,-4.6zM256.5,27l-16.3,3m-0.2,-1.3l-4.7,2.2l5.2,0.4zM256.5,32.3l-17.1,-8.5m0.6,-1.2l-5.1,-1.1l3.9,3.4zM256.5,37.5l-23.4,4.5m-0.2,-1.3l-4.7,2.2l5.2,0.3zM256.5,42.8l-28.5,2.6m-0.1,-1.3l-4.9,1.7l5.1,0.8zM256.5,48.1l-27.9,5.1m-0.2,-1.3l-4.7,2.2l5.2,0.4zM256.5,53.3l-29.6,6.7m-0.3,-1.3l-4.6,2.4l5.2,0.2zM256.5,58.6l3.9,11.3m-1.2,0.4l2.8,4.3l-0.4,-5.2zM256.5,63.8l8.8,8.3m-0.9,0.9l4.5,2.5l-2.8,-4.4zM256.5,69.1l4.3,12.7m-1.2,0.4l2.8,4.3l-0.4,-5.2zM256.5,74.4l8.9,9.6m-1,0.9l4.4,2.8l-2.4,-4.5zM256.5,79.6l3.8,6.7m-0.9,0.5l2.7,2.8l-1,-3.8zM268.7,27l-26.1,-9m0.4,-1.2l-5.2,-0.4l4.3,2.9zM268.7,32.3l-31.1,-0.2m0,-1.3l-5,1.3l5,1.3zM268.7,37.5l-27.4,-11.4m0.5,-1.2l-5.1,-0.7l4.1,3.1zM268.7,42.8l-20.2,-2.4m0.2,-1.3l-5.1,0.7l4.8,1.9zM268.7,48.1l-31.6,0.3m0,-1.3l-5,1.3l5,1.3zM268.7,53.3l-29.3,-5.4m0.2,-1.3l-5.2,0.4l4.7,2.2zM268.7,58.6l2.5,7.7m-1,0.3l2.2,3.5l-0.2,-4.1zM268.7,63.8l9.5,9m-0.9,0.9l4.5,2.5l-2.7,-4.4zM268.7,69.1l6.5,11.6m-1.1,0.6l3.6,3.7l-1.3,-5zM268.7,74.4l4.5,5.3m-0.7,0.6l2.9,2l-1.5,-3.2zM268.7,79.6l2.8,8.4m-1.1,0.4l2.4,3.8l-0.3,-4.5zM280.9,27l-19.2,-8.3m0.5,-1.2l-5.1,-0.8l4.1,3.2zM280.9,32.3l-27.9,-9m0.4,-1.2l-5.2,-0.3l4.4,2.8zM280.9,37.5l-28.3,-10m0.4,-1.2l-5.1,-0.4l4.3,2.9zM280.9,42.8l-24,-4.3m0.2,-1.3l-5.2,0.4l4.7,2.2zM280.9,48.1l-23.6,0.1m0,-1.3l-5,1.3l5,1.3zM280.9,53.3l-22.1,1.6m-0.1,-1.3l-4.9,1.7l5.1,0.9z" stroke="#000" stroke-width="1" fill="#000"/>
<rect x="241.7" y="0" width="43.3" height="18.6" fill="#fff"/>
</svg>
<rect x="0" y="0" width="285" height="81.3" fill="none" stroke="#555" stroke-width="0.7"/>
<path d="M0,0 v-3 M0,81.3 v3 M40.7,0 v-3 M40.7,81.3 v3 M81.4,0 v-3 M81.4,81.3 v3 M122.1,0 v-3 M122.1,81.3 v3 M162.9,0 v-3 M162.9,81.3 v3 M203.6,0 v-3 M203.6,81.3 v3 M244.3,0 v-3 M244.3,81.3 v3 M285,0 v-3 M285,81.3 v3 M0,0 h-3.2 M285,0 h3.2 M0,20.3 h-3.2 M285,20.3 h3.2 M0,40.6 h-3.2 M285,40.6 h3.2 M0,61 h-3.2 M285,61 h3.2 M0,81.3 h-3.2 M285,81.3 h3.2" stroke="#333" stroke-width="0.7" fill="none"/>
<text x="-1.3" y="104.1" text-anchor="middle" font-size="13.1">90<tspan dy="-6.6" dx="0.4" font-size="10">°</tspan><tspan dy="6.6" dx="0.8">W</tspan></text>
<text x="39.4" y="104.1" text-anchor="middle" font-size="13.1">60<tspan dy="-6.6" dx="0.4" font-size="10">°</tspan><tspan dy="6.6" dx="0.8">W</tspan></text>
<text x="80.1" y="104.1" text-anchor="middle" font-size="13.1">30<tspan dy="-6.6" dx="0.4" font-size="10">°</tspan><tspan dy="6.6" dx="0.8">W</tspan></text>
<text x="123.3" y="104.1" text-anchor="middle" font-size="13.1">0<tspan dy="-6.6" dx="0.4" font-size="10">°</tspan></text>
<text x="161.6" y="104.1" text-anchor="middle" font-size="13.1">30<tspan dy="-6.6" dx="0.4" font-size="10">°</tspan><tspan dy="6.6" dx="0.8">E</tspan></text>
<text x="202.3" y="104.1" text-anchor="middle" font-size="13.1">60<tspan dy="-6.6" dx="0.4" font-size="10">°</tspan><tspan dy="6.6" dx="0.8">E</tspan></text>
<text x="243" y="104.1" text-anchor="middle" font-size="13.1">90<tspan dy="-6.6" dx="0.4" font-size="10">°</tspan><tspan dy="6.6" dx="0.8">E</tspan></text>
<text x="283.7" y="104.1" text-anchor="middle" font-size="13.1">120<tspan dy="-6.6" dx="0.4" font-size="10">°</tspan><tspan dy="6.6" dx="0.8">E</tspan></text>
<text x="-9" y="6.7" text-anchor="end" font-size="13.1">30<tspan dy="-6.6" dx="0.4" font-size="10">°</tspan><tspan dy="6.6" dx="0.8">N</tspan></text>
<text x="-9" y="27" text-anchor="end" font-size="13.1">15<tspan dy="-6.6" dx="0.4" font-size="10">°</tspan><tspan dy="6.6" dx="0.8">N</tspan></text>
<text x="-9" y="45.4" text-anchor="end" font-size="13.1">EQ</text>
<text x="-9" y="67.7" text-anchor="end" font-size="13.1">15<tspan dy="-6.6" dx="0.4" font-size="10">°</tspan><tspan dy="6.6" dx="0.8">S</tspan></text>
<text x="-9" y="88" text-anchor="end" font-size="13.1">30<tspan dy="-6.6" dx="0.4" font-size="10">°</tspan><tspan dy="6.6" dx="0.8">S</tspan></text>
<text x="283.5" y="11.9" text-anchor="end" font-size="13.6" textLength="39.4" lengthAdjust="spacingAndGlyphs">3 mon</text>
<text x="0.3" y="-6" font-size="17.2" font-weight="bold">f</text>
</g>
<g transform="translate(383.2,316.9)">
<svg x="0" y="0" width="285" height="81.3" viewBox="0 0 285 81.3" overflow="hidden">
<rect x="0" y="0" width="285" height="81.3" fill="#fff"/>
<path d="M6.1,10.6C16.8,6.6 61.2,-0.5 72.9,-0.9C84.5,-1.2 76.3,5.2 76,8.5C75.6,11.8 73.4,15.5 70.8,19C68.2,22.5 63.8,27 60.3,29.4C56.9,31.8 53,34.1 49.9,33.6C46.8,33.1 45.4,27.7 41.6,26.3C37.7,24.9 31.1,25.1 26.9,25.2C22.8,25.4 19.6,27.7 16.5,27.3C13.4,27 9.9,25.9 8.2,23.2C6.4,20.4 -4.7,14.6 6.1,10.6Z" fill="#fddbc7"/>
<path d="M8.2,12.7C9.2,10.5 12.7,9.8 16.5,8.5C20.3,7.3 25.2,6.5 31.1,5.4C37,4.4 45.7,3.2 52,2.3C58.3,1.3 65.4,-0.9 68.7,-0.2C72,0.5 71.8,3.9 71.8,6.5C71.8,9 70.6,12.7 68.7,14.8C66.8,16.9 62.8,16.9 60.3,19C57.9,21.1 56.2,25.6 54.1,27.3C52,29.1 49.9,30.1 47.8,29.4C45.7,28.7 44.7,24.2 41.6,23.2C38.4,22.1 32.9,22.8 29,23.2C25.2,23.5 21.7,25.4 18.6,25.2C15.5,25.1 12,24.2 10.2,22.1C8.5,20 7.1,15 8.2,12.7Z" fill="#f4a582"/>
<path d="M-2.3,-1.9C-0.5,-3.1 6.2,-2.9 8.2,-1.9C10.1,-0.9 9.9,3 9.2,4.4C8.5,5.8 5.9,6.3 4,6.5C2.1,6.6 -1.2,6.8 -2.3,5.4C-3.3,4 -4,-0.7 -2.3,-1.9Z" fill="#d1e5f0"/>
<path d="M-2.3,-0.9C-1.1,-1.6 3.7,-1.5 5,-0.9C6.3,-0.2 6.9,2.4 5.6,3.1C4.4,3.8 -1,4.2 -2.3,3.5C-3.6,2.9 -3.5,-0.1 -2.3,-0.9Z" fill="#92c5de"/>
<path d="M-2.3,22.1C-0.7,15.5 4.7,21.9 7.1,23.2C9.5,24.4 10.9,27.3 12.3,29.4C13.7,31.5 15.1,33.2 15.5,35.7C15.8,38.1 14.9,41.2 14.4,44C13.9,46.8 13.4,49.6 12.3,52.4C11.3,55.2 10.6,59 8.2,60.7C5.7,62.5 -0.5,69.3 -2.3,62.8C-4,56.4 -3.9,28.7 -2.3,22.1Z" fill="#f4a582"/>
<path d="M-2.3,22.7C-0.8,16.9 4.4,22.7 6.7,23.8C9,24.9 10.7,27.1 11.3,29.4C11.9,31.7 10.1,35.3 10.2,37.8C10.4,40.2 12.3,41.8 12.3,44C12.3,46.3 11.3,49.2 10.2,51.3C9.2,53.4 8.2,55.3 6.1,56.6C4,57.8 -0.9,64.3 -2.3,58.6C-3.7,53 -3.8,28.5 -2.3,22.7Z" fill="#d6604d"/>
<path d="M-2.3,24.2C-1.1,23.2 3.5,24.2 5,25.2C6.6,26.3 7.5,29.2 7.1,30.5C6.8,31.7 4.5,32.4 2.9,32.5C1.4,32.7 -1.4,32.9 -2.3,31.5C-3.2,30.1 -3.5,25.2 -2.3,24.2Z" fill="#b2182b"/>
<path d="M-2.3,39.9C-0.9,38.1 4.1,40 6.1,40.9C8,41.8 9,43.5 9.2,45.1C9.4,46.6 9,49.2 7.1,50.3C5.2,51.3 -0.7,53.1 -2.3,51.3C-3.9,49.6 -3.7,41.6 -2.3,39.9Z" fill="#b2182b"/>
<path d="M-2.3,26.3C-1.4,25.7 2,26.3 2.9,26.9C3.9,27.5 4.4,29.2 3.6,29.8C2.7,30.4 -1.3,31 -2.3,30.5C-3.3,29.9 -3.2,26.9 -2.3,26.3Z" fill="#67001f"/>
<path d="M-2.3,43C-1.3,42.2 2.4,42.9 3.6,43.6C4.7,44.3 5.4,46.4 4.4,47.2C3.4,47.9 -1.2,48.9 -2.3,48.2C-3.4,47.5 -3.3,43.7 -2.3,43Z" fill="#67001f"/>
<path d="M6.1,67C6.8,66.5 10.2,67.3 11.3,68C12.3,68.7 13,70.7 12.3,71.2C11.6,71.6 8.2,71.4 7.1,70.7C6.1,70.1 5.4,67.4 6.1,67Z" fill="#fddbc7"/>
<path d="M52,37.8C52,37.1 63.5,39.2 68.7,38.8C73.9,38.5 79.1,37.2 83.3,35.7C87.5,34.1 90.6,30.8 93.7,29.4C96.9,28 99.7,26.6 102.1,27.3C104.5,28 102.8,32.5 108.4,33.6C113.9,34.6 129.2,32.9 135.5,33.6C141.8,34.3 144.2,29.1 145.9,37.8C147.7,46.5 149.4,78.6 145.9,85.8C142.5,92.9 132,82 125.1,80.6C118.1,79.2 110.4,78.6 104.2,77.4C97.9,76.2 92,75 87.5,73.3C83,71.5 79.5,69.4 77,67C74.6,64.6 73.2,61.8 72.9,58.6C72.5,55.5 75.6,50.8 75,48.2C74.3,45.6 72.5,44.7 68.7,43C64.9,41.2 52,38.5 52,37.8Z" fill="#fddbc7"/>
<path d="M72.9,39.9C73.4,38.5 79.8,39 83.3,37.8C86.8,36.5 90.3,33.6 93.7,32.5C97.2,31.5 100.4,31.2 104.2,31.5C108,31.8 111.5,34 116.7,34.6C121.9,35.3 130.6,34.4 135.5,35.3C140.4,36.1 144.2,31.4 145.9,39.9C147.7,48.3 149.4,79.2 145.9,85.8C142.5,92.4 132,81.3 125.1,79.5C118.1,77.8 110.1,76.9 104.2,75.3C98.3,73.8 93.4,72.2 89.6,70.1C85.7,68 83,65.4 81.2,62.8C79.5,60.2 79.3,57.2 79.1,54.5C79,51.7 81.2,48.6 80.2,46.1C79.1,43.7 72.3,41.2 72.9,39.9Z" fill="#f4a582"/>
<path d="M85.4,39.9C87,38.1 91.3,36.5 95.8,35.7C100.4,34.8 107.7,34.6 112.5,34.6C117.4,34.6 120.9,34.8 125.1,35.7C129.2,36.5 134.1,38.1 137.6,39.9C141.1,41.6 144.5,39.9 145.9,46.1C147.3,52.4 148,72 145.9,77.4C143.8,82.8 138.3,79.2 133.4,78.5C128.5,77.8 122.3,74.8 116.7,73.3C111.1,71.7 104.9,70.8 100,69.1C95.1,67.3 90.1,65.3 87.5,62.8C84.9,60.4 84.5,57.2 84.3,54.5C84.2,51.7 86.3,48.6 86.4,46.1C86.6,43.7 83.8,41.6 85.4,39.9Z" fill="#d6604d"/>
<path d="M91.7,40.9C93,39.5 96.5,38.5 100,37.8C103.5,37.1 108.4,36.5 112.5,36.7C116.7,36.9 121.2,37.6 125.1,38.8C128.9,40 132.7,41.8 135.5,44C138.3,46.3 141.1,49.6 141.8,52.4C142.5,55.2 141.8,59.3 139.7,60.7C137.6,62.1 132.7,61.4 129.2,60.7C125.8,60 122.3,57.9 118.8,56.6C115.3,55.2 111.8,53.4 108.4,52.4C104.9,51.3 100.7,51.3 97.9,50.3C95.1,49.2 92.7,47.7 91.7,46.1C90.6,44.5 90.3,42.3 91.7,40.9Z" fill="#b2182b"/>
<path d="M136.5,51.3C137.2,50.6 140.1,52.2 140.7,53.4C141.3,54.6 140.8,57.9 140.1,58.6C139.4,59.3 137.1,58.8 136.5,57.6C135.9,56.4 135.8,52 136.5,51.3Z" fill="#67001f"/>
<path d="M67.6,81.6C65.5,80.8 68.4,78 70.4,77C72.3,76 76.8,75.3 79.1,75.8C81.5,76.2 83.7,79 84.3,79.9C85,80.9 86.1,81.3 83.3,81.6C80.5,81.9 69.8,82.4 67.6,81.6Z" fill="#d1e5f0"/>
<path d="M69.7,81.6C68,81.3 70.3,79.2 71.8,78.5C73.3,77.8 77,77.1 78.7,77.4C80.5,77.8 83.8,79.9 82.3,80.6C80.8,81.3 71.5,82 69.7,81.6Z" fill="#92c5de"/>
<path d="M111.5,79.5C110.8,78.7 118.4,76.5 120.9,76.6C123.3,76.7 125.4,79.5 126.1,80.4C126.8,81.2 127.5,81.7 125.1,81.6C122.6,81.5 112.2,80.4 111.5,79.5Z" fill="#d1e5f0"/>
<path d="M192.9,21.1C195.3,19.8 200.2,18.6 203.3,17.9C206.5,17.2 210,18.1 211.7,16.9C213.4,15.7 212.4,12 213.8,10.6C215.2,9.2 218.3,7.1 220,8.5C221.8,9.9 222.1,16.5 224.2,19C226.3,21.4 229.8,23.3 232.6,23.2C235.3,23 231.5,18.8 240.9,17.9C250.3,17.1 280.9,7.7 288.9,17.9C296.9,28.2 292.4,69.4 288.9,79.5C285.5,89.6 274.3,79.3 268.1,78.5C261.8,77.6 256.9,74.8 251.4,74.3C245.8,73.8 240.6,75.9 234.7,75.3C228.7,74.8 221.1,72.2 215.9,71.2C210.6,70.1 206.8,68.7 203.3,69.1C199.9,69.4 196.9,70.5 195,73.3C193.1,76 192.9,83.7 191.9,85.8C190.8,87.9 188.9,88.6 188.7,85.8C188.6,83 191.5,72.9 190.8,69.1C190.1,65.3 186.8,64.6 184.6,62.8C182.3,61.1 179,60.7 177.2,58.6C175.5,56.6 173.8,53.4 174.1,50.3C174.5,47.2 177.6,43 179.3,39.9C181.1,36.7 183,33.9 184.6,31.5C186.1,29.1 187.3,27 188.7,25.2C190.1,23.5 190.5,22.3 192.9,21.1Z" fill="#f4a582"/>
<path d="M205.4,10.6C206.5,8.9 212,6.5 213.8,7.5C215.5,8.5 216.9,15.1 215.9,16.9C214.8,18.6 209.3,19 207.5,17.9C205.8,16.9 204.4,12.4 205.4,10.6Z" fill="#fddbc7"/>
<path d="M243,52.4C243.7,50.6 248.6,49.4 251.4,49.2C254.1,49.1 258.8,49.8 259.7,51.3C260.6,52.9 258.7,57.2 256.6,58.6C254.5,60 249.4,60.7 247.2,59.7C244.9,58.6 242.3,54.1 243,52.4Z" fill="#fff"/>
<path d="M256.2,53.6C256.2,54 256,54.5 255.6,54.9C255.3,55.2 254.8,55.5 254.3,55.6C253.8,55.7 253.1,55.7 252.6,55.6C252.1,55.5 251.6,55.2 251.2,54.9C250.9,54.5 250.7,54 250.7,53.6C250.7,53.2 250.9,52.7 251.2,52.4C251.6,52.1 252.1,51.8 252.6,51.6C253.1,51.5 253.8,51.5 254.3,51.6C254.8,51.8 255.3,52.1 255.6,52.4C256,52.7 256.2,53.2 256.2,53.6Z" fill="#d1e5f0"/>
<path d="M184.6,47.2C187,45.8 192.6,43.7 197.1,43C201.6,42.3 206.8,42.6 211.7,43C216.6,43.3 222.5,43.9 226.3,45.1C230.1,46.3 232.6,48 234.7,50.3C236.7,52.6 238.8,55.9 238.8,58.6C238.8,61.4 236.7,65.1 234.7,67C232.6,68.9 229.4,70.1 226.3,70.1C223.2,70.1 219.3,68.6 215.9,67C212.4,65.4 208.9,61.8 205.4,60.7C201.9,59.7 198.1,61.4 195,60.7C191.9,60 188.7,58.1 186.6,56.6C184.6,55 182.8,52.9 182.5,51.3C182.1,49.8 182.1,48.6 184.6,47.2Z" fill="#d6604d"/>
<path d="M197.1,60.7C198.8,60.4 203,61.4 205.4,62.8C207.9,64.2 212.4,68.2 211.7,69.1C211,69.9 204,68.7 201.3,68C198.5,67.3 195.7,66.1 195,64.9C194.3,63.7 195.3,61.1 197.1,60.7Z" fill="#d6604d"/>
<path d="M230.5,25.2C231.5,23.5 238.1,21.4 240.9,21.1C243.7,20.7 246.5,21.8 247.2,23.2C247.9,24.5 247.2,28 245.1,29.4C243,30.8 237.1,32.2 234.7,31.5C232.2,30.8 229.4,27 230.5,25.2Z" fill="#d6604d"/>
<path d="M268.1,20C271.2,19 285.5,16 288.9,19C292.4,21.9 291,35.7 288.9,37.8C286.8,39.9 279.5,33.6 276.4,31.5C273.3,29.4 271.5,27.2 270.1,25.2C268.8,23.3 264.9,21.1 268.1,20Z" fill="#d6604d"/>
<path d="M240.9,67C242,65.6 248.2,64.6 251.4,64.9C254.5,65.3 256.2,68.7 259.7,69.1C263.2,69.4 267.4,68.4 272.2,67C277.1,65.6 286.1,59.7 288.9,60.7C291.7,61.8 291.7,70.8 288.9,73.3C286.1,75.7 277.4,74.8 272.2,75.3C267,75.9 262.1,76.7 257.6,76.4C253.1,76 247.9,74.8 245.1,73.3C242.3,71.7 239.9,68.4 240.9,67Z" fill="#d6604d"/>
<path d="M207.5,26.3C207.9,25.2 212.2,23.8 213.8,24.2C215.3,24.5 217.3,27.3 216.9,28.4C216.6,29.4 213.3,30.8 211.7,30.5C210.1,30.1 207.2,27.3 207.5,26.3Z" fill="#d6604d"/>
<path d="M210.6,48.2C211.8,47.5 215.5,46.6 216.9,47.2C218.3,47.7 219.5,50.3 219,51.3C218.5,52.4 215.3,53.4 213.8,53.4C212.3,53.4 210.5,52.2 210,51.3C209.5,50.5 209.5,48.9 210.6,48.2Z" fill="#b2182b"/>
<path d="M223.2,58.8C223.2,59.2 223,59.7 222.9,60C222.7,60.3 222.3,60.5 222,60.6C221.7,60.7 221.3,60.7 221,60.6C220.7,60.5 220.3,60.3 220.2,60C220,59.7 219.8,59.2 219.8,58.8C219.8,58.5 220,58 220.2,57.7C220.3,57.4 220.7,57.2 221,57.1C221.3,56.9 221.7,56.9 222,57.1C222.3,57.2 222.7,57.4 222.9,57.7C223,58 223.2,58.5 223.2,58.8Z" fill="#b2182b"/>
<path d="M163.7,85.8C155,83 164.7,72.5 166.8,69.1C168.9,65.7 173.1,65.1 176.2,65.3C179.3,65.5 181.9,69 185.6,70.1C189.2,71.3 193.4,71.1 198.1,72.2C202.8,73.4 210.3,74.7 213.8,77C217.3,79.3 227.3,84.3 219,85.8C210.6,87.2 172.4,88.6 163.7,85.8Z" fill="#fff"/>
<path d="M165.8,85.8C157.9,83.2 167.2,73.1 168.9,70.1C170.6,67.2 173.6,67.7 176.2,68C178.8,68.4 181.1,71.2 184.6,72.2C188,73.3 192.6,73.3 197.1,74.3C201.6,75.3 208.6,76.6 211.7,78.5C214.8,80.4 223.5,84.6 215.9,85.8C208.2,87 173.6,88.4 165.8,85.8Z" fill="#d1e5f0"/>
<path d="M166.8,85.8C161.4,83.5 169.2,74.6 171,72.2C172.7,69.8 175,70.6 177.2,71.2C179.5,71.7 181.6,74.3 184.6,75.3C187.5,76.4 191.9,75.7 195,77.4C198.1,79.2 208,84.4 203.3,85.8C198.6,87.2 172.2,88 166.8,85.8Z" fill="#92c5de"/>
<path d="M168.9,85.8C167,84 171.2,76.9 173.1,75.3C175,73.8 178.5,74.6 180.4,76.4C182.3,78.1 186.5,84.2 184.6,85.8C182.6,87.3 170.8,87.5 168.9,85.8Z" fill="#4393c3"/>
<path d="M165.3,-2.9 171.6,-2.9 185.2,22.7 180.4,24.4Z" fill="#f4a582"/>
<path d="M17.2,28.9 19.7,26.3 20.6,25.6 23.1,25.1 24.8,23.8 25.4,25.7 27.1,24.1 29.3,25.5 32.6,26.3 34.6,26.8 38,26.2 39.4,27.8 40.7,29.1 42.8,31.2 44.8,32.5 47.5,32.7 50.9,33.9 52.2,34.8 54.3,38.2 54.3,40.6 57,41.6 61.8,44 65.8,44.6 67.9,44.4 69.9,45.7 71.9,47.2 74.2,47.7 74.9,50.3 74.6,52.2 72.6,54.9 71.2,56.2 69.9,58.3 69.2,61 69.2,64.4 68.3,67.1 67.2,69.1 66.5,70.5 65.1,71.7 63.1,71.8 61.1,72.6 59,73.4 57,74.9 56.2,76.6 56.2,78.6 55,79.9 54,82 25.1,82 25.4,78.6 26.1,75.9 26.6,72.5 27,69.1 26.7,65.6 25.2,64.2 22.4,62.7 20.1,61.4 18.6,59.5 17.4,56.9 16,54.2 14.9,51.6 13.7,50 11.9,48.8 11.8,46.7 13.2,45.3 13.6,44 12.3,43.6 12.3,42 13.4,40.6 13.6,39.6 15.1,38.6 15.6,37.3 17,37.1 17.2,35.2 17,33.2 17.1,31.2 16.4,30.8 15.7,29.8 14.2,29 12.9,30.4 11.5,30.1 9.5,29.1 7.5,27.4 6,25.7 3.7,23.2 2,22.6 -1.4,22.2 -1.4,18.7 2,19.1 4.8,19.5 7.5,20.1 8.7,21.7 8.4,24.4 8.7,26 10,27.6 11.5,28.5 13.6,28.2 14.9,28 16.3,28.5Z M9.2,-0.7 9.8,2 11.1,4.3 12.8,4.6 13.2,2 12.2,-0.7Z M109,-0.7 108.6,1.4 106.5,2.7 104.5,3.1 102.5,5.4 100.4,8.1 99.1,11.5 100,14.2 99.8,18.3 98.4,20.7 99.3,23 99.5,24.4 101.8,25.7 103.4,27.4 104.2,29.1 106.5,31.3 109.2,33.5 112,34.7 115.4,33.7 118.1,33.7 119.4,34.1 122.1,33.1 123.8,32.4 125.5,32.1 128.2,32.2 129.6,33.9 131,34.8 133,34.6 134.4,35.2 135.3,36.6 135.2,39.3 134.8,40.6 134.1,41.6 135,43.4 137.1,46.1 138.4,47.4 138.8,48.9 139.8,51.5 140.3,52.8 140.9,55.6 139.1,58.9 138.4,61.7 138.2,64.4 139.1,66.4 140.5,69.1 141.8,71.8 142.5,75.9 143.2,77.9 144.5,79.5 145.2,82 164.2,82 164.2,81.2 165.6,79.7 166.7,77.2 166.4,75.7 168.3,74.4 170.3,73 170.1,70.5 169.6,68.4 169.4,67.5 171.7,65.7 173.7,64 176.4,62.6 177.5,60.3 177.1,57.6 177.1,54.9 176.2,52.8 175.5,50.1 175.1,48.8 175.3,47 176,46.1 177.1,44 178.5,43.1 179.8,41.3 181.9,39.3 183.9,37.8 186.6,35.2 188,33.2 189.3,30.5 190.7,27.8 191.6,26.4 191.8,24.7 190,25.1 187.3,25.5 184.6,26.2 182.5,26.6 180.9,25.1 180.8,23.7 179.8,22.4 177.8,20.7 176.2,19.6 175.1,17.6 173.7,15.9 172.8,14.2 172.6,12.2 171.7,10.2 170.3,8.1 169,5.4 168,3.4 166.4,0.3 166.2,-0.7Z M169.6,-0.7 169.5,0.7 169.6,2.7 171.7,5.4 173,7.7 174.8,10.2 175.3,12.2 177.1,14.2 178.5,16.3 179.8,18.3 180.5,21 181.2,23.4 183.2,23.3 185.9,22.4 188,21.7 190.7,20.3 193,19 194.8,18 196.8,17.3 198.8,15.6 200.4,14.2 200.9,12.9 202.2,11.5 203.3,10.2 201.7,8.7 199.5,8.1 198.7,6.8 198.6,5 198.1,5.8 196.1,7.7 193.4,7.9 192.2,7.7 192.2,6.1 191.6,5.3 191.1,6.8 190.3,5.8 190.1,4.5 188.6,3.4 188,2 187.3,0.7 188,-0.7Z M190,-0.7 191.1,1.4 192,2.8 194.1,4.3 196.1,4.6 198.1,3.9 199.5,4.3 200.2,5.8 202.2,6.2 205.6,6.5 208.3,6.4 210.4,6.4 212.4,6.2 213.1,7 213.8,8.4 215.1,8.9 215.8,10.3 217.1,12.5 219.9,12.2 220.5,11.2 220.9,12.9 220.9,14.9 221.6,17.6 222.3,19.6 223.2,22.4 224.3,24.8 225.6,27.1 226.4,28.9 227.3,29.7 228.3,28.7 229.4,28 230.4,26.7 230.6,24.4 231.1,22.9 230.8,20.3 231.8,19.2 233.8,18 235.5,16.5 237.5,14.5 239.5,13.3 240.2,12.2 241.6,11.2 242.9,11 245,10.4 246.3,10.2 247,12.2 248.1,13.6 249.4,14.9 250.1,16.3 250.3,18.3 250.1,19.1 251.8,19.2 253.5,18.2 254.5,18.3 254.9,20.3 255.4,22.4 256,24.4 256,26.4 255.6,28.5 255.6,29.8 256.5,30.5 257.9,31.8 258.4,33.9 258.9,35.2 259.6,36.9 261.2,37.9 262.6,38.8 263.6,38.8 263.3,37.3 262.5,35.9 262.5,34.6 261.7,33.1 260.8,32.2 259.9,31.3 258.5,30.8 257.9,29.1 257.2,28 256.9,26.4 257.6,24.7 257.9,23 258.5,22.4 259.2,23.4 261,24.1 261.9,25.7 263.3,26.4 264.4,26.6 264.6,28.9 266.7,27.5 267.6,26.4 270.1,25.1 270.5,23 270.1,20.3 269.1,19 267.4,17.6 266,15.6 265.7,14.2 266.9,12.9 268.7,11.5 270.8,11.5 271.4,13 272.1,11.9 274.1,11.1 276.9,10.3 279.6,9.6 281.6,8.4 283,7.2 284.3,5.8 285.7,4.7 285.7,-0.7Z M251.5,33.1 254.5,33.6 255.6,35 257.6,36.6 258.9,37.7 260.6,39.3 262.6,40.6 263,42 264,43.1 265.3,44 266,45 265.9,46.7 265.7,48.5 264.1,48.5 263.3,47.3 261,45.9 259.2,43.9 258.3,42 256.8,40.2 256.1,38.3 254.7,37.3 253.1,35.8 251.8,34.3Z M264.9,49.9 266,48.6 267.4,48.6 269.4,49.6 272.1,49.9 272.8,49.3 274.8,50 277.5,51.1 277.5,52.4 274.8,52 271.4,51.5 268.7,51.2 266.7,50.7Z M270.1,38.6 270.8,37.9 272.8,38.5 273.3,37.3 275.5,36.3 276.9,34.6 278.9,33.2 280.2,31.4 281.3,31.4 281.9,32.5 283.6,33.6 282.6,34.8 282,36.6 282.3,37.9 283.6,39.3 282,39.6 281.6,41.3 280.2,42.7 280.2,44.7 279.6,46.1 277.7,46.1 276.9,45.3 275.5,45 273.9,45.4 271.7,44.6 271.4,42.7 270.3,41.3 270.1,40Z M284.1,48.1 285.7,48.1 285.7,39.3 284.7,40 284.3,42 283.4,44.4 284.1,45.4Z M285.7,67.6 283.6,67.8 281.6,68.7 279.6,69 278.2,69.8 277,70.2 276.4,71.3 276.2,73.2 276,74.5 276.9,76.6 277.1,77.9 277.7,79.7 278.2,82 285.7,82Z M189.1,56.9 190,58.9 190.7,61.7 189.6,63 189.3,65 188.6,67.1 188,69.8 187,72.5 185.9,74.5 183.9,75.3 181.9,74.5 181.2,72.5 180.9,70.5 181.9,68.4 182.5,66.4 181.9,64.4 182.5,62.6 184.6,62.1 186.6,60.7 187.3,58.9 188.4,57.6Z" fill="#a9a9a9"/>
<path d="M0,0.7l-1.3,-1.2m0.2,-0.2l-1,-0.5l0.6,1zM0,32.3l-0.2,-0.7m0.2,-0.1l-0.5,-0.7l0,0.8zM0,37.5l-0.9,-1m0.2,-0.2l-0.7,-0.4l0.4,0.8zM0,42.8l-2.1,0.8m-0.1,-0.4l-1.1,0.9l1.4,-0.1zM0,48.1l0.2,3.8m-0.5,0l0.6,1.8l0.5,-1.8zM0,53.3l2.4,-1m0.2,0.4l1.3,-1.1l-1.7,0.2zM0,58.6l1.9,1m-0.2,0.3l1.3,0.3l-1,-1zM0,63.8l1.1,4m-0.5,0.1l1,1.6l0,-1.9zM0,69.1l0.9,1.1m-0.2,0.2l0.8,0.5l-0.4,-0.9zM0,74.4l-0.7,0.1m0,-0.2l-0.8,0.3l0.8,0.2zM0,79.6l-2.5,0.5m-0.1,-0.5l-1.4,0.8l1.6,0.2zM12.2,0.7l-3.4,-1.9m0.3,-0.5l-1.8,-0.4l1.3,1.4zM12.2,32.3l1.9,-0.7m0.1,0.4l1.1,-0.8l-1.3,0.1zM12.2,37.5l0.9,-0.4m0.1,0.2l0.6,-0.6l-0.8,0.1zM12.2,42.8l-1.6,0.4m-0.1,-0.3l-0.9,0.5l1,0zM12.2,48.1l-4.1,-1.2m0.2,-0.5l-1.9,0l1.6,1zM12.2,53.3l0,0.8m-0.2,0l0.2,0.8l0.3,-0.8zM12.2,58.6l1.3,0.5m-0.1,0.2l0.9,0.1l-0.7,-0.6zM12.2,63.8l-1.6,0.5m-0.1,-0.3l-0.9,0.6l1.1,0zM12.2,69.1l-0.9,0.1m0,-0.2l-0.8,0.3l0.8,0.2zM12.2,74.4l-3.9,0.1m0,-0.5l-1.8,0.6l1.8,0.5zM12.2,79.6l1.8,-0.4m0.1,0.3l1,-0.6l-1.2,-0.1zM24.4,0.7l2.9,-3m0.4,0.4l0.9,-1.7l-1.6,0.9zM24.4,63.8l-3.2,-1.2m0.2,-0.5l-1.9,-0.2l1.5,1.2zM24.4,69.1l-0.2,-0.8m0.2,-0.1l-0.5,-0.7l0,0.8zM24.4,74.4l0.9,-2.6m0.5,0.2l0,-1.7l-1,1.4zM24.4,79.6l0.3,0.9m-0.2,0.1l0.5,0.7l0,-0.8zM36.6,0.7l1.9,2.1m-0.4,0.3l1.5,1l-0.8,-1.6zM36.6,32.3l0,1.6m-0.3,0l0.3,1l0.3,-1zM36.6,37.5l0.7,0.2m-0.1,0.2l0.8,0l-0.7,-0.5zM48.9,0.7l0.1,1.6m-0.3,0l0.3,0.9l0.2,-1zM48.9,32.3l-3.4,-0.6m0.1,-0.5l-1.9,0.2l1.7,0.9zM48.9,37.5l0.9,1.9m-0.3,0.2l0.9,1l-0.2,-1.3zM61.1,0.7l-0.1,0.7m-0.2,0l0.2,0.8l0.3,-0.8zM61.1,32.3l-1.4,-0.2m0,-0.3l-0.9,0.1l0.8,0.4zM61.1,37.5l0.5,1.8m-0.3,0.1l0.6,1l0,-1.2zM61.1,69.1l2.8,0.3m-0.1,0.5l1.8,-0.3l-1.6,-0.7zM61.1,74.4l-1.1,1.3m-0.2,-0.2l-0.5,1l0.9,-0.6zM61.1,79.6l-1.2,0.6m-0.1,-0.2l-0.6,0.6l0.8,-0.1zM73.3,0.7l-2,0.7m-0.1,-0.4l-1.1,0.8l1.4,-0.1zM73.3,32.3l-0.5,-0.5m0.2,-0.2l-0.7,-0.4l0.4,0.7zM73.3,37.5l-1.7,0.6m-0.1,-0.3l-1,0.7l1.2,0zM73.3,42.8l-0.3,1.6m-0.3,-0.1l0.1,1l0.5,-0.9zM73.3,48.1l1.7,-2.2m0.4,0.3l0.6,-1.7l-1.4,1zM73.3,53.3l1.1,-3m0.5,0.2l0.1,-1.9l-1.1,1.5zM73.3,58.6l-0.2,-2.1m0.4,0l-0.5,-1.2l-0.2,1.3zM73.3,63.8l1.2,-0.6m0.1,0.2l0.6,-0.6l-0.8,0.1zM73.3,69.1l2.4,-0.8m0.1,0.4l1.3,-0.9l-1.6,0zM73.3,74.4l1.8,2.8m-0.5,0.3l1.4,1.2l-0.5,-1.8zM73.3,79.6l-0.2,0.8m-0.2,0l0.1,0.8l0.4,-0.7zM85.5,0.7l1.2,1m-0.2,0.2l0.9,0.4l-0.6,-0.8zM85.5,5.9l-2.6,1.9m-0.3,-0.4l-1.1,1.5l1.8,-0.6zM85.5,11.2l-0.6,0.4m-0.1,-0.2l-0.5,0.6l0.8,-0.2zM85.5,16.5l0.2,-1.8m0.3,0l-0.2,-1.1l-0.4,1.1zM85.5,21.7l-0.7,0m0,-0.2l-0.8,0.3l0.8,0.2zM85.5,27l-1.5,-0.3m0.1,-0.3l-1,0.1l0.9,0.5zM85.5,32.3l-1.4,-0.2m0,-0.3l-0.9,0.1l0.8,0.4zM85.5,37.5l1,2.7m-0.5,0.2l1.1,1.5l-0.1,-1.8zM85.5,42.8l0.7,-0.1m0,0.2l0.7,-0.4l-0.8,-0.1zM85.5,63.8l-1.3,-2.2m0.4,-0.2l-1.2,-1.1l0.4,1.6zM85.5,69.1l2.8,-1.8m0.3,0.5l1.2,-1.4l-1.8,0.5zM85.5,74.4l0.5,0.5m-0.2,0.2l0.8,0.3l-0.5,-0.7zM85.5,79.6l2,0.9m-0.2,0.4l1.4,0.2l-1.1,-0.9zM97.7,11.2l-3.5,1.9m-0.3,-0.5l-1.3,1.3l1.8,-0.4zM97.7,16.5l-3.5,1.9m-0.3,-0.5l-1.3,1.3l1.8,-0.4zM97.7,21.7l-0.9,3.8m-0.5,-0.1l0.1,1.9l0.9,-1.6zM97.7,27l-0.7,0.5m-0.1,-0.2l-0.5,0.6l0.8,-0.2zM97.7,32.3l3.2,2.2m-0.3,0.4l1.8,0.6l-1.2,-1.5zM97.7,37.5l0.8,0.1m0,0.2l0.8,-0.1l-0.8,-0.4zM97.7,42.8l0.2,-2m0.4,0l-0.3,-1.2l-0.5,1.2zM97.7,48.1l-2.4,1.3m-0.2,-0.4l-1.2,1.3l1.7,-0.4zM97.7,53.3l-3.9,-1.1m0.2,-0.5l-1.9,0l1.6,1zM97.7,58.6l-1.1,0.5m-0.1,-0.2l-0.6,0.5l0.8,-0.1zM97.7,63.8l-1.5,-0.2m0,-0.3l-1,0.1l0.9,0.4zM109.9,0.7l-1.7,-0.9m0.2,-0.3l-1.2,-0.3l0.9,0.9zM109.9,5.9l2.9,0.6m-0.1,0.5l1.9,-0.2l-1.7,-0.9zM109.9,11.2l0.3,0.6m-0.2,0.1l0.6,0.6l-0.1,-0.8zM109.9,16.5l-1.8,2.7m-0.4,-0.3l-0.6,1.8l1.5,-1.2zM109.9,21.7l-0.9,1.8m-0.3,-0.2l-0.2,1.2l0.9,-0.9zM109.9,27l2.8,0.3m-0.1,0.5l1.8,-0.3l-1.7,-0.7zM109.9,32.3l1.1,0.1m0,0.2l0.8,-0.2l-0.8,-0.3zM109.9,37.5l0,-0.8m0.2,0l-0.2,-0.8l-0.2,0.8zM109.9,42.8l-2.3,0.6m-0.1,-0.4l-1.3,0.8l1.5,0.1zM109.9,48.1l-1.6,2.4m-0.4,-0.3l-0.5,1.8l1.4,-1.2zM109.9,53.3l0.7,0.6m-0.2,0.2l0.8,0.4l-0.4,-0.7zM109.9,58.6l0.6,0.3m-0.1,0.2l0.8,0.1l-0.6,-0.6zM109.9,63.8l-0.1,1.9m-0.3,0l0.3,1.2l0.4,-1.1zM122.1,0.7l-2,-3.2m0.5,-0.3l-1.4,-1.2l0.5,1.8zM122.1,21.7l3.4,0.6m-0.1,0.5l1.9,-0.2l-1.7,-0.8zM122.1,27l2.6,1.1m-0.2,0.5l1.8,0.2l-1.4,-1.1zM122.1,32.3l0.7,-1.1m0.2,0.1l0.3,-0.8l-0.7,0.5zM122.1,37.5l-1.7,-1.2m0.2,-0.3l-1.2,-0.4l0.8,1zM122.1,42.8l0,0.7m-0.2,0l0.2,0.8l0.2,-0.8zM122.1,48.1l1.6,0.2m0,0.3l1,-0.1l-0.9,-0.4zM122.1,53.3l0.6,-0.4m0.1,0.2l0.5,-0.7l-0.8,0.3zM122.1,58.6l1.8,1.2m-0.2,0.3l1.3,0.4l-0.9,-1.1zM122.1,63.8l2.5,-0.8m0.1,0.5l1.4,-1l-1.7,0zM134.4,0.7l-0.3,1.4m-0.3,-0.1l0.1,0.9l0.5,-0.8zM134.4,21.7l0.7,-2m0.4,0.1l0.1,-1.4l-0.8,1.1zM134.4,27l0.8,-2.3m0.4,0.1l0.1,-1.5l-0.9,1.2zM134.4,32.3l-1.6,0.2m0,-0.3l-0.9,0.4l1,0.2zM134.4,37.5l-1,1.9m-0.3,-0.2l-0.3,1.3l0.9,-1zM134.4,42.8l0.7,2.1m-0.4,0.1l0.8,1.1l-0.1,-1.4zM134.4,48.1l3.2,-0.7m0.1,0.5l1.6,-0.9l-1.9,-0.1zM134.4,53.3l1.2,-1.4m0.3,0.2l0.5,-1.1l-1,0.6zM134.4,58.6l3.1,-0.8m0.1,0.5l1.6,-1l-1.9,-0.1zM134.4,63.8l2.9,1.4m-0.2,0.5l1.9,0.3l-1.4,-1.3zM146.6,0.7l1.3,3.9m-0.5,0.2l1.1,1.5l-0.1,-1.9zM146.6,5.9l-1,-2m0.4,-0.2l-1,-1.1l0.3,1.4zM146.6,11.2l-0.1,-0.8m0.2,0l-0.3,-0.8l-0.1,0.8zM146.6,16.5l-0.1,-1.2m0.2,0l-0.3,-0.8l-0.2,0.8zM146.6,21.7l2,-3.2m0.5,0.3l0.5,-1.8l-1.4,1.2zM146.6,27l-2.4,-2.4m0.4,-0.4l-1.7,-0.9l0.9,1.7zM146.6,32.3l-2.8,-0.5m0.1,-0.5l-1.8,0.2l1.6,0.8zM146.6,37.5l-0.7,3.3m-0.5,-0.1l0.2,1.9l0.9,-1.7zM146.6,48.1l0.8,-0.2m0.1,0.2l0.7,-0.4l-0.8,0zM146.6,53.3l0.8,-1.1m0.2,0.1l0.3,-0.8l-0.7,0.5zM146.6,58.6l-0.2,-0.8m0.2,-0.1l-0.5,-0.7l0,0.8zM146.6,63.8l0.1,-0.8m0.2,0l-0.2,-0.8l-0.3,0.8zM146.6,69.1l2.5,0.5m-0.1,0.5l1.6,-0.1l-1.4,-0.8zM146.6,74.4l0.8,0.2m-0.1,0.2l0.8,0l-0.7,-0.4zM146.6,79.6l-0.7,0.7m-0.2,-0.2l-0.4,0.7l0.7,-0.4zM158.8,0.7l-0.9,-0.2m0,-0.2l-0.8,0.1l0.7,0.4zM158.8,42.8l0.5,1.9m-0.4,0.1l0.7,1.1l0,-1.3zM158.8,48.1l1,-0.6m0.1,0.2l0.6,-0.6l-0.8,0.2zM158.8,53.3l2.1,-0.4m0.1,0.4l1.2,-0.6l-1.4,-0.1zM158.8,58.6l-0.3,-1.9m0.3,-0.1l-0.5,-1.1l-0.2,1.2zM158.8,63.8l0.8,-0.5m0.1,0.2l0.5,-0.6l-0.8,0.2zM158.8,69.1l0.6,1.2m-0.2,0.1l0.6,0.6l-0.1,-0.9zM158.8,74.4l0.2,1.9m-0.3,0l0.5,1.1l0.2,-1.2zM158.8,79.6l-1.3,-1.1m0.2,-0.2l-1,-0.5l0.6,0.9zM171,0.7l-2.9,-2.4m0.3,-0.4l-1.7,-0.7l1,1.6zM171,5.9l-1.3,-0.8m0.1,-0.2l-0.9,-0.2l0.6,0.7zM171,11.2l0.7,-0.1m0,0.2l0.8,-0.3l-0.8,-0.2zM171,16.5l1.6,0m0,0.3l1,-0.3l-1,-0.3zM171,21.7l1.1,2.2m-0.4,0.2l1.1,1.2l-0.2,-1.6zM171,27l1.4,-0.5m0.1,0.3l0.8,-0.5l-0.9,0zM171,32.3l0.1,-0.7m0.2,0l-0.1,-0.8l-0.4,0.7zM171,37.5l-3.6,0m0,-0.5l-1.8,0.5l1.8,0.5zM171,42.8l-0.8,0.2m-0.1,-0.2l-0.7,0.4l0.8,0.1zM171,79.6l-0.2,-0.8m0.2,0l-0.4,-0.7l-0.1,0.8zM183.2,0.7l-1,-2.2m0.4,-0.2l-1,-1.1l0.2,1.5zM183.2,5.9l0.3,-1.3m0.2,0.1l0,-0.9l-0.4,0.7zM183.2,11.2l0.7,0.3m-0.1,0.2l0.8,0.1l-0.6,-0.5zM183.2,42.8l-1.7,0.7m-0.1,-0.3l-0.9,0.8l1.2,-0.1zM183.2,63.8l0.1,0.8m-0.2,0l0.3,0.8l0.2,-0.8zM183.2,69.1l-0.6,0.3m-0.1,-0.2l-0.6,0.6l0.8,-0.2zM183.2,74.4l0,-0.9m0.2,0l-0.2,-0.8l-0.3,0.8zM183.2,79.6l1.5,-0.6m0.1,0.3l0.8,-0.6l-1,0.1zM195.4,0.7l1,-2.8m0.5,0.2l0.1,-1.9l-1.1,1.5zM195.4,5.9l0.4,1.3m-0.2,0.1l0.5,0.7l0,-0.8zM195.4,11.2l-0.4,1.3m-0.2,-0.1l0,0.9l0.5,-0.7zM195.4,42.8l0.1,-1.1m0.2,0l-0.2,-0.8l-0.3,0.8zM195.4,63.8l-2.3,0.4m-0.1,-0.4l-1.3,0.7l1.5,0.2zM195.4,69.1l-0.4,-0.6m0.2,-0.1l-0.6,-0.5l0.2,0.8zM195.4,74.4l1,-0.2m0,0.2l0.8,-0.4l-0.8,-0.1zM195.4,79.6l3.8,0.4m-0.1,0.5l1.8,-0.3l-1.7,-0.7zM207.6,0.7l-1.3,3.7m-0.5,-0.2l-0.1,1.9l1.1,-1.5zM207.6,5.9l-0.9,0m0,-0.2l-0.8,0.2l0.8,0.3zM207.6,37.5l0.6,0.7m-0.2,0.2l0.7,0.4l-0.4,-0.7zM207.6,42.8l2.9,-1.1m0.2,0.5l1.5,-1.1l-1.9,0.1zM219.9,0.7l-1.3,1.3m-0.2,-0.2l-0.5,1.1l1,-0.6zM219.9,5.9l-0.6,-0.6m0.2,-0.2l-0.8,-0.4l0.4,0.7zM232.1,0.7l0.5,2.6m-0.5,0.1l0.8,1.5l0.2,-1.7zM232.1,5.9l-2.9,-0.1m0,-0.5l-1.8,0.5l1.7,0.6zM232.1,11.2l-3.9,-0.9m0.1,-0.5l-1.9,0.1l1.6,0.9zM232.1,16.5l0.2,-1.4m0.3,0l-0.1,-0.9l-0.4,0.8zM232.1,21.7l-0.4,-1.1m0.2,-0.1l-0.5,-0.7l0,0.8zM232.1,48.1l1.4,-0.3m0.1,0.3l0.8,-0.5l-0.9,-0.1zM232.1,53.3l2.6,-0.2m0,0.5l1.5,-0.6l-1.6,-0.3zM244.3,0.7l-0.3,0.6m-0.2,-0.1l-0.1,0.8l0.6,-0.6zM244.3,5.9l-0.7,1.3m-0.2,-0.1l-0.2,0.9l0.7,-0.7zM244.3,11.2l-0.1,-1.6m0.3,0l-0.4,-1l-0.2,1zM244.3,16.5l-0.1,-1.4m0.3,0l-0.3,-0.8l-0.2,0.9zM244.3,21.7l0.7,-1.2m0.2,0.1l0.2,-0.9l-0.6,0.6zM244.3,48.1l0.7,-1.8m0.3,0.1l0.1,-1.3l-0.8,1zM244.3,53.3l-0.7,-1.9m0.4,-0.1l-0.8,-1l0.1,1.3zM244.3,58.6l2.3,-1.1m0.2,0.4l1.2,-1.1l-1.6,0.2zM244.3,63.8l1,-0.3m0.1,0.2l0.7,-0.4l-0.8,0zM256.5,0.7l3.1,0.4m-0.1,0.5l1.9,-0.3l-1.7,-0.8zM256.5,5.9l1.2,3.1m-0.5,0.2l1.2,1.5l-0.2,-1.9zM256.5,11.2l-2.5,-1.5m0.3,-0.5l-1.8,-0.4l1.3,1.4zM256.5,16.5l-1.4,-1.3m0.2,-0.3l-1.1,-0.5l0.6,1zM256.5,21.7l-2.7,0.2m0,-0.5l-1.6,0.6l1.7,0.4zM256.5,63.8l-0.4,-0.7m0.2,-0.1l-0.6,-0.6l0.2,0.8zM256.5,69.1l0.9,-0.5m0.1,0.2l0.6,-0.6l-0.8,0.2zM256.5,74.4l3,0m0,0.5l1.8,-0.5l-1.8,-0.5zM256.5,79.6l-0.5,0.6m-0.2,-0.2l-0.3,0.8l0.7,-0.5zM268.7,0.7l1.9,-0.7m0.1,0.4l1,-0.8l-1.3,0.1zM268.7,5.9l0.3,2.6m-0.5,0.1l0.7,1.6l0.3,-1.7zM268.7,11.2l0.6,3.3m-0.5,0.1l0.9,1.7l0.2,-1.9zM268.7,16.5l0.2,1.7m-0.3,0l0.4,1l0.2,-1.1zM268.7,21.7l0.2,1.6m-0.3,0l0.4,1l0.2,-1zM280.9,0.7l0.5,-0.5m0.2,0.2l0.4,-0.8l-0.7,0.4zM280.9,5.9l1.2,-1.6m0.3,0.2l0.4,-1.2l-1,0.8zM280.9,11.2l1.4,2.2m-0.4,0.3l1.3,1.1l-0.5,-1.6zM280.9,16.5l0,0.7m-0.2,0l0.2,0.8l0.3,-0.8zM280.9,21.7l3.4,2.5m-0.3,0.4l1.8,0.6l-1.2,-1.5z" stroke="#606060" stroke-width="0.8" fill="#606060"/>
<path d="M0,5.9l6.6,-2.6m0.3,0.8l2.9,-2.1l-3.6,0.4zM0,11.2l6.2,-0.9m0.1,0.8l2.9,-1.2l-3.2,-0.4zM0,16.5l6.6,-3.5m0.5,0.8l2.8,-2.6l-3.7,0.9zM0,21.7l5.8,0.1m0,0.7l2.9,-0.7l-2.9,-0.8zM0,27l6.9,0m0,0.9l3.4,-0.9l-3.4,-0.9zM12.2,5.9l4.3,-3.3m0.4,0.6l1.7,-2.2l-2.6,1.1zM12.2,11.2l4.3,-3m0.4,0.6l1.7,-2l-2.5,0.9zM12.2,16.5l5.7,-4.5m0.6,0.7l2.2,-2.9l-3.4,1.5zM12.2,21.7l6.4,-2.3m0.3,0.8l2.9,-2l-3.4,0.3zM12.2,27l5.2,-0.9m0.1,0.7l2.4,-1.1l-2.7,-0.2zM24.4,5.9l6.7,-0.9m0.1,0.9l3.2,-1.3l-3.4,-0.4zM24.4,11.2l7.4,-2.4m0.3,1l3.4,-2.1l-4,0.2zM24.4,16.5l7.7,-2.1m0.3,1l3.5,-2l-4,0zM24.4,21.7l-1.2,-3.7m0.6,-0.2l-1.1,-1.7l0,2zM24.4,27l-0.4,-5.5m0.7,0l-0.9,-2.7l-0.5,2.8zM24.4,32.3l0.9,-3.8m0.6,0.1l-0.2,-2l-1,1.7zM24.4,37.5l-0.1,-4.3m0.6,0l-0.7,-2.1l-0.5,2.1zM24.4,42.8l5.8,-1.8m0.2,0.7l2.6,-1.6l-3.1,0.1zM24.4,48.1l4.1,-3.3m0.4,0.5l1.6,-2.1l-2.4,1.1zM24.4,53.3l6.5,-2.9m0.4,0.8l2.8,-2.3l-3.6,0.6zM24.4,58.6l4.8,-1.8m0.2,0.6l2.1,-1.5l-2.6,0.3zM36.6,5.9l6.3,-5m0.6,0.8l2.5,-3.3l-3.8,1.7zM36.6,11.2l6.2,-2.2m0.3,0.8l2.8,-1.9l-3.3,0.3zM36.6,16.5l6,-3m0.4,0.8l2.5,-2.2l-3.3,0.7zM36.6,21.7l4.4,-2m0.3,0.6l1.9,-1.5l-2.4,0.4zM36.6,27l4.5,-1m0.1,0.6l2.1,-1.1l-2.4,-0.1zM36.6,42.8l6.6,-3m0.4,0.9l2.9,-2.4l-3.7,0.6zM36.6,48.1l5.1,-3.3m0.4,0.6l2.1,-2.3l-2.9,1zM36.6,53.3l4.8,-0.9m0.1,0.6l2.3,-1l-2.5,-0.2zM36.6,58.6l4.8,-1.4m0.2,0.6l2.2,-1.3l-2.5,0.1zM36.6,63.8l2.6,5.1m-0.7,0.3l1.9,2.2l-0.6,-2.9zM36.6,69.1l-0.7,9.2m-1.2,-0.1l0.8,4.6l1.5,-4.4zM36.6,74.4l3.1,6.2m-0.8,0.4l2.3,2.6l-0.7,-3.4zM36.6,79.6l2.8,5m-0.6,0.4l2,2.1l-0.7,-2.8zM48.9,5.9l7,-1.6m0.2,0.9l3.3,-1.7l-3.7,-0.1zM48.9,11.2l7.2,-1.6m0.2,0.9l3.3,-1.7l-3.7,-0.1zM48.9,16.5l3.4,-2.9m0.4,0.5l1.3,-1.9l-2.1,1zM48.9,21.7l4.3,-1.5m0.2,0.6l1.9,-1.3l-2.3,0.2zM48.9,27l5.3,-2.5m0.3,0.7l2.3,-1.9l-2.9,0.5zM48.9,42.8l4.3,-3.4m0.4,0.5l1.7,-2.2l-2.5,1.1zM48.9,48.1l4.2,-0.5m0.1,0.6l2,-0.8l-2.1,-0.4zM48.9,53.3l6.7,-0.8m0.1,0.9l3.2,-1.2l-3.4,-0.5zM48.9,58.6l6.5,-2.2m0.3,0.8l2.9,-1.9l-3.5,0.3zM48.9,63.8l0.8,6.7m-0.9,0.1l1.3,3.2l0.5,-3.4zM48.9,69.1l4.9,8.1m-1,0.6l3.4,3.3l-1.4,-4.6zM48.9,74.4l2.3,6.3m-0.8,0.3l1.9,2.8l-0.3,-3.4zM48.9,79.6l4.5,8.3m-1.1,0.6l3.3,3.5l-1.2,-4.7zM61.1,5.9l4.8,-4.3m0.5,0.6l1.8,-2.7l-2.9,1.5zM61.1,11.2l5.6,-2.8m0.4,0.7l2.4,-2.1l-3.1,0.7zM61.1,16.5l3.7,-4.5m0.6,0.5l1.2,-2.7l-2.4,1.7zM61.1,21.7l5.1,-5.1m0.7,0.7l1.8,-3.2l-3.2,1.9zM61.1,27l5.4,-2.3m0.3,0.7l2.4,-1.8l-3,0.4zM61.1,42.8l4.5,-0.5m0.1,0.6l2.1,-0.9l-2.3,-0.3zM61.1,48.1l1.5,-2.9m0.5,0.3l0.2,-1.7l-1.3,1.2zM61.1,53.3l1.8,-3.2m0.5,0.3l0.4,-1.9l-1.4,1.3zM61.1,58.6l0.2,-4.5m0.6,0l-0.5,-2.2l-0.7,2.2zM61.1,63.8l-0.7,-4.4m0.6,-0.1l-0.9,-2.1l-0.2,2.3zM73.3,5.9l5.6,-4.9m0.6,0.7l2.1,-3.1l-3.4,1.7zM73.3,11.2l5.2,-4.1m0.5,0.7l2,-2.7l-3.1,1.3zM73.3,16.5l2.6,-3.6m0.5,0.4l0.8,-2.1l-1.8,1.4zM73.3,21.7l4.2,-5m0.6,0.5l1.4,-3l-2.7,1.9zM73.3,27l5,-5.4m0.7,0.6l1.8,-3.3l-3.2,2zM85.5,48.1l1.6,5.1m-0.7,0.2l1.5,2.3l-0.1,-2.7zM85.5,53.3l1.8,4.5m-0.6,0.2l1.5,2l-0.3,-2.5zM85.5,58.6l1.5,3.7m-0.6,0.2l1.3,1.6l-0.2,-2zM97.7,0.7l1.8,4.9m-0.6,0.2l1.5,2.2l-0.3,-2.6zM97.7,5.9l0.7,6.4m-0.8,0.1l1.2,3.1l0.5,-3.3zM97.7,69.1l7.7,2.4m-0.3,1l4.1,0.2l-3.5,-2.2zM97.7,74.4l7.1,1m-0.1,0.9l3.6,-0.4l-3.4,-1.4zM97.7,79.6l7.7,-0.8m0.1,1l3.7,-1.4l-3.9,-0.6zM109.9,69.1l6.9,0.7m-0.1,0.9l3.5,-0.5l-3.3,-1.2zM109.9,74.4l8.2,0.4m-0.1,1l4.1,-0.8l-4,-1.3zM109.9,79.6l5.1,1.5m-0.2,0.6l2.7,0.1l-2.3,-1.4zM122.1,5.9l-7.1,-3.5m0.4,-0.9l-3.9,-0.8l3.1,2.6zM122.1,11.2l-7.2,0.1m0,-0.9l-3.5,1l3.6,0.8zM122.1,16.5l-6.8,-3.5m0.4,-0.9l-3.8,-0.8l2.9,2.6zM122.1,69.1l6,2.6m-0.3,0.8l3.3,0.5l-2.6,-2.1zM122.1,74.4l7.8,2.8m-0.4,1l4.2,0.4l-3.5,-2.4zM122.1,79.6l6.7,4m-0.5,0.9l3.8,1.1l-2.8,-2.8zM134.4,5.9l-5.3,-2.8m0.4,-0.7l-3,-0.7l2.2,2.1zM134.4,11.2l-4.9,-1.1m0.1,-0.6l-2.6,0.1l2.3,1.1zM134.4,16.5l-7,-0.9m0.1,-0.9l-3.6,0.5l3.3,1.3zM134.4,69.1l8.4,0.2m0,1.1l4.1,-1l-4.1,-1.2zM134.4,74.4l5.1,-0.8m0.1,0.7l2.4,-1l-2.6,-0.3zM134.4,79.6l7.1,3.4m-0.4,0.9l3.9,0.8l-3,-2.6zM146.6,42.8l-6,-1.1m0.1,-0.8l-3.1,0.2l2.8,1.3zM158.8,5.9l0,9.6m-1.2,0l1.2,4.7l1.2,-4.7zM158.8,11.2l-0.9,9.8m-1.3,-0.1l0.8,4.9l1.7,-4.7zM158.8,16.5l0,9.6m-1.2,0l1.2,4.7l1.2,-4.7zM158.8,21.7l-0.5,9m-1.2,-0.1l0.9,4.5l1.4,-4.4zM158.8,27l-0.9,8.9m-1.1,-0.1l0.7,4.5l1.6,-4.3zM158.8,32.3l-0.4,9.4m-1.2,0l1,4.7l1.4,-4.6zM158.8,37.5l-1.1,9.5m-1.2,-0.1l0.7,4.8l1.8,-4.5zM171,48.1l0.3,-10.6m1.3,0l-1.1,-5l-1.5,5zM171,53.3l0.4,-11.1m1.3,0l-1.1,-5l-1.5,4.9zM171,58.6l0.8,-11.2m1.3,0.1l-0.9,-5.1l-1.7,4.9zM171,63.8l1.1,-11.1m1.3,0.1l-0.8,-5.1l-1.8,4.8zM171,69.1l0.8,-11.7m1.3,0.1l-1,-5.1l-1.6,4.9zM171,74.4l0.7,-11.5m1.3,0.1l-1,-5.1l-1.6,4.9zM183.2,16.5l-3.7,-3.2m0.4,-0.5l-2.2,-1.1l1.4,2.1zM183.2,21.7l-2.6,-3m0.5,-0.4l-1.7,-1.1l0.8,1.9zM183.2,27l-1.5,-2.9m0.5,-0.3l-1.3,-1.2l0.2,1.7zM183.2,32.3l-1.2,-3.3m0.6,-0.2l-1.2,-1.4l0,1.8zM183.2,37.5l-0.8,-3.5m0.6,-0.1l-1,-1.6l-0.2,1.9zM183.2,48.1l9.1,2.2m-0.3,1.2l4.8,-0.1l-4.2,-2.2zM183.2,53.3l5.4,2.9m-0.4,0.7l3,0.7l-2.3,-2.1zM183.2,58.6l8.8,4.7m-0.6,1.1l4.9,1.2l-3.7,-3.5zM195.4,16.5l-2.2,-2.1m0.4,-0.4l-1.6,-0.7l0.7,1.5zM195.4,21.7l-2.7,-4.1m0.5,-0.3l-1.9,-1.7l0.8,2.3zM195.4,27l-1.9,-2.9m0.5,-0.3l-1.4,-1.1l0.4,1.8zM195.4,32.3l-3.4,-3.3m0.4,-0.4l-2.1,-1.2l1.2,2.1zM195.4,37.5l-2.9,-3.1m0.4,-0.4l-1.9,-1.1l1,2zM195.4,48.1l7.6,0.2m0,1l3.8,-0.9l-3.7,-1.1zM195.4,53.3l6.2,2.6m-0.3,0.8l3.4,0.5l-2.7,-2.1zM195.4,58.6l7.6,3.9m-0.5,1l4.2,1l-3.2,-2.9zM207.6,11.2l-3.9,6.5m-0.8,-0.5l-1.1,3.7l2.7,-2.7zM207.6,16.5l0.3,6.2m-0.8,0l1,3l0.6,-3.1zM207.6,21.7l-3.6,8.2m-1,-0.5l-0.7,4.5l2.8,-3.6zM207.6,27l-3.5,5.4m-0.7,-0.5l-1,3.1l2.4,-2.2zM207.6,32.3l-0.1,7.4m-1,0l0.9,3.7l1,-3.7zM207.6,48.1l6,3m-0.4,0.8l3.4,0.7l-2.6,-2.3zM207.6,53.3l5.8,3.1m-0.4,0.7l3.3,0.8l-2.5,-2.3zM207.6,58.6l3.4,6.6m-0.8,0.4l2.5,2.8l-0.8,-3.7zM207.6,63.8l6.3,5.4m-0.7,0.8l3.8,1.9l-2.4,-3.5zM207.6,69.1l4.6,6.2m-0.8,0.6l3.1,2.5l-1.5,-3.7zM207.6,74.4l0.6,8.5m-1.1,0.1l1.4,4.1l0.8,-4.2zM207.6,79.6l1.3,6.3m-0.8,0.2l1.4,2.9l0.2,-3.3zM219.9,11.2l-1.2,6.4m-0.8,-0.1l0.2,3.3l1.4,-3zM219.9,16.5l-0.3,5m-0.6,0l0.5,2.5l0.8,-2.4zM219.9,21.7l-4.5,6.4m-0.8,-0.6l-1.4,3.7l3,-2.6zM219.9,27l-3.4,6.3m-0.8,-0.4l-0.8,3.6l2.5,-2.7zM219.9,32.3l-1.4,5.9m-0.7,-0.2l0.1,3.1l1.4,-2.7zM219.9,37.5l-17.8,4.6m-0.3,-1.3l-4.5,2.5l5.2,0zM219.9,42.8l-14.3,0.7m-0.1,-1.3l-4.9,1.5l5.1,1.1zM219.9,48.1l8.7,5m-0.6,1.1l4.9,1.4l-3.6,-3.6zM219.9,53.3l6.3,-0.1m0,0.8l3.1,-0.8l-3.1,-0.8zM219.9,58.6l6.4,3.5m-0.5,0.8l3.6,0.9l-2.7,-2.6zM219.9,63.8l4.1,3.7m-0.5,0.5l2.5,1.3l-1.6,-2.3zM219.9,69.1l1.7,5.7m-0.7,0.2l1.6,2.6l-0.1,-3zM219.9,74.4l1.2,8m-1,0.2l1.6,3.8l0.4,-4.1zM219.9,79.6l3.6,6.8m-0.9,0.5l2.6,2.9l-0.9,-3.8zM232.1,27l-19.9,-3.1m0.2,-1.3l-5.1,0.5l4.7,2zM232.1,32.3l-15.2,2.3m-0.2,-1.3l-4.8,2l5.1,0.6zM232.1,37.5l-17.5,1.5m-0.1,-1.3l-4.9,1.7l5.1,0.9zM232.1,42.8l-13.7,-0.1m0,-1.3l-5,1.3l5,1.3zM232.1,58.6l7.5,4.7m-0.6,1l4.3,1.4l-3.1,-3.3zM232.1,63.8l3.4,6.6m-0.8,0.4l2.5,2.8l-0.8,-3.7zM232.1,69.1l3.6,6.2m-0.8,0.5l2.5,2.6l-1,-3.5zM232.1,74.4l1.5,5.2m-0.7,0.2l1.4,2.4l-0.1,-2.8zM232.1,79.6l3.3,4.7m-0.6,0.4l2.2,1.9l-1,-2.7zM244.3,27l-21.9,-1m0.1,-1.3l-5.1,1.1l4.9,1.5zM244.3,32.3l-21.9,-6.1m0.4,-1.3l-5.2,-0.1l4.5,2.6zM244.3,37.5l-18.2,-3.6m0.2,-1.3l-5.2,0.3l4.7,2.2zM244.3,42.8l-17.9,-2.9m0.2,-1.3l-5.1,0.5l4.7,2.1zM244.3,69.1l3.2,5.6m-0.7,0.4l2.3,2.3l-0.9,-3.1zM244.3,74.4l4.9,5.6m-0.7,0.6l3.2,2.1l-1.7,-3.4zM244.3,79.6l1,7.5m-1,0.1l1.4,3.6l0.5,-3.8zM256.5,27l-16.2,4.4m-0.3,-1.3l-4.5,2.6l5.2,-0.1zM256.5,32.3l-23.8,7.1m-0.4,-1.2l-4.4,2.7l5.2,-0.2zM256.5,37.5l-24,9.2m-0.5,-1.2l-4.2,3l5.1,-0.6zM256.5,42.8l-25.5,-3.1m0.2,-1.3l-5.1,0.7l4.8,1.9zM256.5,48.1l-9.8,10m-0.9,-0.9l-2.6,4.5l4.4,-2.7zM256.5,53.3l-11.9,4.4m-0.5,-1.2l-4.2,3l5.1,-0.5zM256.5,58.6l-7,3.8m-0.5,-0.9l-2.9,2.8l3.9,-1zM268.7,27l-13,0.1m0,-1.3l-5,1.3l5,1.3zM268.7,32.3l-25,-6.7m0.3,-1.3l-5.2,0l4.5,2.5zM268.7,37.5l-16.8,-4.9m0.4,-1.2l-5.2,-0.1l4.4,2.6zM268.7,42.8l-26.5,-5.6m0.3,-1.3l-5.2,0.2l4.6,2.3zM268.7,48.1l-8.7,2.6m-0.3,-1.1l-4,2.4l4.6,-0.1zM268.7,53.3l-9.5,9.4m-0.9,-0.9l-2.6,4.4l4.5,-2.6zM268.7,58.6l-7.9,5.2m-0.7,-1l-3.2,3.6l4.6,-1.6zM268.7,63.8l-5.6,-3.5m0.4,-0.7l-3.2,-1l2.3,2.4zM268.7,69.1l-2.4,-4.5m0.6,-0.3l-1.7,-1.9l0.6,2.5zM268.7,74.4l-5.3,-3.4m0.4,-0.7l-3,-1l2.2,2.4zM268.7,79.6l-3.1,-5.4m0.7,-0.4l-2.2,-2.3l0.8,3.1zM280.9,27l-18,-5.8m0.4,-1.2l-5.2,-0.3l4.4,2.8zM280.9,32.3l-17.1,-3.4m0.3,-1.3l-5.2,0.3l4.7,2.2zM280.9,37.5l-16.8,-1.8m0.1,-1.3l-5.1,0.7l4.8,1.8zM280.9,42.8l-20.4,-1.2m0.1,-1.3l-5.1,1l4.9,1.6zM280.9,48.1l-12.6,4.5m-0.4,-1.2l-4.3,2.9l5.1,-0.5zM280.9,53.3l-9.6,4.3m-0.5,-1.2l-4,3.2l5.1,-0.9zM280.9,58.6l-11.9,8.8m-0.8,-1l-3.2,4l4.8,-1.9zM280.9,63.8l-5.1,-4.7m0.6,-0.7l-3.1,-1.7l1.9,3zM280.9,69.1l-3.4,-5.2m0.7,-0.4l-2.3,-2.1l1,3zM280.9,74.4l-3.2,-3.5m0.5,-0.4l-2,-1.3l1.1,2.1zM280.9,79.6l-1.7,-4.3m0.6,-0.2l-1.4,-1.9l0.3,2.3z" stroke="#000" stroke-width="1" fill="#000"/>
<rect x="241.7" y="0" width="43.3" height="18.6" fill="#fff"/>
</svg>
<rect x="0" y="0" width="285" height="81.3" fill="none" stroke="#555" stroke-width="0.7"/>
<path d="M0,0 v-3 M0,81.3 v3 M40.7,0 v-3 M40.7,81.3 v3 M81.4,0 v-3 M81.4,81.3 v3 M122.1,0 v-3 M122.1,81.3 v3 M162.9,0 v-3 M162.9,81.3 v3 M203.6,0 v-3 M203.6,81.3 v3 M244.3,0 v-3 M244.3,81.3 v3 M285,0 v-3 M285,81.3 v3 M0,0 h-3.2 M285,0 h3.2 M0,20.3 h-3.2 M285,20.3 h3.2 M0,40.6 h-3.2 M285,40.6 h3.2 M0,61 h-3.2 M285,61 h3.2 M0,81.3 h-3.2 M285,81.3 h3.2" stroke="#333" stroke-width="0.7" fill="none"/>
<text x="-1.3" y="104.1" text-anchor="middle" font-size="13.1">90<tspan dy="-6.6" dx="0.4" font-size="10">°</tspan><tspan dy="6.6" dx="0.8">W</tspan></text>
<text x="39.4" y="104.1" text-anchor="middle" font-size="13.1">60<tspan dy="-6.6" dx="0.4" font-size="10">°</tspan><tspan dy="6.6" dx="0.8">W</tspan></text>
<text x="80.1" y="104.1" text-anchor="middle" font-size="13.1">30<tspan dy="-6.6" dx="0.4" font-size="10">°</tspan><tspan dy="6.6" dx="0.8">W</tspan></text>
<text x="123.3" y="104.1" text-anchor="middle" font-size="13.1">0<tspan dy="-6.6" dx="0.4" font-size="10">°</tspan></text>
<text x="161.6" y="104.1" text-anchor="middle" font-size="13.1">30<tspan dy="-6.6" dx="0.4" font-size="10">°</tspan><tspan dy="6.6" dx="0.8">E</tspan></text>
<text x="202.3" y="104.1" text-anchor="middle" font-size="13.1">60<tspan dy="-6.6" dx="0.4" font-size="10">°</tspan><tspan dy="6.6" dx="0.8">E</tspan></text>
<text x="243" y="104.1" text-anchor="middle" font-size="13.1">90<tspan dy="-6.6" dx="0.4" font-size="10">°</tspan><tspan dy="6.6" dx="0.8">E</tspan></text>
<text x="283.7" y="104.1" text-anchor="middle" font-size="13.1">120<tspan dy="-6.6" dx="0.4" font-size="10">°</tspan><tspan dy="6.6" dx="0.8">E</tspan></text>
<text x="-9" y="6.7" text-anchor="end" font-size="13.1">30<tspan dy="-6.6" dx="0.4" font-size="10">°</tspan><tspan dy="6.6" dx="0.8">N</tspan></text>
<text x="-9" y="27" text-anchor="end" font-size="13.1">15<tspan dy="-6.6" dx="0.4" font-size="10">°</tspan><tspan dy="6.6" dx="0.8">N</tspan></text>
<text x="-9" y="45.4" text-anchor="end" font-size="13.1">EQ</text>
<text x="-9" y="67.7" text-anchor="end" font-size="13.1">15<tspan dy="-6.6" dx="0.4" font-size="10">°</tspan><tspan dy="6.6" dx="0.8">S</tspan></text>
<text x="-9" y="88" text-anchor="end" font-size="13.1">30<tspan dy="-6.6" dx="0.4" font-size="10">°</tspan><tspan dy="6.6" dx="0.8">S</tspan></text>
<text x="283.5" y="11.9" text-anchor="end" font-size="13.6" textLength="39.4" lengthAdjust="spacingAndGlyphs">5 mon</text>
<text x="0.3" y="-6" font-size="17.2" font-weight="bold">g</text>
</g>
<g transform="translate(383.2,451.6)">
<svg x="0" y="0" width="285" height="81.3" viewBox="0 0 285 81.3" overflow="hidden">
<rect x="0" y="0" width="285" height="81.3" fill="#fff"/>
<path d="M56.2,23.5C58.9,21.5 65.2,21.7 68.7,20.3C72.2,18.9 75.1,15.3 77,15.1C79,14.9 80.9,17.5 80.2,19.3C79.5,21 74.8,23.1 72.9,25.5C71,28 71.1,32.1 68.7,33.9C66.3,35.6 61,36.3 58.3,36C55.5,35.6 52.3,33.9 52,31.8C51.6,29.7 53.4,25.4 56.2,23.5Z" fill="#fddbc7"/>
<path d="M10.2,17.2C12,15.3 16.2,13.2 20.7,12C25.2,10.8 31.8,10.6 37.4,9.9C42.9,9.2 48.9,8 54.1,7.8C59.3,7.6 65.6,8 68.7,8.8C71.8,9.7 72.5,11.3 72.9,13C73.2,14.8 72.9,18.1 70.8,19.3C68.7,20.5 63.1,19.4 60.3,20.3C57.6,21.2 55.5,22.9 54.1,24.5C52.7,26.1 53.4,29.2 52,29.7C50.6,30.2 47.5,28.5 45.7,27.6C44,26.8 44.3,25 41.6,24.5C38.8,24 32.9,24.1 29,24.5C25.2,24.8 21.7,26.8 18.6,26.6C15.5,26.4 11.6,25 10.2,23.5C8.8,21.9 8.5,19.1 10.2,17.2Z" fill="#f4a582"/>
<path d="M-2.3,22.4C-0.5,21.4 6.2,20.7 8.2,21.4C10.1,22.1 10.9,25.5 9.2,26.6C7.5,27.6 -0.4,28.3 -2.3,27.6C-4.2,26.9 -4,23.5 -2.3,22.4Z" fill="#f4a582"/>
<path d="M-2.3,27.2C-1.4,26.8 2.1,27.1 2.9,27.6C3.8,28.1 3.8,29.7 2.9,30.1C2.1,30.5 -1.4,30.6 -2.3,30.1C-3.2,29.6 -3.2,27.6 -2.3,27.2Z" fill="#d6604d"/>
<path d="M4,0.1C4.8,-0.4 9.3,0.1 10.2,0.9C11.2,1.7 10.7,4.2 9.8,4.7C9,5.1 6,4.4 5,3.6C4,2.9 3.1,0.5 4,0.1Z" fill="#d1e5f0"/>
<path d="M20.7,0.5C21.7,0.1 26,0.1 26.9,0.5C27.9,0.8 27.5,2.2 26.5,2.6C25.5,2.9 22.1,2.9 21.1,2.6C20.1,2.2 19.7,0.8 20.7,0.5Z" fill="#d1e5f0"/>
<path d="M48.9,31.8C49.6,31 58.4,35.8 62.4,36.4C66.4,37 68.7,36.6 72.9,35.6C77,34.5 83.8,32.5 87.5,30.1C91.1,27.8 92.5,22.4 94.8,21.4C97,20.3 98.6,22.2 101,23.9C103.5,25.5 105.4,30.3 109.4,31.4C113.4,32.4 120.7,30.1 125.1,30.1C129.4,30.1 132,30.7 135.5,31.4C139,32.1 144.2,27 145.9,34.3C147.7,41.6 148,68.8 145.9,75.2C143.8,81.7 137.6,73 133.4,73.1C129.2,73.3 125.1,76.3 120.9,76.3C116.7,76.3 112.5,74 108.4,73.1C104.2,72.3 100,71.7 95.8,71C91.7,70.4 87.1,69.7 83.3,69C79.5,68.2 75.7,68.1 73.3,66.5C70.8,64.9 68.8,62 68.7,59.4C68.6,56.7 72.9,52.9 72.9,50.6C72.9,48.3 71.1,46.9 68.7,45.4C66.3,43.8 61.6,43.7 58.3,41.4C54.9,39.1 48.2,32.6 48.9,31.8Z" fill="#fddbc7"/>
<path d="M52,32.8C52.3,32.5 58.9,37.4 62.4,38.1C65.9,38.8 68.7,38.1 72.9,37C77,36 83.7,34.1 87.5,31.8C91.3,29.5 93.7,24.5 95.8,23.5C97.9,22.4 97.9,24 100,25.5C102.1,27.1 104.2,31.8 108.4,32.8C112.5,33.9 120.5,31.8 125.1,31.8C129.6,31.8 132,32.1 135.5,32.8C139,33.5 144.2,29.2 145.9,36C147.7,42.8 148,67.6 145.9,73.6C143.8,79.5 137.6,71.3 133.4,71.5C129.2,71.6 125.1,74.6 120.9,74.6C116.7,74.6 112.5,72.3 108.4,71.5C104.2,70.6 100,70.1 95.8,69.4C91.7,68.7 86.8,68 83.3,67.3C79.8,66.6 77,66.6 75,65.2C72.9,63.8 70.8,61.4 70.8,58.9C70.8,56.5 75,53 75,50.6C75,48.2 73.2,46.1 70.8,44.3C68.3,42.6 63.5,42.1 60.3,40.2C57.2,38.2 51.6,33.2 52,32.8Z" fill="#f4a582"/>
<path d="M83.3,40.2C84.5,38.1 88.2,36.8 91.7,36C95.1,35.1 100,34.9 104.2,34.9C108.4,34.9 111.8,35.6 116.7,36C121.6,36.3 128.5,36.3 133.4,37C138.3,37.7 143.8,35.1 145.9,40.2C148,45.2 148,63.1 145.9,67.3C143.8,71.5 136.9,64.9 133.4,65.2C129.9,65.6 127.1,67.6 125.1,69.4C123,71.1 123,75.3 120.9,75.6C118.8,76 116,72.7 112.5,71.5C109.1,70.2 103.8,69.4 100,68.3C96.2,67.3 92.3,66.8 89.6,65.2C86.8,63.6 84.2,61.7 83.3,58.9C82.4,56.2 84.3,51.6 84.3,48.5C84.3,45.4 82.1,42.2 83.3,40.2Z" fill="#d6604d"/>
<path d="M106.3,42.2C106.3,42.6 106.1,43.1 105.9,43.5C105.6,43.8 105.2,44.1 104.8,44.2C104.4,44.4 103.9,44.4 103.5,44.2C103.1,44.1 102.7,43.8 102.5,43.5C102.3,43.1 102.1,42.6 102.1,42.2C102.1,41.8 102.3,41.3 102.5,41C102.7,40.7 103.1,40.4 103.5,40.3C103.9,40.1 104.4,40.1 104.8,40.3C105.2,40.4 105.6,40.7 105.9,41C106.1,41.3 106.3,41.8 106.3,42.2Z" fill="#b2182b"/>
<path d="M139,49.5C139,50.6 138.9,51.8 138.6,52.6C138.3,53.4 137.8,54.2 137.3,54.5C136.8,54.8 136.2,54.8 135.8,54.5C135.3,54.2 134.8,53.4 134.5,52.6C134.2,51.8 134,50.6 134,49.5C134,48.5 134.2,47.3 134.5,46.5C134.8,45.7 135.3,44.9 135.8,44.6C136.2,44.3 136.8,44.3 137.3,44.6C137.8,44.9 138.3,45.7 138.6,46.5C138.9,47.3 139,48.5 139,49.5Z" fill="#b2182b"/>
<path d="M103.1,65.2C103.1,65.5 102.9,65.9 102.5,66.2C102.2,66.4 101.6,66.7 101,66.8C100.4,66.9 99.6,66.9 99,66.8C98.5,66.7 97.8,66.4 97.5,66.2C97.1,65.9 96.9,65.5 96.9,65.2C96.9,64.9 97.1,64.5 97.5,64.2C97.8,64 98.5,63.7 99,63.6C99.6,63.5 100.4,63.5 101,63.6C101.6,63.7 102.2,64 102.5,64.2C102.9,64.5 103.1,64.9 103.1,65.2Z" fill="#b2182b"/>
<path d="M119.4,72.5C119.4,72.8 119.3,73.2 119.1,73.5C118.9,73.8 118.6,74 118.3,74.1C118,74.2 117.5,74.2 117.2,74.1C116.9,74 116.6,73.8 116.4,73.5C116.2,73.2 116.1,72.8 116.1,72.5C116.1,72.2 116.2,71.8 116.4,71.5C116.6,71.3 116.9,71 117.2,70.9C117.5,70.8 118,70.8 118.3,70.9C118.6,71 118.9,71.3 119.1,71.5C119.3,71.8 119.4,72.2 119.4,72.5Z" fill="#b2182b"/>
<path d="M54.5,79.8C54.4,78.4 58.9,74.5 62,73.6C65.1,72.6 68.4,73.9 72.9,74.4C77.3,74.9 85.1,75.4 88.5,76.7C91.9,77.9 97.7,81 93.3,81.9C89,82.8 68.9,82.7 62.4,82.3C56,82 54.6,81.3 54.5,79.8Z" fill="#d1e5f0"/>
<path d="M56.2,79.4C56.2,78.3 59.6,75.6 62.4,75C65.2,74.4 68.7,75.4 72.9,75.8C77,76.3 84.3,77 87.5,77.9C90.6,78.9 95.8,80.8 91.7,81.5C87.5,82.1 68.3,82.3 62.4,81.9C56.5,81.6 56.2,80.5 56.2,79.4Z" fill="#92c5de"/>
<path d="M11.3,48.5C11.5,46.6 13.5,47.8 14.4,49.5C15.3,51.3 15.5,56 16.5,58.9C17.5,61.9 18.9,65.6 20.7,67.3C22.4,69 26.1,68 26.9,69.4C27.8,70.8 26.9,73.6 25.9,75.6C24.9,77.7 22.9,80.9 20.7,81.9C18.4,82.9 14.1,83.3 12.3,81.9C10.6,80.5 9.5,75.3 10.2,73.6C10.9,71.8 16,73.6 16.5,71.5C17,69.4 14.2,64.9 13.4,61C12.5,57.2 11.1,50.4 11.3,48.5Z" fill="#d1e5f0"/>
<path d="M15.5,77.7C16.8,76.7 21.7,74.9 22.8,75.6C23.8,76.3 23.1,80.9 21.7,81.9C20.3,82.9 15.5,82.6 14.4,81.9C13.4,81.2 14.1,78.8 15.5,77.7Z" fill="#92c5de"/>
<path d="M21.3,79.2C21.3,79.5 21.2,79.9 21,80.2C20.8,80.4 20.5,80.7 20.1,80.8C19.8,80.9 19.4,80.9 19.1,80.8C18.8,80.7 18.5,80.4 18.3,80.2C18.1,79.9 18,79.5 18,79.2C18,78.9 18.1,78.5 18.3,78.2C18.5,77.9 18.8,77.7 19.1,77.6C19.4,77.5 19.8,77.5 20.1,77.6C20.5,77.7 20.8,77.9 21,78.2C21.2,78.5 21.3,78.9 21.3,79.2Z" fill="#4393c3"/>
<path d="M-2.3,57.9C-1.2,57.3 3,57.6 4,58.3C4.9,59 4.6,61.4 3.6,62.1C2.5,62.7 -1.3,62.8 -2.3,62.1C-3.3,61.4 -3.3,58.5 -2.3,57.9Z" fill="#f4a582"/>
<path d="M192.9,21.4C195.7,18.6 200.6,17.5 203.3,15.1C206.1,12.7 207.5,8 209.6,6.8C211.7,5.5 214.1,6.8 215.9,7.8C217.6,8.8 218.5,10.4 220,13C221.6,15.6 223.2,20.7 225.3,23.5C227.3,26.2 230,30.4 232.6,29.7C235.2,29 231.5,21.2 240.9,19.3C250.3,17.4 280.9,15.1 288.9,18.2C296.9,21.4 292.4,34.8 288.9,38.1C285.5,41.4 273.6,38.2 268.1,38.1C262.5,37.9 259.7,36.7 255.5,37C251.4,37.4 245.8,38.2 243,40.2C240.2,42.1 240.2,45.7 238.8,48.5C237.4,51.3 236.7,54.8 234.7,56.9C232.6,58.9 228.7,59.3 226.3,61C223.9,62.8 223.5,66.1 220,67.3C216.6,68.5 209.6,68.3 205.4,68.3C201.3,68.3 197.6,68.9 195,67.3C192.4,65.7 191.5,60.2 189.8,58.9C188,57.7 186.6,60.7 184.6,60C182.5,59.3 178.6,57 177.2,54.8C175.9,52.5 175.5,49 176.2,46.4C176.9,43.8 179.7,41.5 181.4,39.1C183.2,36.7 184.7,34.8 186.6,31.8C188.6,28.8 190.1,24.1 192.9,21.4Z" fill="#f4a582"/>
<path d="M226.3,41.2C228.4,39.5 238.1,39.3 240.9,40.2C243.7,41 244,44.3 243,46.4C242,48.5 237.1,52 234.7,52.7C232.2,53.4 229.8,52.5 228.4,50.6C227,48.7 224.2,42.9 226.3,41.2Z" fill="#fddbc7"/>
<path d="M206.5,7.8C207.3,6.2 212.2,5.1 213.8,6.3C215.3,7.6 216.7,13.5 215.9,15.1C215,16.7 210.1,17.4 208.6,16.1C207,14.9 205.6,9.4 206.5,7.8Z" fill="#fddbc7"/>
<path d="M222.1,70.4C222.5,68.9 228.4,66.4 232.6,65.2C236.7,64 242.7,64.9 247.2,63.1C251.7,61.4 255.5,56.5 259.7,54.8C263.9,53 268.8,52 272.2,52.7C275.7,53.4 279.5,56.2 280.6,58.9C281.6,61.7 279.9,66.2 278.5,69.4C277.1,72.5 275.4,76.2 272.2,77.7C269.1,79.3 264.6,79.1 259.7,78.8C254.8,78.4 247.9,76.3 243,75.6C238.1,74.9 234,75.5 230.5,74.6C227,73.7 221.8,72 222.1,70.4Z" fill="#f4a582"/>
<path d="M260.7,62.1C261.8,60.3 265.6,58.8 268.1,57.9C270.5,57 273.8,56 275.4,56.9C276.9,57.7 278,60.9 277.4,63.1C276.9,65.4 274.1,68.7 272.2,70.4C270.3,72.2 267.7,73.9 266,73.6C264.2,73.2 262.7,70.2 261.8,68.3C260.9,66.4 259.7,63.8 260.7,62.1Z" fill="#d6604d"/>
<path d="M190.8,48.5C192.1,47.4 196,45.5 199.2,45.4C202.3,45.2 206.6,46.8 209.6,47.5C212.6,48.2 216,48.5 216.9,49.5C217.8,50.6 216.7,53.1 214.8,53.7C212.9,54.3 208.4,53 205.4,53.1C202.5,53.2 199.4,54.5 197.1,54.3C194.7,54.2 192.3,53.2 191.2,52.3C190.2,51.3 189.5,49.7 190.8,48.5Z" fill="#d6604d"/>
<path d="M166.8,79.8C165.8,78.3 169.9,73.2 172,71.5C174.1,69.7 177.8,68.9 179.3,69.4C180.9,69.9 181.6,72.7 181.4,74.6C181.2,76.5 180.7,80 178.3,80.9C175.9,81.7 167.9,81.4 166.8,79.8Z" fill="#d1e5f0"/>
<path d="M168.9,79.4C168.5,78.5 172.5,76 174.1,75.6C175.7,75.3 178.4,76.4 178.7,77.3C179.1,78.2 177.8,80.5 176.2,80.9C174.6,81.2 169.2,80.3 168.9,79.4Z" fill="#92c5de"/>
<path d="M165.3,-2.6 171.6,-2.6 185.2,23 180.4,24.7Z" fill="#f4a582"/>
<path d="M186.6,-2.6 193.3,-2.6 200.8,6.8 197.5,9.7 190.8,5.9Z" fill="#f4a582"/>
<path d="M17.2,28.9 19.7,26.3 20.6,25.6 23.1,25.1 24.8,23.8 25.4,25.7 27.1,24.1 29.3,25.5 32.6,26.3 34.6,26.8 38,26.2 39.4,27.8 40.7,29.1 42.8,31.2 44.8,32.5 47.5,32.7 50.9,33.9 52.2,34.8 54.3,38.2 54.3,40.6 57,41.6 61.8,44 65.8,44.6 67.9,44.4 69.9,45.7 71.9,47.2 74.2,47.7 74.9,50.3 74.6,52.2 72.6,54.9 71.2,56.2 69.9,58.3 69.2,61 69.2,64.4 68.3,67.1 67.2,69.1 66.5,70.5 65.1,71.7 63.1,71.8 61.1,72.6 59,73.4 57,74.9 56.2,76.6 56.2,78.6 55,79.9 54,82 25.1,82 25.4,78.6 26.1,75.9 26.6,72.5 27,69.1 26.7,65.6 25.2,64.2 22.4,62.7 20.1,61.4 18.6,59.5 17.4,56.9 16,54.2 14.9,51.6 13.7,50 11.9,48.8 11.8,46.7 13.2,45.3 13.6,44 12.3,43.6 12.3,42 13.4,40.6 13.6,39.6 15.1,38.6 15.6,37.3 17,37.1 17.2,35.2 17,33.2 17.1,31.2 16.4,30.8 15.7,29.8 14.2,29 12.9,30.4 11.5,30.1 9.5,29.1 7.5,27.4 6,25.7 3.7,23.2 2,22.6 -1.4,22.2 -1.4,18.7 2,19.1 4.8,19.5 7.5,20.1 8.7,21.7 8.4,24.4 8.7,26 10,27.6 11.5,28.5 13.6,28.2 14.9,28 16.3,28.5Z M9.2,-0.7 9.8,2 11.1,4.3 12.8,4.6 13.2,2 12.2,-0.7Z M109,-0.7 108.6,1.4 106.5,2.7 104.5,3.1 102.5,5.4 100.4,8.1 99.1,11.5 100,14.2 99.8,18.3 98.4,20.7 99.3,23 99.5,24.4 101.8,25.7 103.4,27.4 104.2,29.1 106.5,31.3 109.2,33.5 112,34.7 115.4,33.7 118.1,33.7 119.4,34.1 122.1,33.1 123.8,32.4 125.5,32.1 128.2,32.2 129.6,33.9 131,34.8 133,34.6 134.4,35.2 135.3,36.6 135.2,39.3 134.8,40.6 134.1,41.6 135,43.4 137.1,46.1 138.4,47.4 138.8,48.9 139.8,51.5 140.3,52.8 140.9,55.6 139.1,58.9 138.4,61.7 138.2,64.4 139.1,66.4 140.5,69.1 141.8,71.8 142.5,75.9 143.2,77.9 144.5,79.5 145.2,82 164.2,82 164.2,81.2 165.6,79.7 166.7,77.2 166.4,75.7 168.3,74.4 170.3,73 170.1,70.5 169.6,68.4 169.4,67.5 171.7,65.7 173.7,64 176.4,62.6 177.5,60.3 177.1,57.6 177.1,54.9 176.2,52.8 175.5,50.1 175.1,48.8 175.3,47 176,46.1 177.1,44 178.5,43.1 179.8,41.3 181.9,39.3 183.9,37.8 186.6,35.2 188,33.2 189.3,30.5 190.7,27.8 191.6,26.4 191.8,24.7 190,25.1 187.3,25.5 184.6,26.2 182.5,26.6 180.9,25.1 180.8,23.7 179.8,22.4 177.8,20.7 176.2,19.6 175.1,17.6 173.7,15.9 172.8,14.2 172.6,12.2 171.7,10.2 170.3,8.1 169,5.4 168,3.4 166.4,0.3 166.2,-0.7Z M169.6,-0.7 169.5,0.7 169.6,2.7 171.7,5.4 173,7.7 174.8,10.2 175.3,12.2 177.1,14.2 178.5,16.3 179.8,18.3 180.5,21 181.2,23.4 183.2,23.3 185.9,22.4 188,21.7 190.7,20.3 193,19 194.8,18 196.8,17.3 198.8,15.6 200.4,14.2 200.9,12.9 202.2,11.5 203.3,10.2 201.7,8.7 199.5,8.1 198.7,6.8 198.6,5 198.1,5.8 196.1,7.7 193.4,7.9 192.2,7.7 192.2,6.1 191.6,5.3 191.1,6.8 190.3,5.8 190.1,4.5 188.6,3.4 188,2 187.3,0.7 188,-0.7Z M190,-0.7 191.1,1.4 192,2.8 194.1,4.3 196.1,4.6 198.1,3.9 199.5,4.3 200.2,5.8 202.2,6.2 205.6,6.5 208.3,6.4 210.4,6.4 212.4,6.2 213.1,7 213.8,8.4 215.1,8.9 215.8,10.3 217.1,12.5 219.9,12.2 220.5,11.2 220.9,12.9 220.9,14.9 221.6,17.6 222.3,19.6 223.2,22.4 224.3,24.8 225.6,27.1 226.4,28.9 227.3,29.7 228.3,28.7 229.4,28 230.4,26.7 230.6,24.4 231.1,22.9 230.8,20.3 231.8,19.2 233.8,18 235.5,16.5 237.5,14.5 239.5,13.3 240.2,12.2 241.6,11.2 242.9,11 245,10.4 246.3,10.2 247,12.2 248.1,13.6 249.4,14.9 250.1,16.3 250.3,18.3 250.1,19.1 251.8,19.2 253.5,18.2 254.5,18.3 254.9,20.3 255.4,22.4 256,24.4 256,26.4 255.6,28.5 255.6,29.8 256.5,30.5 257.9,31.8 258.4,33.9 258.9,35.2 259.6,36.9 261.2,37.9 262.6,38.8 263.6,38.8 263.3,37.3 262.5,35.9 262.5,34.6 261.7,33.1 260.8,32.2 259.9,31.3 258.5,30.8 257.9,29.1 257.2,28 256.9,26.4 257.6,24.7 257.9,23 258.5,22.4 259.2,23.4 261,24.1 261.9,25.7 263.3,26.4 264.4,26.6 264.6,28.9 266.7,27.5 267.6,26.4 270.1,25.1 270.5,23 270.1,20.3 269.1,19 267.4,17.6 266,15.6 265.7,14.2 266.9,12.9 268.7,11.5 270.8,11.5 271.4,13 272.1,11.9 274.1,11.1 276.9,10.3 279.6,9.6 281.6,8.4 283,7.2 284.3,5.8 285.7,4.7 285.7,-0.7Z M251.5,33.1 254.5,33.6 255.6,35 257.6,36.6 258.9,37.7 260.6,39.3 262.6,40.6 263,42 264,43.1 265.3,44 266,45 265.9,46.7 265.7,48.5 264.1,48.5 263.3,47.3 261,45.9 259.2,43.9 258.3,42 256.8,40.2 256.1,38.3 254.7,37.3 253.1,35.8 251.8,34.3Z M264.9,49.9 266,48.6 267.4,48.6 269.4,49.6 272.1,49.9 272.8,49.3 274.8,50 277.5,51.1 277.5,52.4 274.8,52 271.4,51.5 268.7,51.2 266.7,50.7Z M270.1,38.6 270.8,37.9 272.8,38.5 273.3,37.3 275.5,36.3 276.9,34.6 278.9,33.2 280.2,31.4 281.3,31.4 281.9,32.5 283.6,33.6 282.6,34.8 282,36.6 282.3,37.9 283.6,39.3 282,39.6 281.6,41.3 280.2,42.7 280.2,44.7 279.6,46.1 277.7,46.1 276.9,45.3 275.5,45 273.9,45.4 271.7,44.6 271.4,42.7 270.3,41.3 270.1,40Z M284.1,48.1 285.7,48.1 285.7,39.3 284.7,40 284.3,42 283.4,44.4 284.1,45.4Z M285.7,67.6 283.6,67.8 281.6,68.7 279.6,69 278.2,69.8 277,70.2 276.4,71.3 276.2,73.2 276,74.5 276.9,76.6 277.1,77.9 277.7,79.7 278.2,82 285.7,82Z M189.1,56.9 190,58.9 190.7,61.7 189.6,63 189.3,65 188.6,67.1 188,69.8 187,72.5 185.9,74.5 183.9,75.3 181.9,74.5 181.2,72.5 180.9,70.5 181.9,68.4 182.5,66.4 181.9,64.4 182.5,62.6 184.6,62.1 186.6,60.7 187.3,58.9 188.4,57.6Z" fill="#a9a9a9"/>
<path d="M0,0.7l-0.7,0.5m-0.1,-0.2l-0.5,0.6l0.8,-0.2zM0,5.9l-1.2,-1.2m0.2,-0.2l-1,-0.5l0.5,1zM0,32.3l0.7,2.2m-0.4,0.1l0.8,1.2l0,-1.4zM0,37.5l-1.2,0.2m0,-0.2l-0.7,0.4l0.8,0.1zM0,42.8l-1.6,3.2m-0.5,-0.2l-0.3,1.9l1.3,-1.4zM0,48.1l-0.8,0.1m0,-0.2l-0.8,0.3l0.8,0.2zM0,53.3l-0.7,-0.1m0,-0.2l-0.8,0.2l0.8,0.3zM0,58.6l0.6,1.5m-0.3,0.1l0.6,0.8l-0.1,-1zM0,63.8l2.7,-0.5m0.1,0.5l1.6,-0.8l-1.7,-0.2zM0,69.1l0.5,-2.3m0.4,0.1l-0.1,-1.5l-0.7,1.3zM12.2,0.7l0,-4.2m0.5,0l-0.5,-1.8l-0.5,1.8zM12.2,5.9l0.3,-2.1m0.4,0.1l-0.2,-1.3l-0.6,1.2zM12.2,32.3l-1.5,2.3m-0.4,-0.3l-0.5,1.7l1.3,-1.2zM12.2,37.5l-1.3,0.1m0,-0.2l-0.8,0.3l0.8,0.2zM12.2,42.8l-0.2,-1.1m0.2,-0.1l-0.4,-0.7l-0.1,0.8zM12.2,48.1l-0.1,-2.3m0.4,0l-0.5,-1.4l-0.4,1.4zM12.2,53.3l-3,-0.2m0,-0.5l-1.8,0.4l1.8,0.6zM12.2,58.6l-1.3,2.4m-0.4,-0.2l-0.3,1.7l1.2,-1.3zM12.2,63.8l-0.2,1.1m-0.2,0l0.1,0.8l0.4,-0.7zM12.2,69.1l1.3,-3.6m0.5,0.2l0.1,-1.9l-1.1,1.5zM12.2,74.4l1.9,-3.7m0.5,0.2l0.3,-1.9l-1.3,1.4zM12.2,79.6l0.7,-1.2m0.2,0.1l0.2,-0.9l-0.7,0.6zM24.4,0.7l-1.2,-3.7m0.5,-0.2l-1.1,-1.5l0,1.9zM24.4,5.9l0.3,-0.8m0.2,0.1l0,-0.8l-0.5,0.7zM24.4,32.3l-2.7,0.9m-0.2,-0.5l-1.5,1.1l1.9,-0.1zM24.4,37.5l0.2,-3.3m0.5,0l-0.4,-1.8l-0.7,1.8zM24.4,42.8l-1.5,-2.1m0.4,-0.3l-1.3,-1l0.6,1.6zM24.4,48.1l1.1,-0.9m0.2,0.2l0.5,-0.7l-0.8,0.4zM24.4,53.3l-0.2,-1.5m0.3,0l-0.4,-0.9l-0.2,1zM24.4,58.6l-0.7,0.4m-0.1,-0.2l-0.6,0.6l0.8,-0.2zM24.4,63.8l0.9,1.1m-0.2,0.2l0.7,0.5l-0.3,-0.8zM24.4,69.1l2.1,-0.9m0.2,0.4l1.1,-0.9l-1.5,0.2zM24.4,74.4l2.8,1m-0.2,0.5l1.9,0.1l-1.5,-1.1zM24.4,79.6l2.6,-0.2m0,0.5l1.6,-0.6l-1.7,-0.4zM36.6,0.7l0,-0.9m0.2,0l-0.2,-0.8l-0.3,0.8zM36.6,5.9l-0.3,-0.6m0.2,-0.1l-0.6,-0.6l0.1,0.8zM36.6,32.3l0,-2.8m0.5,0l-0.5,-1.7l-0.5,1.7zM36.6,37.5l0.3,-2.5m0.5,0.1l-0.3,-1.6l-0.7,1.5zM36.6,42.8l-1.1,-3.4m0.5,-0.2l-1.1,-1.5l0,1.9zM36.6,48.1l1.4,-2m0.4,0.3l0.5,-1.5l-1.2,0.9zM36.6,53.3l-0.4,-0.9m0.2,-0.1l-0.5,-0.6l0.1,0.8zM36.6,58.6l-0.3,-0.7m0.2,-0.1l-0.5,-0.6l0.1,0.8zM36.6,63.8l0.5,1.8m-0.3,0.1l0.6,1l0,-1.2zM36.6,69.1l2.4,1.5m-0.3,0.4l1.8,0.5l-1.2,-1.4zM36.6,74.4l2.7,2m-0.3,0.4l1.8,0.6l-1.1,-1.5zM36.6,79.6l1.1,-1m0.2,0.2l0.5,-0.8l-0.8,0.4zM48.9,0.7l-0.4,-0.7m0.2,-0.1l-0.6,-0.6l0.1,0.8zM48.9,5.9l-2.2,-1.7m0.3,-0.4l-1.7,-0.6l1.1,1.4zM48.9,32.3l-2.2,1.3m-0.2,-0.4l-1.1,1.2l1.6,-0.4zM48.9,37.5l-1.8,-0.7m0.1,-0.3l-1.2,-0.1l1,0.7zM48.9,42.8l0.2,-2.5m0.5,0l-0.3,-1.6l-0.6,1.5zM48.9,48.1l-2.1,-1.4m0.3,-0.4l-1.6,-0.4l1.1,1.2zM48.9,53.3l-3.7,0.6m-0.1,-0.5l-1.7,0.8l1.9,0.3zM48.9,58.6l-0.5,0.8m-0.2,-0.1l-0.2,0.8l0.6,-0.6zM61.1,0.7l0.2,-2.3m0.4,0l-0.3,-1.5l-0.6,1.4zM61.1,5.9l-1,-0.4m0.1,-0.2l-0.8,-0.1l0.7,0.5zM61.1,32.3l-2,1.3m-0.2,-0.4l-1,1.1l1.4,-0.4zM61.1,37.5l-2.9,2.6m-0.4,-0.4l-1,1.6l1.7,-0.8zM61.1,42.8l-0.3,-2.8m0.5,-0.1l-0.7,-1.7l-0.3,1.8zM61.1,58.6l0.3,1.9m-0.3,0.1l0.5,1.1l0.2,-1.2zM73.3,0.7l-2.8,-0.7m0.1,-0.5l-1.9,0.1l1.6,0.9zM73.3,5.9l-3.3,1m-0.2,-0.5l-1.6,1l1.9,0zM73.3,32.3l0.6,2.1m-0.4,0.1l0.8,1.2l0,-1.4zM73.3,37.5l0,1m-0.2,0l0.2,0.8l0.2,-0.8zM73.3,42.8l-2.1,1m-0.2,-0.4l-1.1,1l1.5,-0.2zM73.3,48.1l-0.7,3.9m-0.5,-0.1l0.2,1.9l0.9,-1.7zM73.3,53.3l-1,1.4m-0.3,-0.2l-0.3,1.1l0.9,-0.7zM73.3,58.6l1.7,-0.4m0.1,0.3l0.9,-0.5l-1.1,-0.1zM73.3,63.8l2.7,-0.6m0.1,0.5l1.6,-0.9l-1.8,-0.1zM73.3,69.1l-1.6,-0.7m0.1,-0.3l-1.1,-0.1l0.9,0.7zM85.5,0.7l0.5,0.5m-0.2,0.2l0.7,0.4l-0.4,-0.7zM85.5,5.9l-0.2,1.5m-0.3,0l0.2,0.9l0.4,-0.9zM85.5,32.3l1,0.6m-0.1,0.2l0.8,0.2l-0.6,-0.6zM85.5,37.5l0.7,1.3m-0.2,0.1l0.7,0.6l-0.2,-0.9zM85.5,42.8l2.3,1m-0.2,0.4l1.6,0.2l-1.2,-1zM85.5,48.1l1.1,0.2m0,0.2l0.8,-0.1l-0.8,-0.4zM85.5,53.3l1.9,1.7m-0.3,0.3l1.5,0.7l-0.8,-1.4zM85.5,58.6l2.2,-1m0.2,0.4l1.2,-1l-1.6,0.2zM85.5,63.8l-1.1,-0.1m0,-0.2l-0.8,0.1l0.8,0.3zM85.5,69.1l-1.4,1.4m-0.3,-0.3l-0.6,1.1l1.1,-0.6zM97.7,0.7l2.6,0.5m-0.1,0.5l1.7,-0.2l-1.5,-0.8zM97.7,5.9l1.1,0.5m-0.1,0.2l0.8,0.1l-0.6,-0.5zM97.7,11.2l1.8,-0.3m0.1,0.3l1,-0.5l-1.1,-0.1zM97.7,16.5l0.5,2.1m-0.4,0.1l0.7,1.2l0.1,-1.4zM97.7,21.7l0.8,1.3m-0.2,0.1l0.7,0.7l-0.2,-1zM97.7,27l-1.7,-0.8m0.2,-0.3l-1.2,-0.2l0.9,0.8zM97.7,32.3l1.4,-3.6m0.5,0.2l0.2,-1.9l-1.2,1.5zM97.7,37.5l-0.1,-2.5m0.5,0l-0.5,-1.5l-0.4,1.6zM97.7,42.8l2.2,1.6m-0.3,0.4l1.6,0.6l-1.1,-1.4zM97.7,48.1l2.1,-0.3m0,0.4l1.2,-0.5l-1.3,-0.2zM97.7,53.3l-0.1,-0.8m0.2,0l-0.3,-0.8l-0.2,0.8zM97.7,58.6l-2.5,-3.3m0.4,-0.3l-1.5,-1.1l0.6,1.8zM97.7,63.8l-1.2,0.2m0,-0.2l-0.7,0.4l0.8,0.1zM97.7,69.1l0,0.9m-0.2,0l0.2,0.8l0.2,-0.8zM109.9,0.7l2.3,0m0,0.4l1.4,-0.4l-1.4,-0.4zM109.9,5.9l-0.3,-0.6m0.2,-0.1l-0.6,-0.6l0.1,0.8zM109.9,11.2l1.1,0.1m0,0.2l0.8,-0.1l-0.8,-0.3zM109.9,16.5l1,-0.4m0.1,0.2l0.7,-0.5l-0.8,0.1zM109.9,21.7l1.1,3.3m-0.5,0.2l1.1,1.5l-0.1,-1.9zM109.9,27l-2.5,1.2m-0.2,-0.5l-1.3,1.2l1.8,-0.3zM109.9,32.3l-0.8,-0.3m0.1,-0.2l-0.8,-0.1l0.6,0.5zM109.9,37.5l-0.2,-1m0.2,0l-0.4,-0.8l-0.1,0.8zM109.9,48.1l1.9,-0.5m0.1,0.3l1.1,-0.7l-1.3,0zM109.9,53.3l0.2,-1m0.2,0l-0.1,-0.8l-0.4,0.7zM109.9,58.6l-0.9,-0.8m0.2,-0.2l-0.8,-0.3l0.5,0.7zM109.9,63.8l-1.3,0.7m-0.1,-0.2l-0.7,0.7l0.9,-0.2zM109.9,69.1l1.2,0.4m-0.1,0.2l0.8,0l-0.7,-0.5zM122.1,0.7l-0.7,-2.7m0.5,-0.1l-0.9,-1.5l-0.1,1.8zM122.1,5.9l-0.5,-1.2m0.2,-0.1l-0.5,-0.6l0.1,0.8zM122.1,11.2l0.5,-1.5m0.3,0.1l0,-1l-0.6,0.9zM122.1,16.5l3.3,-2.5m0.3,0.4l1.1,-1.5l-1.8,0.6zM122.1,21.7l-0.2,0.8m-0.2,-0.1l0,0.8l0.5,-0.7zM122.1,27l-1.7,0.7m-0.1,-0.3l-0.9,0.7l1.2,-0.1zM122.1,32.3l-1.8,-1.5m0.3,-0.3l-1.4,-0.6l0.8,1.3zM122.1,37.5l0.3,-0.7m0.2,0.1l0.1,-0.8l-0.5,0.7zM122.1,48.1l0.3,-1m0.2,0.1l0,-0.8l-0.5,0.7zM122.1,53.3l-0.7,-0.4m0.1,-0.2l-0.8,-0.2l0.6,0.6zM122.1,58.6l-1,-0.9m0.2,-0.2l-0.8,-0.4l0.4,0.8zM122.1,63.8l-0.4,0.7m-0.2,-0.1l-0.2,0.8l0.6,-0.6zM122.1,69.1l3.3,-0.5m0.1,0.5l1.7,-0.8l-1.9,-0.3zM134.4,0.7l1.6,-3.8m0.5,0.2l0.2,-1.9l-1.2,1.4zM134.4,5.9l0.8,-0.5m0.1,0.2l0.5,-0.6l-0.8,0.2zM134.4,11.2l1.2,-1.1m0.2,0.2l0.5,-0.9l-0.9,0.5zM134.4,16.5l2.3,2m-0.4,0.4l1.7,0.8l-1,-1.6zM134.4,21.7l-0.2,2.1m-0.4,0l0.2,1.4l0.5,-1.3zM134.4,27l-0.6,-0.4m0.1,-0.2l-0.8,-0.3l0.5,0.7zM134.4,32.3l2.1,-2.5m0.4,0.3l0.7,-1.7l-1.6,1.1zM134.4,37.5l0.3,-4.2m0.5,0l-0.4,-1.8l-0.7,1.8zM134.4,58.6l-2,-0.3m0.1,-0.4l-1.3,0.2l1.2,0.5zM134.4,63.8l-0.7,0m0,-0.2l-0.8,0.2l0.8,0.2zM134.4,69.1l0.8,0.2m-0.1,0.2l0.8,0l-0.7,-0.5zM134.4,74.4l0.8,-0.6m0.1,0.2l0.5,-0.7l-0.8,0.3zM134.4,79.6l0.7,0.5m-0.1,0.2l0.8,0.2l-0.5,-0.6zM146.6,0.7l1.5,0.2m0,0.3l0.9,-0.1l-0.9,-0.4zM146.6,5.9l3.7,-0.5m0.1,0.5l1.7,-0.8l-1.9,-0.3zM146.6,11.2l0.5,1.7m-0.3,0.1l0.7,1l0,-1.2zM146.6,16.5l0.7,3.6m-0.5,0.1l0.9,1.7l0.2,-1.9zM146.6,21.7l-2,1.3m-0.2,-0.4l-1,1.2l1.5,-0.4zM146.6,27l-0.8,-0.7m0.2,-0.2l-0.8,-0.4l0.4,0.7zM146.6,32.3l-0.3,-0.7m0.2,-0.1l-0.5,-0.7l0.1,0.8zM146.6,48.1l0.7,0.7m-0.2,0.2l0.7,0.4l-0.4,-0.7zM146.6,53.3l1.2,-0.1m0,0.2l0.8,-0.3l-0.8,-0.2zM146.6,58.6l3,-2.3m0.3,0.4l1.1,-1.5l-1.8,0.7zM146.6,63.8l-1.8,-2.9m0.5,-0.3l-1.4,-1.3l0.5,1.8zM146.6,69.1l-2.1,0.3m-0.1,-0.4l-1.2,0.6l1.3,0.2zM146.6,74.4l1.2,0.8m-0.1,0.2l0.9,0.2l-0.6,-0.7zM146.6,79.6l2.6,2.7m-0.4,0.4l1.6,0.9l-0.9,-1.7zM158.8,0.7l-0.3,1.4m-0.3,-0.1l0.1,0.9l0.4,-0.8zM158.8,48.1l-1.2,1.6m-0.3,-0.2l-0.4,1.2l1,-0.8zM158.8,53.3l-0.1,1.8m-0.3,0l0.2,1.1l0.4,-1.1zM158.8,58.6l0.9,-1.2m0.2,0.2l0.3,-0.9l-0.8,0.6zM158.8,63.8l-1.2,-3.1m0.5,-0.2l-1.2,-1.5l0.2,1.9zM158.8,69.1l-1.4,-3.5m0.5,-0.2l-1.1,-1.5l0.1,1.9zM158.8,74.4l-1,-0.3m0.1,-0.2l-0.8,0l0.7,0.5zM158.8,79.6l-2.4,1.4m-0.2,-0.4l-1.2,1.3l1.7,-0.4zM171,0.7l-0.7,-1m0.2,-0.1l-0.6,-0.5l0.2,0.8zM171,5.9l-3.3,1.1m-0.2,-0.5l-1.5,1.1l1.9,0zM171,32.3l0.1,1.3m-0.2,0l0.3,0.8l0.2,-0.8zM171,37.5l-1.4,1m-0.2,-0.3l-0.7,0.9l1,-0.4zM171,42.8l-1.8,1m-0.2,-0.3l-0.9,1l1.3,-0.3zM171,48.1l-0.7,0.8m-0.2,-0.2l-0.4,0.7l0.7,-0.4zM171,53.3l-2.6,-0.4m0.1,-0.5l-1.7,0.2l1.5,0.7zM171,58.6l1.6,0.4m-0.1,0.3l1.1,-0.1l-0.9,-0.5zM171,63.8l1.2,1m-0.2,0.2l0.9,0.4l-0.6,-0.8zM171,69.1l0.9,-0.7m0.2,0.2l0.5,-0.7l-0.8,0.3zM171,74.4l-0.4,-0.8m0.2,-0.1l-0.5,-0.6l0.1,0.8zM171,79.6l-1.5,1.2m-0.2,-0.3l-0.7,1l1.1,-0.5zM183.2,0.7l-0.1,-0.7m0.2,0l-0.3,-0.8l-0.2,0.8zM183.2,5.9l1.2,-3.9m0.5,0.2l0,-1.9l-1,1.6zM183.2,11.2l0,-0.7m0.2,0l-0.3,-0.8l-0.2,0.8zM183.2,16.5l1.1,0.3m-0.1,0.2l0.8,0l-0.7,-0.4zM183.2,21.7l3.7,-0.2m0,0.5l1.8,-0.6l-1.8,-0.5zM183.2,58.6l-0.8,0.2m-0.1,-0.2l-0.7,0.4l0.8,0zM183.2,63.8l0,0.9m-0.2,0l0.3,0.8l0.2,-0.8zM183.2,69.1l0.4,-0.7m0.2,0.1l0.2,-0.8l-0.6,0.6zM183.2,74.4l2.5,-2.4m0.4,0.4l0.9,-1.6l-1.7,0.9zM183.2,79.6l1,-1.7m0.3,0.2l0.3,-1.2l-0.9,0.8zM195.4,0.7l0.8,-2.2m0.4,0.2l0.1,-1.5l-0.9,1.2zM195.4,5.9l0.5,-0.5m0.2,0.2l0.4,-0.7l-0.8,0.4zM195.4,11.2l0.3,-0.6m0.2,0.1l0.2,-0.8l-0.6,0.6zM195.4,16.5l2.6,0.4m-0.1,0.5l1.7,-0.2l-1.5,-0.7zM195.4,21.7l0.2,0.7m-0.2,0.1l0.5,0.7l0,-0.8zM195.4,58.6l-3,-2.5m0.4,-0.4l-1.7,-0.8l1,1.6zM195.4,63.8l0.5,1.8m-0.3,0.1l0.6,1l0,-1.2zM195.4,69.1l0.6,1m-0.2,0.1l0.6,0.6l-0.2,-0.8zM195.4,74.4l1,-3.1m0.5,0.2l0.1,-1.9l-1.1,1.5zM195.4,79.6l0.8,-1m0.2,0.1l0.3,-0.8l-0.7,0.5zM207.6,0.7l1.8,-1m0.2,0.3l0.9,-0.9l-1.3,0.3zM207.6,5.9l-0.4,-1.7m0.3,-0.1l-0.6,-1l0,1.1zM207.6,11.2l0.8,-1m0.2,0.2l0.3,-0.8l-0.7,0.5zM207.6,16.5l0.9,-0.4m0.1,0.2l0.6,-0.6l-0.8,0.1zM207.6,21.7l-1,1.4m-0.3,-0.2l-0.4,1l0.9,-0.7zM207.6,27l-3.7,-0.9m0.1,-0.5l-1.9,0.1l1.6,0.9zM207.6,32.3l-2.3,-0.7m0.1,-0.4l-1.5,0l1.3,0.9zM207.6,37.5l2,-2.8m0.4,0.3l0.6,-1.8l-1.5,1.2zM207.6,42.8l-1.9,-3m0.5,-0.3l-1.4,-1.3l0.5,1.8zM207.6,48.1l-0.5,-1.3m0.2,-0.1l-0.5,-0.7l0.1,0.9zM207.6,69.1l0.7,0.3m-0.1,0.2l0.8,0.1l-0.7,-0.5zM207.6,74.4l2.9,0.6m-0.1,0.5l1.9,-0.2l-1.7,-0.9zM207.6,79.6l-0.7,-1.2m0.2,-0.1l-0.6,-0.6l0.2,0.8zM219.9,0.7l0.2,-1.7m0.3,0l-0.2,-1.1l-0.4,1zM219.9,5.9l0.4,-2.8m0.5,0.1l-0.3,-1.8l-0.8,1.7zM219.9,11.2l1.1,-0.6m0.1,0.2l0.6,-0.6l-0.8,0.2zM219.9,16.5l0.8,-2.6m0.5,0.1l0,-1.7l-0.9,1.4zM219.9,21.7l3.4,-1.1m0.2,0.5l1.5,-1.1l-1.9,0zM219.9,27l1.2,2.6m-0.5,0.2l1.2,1.4l-0.2,-1.8zM219.9,32.3l-1.7,-2.3m0.4,-0.3l-1.5,-1.1l0.6,1.7zM219.9,37.5l-0.4,-1.9m0.4,-0.1l-0.6,-1.1l-0.1,1.3zM219.9,42.8l-0.5,-0.5m0.2,-0.2l-0.7,-0.4l0.4,0.7zM219.9,48.1l0.3,-1.3m0.2,0.1l-0.1,-0.8l-0.4,0.7zM219.9,69.1l0.4,-0.6m0.2,0.1l0.3,-0.8l-0.7,0.5zM219.9,74.4l-0.7,-2.8m0.5,-0.1l-0.9,-1.6l-0.1,1.8zM219.9,79.6l-0.1,-1.5m0.3,0l-0.3,-0.9l-0.2,1zM232.1,0.7l-0.8,-1.3m0.2,-0.1l-0.7,-0.7l0.3,1zM232.1,21.7l1.2,-0.2m0,0.2l0.7,-0.4l-0.8,-0.1zM232.1,27l-0.2,0.8m-0.2,0l0.1,0.8l0.4,-0.7zM232.1,32.3l0,1.3m-0.2,0l0.3,0.8l0.2,-0.8zM232.1,37.5l-1.5,0.3m-0.1,-0.3l-0.9,0.5l1,0.1zM232.1,42.8l-3.1,-2.6m0.3,-0.4l-1.7,-0.7l1,1.6zM232.1,48.1l-2.6,-1.9m0.3,-0.4l-1.8,-0.6l1.1,1.5zM232.1,53.3l-2.9,-2.1m0.3,-0.4l-1.8,-0.6l1.1,1.5zM232.1,58.6l1.2,1.2m-0.2,0.2l1,0.5l-0.5,-1zM232.1,63.8l0.5,0.7m-0.2,0.2l0.7,0.5l-0.3,-0.8zM232.1,69.1l-0.4,-0.9m0.2,-0.1l-0.5,-0.7l0.1,0.8zM232.1,74.4l-2.2,-0.7m0.1,-0.4l-1.5,-0.1l1.2,0.9zM232.1,79.6l-1.1,-2.7m0.5,-0.2l-1.2,-1.4l0.2,1.8zM244.3,0.7l-1.9,1.2m-0.2,-0.3l-0.9,1.1l1.4,-0.4zM244.3,5.9l0.3,1.3m-0.2,0.1l0.4,0.7l0,-0.8zM244.3,11.2l-0.9,-0.3m0.1,-0.2l-0.8,-0.1l0.7,0.5zM244.3,16.5l-1.6,0.3m-0.1,-0.3l-0.9,0.5l1.1,0.1zM244.3,42.8l-1.1,0.4m-0.1,-0.2l-0.7,0.5l0.8,-0.1zM244.3,48.1l-0.4,1.8m-0.3,-0.1l0.1,1.2l0.6,-1zM244.3,53.3l-0.6,1.1m-0.2,-0.1l-0.2,0.8l0.6,-0.6zM244.3,58.6l1.4,-0.4m0.1,0.3l0.8,-0.5l-1,0zM244.3,63.8l3.2,0.2m0,0.5l1.8,-0.4l-1.8,-0.7zM244.3,69.1l0.6,-1.5m0.3,0.1l0.1,-1l-0.6,0.8zM244.3,74.4l-1.1,-1.4m0.3,-0.2l-0.9,-0.6l0.4,1zM244.3,79.6l-0.9,1.9m-0.3,-0.2l-0.2,1.3l0.9,-1zM256.5,0.7l1.6,0.8m-0.1,0.3l1.2,0.2l-0.9,-0.8zM256.5,5.9l1.5,0.1m0,0.3l0.9,-0.2l-0.9,-0.3zM256.5,11.2l-2.5,3.4m-0.4,-0.3l-0.6,1.8l1.5,-1.1zM256.5,16.5l0.4,1.3m-0.2,0.1l0.5,0.7l0,-0.9zM256.5,42.8l1.7,0.3m-0.1,0.3l1.1,-0.1l-1,-0.5zM256.5,48.1l2.1,0.9m-0.2,0.4l1.4,0.2l-1.1,-0.9zM256.5,53.3l0.5,1m-0.2,0.1l0.5,0.6l-0.1,-0.8zM256.5,58.6l0.4,-2.5m0.5,0.1l-0.2,-1.6l-0.7,1.5zM256.5,63.8l0.2,-1.6m0.3,0l-0.1,-1l-0.4,0.9zM256.5,69.1l-1.7,3.2m-0.5,-0.3l-0.4,1.8l1.3,-1.3zM256.5,74.4l-0.1,0.7m-0.2,0l0.2,0.8l0.3,-0.8zM256.5,79.6l-1.5,3.7m-0.5,-0.2l-0.2,1.9l1.2,-1.5zM268.7,0.7l2.3,-2.7m0.4,0.4l0.8,-1.7l-1.6,1zM268.7,5.9l2.7,-1.8m0.3,0.4l1.2,-1.5l-1.8,0.6zM268.7,11.2l1,-0.8m0.2,0.2l0.5,-0.7l-0.8,0.3zM268.7,16.5l-0.8,2.4m-0.4,-0.1l-0.1,1.6l0.9,-1.3zM268.7,58.6l-0.8,-0.8m0.2,-0.2l-0.7,-0.4l0.4,0.7zM268.7,63.8l-3.1,1.2m-0.2,-0.5l-1.5,1.2l1.9,-0.1zM268.7,69.1l-0.6,3.2m-0.5,-0.1l0.2,1.9l0.9,-1.7zM268.7,74.4l1.6,-0.2m0,0.3l0.9,-0.4l-1,-0.2zM268.7,79.6l1.2,0.6m-0.1,0.2l0.8,0.2l-0.6,-0.6zM280.9,0.7l2.3,-2m0.4,0.4l1,-1.6l-1.7,0.8zM280.9,5.9l1.4,-0.8m0.2,0.3l0.7,-0.8l-1,0.2zM280.9,11.2l0.3,-1.4m0.3,0.1l-0.1,-0.9l-0.5,0.8zM280.9,16.5l1.1,1.7m-0.3,0.2l1,0.8l-0.4,-1.2zM280.9,58.6l-0.6,-0.5m0.2,-0.2l-0.8,-0.3l0.4,0.7zM280.9,63.8l-2.6,2.3m-0.4,-0.4l-1,1.6l1.7,-0.8zM280.9,69.1l0.6,1.2m-0.2,0.1l0.6,0.6l-0.1,-0.8zM280.9,74.4l1.8,0m0,0.3l1.1,-0.4l-1.1,-0.3zM280.9,79.6l-0.3,-1.4m0.3,-0.1l-0.4,-0.8l-0.1,0.9z" stroke="#606060" stroke-width="0.8" fill="#606060"/>
<path d="M0,11.2l10.5,0.3m0,1.3l5,-1.2l-5,-1.4zM0,16.5l5.8,-1.7m0.2,0.7l2.6,-1.6l-3.1,0.1zM0,21.7l9.6,-2.2m0.3,1.2l4.5,-2.3l-5,-0.1zM0,27l7.2,0.7m-0.1,0.9l3.6,-0.6l-3.5,-1.2zM0,74.4l-2.9,-2.5m0.4,-0.4l-1.8,-0.8l1,1.7zM0,79.6l-2.7,-4.4m0.6,-0.3l-1.9,-1.8l0.8,2.5zM12.2,11.2l8.1,-0.2m0,1l4,-1.1l-4,-1zM12.2,16.5l8.3,-2.8m0.4,1.1l3.7,-2.4l-4.5,0.3zM12.2,21.7l7.2,-2.5m0.3,0.9l3.2,-2.1l-3.9,0.3zM12.2,27l8.2,1m-0.1,1l4.1,-0.6l-3.9,-1.5zM24.4,11.2l8.2,-2.5m0.3,1l3.7,-2.3l-4.4,0.2zM24.4,16.5l7.2,-0.8m0.1,0.9l3.4,-1.3l-3.6,-0.5zM24.4,21.7l8.7,2.2m-0.3,1.1l4.5,0l-4,-2.2zM24.4,27l8.8,0.5m-0.1,1.1l4.4,-0.9l-4.3,-1.4zM36.6,11.2l7.3,1.8m-0.2,0.9l3.8,0l-3.4,-1.8zM36.6,16.5l8.9,-0.1m0,1.1l4.4,-1.2l-4.4,-1.1zM36.6,21.7l6.7,-1.6m0.2,0.9l3.1,-1.7l-3.5,0zM36.6,27l8.6,-1.6m0.2,1.1l4,-1.9l-4.4,-0.3zM48.9,11.2l10.3,-1.6m0.2,1.3l4.7,-2.1l-5.1,-0.5zM48.9,16.5l9.6,0.7m-0.1,1.2l4.8,-0.9l-4.6,-1.6zM48.9,21.7l9.5,-2.8m0.4,1.2l4.3,-2.6l-5,0.1zM48.9,27l8.4,0.3m0,1.1l4.2,-0.9l-4.1,-1.2zM48.9,63.8l3.5,4.7m-0.6,0.4l2.3,1.9l-1.1,-2.8zM48.9,69.1l1.4,6.8m-0.9,0.2l1.6,3.2l0.2,-3.5zM48.9,74.4l5.1,5.6m-0.7,0.7l3.2,2.1l-1.8,-3.4zM48.9,79.6l1.9,5.9m-0.8,0.2l1.7,2.6l-0.2,-3.1zM61.1,11.2l8.2,1.1m-0.1,1l4.2,-0.5l-3.9,-1.6zM61.1,16.5l7.7,-2.8m0.4,1l3.4,-2.3l-4.1,0.4zM61.1,21.7l8.7,1.8m-0.2,1.1l4.5,-0.2l-4.1,-2zM61.1,27l6.1,1.3m-0.2,0.8l3.2,-0.1l-2.8,-1.4zM61.1,48.1l4.7,-0.8m0.1,0.6l2.2,-1l-2.4,-0.2zM61.1,53.3l3.1,-0.3m0.1,0.6l1.5,-0.7l-1.6,-0.5zM61.1,63.8l3.6,6.2m-0.8,0.5l2.5,2.6l-1,-3.5zM61.1,69.1l2.9,3.6m-0.5,0.4l1.9,1.4l-1,-2.1zM61.1,74.4l7.3,-3.9m0.5,0.9l3.1,-2.9l-4.1,1zM61.1,79.6l10.6,0.4m-0.1,1.3l5,-1.1l-4.9,-1.5zM73.3,11.2l6.9,0.4m-0.1,0.9l3.5,-0.7l-3.4,-1.1zM73.3,16.5l10.2,-1.4m0.2,1.3l4.8,-2l-5.1,-0.6zM73.3,21.7l8.7,-3.7m0.5,1.1l3.8,-2.9l-4.8,0.7zM73.3,27l6,-1.8m0.2,0.8l2.7,-1.7l-3.2,0.1zM73.3,74.4l9.5,1.3m-0.2,1.2l4.8,-0.6l-4.5,-1.8zM73.3,79.6l6.8,-0.2m0,0.9l3.3,-1l-3.4,-0.8zM85.5,11.2l1.8,-3.5m0.5,0.3l0.3,-2l-1.4,1.4zM85.5,16.5l5.4,-3.4m0.4,0.7l2.2,-2.4l-3.1,1zM85.5,21.7l5.3,-3.7m0.5,0.7l2.1,-2.5l-3.1,1.2zM85.5,27l3.4,-5.7m0.7,0.4l0.9,-3.2l-2.4,2.4zM85.5,74.4l7.6,-3.2m0.4,1l3.3,-2.5l-4.1,0.6zM85.5,79.6l7.8,-3.4m0.4,1l3.4,-2.7l-4.3,0.7zM97.7,74.4l7.5,0.9m-0.1,1l3.8,-0.5l-3.6,-1.4zM97.7,79.6l6.9,-2.6m0.3,0.9l3.1,-2.1l-3.7,0.4zM109.9,42.8l6.5,-1.7m0.2,0.8l3,-1.7l-3.4,0zM109.9,74.4l6.8,-1m0.1,0.9l3.2,-1.4l-3.5,-0.4zM109.9,79.6l6.7,-1.1m0.1,0.9l3.2,-1.4l-3.5,-0.3zM122.1,42.8l5.3,-2.2m0.3,0.7l2.3,-1.8l-2.9,0.4zM122.1,74.4l6.5,0.4m0,0.8l3.3,-0.7l-3.2,-1zM122.1,79.6l7.6,-1.3m0.2,1l3.6,-1.6l-3.9,-0.3zM134.4,42.8l-1.4,4.6m-0.6,-0.2l-0.1,2.5l1.3,-2.1zM134.4,48.1l-1.4,4m-0.6,-0.2l-0.1,2.2l1.2,-1.8zM134.4,53.3l-2.8,4.5m-0.6,-0.4l-0.8,2.6l2,-1.9zM146.6,37.5l-5.1,-0.6m0.1,-0.7l-2.6,0.4l2.4,0.9zM146.6,42.8l-5.3,-0.5m0.1,-0.7l-2.7,0.4l2.5,0.9zM158.8,5.9l-3.9,14.2m-1.3,-0.3l-0.1,5.2l2.6,-4.5zM158.8,11.2l-2.8,13.8m-1.3,-0.3l0.3,5.2l2.3,-4.6zM158.8,16.5l-2.4,14.7m-1.3,-0.2l0.5,5.1l2.1,-4.7zM158.8,21.7l-3.9,15.5m-1.3,-0.3l0,5.2l2.5,-4.5zM158.8,27l-2.9,14.4m-1.3,-0.3l0.3,5.2l2.3,-4.6zM158.8,32.3l-3.7,15.3m-1.3,-0.3l0.1,5.2l2.4,-4.5zM158.8,37.5l-3.7,-1m0.2,-0.6l-2,0.1l1.7,1.1zM158.8,42.8l-4.7,0.2m0,-0.6l-2.3,0.7l2.3,0.5zM171,11.2l-1.6,6.6m-0.8,-0.2l0.1,3.5l1.6,-3.1zM171,16.5l-1.4,7m-0.9,-0.2l0.2,3.6l1.6,-3.2zM171,21.7l-1.5,6.9m-0.9,-0.2l0.1,3.6l1.6,-3.2zM171,27l-1.6,6.2m-0.8,-0.2l0,3.3l1.6,-2.9zM183.2,27l6.5,0.2m0,0.8l3.2,-0.7l-3.2,-1zM183.2,32.3l4,0.7m-0.1,0.6l2.1,-0.2l-1.9,-1zM183.2,37.5l6.5,2.2m-0.3,0.8l3.5,0.2l-2.9,-1.9zM183.2,42.8l3.8,1.9m-0.3,0.5l2.1,0.4l-1.6,-1.5zM183.2,48.1l4.5,-0.8m0.1,0.6l2.1,-1l-2.3,-0.2zM183.2,53.3l6.4,1.1m-0.1,0.8l3.3,-0.3l-3,-1.3zM195.4,27l4.7,2.4m-0.3,0.6l2.6,0.6l-2,-1.8zM195.4,32.3l6,2.2m-0.3,0.8l3.2,0.3l-2.7,-1.9zM195.4,37.5l5.5,1.9m-0.2,0.7l3,0.2l-2.5,-1.6zM195.4,42.8l3.8,1m-0.1,0.6l2,-0.1l-1.7,-1.1zM195.4,48.1l6.5,1m-0.1,0.8l3.3,-0.4l-3.1,-1.3zM195.4,53.3l6.6,-0.3m0,0.8l3.2,-1l-3.3,-0.7zM207.6,53.3l5,5.3m-0.7,0.6l3.2,2l-1.8,-3.3zM207.6,58.6l3.2,4m-0.5,0.4l2.1,1.6l-1.1,-2.4zM207.6,63.8l1.2,5.4m-0.7,0.2l1.3,2.5l0.1,-2.8zM219.9,53.3l2.9,6.3m-0.8,0.4l2.2,2.7l-0.6,-3.5zM219.9,58.6l3.4,4.7m-0.6,0.4l2.3,1.9l-1.1,-2.7zM219.9,63.8l3.7,6.3m-0.8,0.5l2.6,2.6l-1,-3.5zM232.1,5.9l-0.7,4.2m-0.6,-0.1l0.3,2.1l0.9,-2zM232.1,11.2l-0.6,6.8m-0.9,-0.1l0.6,3.4l1.2,-3.3zM232.1,16.5l-1.9,6m-0.8,-0.2l-0.1,3.2l1.7,-2.7zM244.3,21.7l-14.6,-2.2m0.2,-1.3l-5.1,0.6l4.8,2zM244.3,27l-20.2,-2.5m0.2,-1.3l-5.1,0.7l4.8,1.9zM244.3,32.3l-18.1,-1.6m0.1,-1.3l-5.1,0.8l4.9,1.7zM244.3,37.5l-17.9,-6.3m0.4,-1.2l-5.1,-0.4l4.3,2.9zM256.5,21.7l-19.5,1.7m-0.1,-1.3l-4.9,1.7l5.1,0.9zM256.5,27l-14.4,4.3m-0.4,-1.2l-4.4,2.7l5.2,-0.2zM256.5,32.3l-14.3,-4.8m0.4,-1.2l-5.2,-0.4l4.3,2.8zM256.5,37.5l-17.9,3.1m-0.2,-1.3l-4.7,2.1l5.1,0.4zM268.7,21.7l-19.1,-1.3m0.1,-1.3l-5.1,1l4.9,1.6zM268.7,27l-13.2,-5.4m0.5,-1.2l-5.1,-0.7l4.1,3.1zM268.7,32.3l-10,1m-0.1,-1.3l-4.8,1.8l5.1,0.8zM268.7,37.5l-16.7,2.7m-0.2,-1.3l-4.7,2.1l5.1,0.5zM268.7,42.8l-5.3,5m-0.6,-0.7l-2,3.2l3.3,-1.8zM268.7,48.1l-4.7,5.2m-0.7,-0.6l-1.6,3.1l3,-1.9zM268.7,53.3l-7.4,8.1m-1,-0.9l-2.4,4.6l4.3,-2.8zM280.9,21.7l-16.4,-2.7m0.2,-1.3l-5.1,0.5l4.7,2.1zM280.9,27l-13.4,-3.4m0.3,-1.3l-5.2,0l4.5,2.5zM280.9,32.3l-15,-4.9m0.4,-1.2l-5.2,-0.3l4.3,2.8zM280.9,37.5l-13.9,0.2m0,-1.3l-5,1.4l5,1.2zM280.9,42.8l-7.1,8.2m-1,-0.9l-2.3,4.6l4.3,-2.9zM280.9,48.1l-4.4,5.6m-0.7,-0.6l-1.5,3.3l2.9,-2.2zM280.9,53.3l-9.9,7.2m-0.8,-1.1l-3.3,4l4.8,-1.9z" stroke="#000" stroke-width="1" fill="#000"/>
<rect x="241.7" y="0" width="43.3" height="18.6" fill="#fff"/>
</svg>
<rect x="0" y="0" width="285" height="81.3" fill="none" stroke="#555" stroke-width="0.7"/>
<path d="M0,0 v-3 M0,81.3 v3 M40.7,0 v-3 M40.7,81.3 v3 M81.4,0 v-3 M81.4,81.3 v3 M122.1,0 v-3 M122.1,81.3 v3 M162.9,0 v-3 M162.9,81.3 v3 M203.6,0 v-3 M203.6,81.3 v3 M244.3,0 v-3 M244.3,81.3 v3 M285,0 v-3 M285,81.3 v3 M0,0 h-3.2 M285,0 h3.2 M0,20.3 h-3.2 M285,20.3 h3.2 M0,40.6 h-3.2 M285,40.6 h3.2 M0,61 h-3.2 M285,61 h3.2 M0,81.3 h-3.2 M285,81.3 h3.2" stroke="#333" stroke-width="0.7" fill="none"/>
<text x="-1.3" y="104.1" text-anchor="middle" font-size="13.1">90<tspan dy="-6.6" dx="0.4" font-size="10">°</tspan><tspan dy="6.6" dx="0.8">W</tspan></text>
<text x="39.4" y="104.1" text-anchor="middle" font-size="13.1">60<tspan dy="-6.6" dx="0.4" font-size="10">°</tspan><tspan dy="6.6" dx="0.8">W</tspan></text>
<text x="80.1" y="104.1" text-anchor="middle" font-size="13.1">30<tspan dy="-6.6" dx="0.4" font-size="10">°</tspan><tspan dy="6.6" dx="0.8">W</tspan></text>
<text x="123.3" y="104.1" text-anchor="middle" font-size="13.1">0<tspan dy="-6.6" dx="0.4" font-size="10">°</tspan></text>
<text x="161.6" y="104.1" text-anchor="middle" font-size="13.1">30<tspan dy="-6.6" dx="0.4" font-size="10">°</tspan><tspan dy="6.6" dx="0.8">E</tspan></text>
<text x="202.3" y="104.1" text-anchor="middle" font-size="13.1">60<tspan dy="-6.6" dx="0.4" font-size="10">°</tspan><tspan dy="6.6" dx="0.8">E</tspan></text>
<text x="243" y="104.1" text-anchor="middle" font-size="13.1">90<tspan dy="-6.6" dx="0.4" font-size="10">°</tspan><tspan dy="6.6" dx="0.8">E</tspan></text>
<text x="283.7" y="104.1" text-anchor="middle" font-size="13.1">120<tspan dy="-6.6" dx="0.4" font-size="10">°</tspan><tspan dy="6.6" dx="0.8">E</tspan></text>
<text x="-9" y="6.7" text-anchor="end" font-size="13.1">30<tspan dy="-6.6" dx="0.4" font-size="10">°</tspan><tspan dy="6.6" dx="0.8">N</tspan></text>
<text x="-9" y="27" text-anchor="end" font-size="13.1">15<tspan dy="-6.6" dx="0.4" font-size="10">°</tspan><tspan dy="6.6" dx="0.8">N</tspan></text>
<text x="-9" y="45.4" text-anchor="end" font-size="13.1">EQ</text>
<text x="-9" y="67.7" text-anchor="end" font-size="13.1">15<tspan dy="-6.6" dx="0.4" font-size="10">°</tspan><tspan dy="6.6" dx="0.8">S</tspan></text>
<text x="-9" y="88" text-anchor="end" font-size="13.1">30<tspan dy="-6.6" dx="0.4" font-size="10">°</tspan><tspan dy="6.6" dx="0.8">S</tspan></text>
<text x="283.5" y="11.9" text-anchor="end" font-size="13.6" textLength="39.4" lengthAdjust="spacingAndGlyphs">7 mon</text>
<text x="0.3" y="-6" font-size="17.2" font-weight="bold">h</text>
</g>
<rect x="165.1" y="567.5" width="37.5" height="7.3" fill="#053061"/>
<rect x="202.3" y="567.5" width="37.5" height="7.3" fill="#2166ac"/>
<rect x="239.5" y="567.5" width="37.5" height="7.3" fill="#4393c3"/>
<rect x="276.6" y="567.5" width="37.5" height="7.3" fill="#92c5de"/>
<rect x="313.8" y="567.5" width="37.5" height="7.3" fill="#d1e5f0"/>
<rect x="351" y="567.5" width="37.5" height="7.3" fill="#fddbc7"/>
<rect x="388.2" y="567.5" width="37.5" height="7.3" fill="#f4a582"/>
<rect x="425.4" y="567.5" width="37.5" height="7.3" fill="#d6604d"/>
<rect x="462.5" y="567.5" width="37.5" height="7.3" fill="#b2182b"/>
<rect x="499.7" y="567.5" width="37.2" height="7.3" fill="#67001f"/>
<path d="M239.5,567.5 v7.3 M313.8,567.5 v7.3 M388.2,567.5 v7.3 M462.5,567.5 v7.3" stroke="#222" stroke-width="0.7"/>
<text x="165.1" y="591.5" text-anchor="middle" font-size="13.2">-0.5</text>
<text x="239.5" y="591.5" text-anchor="middle" font-size="13.2">-0.3</text>
<text x="313.8" y="591.5" text-anchor="middle" font-size="13.2">-0.1</text>
<text x="388.2" y="591.5" text-anchor="middle" font-size="13.2">0.1</text>
<text x="462.5" y="591.5" text-anchor="middle" font-size="13.2">0.3</text>
<text x="536.9" y="591.5" text-anchor="middle" font-size="13.2">0.5</text>
<text x="349.8" y="607.3" text-anchor="middle" font-size="14.7">SST (<tspan dy="-6.6" dx="0.4" font-size="10">°</tspan><tspan dy="6.6" dx="0.8">C)</tspan></text>
<path d="M71.5,572.8 H92.3" stroke="#000" stroke-width="0.9"/>
<text x="95.2" y="577.6" text-anchor="start" font-size="13.6" textLength="34.6" lengthAdjust="spacingAndGlyphs">1 m/s</text>
</svg></body></html>
